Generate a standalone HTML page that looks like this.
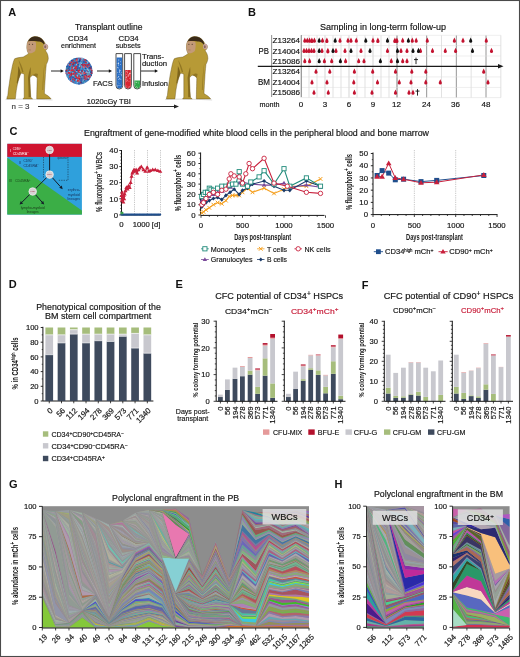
<!DOCTYPE html>
<html><head><meta charset="utf-8"><title>Figure</title>
<style>html,body{margin:0;padding:0;background:#fff;} body{width:520px;height:657px;overflow:hidden;font-family:"Liberation Sans", sans-serif;} svg{display:block;filter:blur(0.3px);}</style>
</head><body>
<svg width="520" height="657" viewBox="0 0 520 657" font-family='"Liberation Sans", sans-serif'><text x="8.3" y="15.61" font-size="11" fill="#111" font-weight="bold" >A</text>
<text x="248" y="16.31" font-size="11" fill="#111" font-weight="bold" >B</text>
<text x="9.5" y="134.81" font-size="11" fill="#111" font-weight="bold" >C</text>
<text x="8.7" y="288.31" font-size="11" fill="#111" font-weight="bold" >D</text>
<text x="175.6" y="287.51" font-size="11" fill="#111" font-weight="bold" >E</text>
<text x="361.8" y="288.81" font-size="11" fill="#111" font-weight="bold" >F</text>
<text x="8.9" y="487.51" font-size="11" fill="#111" font-weight="bold" >G</text>
<text x="334.6" y="487.61" font-size="11" fill="#111" font-weight="bold" >H</text>
<text x="108.7" y="29.72" font-size="9" text-anchor="middle" fill="#161616" stroke="#161616" stroke-width="0.18" textLength="67.5" lengthAdjust="spacingAndGlyphs" >Transplant outline</text>
<text x="78" y="40.77" font-size="8" text-anchor="middle" fill="#161616" stroke="#161616" stroke-width="0.18" textLength="20" lengthAdjust="spacingAndGlyphs" >CD34</text>
<text x="78.5" y="48.27" font-size="8" text-anchor="middle" fill="#161616" stroke="#161616" stroke-width="0.18" textLength="35" lengthAdjust="spacingAndGlyphs" >enrichment</text>
<text x="128.6" y="40.77" font-size="8" text-anchor="middle" fill="#161616" stroke="#161616" stroke-width="0.18" textLength="20" lengthAdjust="spacingAndGlyphs" >CD34</text>
<text x="128.2" y="48.27" font-size="8" text-anchor="middle" fill="#161616" stroke="#161616" stroke-width="0.18" textLength="25" lengthAdjust="spacingAndGlyphs" >subsets</text>
<text x="142" y="58.77" font-size="8" fill="#161616" stroke="#161616" stroke-width="0.18" textLength="22" lengthAdjust="spacingAndGlyphs" >Trans-</text>
<text x="142" y="66.27" font-size="8" fill="#161616" stroke="#161616" stroke-width="0.18" textLength="25" lengthAdjust="spacingAndGlyphs" >duction</text>
<text x="142" y="86.27" font-size="8" fill="#161616" stroke="#161616" stroke-width="0.18" textLength="26" lengthAdjust="spacingAndGlyphs" >Infusion</text>
<text x="93" y="86.13" font-size="7.6" fill="#161616" stroke="#161616" stroke-width="0.18" >FACS</text>
<text x="108.8" y="104.27" font-size="8" text-anchor="middle" fill="#161616" stroke="#161616" stroke-width="0.18" textLength="44" lengthAdjust="spacingAndGlyphs" >1020cGy TBI</text>
<text x="20.5" y="109.10" font-size="7.5" text-anchor="middle" fill="#444" stroke="#444" stroke-width="0.18" textLength="18" lengthAdjust="spacingAndGlyphs" >n = 3</text>
<line x1="38" y1="106.5" x2="175" y2="106.5" stroke="#161616" stroke-width="0.9" />
<path d="M179,106.5 L174,104.4 L174,108.6 Z" fill="#222"/>
<line x1="51" y1="71" x2="61.099999999999994" y2="71" stroke="#111" stroke-width="0.9" />
<path d="M63.8,71 L60.599999999999994,69.24 L60.599999999999994,72.76 Z" fill="#111"/>
<line x1="97" y1="71" x2="109.3" y2="71" stroke="#111" stroke-width="0.9" />
<path d="M112,71 L108.8,69.24 L108.8,72.76 Z" fill="#111"/>
<line x1="141" y1="71" x2="155.3" y2="71" stroke="#111" stroke-width="0.9" />
<path d="M158,71 L154.8,69.24 L154.8,72.76 Z" fill="#111"/>
<circle cx="79" cy="71" r="13.5" fill="#4a78b8"/>
<circle cx="79.7" cy="80.5" r="0.85" fill="#e05060"/>
<circle cx="86.7" cy="66.5" r="0.85" fill="#d8283a"/>
<circle cx="80.4" cy="71.6" r="0.85" fill="#7cc0e8"/>
<circle cx="78.6" cy="77.2" r="0.85" fill="#7cc0e8"/>
<circle cx="69.8" cy="68.6" r="0.85" fill="#1e4a9a"/>
<circle cx="75.8" cy="67.2" r="0.85" fill="#3a86c8"/>
<circle cx="85.3" cy="64.1" r="0.85" fill="#d8283a"/>
<circle cx="77.5" cy="68.1" r="0.85" fill="#d8283a"/>
<circle cx="90.0" cy="74.0" r="0.85" fill="#5aa0d8"/>
<circle cx="68.2" cy="72.9" r="0.85" fill="#1e4a9a"/>
<circle cx="76.2" cy="58.9" r="0.85" fill="#1e4a9a"/>
<circle cx="77.7" cy="61.3" r="0.85" fill="#3a86c8"/>
<circle cx="81.9" cy="68.2" r="0.85" fill="#3a86c8"/>
<circle cx="72.5" cy="71.2" r="0.85" fill="#1e4a9a"/>
<circle cx="81.2" cy="59.3" r="0.85" fill="#1e4a9a"/>
<circle cx="71.0" cy="70.6" r="0.85" fill="#e05060"/>
<circle cx="71.0" cy="69.2" r="0.85" fill="#c02030"/>
<circle cx="87.8" cy="65.0" r="0.85" fill="#d8283a"/>
<circle cx="87.0" cy="60.9" r="0.85" fill="#3a86c8"/>
<circle cx="76.7" cy="64.0" r="0.85" fill="#3a9ab0"/>
<circle cx="87.0" cy="65.5" r="0.85" fill="#c02030"/>
<circle cx="70.4" cy="61.5" r="0.85" fill="#5aa0d8"/>
<circle cx="78.3" cy="74.2" r="0.85" fill="#7cc0e8"/>
<circle cx="88.8" cy="77.1" r="0.85" fill="#1e4a9a"/>
<circle cx="80.5" cy="69.9" r="0.85" fill="#1e4a9a"/>
<circle cx="80.4" cy="59.0" r="0.85" fill="#d8283a"/>
<circle cx="70.1" cy="64.1" r="0.85" fill="#1e4a9a"/>
<circle cx="77.5" cy="63.7" r="0.85" fill="#5aa0d8"/>
<circle cx="66.1" cy="70.6" r="0.85" fill="#5aa0d8"/>
<circle cx="83.2" cy="71.2" r="0.85" fill="#3a9ab0"/>
<circle cx="84.6" cy="72.1" r="0.85" fill="#1e4a9a"/>
<circle cx="77.3" cy="77.4" r="0.85" fill="#d8283a"/>
<circle cx="86.5" cy="70.1" r="0.85" fill="#e05060"/>
<circle cx="90.8" cy="67.9" r="0.85" fill="#1e4a9a"/>
<circle cx="70.4" cy="79.4" r="0.85" fill="#1e4a9a"/>
<circle cx="72.8" cy="63.2" r="0.85" fill="#3a9ab0"/>
<circle cx="89.2" cy="78.6" r="0.85" fill="#3a9ab0"/>
<circle cx="77.6" cy="81.2" r="0.85" fill="#c02030"/>
<circle cx="86.9" cy="67.7" r="0.85" fill="#5aa0d8"/>
<circle cx="69.5" cy="69.7" r="0.85" fill="#d8283a"/>
<circle cx="82.1" cy="58.6" r="0.85" fill="#e05060"/>
<circle cx="89.0" cy="72.3" r="0.85" fill="#3a86c8"/>
<circle cx="88.5" cy="74.8" r="0.85" fill="#7cc0e8"/>
<circle cx="71.6" cy="80.9" r="0.85" fill="#d8283a"/>
<circle cx="76.0" cy="60.3" r="0.85" fill="#d8283a"/>
<circle cx="68.3" cy="64.3" r="0.85" fill="#d8283a"/>
<circle cx="85.3" cy="69.5" r="0.85" fill="#7cc0e8"/>
<circle cx="76.0" cy="80.5" r="0.85" fill="#3a86c8"/>
<circle cx="74.3" cy="76.4" r="0.85" fill="#e05060"/>
<circle cx="82.7" cy="65.5" r="0.85" fill="#1e4a9a"/>
<circle cx="88.2" cy="78.1" r="0.85" fill="#d8283a"/>
<circle cx="77.1" cy="66.7" r="0.85" fill="#3a9ab0"/>
<circle cx="81.0" cy="82.4" r="0.85" fill="#c02030"/>
<circle cx="74.0" cy="80.4" r="0.85" fill="#2a5cb0"/>
<circle cx="84.9" cy="75.4" r="0.85" fill="#e05060"/>
<circle cx="76.2" cy="65.6" r="0.85" fill="#3a86c8"/>
<circle cx="88.7" cy="76.4" r="0.85" fill="#c02030"/>
<circle cx="85.5" cy="65.3" r="0.85" fill="#c02030"/>
<circle cx="79.5" cy="68.7" r="0.85" fill="#c02030"/>
<circle cx="74.3" cy="81.8" r="0.85" fill="#d8283a"/>
<circle cx="81.8" cy="77.2" r="0.85" fill="#2a5cb0"/>
<circle cx="81.6" cy="63.9" r="0.85" fill="#3a86c8"/>
<circle cx="70.8" cy="75.4" r="0.85" fill="#5aa0d8"/>
<circle cx="69.0" cy="73.3" r="0.85" fill="#5aa0d8"/>
<circle cx="71.8" cy="75.0" r="0.85" fill="#1e4a9a"/>
<circle cx="79.5" cy="71.7" r="0.85" fill="#d8283a"/>
<circle cx="87.5" cy="70.3" r="0.85" fill="#c02030"/>
<circle cx="87.5" cy="72.8" r="0.85" fill="#3a9ab0"/>
<circle cx="88.3" cy="68.8" r="0.85" fill="#c02030"/>
<circle cx="86.7" cy="61.9" r="0.85" fill="#5aa0d8"/>
<circle cx="83.7" cy="75.4" r="0.85" fill="#d8283a"/>
<circle cx="87.8" cy="64.9" r="0.85" fill="#c02030"/>
<circle cx="88.7" cy="63.6" r="0.85" fill="#d8283a"/>
<circle cx="87.5" cy="73.7" r="0.85" fill="#2a5cb0"/>
<circle cx="82.3" cy="77.2" r="0.85" fill="#d8283a"/>
<circle cx="70.8" cy="69.7" r="0.85" fill="#d8283a"/>
<circle cx="82.5" cy="74.0" r="0.85" fill="#3a9ab0"/>
<circle cx="67.7" cy="72.6" r="0.85" fill="#e05060"/>
<circle cx="79.8" cy="75.4" r="0.85" fill="#2a5cb0"/>
<circle cx="84.4" cy="81.1" r="0.85" fill="#3a86c8"/>
<circle cx="79.5" cy="70.0" r="0.85" fill="#d8283a"/>
<circle cx="80.9" cy="68.8" r="0.85" fill="#5aa0d8"/>
<circle cx="79.1" cy="81.1" r="0.85" fill="#3a9ab0"/>
<circle cx="71.1" cy="75.1" r="0.85" fill="#d8283a"/>
<circle cx="86.1" cy="62.1" r="0.85" fill="#d8283a"/>
<circle cx="81.4" cy="73.4" r="0.85" fill="#d8283a"/>
<circle cx="81.3" cy="68.0" r="0.85" fill="#3a9ab0"/>
<circle cx="73.9" cy="71.3" r="0.85" fill="#2a5cb0"/>
<circle cx="72.8" cy="79.3" r="0.85" fill="#d8283a"/>
<circle cx="76.8" cy="77.3" r="0.85" fill="#e05060"/>
<circle cx="74.8" cy="73.0" r="0.85" fill="#d8283a"/>
<circle cx="77.3" cy="63.2" r="0.85" fill="#2a5cb0"/>
<circle cx="76.6" cy="69.9" r="0.85" fill="#7cc0e8"/>
<circle cx="70.0" cy="64.0" r="0.85" fill="#1e4a9a"/>
<circle cx="77.2" cy="69.0" r="0.85" fill="#1e4a9a"/>
<circle cx="88.7" cy="74.3" r="0.85" fill="#e05060"/>
<circle cx="69.6" cy="76.1" r="0.85" fill="#7cc0e8"/>
<circle cx="85.0" cy="71.7" r="0.85" fill="#5aa0d8"/>
<circle cx="77.8" cy="67.8" r="0.85" fill="#1e4a9a"/>
<circle cx="79.7" cy="75.6" r="0.85" fill="#d8283a"/>
<circle cx="86.3" cy="67.9" r="0.85" fill="#3a9ab0"/>
<circle cx="80.7" cy="64.6" r="0.85" fill="#7cc0e8"/>
<circle cx="74.4" cy="59.4" r="0.85" fill="#3a9ab0"/>
<circle cx="81.8" cy="60.8" r="0.85" fill="#e05060"/>
<circle cx="75.2" cy="69.4" r="0.85" fill="#d8283a"/>
<circle cx="77.1" cy="62.3" r="0.85" fill="#c02030"/>
<circle cx="79.4" cy="68.3" r="0.85" fill="#2a5cb0"/>
<circle cx="69.4" cy="66.9" r="0.85" fill="#1e4a9a"/>
<circle cx="79.9" cy="72.8" r="0.85" fill="#2a5cb0"/>
<circle cx="83.3" cy="71.7" r="0.85" fill="#7cc0e8"/>
<circle cx="85.5" cy="60.2" r="0.85" fill="#d8283a"/>
<circle cx="77.8" cy="74.7" r="0.85" fill="#d8283a"/>
<circle cx="68.1" cy="70.2" r="0.85" fill="#2a5cb0"/>
<circle cx="75.2" cy="69.6" r="0.85" fill="#3a9ab0"/>
<circle cx="85.8" cy="73.8" r="0.85" fill="#d8283a"/>
<circle cx="80.5" cy="74.3" r="0.85" fill="#3a86c8"/>
<circle cx="73.7" cy="64.1" r="0.85" fill="#1e4a9a"/>
<circle cx="78.8" cy="81.0" r="0.85" fill="#e05060"/>
<circle cx="67.1" cy="66.6" r="0.85" fill="#1e4a9a"/>
<circle cx="66.3" cy="71.0" r="0.85" fill="#1e4a9a"/>
<circle cx="86.0" cy="60.4" r="0.85" fill="#1e4a9a"/>
<circle cx="74.9" cy="60.5" r="0.85" fill="#3a9ab0"/>
<circle cx="77.0" cy="66.3" r="0.85" fill="#1e4a9a"/>
<circle cx="83.0" cy="68.0" r="0.85" fill="#2a5cb0"/>
<circle cx="70.0" cy="71.1" r="0.85" fill="#3a9ab0"/>
<circle cx="88.4" cy="68.0" r="0.85" fill="#3a86c8"/>
<circle cx="86.3" cy="79.5" r="0.85" fill="#3a86c8"/>
<circle cx="72.8" cy="67.3" r="0.85" fill="#c02030"/>
<circle cx="84.6" cy="63.4" r="0.85" fill="#5aa0d8"/>
<circle cx="73.3" cy="60.5" r="0.85" fill="#d8283a"/>
<circle cx="85.0" cy="63.2" r="0.85" fill="#5aa0d8"/>
<circle cx="84.5" cy="66.4" r="0.85" fill="#5aa0d8"/>
<circle cx="71.1" cy="72.0" r="0.85" fill="#3a86c8"/>
<circle cx="73.3" cy="68.3" r="0.85" fill="#7cc0e8"/>
<circle cx="79.7" cy="66.2" r="0.85" fill="#7cc0e8"/>
<circle cx="77.2" cy="65.4" r="0.85" fill="#d8283a"/>
<circle cx="84.9" cy="60.9" r="0.85" fill="#3a9ab0"/>
<circle cx="91.7" cy="73.2" r="0.85" fill="#2a5cb0"/>
<circle cx="84.1" cy="64.6" r="0.85" fill="#d8283a"/>
<circle cx="72.9" cy="72.3" r="0.85" fill="#c02030"/>
<circle cx="72.2" cy="61.9" r="0.85" fill="#2a5cb0"/>
<circle cx="90.5" cy="67.9" r="0.85" fill="#c02030"/>
<circle cx="87.8" cy="63.8" r="0.85" fill="#3a86c8"/>
<circle cx="83.2" cy="81.0" r="0.85" fill="#d8283a"/>
<circle cx="84.3" cy="67.2" r="0.85" fill="#d8283a"/>
<circle cx="75.7" cy="78.7" r="0.85" fill="#2a5cb0"/>
<circle cx="83.9" cy="75.5" r="0.85" fill="#5aa0d8"/>
<circle cx="87.5" cy="73.0" r="0.85" fill="#e05060"/>
<circle cx="86.5" cy="71.3" r="0.85" fill="#1e4a9a"/>
<circle cx="76.4" cy="73.5" r="0.85" fill="#d8283a"/>
<circle cx="78.6" cy="62.0" r="0.85" fill="#3a86c8"/>
<circle cx="74.7" cy="69.8" r="0.85" fill="#5aa0d8"/>
<circle cx="86.5" cy="74.9" r="0.85" fill="#7cc0e8"/>
<circle cx="88.3" cy="63.0" r="0.85" fill="#2a5cb0"/>
<circle cx="68.4" cy="69.1" r="0.85" fill="#e05060"/>
<circle cx="79.3" cy="64.0" r="0.85" fill="#5aa0d8"/>
<circle cx="88.8" cy="78.8" r="0.85" fill="#e05060"/>
<circle cx="74.6" cy="62.6" r="0.85" fill="#2a5cb0"/>
<circle cx="74.4" cy="63.0" r="0.85" fill="#d8283a"/>
<circle cx="76.9" cy="60.6" r="0.85" fill="#d8283a"/>
<circle cx="78.5" cy="60.6" r="0.85" fill="#3a86c8"/>
<circle cx="84.2" cy="82.0" r="0.85" fill="#7cc0e8"/>
<circle cx="87.9" cy="79.7" r="0.85" fill="#3a86c8"/>
<circle cx="88.1" cy="66.1" r="0.85" fill="#d8283a"/>
<circle cx="72.8" cy="74.4" r="0.85" fill="#3a86c8"/>
<circle cx="72.0" cy="72.9" r="0.85" fill="#3a86c8"/>
<circle cx="77.8" cy="66.9" r="0.85" fill="#3a86c8"/>
<circle cx="79.3" cy="61.5" r="0.85" fill="#1e4a9a"/>
<circle cx="74.8" cy="76.1" r="0.85" fill="#1e4a9a"/>
<circle cx="83.5" cy="72.6" r="0.85" fill="#7cc0e8"/>
<circle cx="72.6" cy="70.8" r="0.85" fill="#3a9ab0"/>
<circle cx="74.5" cy="76.9" r="0.85" fill="#1e4a9a"/>
<circle cx="68.0" cy="74.7" r="0.85" fill="#2a5cb0"/>
<circle cx="71.8" cy="80.5" r="0.85" fill="#2a5cb0"/>
<circle cx="84.7" cy="79.1" r="0.85" fill="#2a5cb0"/>
<circle cx="67.7" cy="66.2" r="0.85" fill="#2a5cb0"/>
<circle cx="81.2" cy="76.1" r="0.85" fill="#1e4a9a"/>
<circle cx="75.1" cy="63.9" r="0.85" fill="#3a86c8"/>
<circle cx="74.9" cy="68.3" r="0.85" fill="#1e4a9a"/>
<circle cx="81.8" cy="61.9" r="0.85" fill="#3a86c8"/>
<circle cx="73.7" cy="68.6" r="0.85" fill="#5aa0d8"/>
<circle cx="74.2" cy="76.1" r="0.85" fill="#7cc0e8"/>
<circle cx="88.7" cy="63.1" r="0.85" fill="#1e4a9a"/>
<circle cx="74.1" cy="82.2" r="0.85" fill="#5aa0d8"/>
<circle cx="70.5" cy="61.5" r="0.85" fill="#5aa0d8"/>
<circle cx="87.4" cy="64.6" r="0.85" fill="#d8283a"/>
<circle cx="70.2" cy="64.5" r="0.85" fill="#d8283a"/>
<circle cx="87.8" cy="78.0" r="0.85" fill="#c02030"/>
<circle cx="69.7" cy="71.5" r="0.85" fill="#7cc0e8"/>
<circle cx="82.6" cy="81.8" r="0.85" fill="#c02030"/>
<circle cx="87.9" cy="73.1" r="0.85" fill="#7cc0e8"/>
<circle cx="84.2" cy="75.4" r="0.85" fill="#3a86c8"/>
<circle cx="86.6" cy="79.6" r="0.85" fill="#d8283a"/>
<circle cx="80.8" cy="70.0" r="0.85" fill="#d8283a"/>
<circle cx="79.4" cy="74.6" r="0.85" fill="#3a9ab0"/>
<circle cx="86.5" cy="71.9" r="0.85" fill="#e05060"/>
<circle cx="86.4" cy="63.2" r="0.85" fill="#3a86c8"/>
<circle cx="89.3" cy="76.7" r="0.85" fill="#d8283a"/>
<circle cx="76.6" cy="60.2" r="0.85" fill="#e05060"/>
<circle cx="84.8" cy="70.9" r="0.85" fill="#2a5cb0"/>
<circle cx="84.5" cy="64.5" r="0.85" fill="#c02030"/>
<circle cx="74.8" cy="71.4" r="0.85" fill="#d8283a"/>
<circle cx="69.0" cy="77.5" r="0.85" fill="#3a86c8"/>
<circle cx="72.1" cy="76.6" r="0.85" fill="#2a5cb0"/>
<circle cx="70.8" cy="69.0" r="0.85" fill="#7cc0e8"/>
<circle cx="76.0" cy="79.3" r="0.85" fill="#1e4a9a"/>
<circle cx="70.9" cy="74.3" r="0.85" fill="#d8283a"/>
<circle cx="77.5" cy="63.3" r="0.85" fill="#e05060"/>
<circle cx="71.7" cy="73.5" r="0.85" fill="#1e4a9a"/>
<circle cx="79.1" cy="71.7" r="0.85" fill="#c02030"/>
<circle cx="78.6" cy="78.8" r="0.85" fill="#7cc0e8"/>
<circle cx="74.0" cy="69.9" r="0.85" fill="#d8283a"/>
<circle cx="82.9" cy="78.2" r="0.85" fill="#3a86c8"/>
<circle cx="75.9" cy="67.4" r="0.85" fill="#d8283a"/>
<circle cx="83.4" cy="78.9" r="0.85" fill="#d8283a"/>
<circle cx="83.5" cy="64.1" r="0.85" fill="#e05060"/>
<circle cx="69.9" cy="76.9" r="0.85" fill="#d8283a"/>
<circle cx="79.2" cy="73.5" r="0.85" fill="#7cc0e8"/>
<circle cx="91.5" cy="73.1" r="0.85" fill="#c02030"/>
<circle cx="79.4" cy="79.0" r="0.85" fill="#c02030"/>
<circle cx="84.2" cy="79.8" r="0.85" fill="#e05060"/>
<circle cx="87.5" cy="65.8" r="0.85" fill="#5aa0d8"/>
<circle cx="77.2" cy="82.3" r="0.85" fill="#7cc0e8"/>
<circle cx="82.1" cy="58.7" r="0.85" fill="#7cc0e8"/>
<circle cx="79.0" cy="77.7" r="0.85" fill="#e05060"/>
<circle cx="73.8" cy="65.5" r="0.85" fill="#2a5cb0"/>
<circle cx="87.0" cy="74.0" r="0.85" fill="#2a5cb0"/>
<circle cx="78.3" cy="70.6" r="0.85" fill="#d8283a"/>
<circle cx="78.2" cy="69.4" r="0.85" fill="#3a9ab0"/>
<circle cx="81.9" cy="71.7" r="0.85" fill="#3a9ab0"/>
<circle cx="83.7" cy="67.6" r="0.85" fill="#7cc0e8"/>
<circle cx="74.2" cy="78.5" r="0.85" fill="#e05060"/>
<circle cx="81.2" cy="70.1" r="0.85" fill="#5aa0d8"/>
<circle cx="79.1" cy="60.7" r="0.85" fill="#1e4a9a"/>
<circle cx="85.0" cy="74.7" r="0.85" fill="#1e4a9a"/>
<circle cx="85.1" cy="76.3" r="0.85" fill="#e05060"/>
<circle cx="67.9" cy="68.4" r="0.85" fill="#1e4a9a"/>
<circle cx="84.1" cy="80.9" r="0.85" fill="#1e4a9a"/>
<circle cx="83.9" cy="62.8" r="0.85" fill="#3a86c8"/>
<circle cx="73.6" cy="77.3" r="0.85" fill="#c02030"/>
<circle cx="68.8" cy="74.7" r="0.85" fill="#e05060"/>
<circle cx="78.4" cy="76.3" r="0.85" fill="#d8283a"/>
<circle cx="88.3" cy="65.5" r="0.85" fill="#7cc0e8"/>
<circle cx="84.2" cy="72.4" r="0.85" fill="#d8283a"/>
<circle cx="80.7" cy="67.5" r="0.85" fill="#2a5cb0"/>
<circle cx="74.7" cy="80.0" r="0.85" fill="#d8283a"/>
<circle cx="87.7" cy="62.7" r="0.85" fill="#7cc0e8"/>
<circle cx="67.2" cy="73.5" r="0.85" fill="#e05060"/>
<circle cx="79.5" cy="71.0" r="0.85" fill="#c02030"/>
<circle cx="68.8" cy="78.5" r="0.85" fill="#2a5cb0"/>
<circle cx="75.2" cy="77.1" r="0.85" fill="#7cc0e8"/>
<circle cx="88.1" cy="76.1" r="0.85" fill="#c02030"/>
<circle cx="74.2" cy="59.2" r="0.85" fill="#3a86c8"/>
<circle cx="77.8" cy="70.3" r="0.85" fill="#c02030"/>
<circle cx="77.6" cy="76.7" r="0.85" fill="#3a9ab0"/>
<circle cx="69.9" cy="70.1" r="0.85" fill="#d8283a"/>
<circle cx="73.9" cy="82.0" r="0.85" fill="#c02030"/>
<circle cx="69.0" cy="73.1" r="0.85" fill="#d8283a"/>
<circle cx="81.0" cy="67.2" r="0.85" fill="#d8283a"/>
<circle cx="81.6" cy="67.8" r="0.85" fill="#5aa0d8"/>
<circle cx="86.6" cy="75.5" r="0.85" fill="#c02030"/>
<circle cx="83.9" cy="61.5" r="0.85" fill="#2a5cb0"/>
<circle cx="71.9" cy="62.2" r="0.85" fill="#e05060"/>
<circle cx="70.4" cy="77.0" r="0.85" fill="#2a5cb0"/>
<circle cx="75.7" cy="83.1" r="0.85" fill="#7cc0e8"/>
<circle cx="81.3" cy="65.6" r="0.85" fill="#3a9ab0"/>
<circle cx="86.0" cy="71.3" r="0.85" fill="#2a5cb0"/>
<circle cx="75.9" cy="75.7" r="0.85" fill="#2a5cb0"/>
<circle cx="88.5" cy="66.1" r="0.85" fill="#e05060"/>
<circle cx="69.8" cy="75.8" r="0.85" fill="#d8283a"/>
<circle cx="72.6" cy="70.2" r="0.85" fill="#d8283a"/>
<circle cx="74.7" cy="78.3" r="0.85" fill="#2a5cb0"/>
<circle cx="79.0" cy="78.3" r="0.85" fill="#c02030"/>
<circle cx="77.2" cy="59.1" r="0.85" fill="#d8283a"/>
<circle cx="68.4" cy="73.5" r="0.85" fill="#1e4a9a"/>
<circle cx="75.2" cy="75.2" r="0.85" fill="#d8283a"/>
<circle cx="87.5" cy="68.2" r="0.85" fill="#1e4a9a"/>
<circle cx="69.3" cy="72.9" r="0.85" fill="#d8283a"/>
<circle cx="75.7" cy="83.0" r="0.85" fill="#3a86c8"/>
<circle cx="80.7" cy="69.6" r="0.85" fill="#3a86c8"/>
<circle cx="76.4" cy="79.9" r="0.85" fill="#7cc0e8"/>
<circle cx="89.8" cy="73.8" r="0.85" fill="#5aa0d8"/>
<circle cx="76.5" cy="71.1" r="0.85" fill="#7cc0e8"/>
<circle cx="78.4" cy="59.9" r="0.85" fill="#5aa0d8"/>
<circle cx="84.4" cy="77.7" r="0.85" fill="#1e4a9a"/>
<circle cx="73.5" cy="73.0" r="0.85" fill="#7cc0e8"/>
<circle cx="79.9" cy="60.2" r="0.85" fill="#1e4a9a"/>
<circle cx="91.0" cy="69.5" r="0.85" fill="#e05060"/>
<circle cx="86.9" cy="68.0" r="0.85" fill="#7cc0e8"/>
<circle cx="66.3" cy="73.1" r="0.85" fill="#c02030"/>
<circle cx="71.4" cy="80.2" r="0.85" fill="#5aa0d8"/>
<circle cx="86.7" cy="72.4" r="0.85" fill="#e05060"/>
<circle cx="81.5" cy="64.4" r="0.85" fill="#c02030"/>
<circle cx="87.4" cy="67.0" r="0.85" fill="#d8283a"/>
<circle cx="85.4" cy="77.9" r="0.85" fill="#3a9ab0"/>
<circle cx="91.5" cy="72.6" r="0.85" fill="#d8283a"/>
<circle cx="82.2" cy="81.8" r="0.85" fill="#7cc0e8"/>
<circle cx="71.2" cy="81.0" r="0.85" fill="#e05060"/>
<circle cx="81.4" cy="70.7" r="0.85" fill="#3a86c8"/>
<circle cx="79.5" cy="77.8" r="0.85" fill="#e05060"/>
<circle cx="84.1" cy="62.4" r="0.85" fill="#2a5cb0"/>
<circle cx="72.7" cy="73.0" r="0.85" fill="#7cc0e8"/>
<circle cx="73.3" cy="74.2" r="0.85" fill="#d8283a"/>
<circle cx="81.4" cy="71.5" r="0.85" fill="#3a86c8"/>
<circle cx="88.9" cy="64.9" r="0.85" fill="#c02030"/>
<circle cx="89.7" cy="67.8" r="0.85" fill="#1e4a9a"/>
<circle cx="67.3" cy="70.3" r="0.85" fill="#3a9ab0"/>
<circle cx="80.1" cy="72.2" r="0.85" fill="#d8283a"/>
<circle cx="89.3" cy="72.1" r="0.85" fill="#7cc0e8"/>
<circle cx="68.7" cy="73.1" r="0.85" fill="#d8283a"/>
<circle cx="71.2" cy="70.2" r="0.85" fill="#3a86c8"/>
<circle cx="78.0" cy="74.4" r="0.85" fill="#3a86c8"/>
<circle cx="88.5" cy="70.5" r="0.85" fill="#1e4a9a"/>
<circle cx="80.3" cy="62.5" r="0.85" fill="#5aa0d8"/>
<circle cx="81.8" cy="62.8" r="0.85" fill="#3a9ab0"/>
<circle cx="83.1" cy="77.0" r="0.85" fill="#3a9ab0"/>
<circle cx="87.7" cy="73.1" r="0.85" fill="#c02030"/>
<circle cx="84.8" cy="60.0" r="0.85" fill="#d8283a"/>
<circle cx="77.9" cy="78.2" r="0.85" fill="#d8283a"/>
<circle cx="70.4" cy="68.2" r="0.85" fill="#5aa0d8"/>
<circle cx="81.5" cy="60.1" r="0.85" fill="#5aa0d8"/>
<circle cx="87.4" cy="77.3" r="0.85" fill="#e05060"/>
<circle cx="87.8" cy="72.9" r="0.85" fill="#7cc0e8"/>
<circle cx="83.2" cy="82.6" r="0.85" fill="#3a86c8"/>
<circle cx="71.9" cy="60.7" r="0.85" fill="#1e4a9a"/>
<circle cx="76.3" cy="77.1" r="0.85" fill="#d8283a"/>
<circle cx="85.8" cy="68.5" r="0.85" fill="#1e4a9a"/>
<circle cx="76.7" cy="70.2" r="0.85" fill="#1e4a9a"/>
<circle cx="79.0" cy="83.8" r="0.85" fill="#2a5cb0"/>
<circle cx="66.4" cy="71.4" r="0.85" fill="#2a5cb0"/>
<circle cx="77.6" cy="66.9" r="0.85" fill="#2a5cb0"/>
<circle cx="71.1" cy="62.4" r="0.85" fill="#d8283a"/>
<circle cx="90.9" cy="66.5" r="0.85" fill="#2a5cb0"/>
<circle cx="67.4" cy="76.4" r="0.85" fill="#7cc0e8"/>
<circle cx="77.9" cy="80.5" r="0.85" fill="#d8283a"/>
<circle cx="83.1" cy="79.0" r="0.85" fill="#3a86c8"/>
<circle cx="86.6" cy="80.7" r="0.85" fill="#3a86c8"/>
<circle cx="75.8" cy="62.8" r="0.85" fill="#1e4a9a"/>
<circle cx="76.1" cy="67.1" r="0.85" fill="#d8283a"/>
<circle cx="83.3" cy="80.2" r="0.85" fill="#5aa0d8"/>
<circle cx="83.3" cy="81.9" r="0.85" fill="#3a86c8"/>
<circle cx="91.1" cy="74.8" r="0.85" fill="#3a9ab0"/>
<circle cx="81.5" cy="82.1" r="0.85" fill="#1e4a9a"/>
<circle cx="69.1" cy="79.2" r="0.85" fill="#5aa0d8"/>
<circle cx="82.5" cy="73.7" r="0.85" fill="#5aa0d8"/>
<circle cx="84.3" cy="76.5" r="0.85" fill="#d8283a"/>
<circle cx="84.0" cy="73.6" r="0.85" fill="#e05060"/>
<circle cx="91.8" cy="70.8" r="0.85" fill="#c02030"/>
<circle cx="87.8" cy="74.7" r="0.85" fill="#7cc0e8"/>
<circle cx="88.4" cy="78.2" r="0.85" fill="#7cc0e8"/>
<circle cx="86.5" cy="72.0" r="0.85" fill="#7cc0e8"/>
<circle cx="71.0" cy="67.3" r="0.85" fill="#3a9ab0"/>
<circle cx="77.3" cy="75.7" r="0.85" fill="#7cc0e8"/>
<circle cx="81.9" cy="66.0" r="0.85" fill="#d8283a"/>
<circle cx="75.8" cy="81.7" r="0.85" fill="#3a86c8"/>
<circle cx="75.3" cy="82.4" r="0.85" fill="#3a86c8"/>
<circle cx="74.2" cy="81.8" r="0.85" fill="#3a86c8"/>
<circle cx="91.1" cy="75.2" r="0.85" fill="#1e4a9a"/>
<circle cx="74.9" cy="67.4" r="0.85" fill="#d8283a"/>
<circle cx="91.0" cy="72.1" r="0.85" fill="#1e4a9a"/>
<circle cx="89.7" cy="70.4" r="0.85" fill="#3a9ab0"/>
<circle cx="76.8" cy="64.6" r="0.85" fill="#7cc0e8"/>
<circle cx="70.7" cy="68.8" r="0.85" fill="#3a86c8"/>
<circle cx="73.9" cy="67.8" r="0.85" fill="#7cc0e8"/>
<circle cx="71.1" cy="70.7" r="0.85" fill="#e05060"/>
<circle cx="69.9" cy="65.1" r="0.85" fill="#e05060"/>
<circle cx="86.6" cy="62.0" r="0.85" fill="#5aa0d8"/>
<circle cx="86.0" cy="69.9" r="0.85" fill="#3a86c8"/>
<circle cx="85.5" cy="77.4" r="0.85" fill="#e05060"/>
<circle cx="78.1" cy="64.6" r="0.85" fill="#1e4a9a"/>
<circle cx="87.5" cy="69.2" r="0.85" fill="#7cc0e8"/>
<circle cx="73.2" cy="80.9" r="0.85" fill="#3a86c8"/>
<circle cx="88.3" cy="70.2" r="0.85" fill="#7cc0e8"/>
<circle cx="81.9" cy="70.9" r="0.85" fill="#1e4a9a"/>
<circle cx="68.4" cy="76.4" r="0.85" fill="#5aa0d8"/>
<circle cx="90.1" cy="75.3" r="0.85" fill="#1e4a9a"/>
<circle cx="79.9" cy="74.4" r="0.85" fill="#3a9ab0"/>
<circle cx="81.1" cy="80.3" r="0.85" fill="#2a5cb0"/>
<circle cx="68.1" cy="76.0" r="0.85" fill="#3a9ab0"/>
<circle cx="74.4" cy="76.4" r="0.85" fill="#3a9ab0"/>
<circle cx="73.1" cy="77.2" r="0.85" fill="#2a5cb0"/>
<circle cx="74.7" cy="68.5" r="0.85" fill="#c02030"/>
<circle cx="82.3" cy="71.0" r="0.85" fill="#d8283a"/>
<circle cx="81.4" cy="73.8" r="0.85" fill="#e05060"/>
<circle cx="73.7" cy="73.3" r="0.85" fill="#d8283a"/>
<circle cx="67.0" cy="68.0" r="0.85" fill="#3a9ab0"/>
<circle cx="71.7" cy="73.7" r="0.85" fill="#c02030"/>
<circle cx="69.1" cy="74.8" r="0.85" fill="#2a5cb0"/>
<circle cx="66.6" cy="70.3" r="0.85" fill="#c02030"/>
<circle cx="67.0" cy="72.9" r="0.85" fill="#5aa0d8"/>
<circle cx="74.8" cy="69.6" r="0.85" fill="#3a86c8"/>
<circle cx="75.9" cy="68.8" r="0.85" fill="#d8283a"/>
<circle cx="81.3" cy="63.3" r="0.85" fill="#7cc0e8"/>
<circle cx="81.7" cy="66.2" r="0.85" fill="#5aa0d8"/>
<circle cx="82.7" cy="75.5" r="0.85" fill="#1e4a9a"/>
<circle cx="68.2" cy="64.5" r="0.85" fill="#5aa0d8"/>
<circle cx="75.3" cy="72.6" r="0.85" fill="#2a5cb0"/>
<circle cx="90.1" cy="75.8" r="0.85" fill="#e05060"/>
<circle cx="80.2" cy="71.5" r="0.85" fill="#7cc0e8"/>
<circle cx="87.7" cy="65.7" r="0.85" fill="#2a5cb0"/>
<circle cx="82.4" cy="64.4" r="0.85" fill="#1e4a9a"/>
<circle cx="83.5" cy="66.8" r="0.85" fill="#e05060"/>
<circle cx="81.4" cy="78.7" r="0.85" fill="#2a5cb0"/>
<circle cx="87.8" cy="74.0" r="0.85" fill="#3a9ab0"/>
<circle cx="69.3" cy="69.5" r="0.85" fill="#2a5cb0"/>
<circle cx="84.0" cy="81.6" r="0.85" fill="#3a9ab0"/>
<circle cx="73.0" cy="75.6" r="0.85" fill="#7cc0e8"/>
<circle cx="74.0" cy="63.0" r="0.85" fill="#c02030"/>
<circle cx="72.2" cy="67.7" r="0.85" fill="#d8283a"/>
<circle cx="85.3" cy="78.0" r="0.85" fill="#d8283a"/>
<circle cx="71.8" cy="70.2" r="0.85" fill="#d8283a"/>
<circle cx="85.9" cy="62.4" r="0.85" fill="#c02030"/>
<circle cx="68.6" cy="74.6" r="0.85" fill="#5aa0d8"/>
<circle cx="72.8" cy="64.4" r="0.85" fill="#c02030"/>
<circle cx="80.7" cy="74.8" r="0.85" fill="#7cc0e8"/>
<circle cx="88.0" cy="79.4" r="0.85" fill="#1e4a9a"/>
<circle cx="83.0" cy="64.9" r="0.85" fill="#d8283a"/>
<circle cx="76.0" cy="76.7" r="0.85" fill="#d8283a"/>
<circle cx="79.6" cy="78.8" r="0.85" fill="#c02030"/>
<circle cx="81.8" cy="76.8" r="0.85" fill="#5aa0d8"/>
<path d="M116,53.6 L116,85.65 A3.3500000000000014,3.3500000000000014 0 0 0 122.7,85.65 L122.7,53.6 Z" fill="#fff" stroke="#3a3a3a" stroke-width="0.9"/>
<path d="M116.6,57.5 L116.6,85.65 A2.7500000000000013,2.7500000000000013 0 0 0 122.10000000000001,85.65 L122.10000000000001,57.5 Z" fill="#2b6fc4"/>
<circle cx="117.2" cy="86.5" r="0.45" fill="#fff" opacity="0.75"/>
<circle cx="120.4" cy="64.5" r="0.45" fill="#fff" opacity="0.75"/>
<circle cx="118.4" cy="63.5" r="0.45" fill="#fff" opacity="0.75"/>
<circle cx="117.8" cy="72.5" r="0.45" fill="#fff" opacity="0.75"/>
<circle cx="118.0" cy="82.0" r="0.45" fill="#fff" opacity="0.75"/>
<circle cx="118.7" cy="65.2" r="0.45" fill="#fff" opacity="0.75"/>
<circle cx="120.2" cy="73.9" r="0.45" fill="#fff" opacity="0.75"/>
<circle cx="119.8" cy="70.8" r="0.45" fill="#fff" opacity="0.75"/>
<circle cx="117.8" cy="67.3" r="0.45" fill="#fff" opacity="0.75"/>
<circle cx="118.8" cy="60.8" r="0.45" fill="#fff" opacity="0.75"/>
<circle cx="119.5" cy="71.8" r="0.45" fill="#fff" opacity="0.75"/>
<circle cx="117.1" cy="63.6" r="0.45" fill="#fff" opacity="0.75"/>
<circle cx="119.4" cy="70.7" r="0.45" fill="#fff" opacity="0.75"/>
<circle cx="119.3" cy="69.8" r="0.45" fill="#fff" opacity="0.75"/>
<circle cx="119.4" cy="72.6" r="0.45" fill="#fff" opacity="0.75"/>
<circle cx="118.9" cy="76.5" r="0.45" fill="#fff" opacity="0.75"/>
<circle cx="120.6" cy="61.8" r="0.45" fill="#fff" opacity="0.75"/>
<circle cx="119.0" cy="83.6" r="0.45" fill="#fff" opacity="0.75"/>
<circle cx="117.7" cy="67.8" r="0.45" fill="#fff" opacity="0.75"/>
<circle cx="118.6" cy="62.8" r="0.45" fill="#fff" opacity="0.75"/>
<circle cx="118.4" cy="76.7" r="0.45" fill="#fff" opacity="0.75"/>
<circle cx="117.7" cy="85.2" r="0.45" fill="#fff" opacity="0.75"/>
<circle cx="118.8" cy="59.7" r="0.45" fill="#fff" opacity="0.75"/>
<circle cx="118.6" cy="76.9" r="0.45" fill="#fff" opacity="0.75"/>
<circle cx="119.9" cy="78.9" r="0.45" fill="#fff" opacity="0.75"/>
<circle cx="121.6" cy="75.7" r="0.45" fill="#fff" opacity="0.75"/>
<circle cx="119.7" cy="78.2" r="0.45" fill="#fff" opacity="0.75"/>
<circle cx="118.4" cy="67.9" r="0.45" fill="#fff" opacity="0.75"/>
<circle cx="118.9" cy="85.3" r="0.45" fill="#fff" opacity="0.75"/>
<circle cx="120.1" cy="85.3" r="0.45" fill="#fff" opacity="0.75"/>
<circle cx="119.0" cy="74.7" r="0.45" fill="#fff" opacity="0.75"/>
<circle cx="120.6" cy="70.8" r="0.45" fill="#fff" opacity="0.75"/>
<circle cx="118.7" cy="63.8" r="0.45" fill="#fff" opacity="0.75"/>
<circle cx="118.4" cy="64.0" r="0.45" fill="#fff" opacity="0.75"/>
<circle cx="120.9" cy="79.2" r="0.45" fill="#fff" opacity="0.75"/>
<circle cx="118.5" cy="63.2" r="0.45" fill="#fff" opacity="0.75"/>
<circle cx="121.3" cy="72.6" r="0.45" fill="#fff" opacity="0.75"/>
<circle cx="119.5" cy="72.0" r="0.45" fill="#fff" opacity="0.75"/>
<circle cx="121.3" cy="74.5" r="0.45" fill="#fff" opacity="0.75"/>
<circle cx="118.7" cy="79.5" r="0.45" fill="#fff" opacity="0.75"/>
<circle cx="119.9" cy="78.9" r="0.45" fill="#fff" opacity="0.75"/>
<circle cx="117.8" cy="77.8" r="0.45" fill="#fff" opacity="0.75"/>
<path d="M124.6,53.6 L124.6,85.6 A3.4000000000000057,3.4000000000000057 0 0 0 131.4,85.6 L131.4,53.6 Z" fill="#fff" stroke="#3a3a3a" stroke-width="0.9"/>
<path d="M125.19999999999999,70 L125.19999999999999,85.6 A2.8000000000000056,2.8000000000000056 0 0 0 130.8,85.6 L130.8,70 Z" fill="#d8252f"/>
<circle cx="126.2" cy="80.1" r="0.45" fill="#fff" opacity="0.75"/>
<circle cx="126.2" cy="77.4" r="0.45" fill="#fff" opacity="0.75"/>
<circle cx="128.3" cy="76.2" r="0.45" fill="#fff" opacity="0.75"/>
<circle cx="126.9" cy="78.9" r="0.45" fill="#fff" opacity="0.75"/>
<circle cx="128.9" cy="74.8" r="0.45" fill="#fff" opacity="0.75"/>
<circle cx="126.9" cy="74.5" r="0.45" fill="#fff" opacity="0.75"/>
<circle cx="126.1" cy="77.1" r="0.45" fill="#fff" opacity="0.75"/>
<circle cx="126.3" cy="77.1" r="0.45" fill="#fff" opacity="0.75"/>
<circle cx="128.9" cy="75.4" r="0.45" fill="#fff" opacity="0.75"/>
<circle cx="129.3" cy="86.6" r="0.45" fill="#fff" opacity="0.75"/>
<circle cx="128.8" cy="75.1" r="0.45" fill="#fff" opacity="0.75"/>
<circle cx="126.8" cy="76.7" r="0.45" fill="#fff" opacity="0.75"/>
<circle cx="127.2" cy="72.8" r="0.45" fill="#fff" opacity="0.75"/>
<circle cx="129.8" cy="73.2" r="0.45" fill="#fff" opacity="0.75"/>
<circle cx="126.0" cy="87.2" r="0.45" fill="#fff" opacity="0.75"/>
<circle cx="127.2" cy="72.9" r="0.45" fill="#fff" opacity="0.75"/>
<circle cx="129.6" cy="73.3" r="0.45" fill="#fff" opacity="0.75"/>
<circle cx="125.8" cy="79.1" r="0.45" fill="#fff" opacity="0.75"/>
<circle cx="130.4" cy="73.2" r="0.45" fill="#fff" opacity="0.75"/>
<circle cx="129.9" cy="78.3" r="0.45" fill="#fff" opacity="0.75"/>
<circle cx="127.7" cy="80.3" r="0.45" fill="#fff" opacity="0.75"/>
<circle cx="128.4" cy="87.1" r="0.45" fill="#fff" opacity="0.75"/>
<circle cx="127.7" cy="75.9" r="0.45" fill="#fff" opacity="0.75"/>
<circle cx="126.9" cy="85.9" r="0.45" fill="#fff" opacity="0.75"/>
<circle cx="126.3" cy="71.5" r="0.45" fill="#fff" opacity="0.75"/>
<circle cx="127.7" cy="71.0" r="0.45" fill="#fff" opacity="0.75"/>
<circle cx="129.4" cy="73.2" r="0.45" fill="#fff" opacity="0.75"/>
<circle cx="129.1" cy="74.4" r="0.45" fill="#fff" opacity="0.75"/>
<circle cx="129.0" cy="81.6" r="0.45" fill="#fff" opacity="0.75"/>
<circle cx="126.8" cy="81.4" r="0.45" fill="#fff" opacity="0.75"/>
<path d="M133.8,53.6 L133.8,85.60000000000001 A3.3999999999999915,3.3999999999999915 0 0 0 140.6,85.60000000000001 L140.6,53.6 Z" fill="#fff" stroke="#3a3a3a" stroke-width="0.9"/>
<path d="M134.4,80.5 L134.4,85.60000000000001 A2.7999999999999914,2.7999999999999914 0 0 0 140.0,85.60000000000001 L140.0,80.5 Z" fill="#2fa84a"/>
<circle cx="137.5" cy="87.3" r="0.45" fill="#fff" opacity="0.75"/>
<circle cx="136.5" cy="82.2" r="0.45" fill="#fff" opacity="0.75"/>
<circle cx="135.8" cy="87.2" r="0.45" fill="#fff" opacity="0.75"/>
<circle cx="135.2" cy="84.1" r="0.45" fill="#fff" opacity="0.75"/>
<circle cx="136.2" cy="82.2" r="0.45" fill="#fff" opacity="0.75"/>
<circle cx="136.4" cy="86.4" r="0.45" fill="#fff" opacity="0.75"/>
<circle cx="138.3" cy="83.1" r="0.45" fill="#fff" opacity="0.75"/>
<circle cx="135.2" cy="82.0" r="0.45" fill="#fff" opacity="0.75"/>
<circle cx="138.1" cy="82.1" r="0.45" fill="#fff" opacity="0.75"/>

<g transform="translate(0,0)">
<path d="M5.5,99.6 C15,98.9 35,99 52.5,100" stroke="#c8c8c8" stroke-width="0.9" fill="none" opacity="0.7"/>
<path d="M34.5,36.6 C38,36.4 41.5,37.8 43.2,40.5 C44.5,42 45.3,43.5 45.6,44.5 C47.5,44.2 48.3,46.5 47.5,48.3 C47,49.3 46.2,50 45.5,50.8 C47,52.5 48.2,55 48.3,58.5 C48,61.5 46.8,63.2 46.3,64.6 C45.8,70 45.4,74 45.3,77.1 C44.9,83 44.5,89 44.4,93.5 C46.5,95 49.5,96.5 51.1,98.9 L36.7,98.9 C36.8,94 37,85 37.2,78 C36,76.2 34.2,75.2 32.8,75.2 C31.4,75.8 30.3,76.8 29.9,78 C30.1,85 30.4,92 30.8,97.3 L32.6,98.9 L23,98.9 L24.2,97.3 C24.2,90 24.2,82 24.2,74.2 C23,73.5 21.8,73.1 20.8,73.3 C19.5,77 18.3,80 17.5,83.8 C16.6,88 15.8,93 15.5,97.5 L15.3,98.9 L6.8,98.9 C7,97 7.4,96 7.8,95.4 C8.2,91 8.7,87 9.3,83.8 C10,78 10.8,73 11.7,69.4 C12.5,65 13.3,61.5 14.6,58.8 C17,57.6 20.5,57.4 23.2,57 C24.5,56.2 25.5,55.7 26.2,55.3 C27,54.6 27.8,54 28.5,53.4 C27.2,51.5 26.6,48.5 26.9,46 C27,44 27.3,42.8 27.8,41.8 C29.3,38.5 31.5,36.8 34.5,36.6 Z" fill="#b79a36" stroke="#5e4a14" stroke-width="0.4"/>
<path d="M29.9,78 C30.1,85 30.4,92 30.8,97.3 L28.6,97.3 C28.6,90 28.4,84 28,78 C28.5,74 29.5,70 30.5,67 C31,71 30.8,75 29.9,78 Z" fill="#7a6018" opacity="0.8"/>
<path d="M20.8,73.3 C19.5,77 18.3,80 17.5,83.8 L16.7,83 C17.5,78 18.2,72 18.3,66 C19.5,68 20.3,71 20.8,73.3 Z" fill="#6e5616" opacity="0.8"/>
<path d="M18.5,60 C20.5,63 22.5,67 23.5,72 L22.3,72.5 C21,68 19.5,64 18.5,60 Z" fill="#7a6018" opacity="0.6"/>
<path d="M37.2,78 C36,76.2 34.2,75.2 32.8,75.2 C34.5,73.5 36.5,73 38,74 Z" fill="#7a6018" opacity="0.6"/>
<path d="M44.8,62 C44,70 43.5,80 43.2,90 L42.3,90 C42.6,80 43.4,70 44.8,62 Z" fill="#7a6018" opacity="0.45"/>
<path d="M27.6,42.2 C29.3,38.5 31.5,36.8 34.5,36.6 C38,36.4 41.5,37.8 43.2,40.5 C44.2,41.8 44.8,43.5 44.6,45.5 C43.5,43.5 41.5,42 39.5,41.6 C37,41 33,40.6 29.5,41.2 C28.6,41.5 28,41.8 27.6,42.2 Z" fill="#3a2a18"/>
<path d="M27.8,41.6 C30,40.8 33.5,40.9 35.8,41.9 C36.4,45 36,49 35,51.3 C33.5,52.9 30.5,53.6 28.6,53.2 C27.2,51.5 26.6,48.5 26.9,46 C27,44 27.3,42.5 27.8,41.6 Z" fill="#c39a78"/>
<circle cx="29.3" cy="44.3" r="0.55" fill="#3a2a1a"/><circle cx="32.6" cy="44.2" r="0.55" fill="#3a2a1a"/><path d="M28.5,49.8 L31,50" stroke="#8a5a4a" stroke-width="0.4"/>
<ellipse cx="45.6" cy="46.5" rx="2.2" ry="2.8" fill="#c8a4a0"/><ellipse cx="45.2" cy="46.8" rx="1" ry="1.5" fill="#8a6a58"/>
</g>

<g transform="translate(159.6,0)">
<path d="M5.5,99.6 C15,98.9 35,99 52.5,100" stroke="#c8c8c8" stroke-width="0.9" fill="none" opacity="0.7"/>
<path d="M34.5,36.6 C38,36.4 41.5,37.8 43.2,40.5 C44.5,42 45.3,43.5 45.6,44.5 C47.5,44.2 48.3,46.5 47.5,48.3 C47,49.3 46.2,50 45.5,50.8 C47,52.5 48.2,55 48.3,58.5 C48,61.5 46.8,63.2 46.3,64.6 C45.8,70 45.4,74 45.3,77.1 C44.9,83 44.5,89 44.4,93.5 C46.5,95 49.5,96.5 51.1,98.9 L36.7,98.9 C36.8,94 37,85 37.2,78 C36,76.2 34.2,75.2 32.8,75.2 C31.4,75.8 30.3,76.8 29.9,78 C30.1,85 30.4,92 30.8,97.3 L32.6,98.9 L23,98.9 L24.2,97.3 C24.2,90 24.2,82 24.2,74.2 C23,73.5 21.8,73.1 20.8,73.3 C19.5,77 18.3,80 17.5,83.8 C16.6,88 15.8,93 15.5,97.5 L15.3,98.9 L6.8,98.9 C7,97 7.4,96 7.8,95.4 C8.2,91 8.7,87 9.3,83.8 C10,78 10.8,73 11.7,69.4 C12.5,65 13.3,61.5 14.6,58.8 C17,57.6 20.5,57.4 23.2,57 C24.5,56.2 25.5,55.7 26.2,55.3 C27,54.6 27.8,54 28.5,53.4 C27.2,51.5 26.6,48.5 26.9,46 C27,44 27.3,42.8 27.8,41.8 C29.3,38.5 31.5,36.8 34.5,36.6 Z" fill="#b79a36" stroke="#5e4a14" stroke-width="0.4"/>
<path d="M29.9,78 C30.1,85 30.4,92 30.8,97.3 L28.6,97.3 C28.6,90 28.4,84 28,78 C28.5,74 29.5,70 30.5,67 C31,71 30.8,75 29.9,78 Z" fill="#7a6018" opacity="0.8"/>
<path d="M20.8,73.3 C19.5,77 18.3,80 17.5,83.8 L16.7,83 C17.5,78 18.2,72 18.3,66 C19.5,68 20.3,71 20.8,73.3 Z" fill="#6e5616" opacity="0.8"/>
<path d="M18.5,60 C20.5,63 22.5,67 23.5,72 L22.3,72.5 C21,68 19.5,64 18.5,60 Z" fill="#7a6018" opacity="0.6"/>
<path d="M37.2,78 C36,76.2 34.2,75.2 32.8,75.2 C34.5,73.5 36.5,73 38,74 Z" fill="#7a6018" opacity="0.6"/>
<path d="M44.8,62 C44,70 43.5,80 43.2,90 L42.3,90 C42.6,80 43.4,70 44.8,62 Z" fill="#7a6018" opacity="0.45"/>
<path d="M27.6,42.2 C29.3,38.5 31.5,36.8 34.5,36.6 C38,36.4 41.5,37.8 43.2,40.5 C44.2,41.8 44.8,43.5 44.6,45.5 C43.5,43.5 41.5,42 39.5,41.6 C37,41 33,40.6 29.5,41.2 C28.6,41.5 28,41.8 27.6,42.2 Z" fill="#3a2a18"/>
<path d="M27.8,41.6 C30,40.8 33.5,40.9 35.8,41.9 C36.4,45 36,49 35,51.3 C33.5,52.9 30.5,53.6 28.6,53.2 C27.2,51.5 26.6,48.5 26.9,46 C27,44 27.3,42.5 27.8,41.6 Z" fill="#c39a78"/>
<circle cx="29.3" cy="44.3" r="0.55" fill="#3a2a1a"/><circle cx="32.6" cy="44.2" r="0.55" fill="#3a2a1a"/><path d="M28.5,49.8 L31,50" stroke="#8a5a4a" stroke-width="0.4"/>
<ellipse cx="45.6" cy="46.5" rx="2.2" ry="2.8" fill="#c8a4a0"/><ellipse cx="45.2" cy="46.8" rx="1" ry="1.5" fill="#8a6a58"/>
</g>
<text x="383" y="30.12" font-size="9" text-anchor="middle" fill="#161616" stroke="#161616" stroke-width="0.18" textLength="126" lengthAdjust="spacingAndGlyphs" >Sampling in long-term follow-up</text>
<line x1="301" y1="35.3" x2="301" y2="97.6" stroke="#b8b8b8" stroke-width="0.6" />
<line x1="309" y1="35.3" x2="309" y2="97.6" stroke="#cfcfcf" stroke-width="0.6" />
<line x1="317" y1="35.3" x2="317" y2="97.6" stroke="#cfcfcf" stroke-width="0.6" />
<line x1="325" y1="35.3" x2="325" y2="97.6" stroke="#b8b8b8" stroke-width="0.6" />
<line x1="333" y1="35.3" x2="333" y2="97.6" stroke="#cfcfcf" stroke-width="0.6" />
<line x1="341" y1="35.3" x2="341" y2="97.6" stroke="#cfcfcf" stroke-width="0.6" />
<line x1="349" y1="35.3" x2="349" y2="97.6" stroke="#b8b8b8" stroke-width="0.6" />
<line x1="357" y1="35.3" x2="357" y2="97.6" stroke="#cfcfcf" stroke-width="0.6" />
<line x1="365" y1="35.3" x2="365" y2="97.6" stroke="#cfcfcf" stroke-width="0.6" />
<line x1="373" y1="35.3" x2="373" y2="97.6" stroke="#b8b8b8" stroke-width="0.6" />
<line x1="381" y1="35.3" x2="381" y2="97.6" stroke="#cfcfcf" stroke-width="0.6" />
<line x1="389" y1="35.3" x2="389" y2="97.6" stroke="#cfcfcf" stroke-width="0.6" />
<line x1="397" y1="35.3" x2="397" y2="97.6" stroke="#b8b8b8" stroke-width="0.6" />
<line x1="411.8333333333333" y1="35.3" x2="411.8333333333333" y2="97.6" stroke="#cfcfcf" stroke-width="0.6" />
<line x1="441.5" y1="35.3" x2="441.5" y2="97.6" stroke="#cfcfcf" stroke-width="0.6" />
<line x1="471.1666666666667" y1="35.3" x2="471.1666666666667" y2="97.6" stroke="#cfcfcf" stroke-width="0.6" />
<line x1="500.83333333333337" y1="35.3" x2="500.83333333333337" y2="97.6" stroke="#cfcfcf" stroke-width="0.6" />
<line x1="397" y1="35.3" x2="397" y2="97.6" stroke="#8a8a8a" stroke-width="0.9" />
<line x1="426.6666666666667" y1="35.3" x2="426.6666666666667" y2="97.6" stroke="#8a8a8a" stroke-width="0.9" />
<line x1="456.3333333333333" y1="35.3" x2="456.3333333333333" y2="97.6" stroke="#8a8a8a" stroke-width="0.9" />
<line x1="486.0" y1="35.3" x2="486.0" y2="97.6" stroke="#8a8a8a" stroke-width="0.9" />
<line x1="301" y1="35.3" x2="501" y2="35.3" stroke="#dcdcdc" stroke-width="0.5" />
<line x1="301" y1="45.6" x2="501" y2="45.6" stroke="#dcdcdc" stroke-width="0.5" />
<line x1="301" y1="56" x2="501" y2="56" stroke="#dcdcdc" stroke-width="0.5" />
<line x1="301" y1="76.9" x2="501" y2="76.9" stroke="#dcdcdc" stroke-width="0.5" />
<line x1="301" y1="87.4" x2="501" y2="87.4" stroke="#dcdcdc" stroke-width="0.5" />
<line x1="301" y1="97.6" x2="501" y2="97.6" stroke="#dcdcdc" stroke-width="0.5" />
<line x1="271.6" y1="35" x2="271.6" y2="97" stroke="#999" stroke-width="1.1" />
<line x1="301.4" y1="35" x2="301.4" y2="97" stroke="#999" stroke-width="1.1" />
<text x="286.2" y="43.17" font-size="8" text-anchor="middle" fill="#161616" stroke="#161616" stroke-width="0.18" textLength="27.5" lengthAdjust="spacingAndGlyphs" >Z13264</text>
<text x="286.2" y="53.57" font-size="8" text-anchor="middle" fill="#161616" stroke="#161616" stroke-width="0.18" textLength="27.5" lengthAdjust="spacingAndGlyphs" >Z14004</text>
<text x="286.2" y="63.87" font-size="8" text-anchor="middle" fill="#161616" stroke="#161616" stroke-width="0.18" textLength="27.5" lengthAdjust="spacingAndGlyphs" >Z15086</text>
<text x="286.2" y="74.27" font-size="8" text-anchor="middle" fill="#161616" stroke="#161616" stroke-width="0.18" textLength="27.5" lengthAdjust="spacingAndGlyphs" >Z13264</text>
<text x="286.2" y="84.97" font-size="8" text-anchor="middle" fill="#161616" stroke="#161616" stroke-width="0.18" textLength="27.5" lengthAdjust="spacingAndGlyphs" >Z14004</text>
<text x="286.2" y="95.37" font-size="8" text-anchor="middle" fill="#161616" stroke="#161616" stroke-width="0.18" textLength="27.5" lengthAdjust="spacingAndGlyphs" >Z15086</text>
<text x="263.8" y="53.75" font-size="8.5" text-anchor="middle" fill="#161616" stroke="#161616" stroke-width="0.18" textLength="10.4" lengthAdjust="spacingAndGlyphs" >PB</text>
<text x="264" y="85.15" font-size="8.5" text-anchor="middle" fill="#161616" stroke="#161616" stroke-width="0.18" textLength="12" lengthAdjust="spacingAndGlyphs" >BM</text>
<text x="269.5" y="107.17" font-size="8" text-anchor="middle" fill="#161616" stroke="#161616" stroke-width="0.18" textLength="20" lengthAdjust="spacingAndGlyphs" >month</text>
<text x="301" y="107.17" font-size="8" text-anchor="middle" fill="#161616" stroke="#161616" stroke-width="0.18" >0</text>
<text x="325" y="107.17" font-size="8" text-anchor="middle" fill="#161616" stroke="#161616" stroke-width="0.18" >3</text>
<text x="349" y="107.17" font-size="8" text-anchor="middle" fill="#161616" stroke="#161616" stroke-width="0.18" >6</text>
<text x="373" y="107.17" font-size="8" text-anchor="middle" fill="#161616" stroke="#161616" stroke-width="0.18" >9</text>
<text x="396.5" y="107.17" font-size="8" text-anchor="middle" fill="#161616" stroke="#161616" stroke-width="0.18" >12</text>
<text x="426.5" y="107.17" font-size="8" text-anchor="middle" fill="#161616" stroke="#161616" stroke-width="0.18" >24</text>
<text x="455.5" y="107.17" font-size="8" text-anchor="middle" fill="#161616" stroke="#161616" stroke-width="0.18" >36</text>
<text x="486" y="107.17" font-size="8" text-anchor="middle" fill="#161616" stroke="#161616" stroke-width="0.18" >48</text>
<line x1="257.8" y1="66.3" x2="499" y2="66.3" stroke="#1a1a1a" stroke-width="1.3" />
<path d="M503.5,66.3 L498,64.1 L498,68.5 Z" fill="#1a1a1a"/>
<path d="M304.8,37.4 C305.3,38.9 306.4,40.2 306.4,41.4 A1.65,1.65 0 0 1 303.2,41.4 C303.2,40.2 304.3,38.9 304.8,37.4 Z" fill="#c3122f"/>
<path d="M307.3,37.4 C307.8,38.9 308.9,40.2 308.9,41.4 A1.65,1.65 0 0 1 305.7,41.4 C305.7,40.2 306.8,38.9 307.3,37.4 Z" fill="#c3122f"/>
<path d="M309.6,37.4 C310.1,38.9 311.2,40.2 311.2,41.4 A1.65,1.65 0 0 1 308.0,41.4 C308.0,40.2 309.1,38.9 309.6,37.4 Z" fill="#c3122f"/>
<path d="M311.9,37.4 C312.4,38.9 313.5,40.2 313.5,41.4 A1.65,1.65 0 0 1 310.2,41.4 C310.2,40.2 311.4,38.9 311.9,37.4 Z" fill="#c3122f"/>
<path d="M314.4,37.4 C314.9,38.9 316.0,40.2 316.0,41.4 A1.65,1.65 0 0 1 312.8,41.4 C312.8,40.2 313.9,38.9 314.4,37.4 Z" fill="#c3122f"/>
<path d="M322.5,37.4 C323.0,38.9 324.1,40.2 324.1,41.4 A1.65,1.65 0 0 1 320.9,41.4 C320.9,40.2 322.0,38.9 322.5,37.4 Z" fill="#c3122f"/>
<path d="M326.9,37.4 C327.4,38.9 328.5,40.2 328.5,41.4 A1.65,1.65 0 0 1 325.2,41.4 C325.2,40.2 326.4,38.9 326.9,37.4 Z" fill="#c3122f"/>
<path d="M340.0,37.4 C340.5,38.9 341.6,40.2 341.6,41.4 A1.65,1.65 0 0 1 338.4,41.4 C338.4,40.2 339.5,38.9 340.0,37.4 Z" fill="#c3122f"/>
<path d="M348.0,37.4 C348.5,38.9 349.6,40.2 349.6,41.4 A1.65,1.65 0 0 1 346.4,41.4 C346.4,40.2 347.5,38.9 348.0,37.4 Z" fill="#c3122f"/>
<path d="M351.0,37.4 C351.5,38.9 352.6,40.2 352.6,41.4 A1.65,1.65 0 0 1 349.4,41.4 C349.4,40.2 350.5,38.9 351.0,37.4 Z" fill="#c3122f"/>
<path d="M356.3,37.4 C356.8,38.9 357.9,40.2 357.9,41.4 A1.65,1.65 0 0 1 354.7,41.4 C354.7,40.2 355.8,38.9 356.3,37.4 Z" fill="#c3122f"/>
<path d="M373.0,37.4 C373.5,38.9 374.6,40.2 374.6,41.4 A1.65,1.65 0 0 1 371.4,41.4 C371.4,40.2 372.5,38.9 373.0,37.4 Z" fill="#c3122f"/>
<path d="M377.9,37.4 C378.4,38.9 379.5,40.2 379.5,41.4 A1.65,1.65 0 0 1 376.2,41.4 C376.2,40.2 377.4,38.9 377.9,37.4 Z" fill="#c3122f"/>
<path d="M394.9,37.4 C395.4,38.9 396.5,40.2 396.5,41.4 A1.65,1.65 0 0 1 393.2,41.4 C393.2,40.2 394.4,38.9 394.9,37.4 Z" fill="#c3122f"/>
<path d="M396.9,37.4 C397.4,38.9 398.5,40.2 398.5,41.4 A1.65,1.65 0 0 1 395.2,41.4 C395.2,40.2 396.4,38.9 396.9,37.4 Z" fill="#c3122f"/>
<path d="M402.7,37.4 C403.2,38.9 404.3,40.2 404.3,41.4 A1.65,1.65 0 0 1 401.1,41.4 C401.1,40.2 402.2,38.9 402.7,37.4 Z" fill="#c3122f"/>
<path d="M412.3,37.4 C412.8,38.9 413.9,40.2 413.9,41.4 A1.65,1.65 0 0 1 410.7,41.4 C410.7,40.2 411.8,38.9 412.3,37.4 Z" fill="#c3122f"/>
<path d="M416.2,37.4 C416.7,38.9 417.8,40.2 417.8,41.4 A1.65,1.65 0 0 1 414.6,41.4 C414.6,40.2 415.7,38.9 416.2,37.4 Z" fill="#c3122f"/>
<path d="M427.3,37.4 C427.8,38.9 428.9,40.2 428.9,41.4 A1.65,1.65 0 0 1 425.7,41.4 C425.7,40.2 426.8,38.9 427.3,37.4 Z" fill="#c3122f"/>
<path d="M454.4,37.4 C454.9,38.9 456.0,40.2 456.0,41.4 A1.65,1.65 0 0 1 452.8,41.4 C452.8,40.2 453.9,38.9 454.4,37.4 Z" fill="#c3122f"/>
<path d="M463.0,37.4 C463.5,38.9 464.6,40.2 464.6,41.4 A1.65,1.65 0 0 1 461.4,41.4 C461.4,40.2 462.5,38.9 463.0,37.4 Z" fill="#c3122f"/>
<path d="M486.3,37.4 C486.8,38.9 487.9,40.2 487.9,41.4 A1.65,1.65 0 0 1 484.7,41.4 C484.7,40.2 485.8,38.9 486.3,37.4 Z" fill="#c3122f"/>
<path d="M319.2,37.4 C319.7,38.9 320.8,40.2 320.8,41.4 A1.65,1.65 0 0 1 317.6,41.4 C317.6,40.2 318.7,38.9 319.2,37.4 Z" fill="#111111"/>
<path d="M335.2,37.4 C335.7,38.9 336.8,40.2 336.8,41.4 A1.65,1.65 0 0 1 333.6,41.4 C333.6,40.2 334.7,38.9 335.2,37.4 Z" fill="#111111"/>
<path d="M365.8,37.4 C366.3,38.9 367.4,40.2 367.4,41.4 A1.65,1.65 0 0 1 364.2,41.4 C364.2,40.2 365.3,38.9 365.8,37.4 Z" fill="#111111"/>
<path d="M387.5,37.4 C388.0,38.9 389.1,40.2 389.1,41.4 A1.65,1.65 0 0 1 385.9,41.4 C385.9,40.2 387.0,38.9 387.5,37.4 Z" fill="#111111"/>
<path d="M408.4,37.4 C408.9,38.9 410.0,40.2 410.0,41.4 A1.65,1.65 0 0 1 406.8,41.4 C406.8,40.2 407.9,38.9 408.4,37.4 Z" fill="#111111"/>
<path d="M470.7,37.4 C471.2,38.9 472.3,40.2 472.3,41.4 A1.65,1.65 0 0 1 469.1,41.4 C469.1,40.2 470.2,38.9 470.7,37.4 Z" fill="#111111"/>
<path d="M304.0,47.8 C304.5,49.3 305.6,50.6 305.6,51.8 A1.65,1.65 0 0 1 302.4,51.8 C302.4,50.6 303.5,49.3 304.0,47.8 Z" fill="#c3122f"/>
<path d="M306.5,47.8 C307.0,49.3 308.1,50.6 308.1,51.8 A1.65,1.65 0 0 1 304.9,51.8 C304.9,50.6 306.0,49.3 306.5,47.8 Z" fill="#c3122f"/>
<path d="M309.0,47.8 C309.5,49.3 310.6,50.6 310.6,51.8 A1.65,1.65 0 0 1 307.4,51.8 C307.4,50.6 308.5,49.3 309.0,47.8 Z" fill="#c3122f"/>
<path d="M311.5,47.8 C312.0,49.3 313.1,50.6 313.1,51.8 A1.65,1.65 0 0 1 309.9,51.8 C309.9,50.6 311.0,49.3 311.5,47.8 Z" fill="#c3122f"/>
<path d="M314.0,47.8 C314.5,49.3 315.6,50.6 315.6,51.8 A1.65,1.65 0 0 1 312.4,51.8 C312.4,50.6 313.5,49.3 314.0,47.8 Z" fill="#c3122f"/>
<path d="M322.0,47.8 C322.5,49.3 323.6,50.6 323.6,51.8 A1.65,1.65 0 0 1 320.4,51.8 C320.4,50.6 321.5,49.3 322.0,47.8 Z" fill="#c3122f"/>
<path d="M327.9,47.8 C328.4,49.3 329.5,50.6 329.5,51.8 A1.65,1.65 0 0 1 326.2,51.8 C326.2,50.6 327.4,49.3 327.9,47.8 Z" fill="#c3122f"/>
<path d="M336.0,47.8 C336.5,49.3 337.6,50.6 337.6,51.8 A1.65,1.65 0 0 1 334.4,51.8 C334.4,50.6 335.5,49.3 336.0,47.8 Z" fill="#c3122f"/>
<path d="M345.0,47.8 C345.5,49.3 346.6,50.6 346.6,51.8 A1.65,1.65 0 0 1 343.4,51.8 C343.4,50.6 344.5,49.3 345.0,47.8 Z" fill="#c3122f"/>
<path d="M361.0,47.8 C361.5,49.3 362.6,50.6 362.6,51.8 A1.65,1.65 0 0 1 359.4,51.8 C359.4,50.6 360.5,49.3 361.0,47.8 Z" fill="#c3122f"/>
<path d="M387.5,47.8 C388.0,49.3 389.1,50.6 389.1,51.8 A1.65,1.65 0 0 1 385.9,51.8 C385.9,50.6 387.0,49.3 387.5,47.8 Z" fill="#c3122f"/>
<path d="M401.0,47.8 C401.5,49.3 402.6,50.6 402.6,51.8 A1.65,1.65 0 0 1 399.4,51.8 C399.4,50.6 400.5,49.3 401.0,47.8 Z" fill="#c3122f"/>
<path d="M407.0,47.8 C407.5,49.3 408.6,50.6 408.6,51.8 A1.65,1.65 0 0 1 405.4,51.8 C405.4,50.6 406.5,49.3 407.0,47.8 Z" fill="#c3122f"/>
<path d="M420.5,47.8 C421.0,49.3 422.1,50.6 422.1,51.8 A1.65,1.65 0 0 1 418.9,51.8 C418.9,50.6 420.0,49.3 420.5,47.8 Z" fill="#c3122f"/>
<path d="M432.5,47.8 C433.0,49.3 434.1,50.6 434.1,51.8 A1.65,1.65 0 0 1 430.9,51.8 C430.9,50.6 432.0,49.3 432.5,47.8 Z" fill="#c3122f"/>
<path d="M445.3,47.8 C445.8,49.3 446.9,50.6 446.9,51.8 A1.65,1.65 0 0 1 443.7,51.8 C443.7,50.6 444.8,49.3 445.3,47.8 Z" fill="#c3122f"/>
<path d="M455.6,47.8 C456.1,49.3 457.2,50.6 457.2,51.8 A1.65,1.65 0 0 1 454.0,51.8 C454.0,50.6 455.1,49.3 455.6,47.8 Z" fill="#c3122f"/>
<path d="M491.5,47.8 C492.0,49.3 493.1,50.6 493.1,51.8 A1.65,1.65 0 0 1 489.9,51.8 C489.9,50.6 491.0,49.3 491.5,47.8 Z" fill="#c3122f"/>
<path d="M319.2,47.8 C319.7,49.3 320.8,50.6 320.8,51.8 A1.65,1.65 0 0 1 317.6,51.8 C317.6,50.6 318.7,49.3 319.2,47.8 Z" fill="#111111"/>
<path d="M333.0,47.8 C333.5,49.3 334.6,50.6 334.6,51.8 A1.65,1.65 0 0 1 331.4,51.8 C331.4,50.6 332.5,49.3 333.0,47.8 Z" fill="#111111"/>
<path d="M351.0,47.8 C351.5,49.3 352.6,50.6 352.6,51.8 A1.65,1.65 0 0 1 349.4,51.8 C349.4,50.6 350.5,49.3 351.0,47.8 Z" fill="#111111"/>
<path d="M370.0,47.8 C370.5,49.3 371.6,50.6 371.6,51.8 A1.65,1.65 0 0 1 368.4,51.8 C368.4,50.6 369.5,49.3 370.0,47.8 Z" fill="#111111"/>
<path d="M397.5,47.8 C398.0,49.3 399.1,50.6 399.1,51.8 A1.65,1.65 0 0 1 395.9,51.8 C395.9,50.6 397.0,49.3 397.5,47.8 Z" fill="#111111"/>
<path d="M413.0,47.8 C413.5,49.3 414.6,50.6 414.6,51.8 A1.65,1.65 0 0 1 411.4,51.8 C411.4,50.6 412.5,49.3 413.0,47.8 Z" fill="#111111"/>
<path d="M418.5,47.8 C419.0,49.3 420.1,50.6 420.1,51.8 A1.65,1.65 0 0 1 416.9,51.8 C416.9,50.6 418.0,49.3 418.5,47.8 Z" fill="#111111"/>
<path d="M472.5,47.8 C473.0,49.3 474.1,50.6 474.1,51.8 A1.65,1.65 0 0 1 470.9,51.8 C470.9,50.6 472.0,49.3 472.5,47.8 Z" fill="#111111"/>
<path d="M304.8,58.1 C305.3,59.6 306.4,60.9 306.4,62.1 A1.65,1.65 0 0 1 303.2,62.1 C303.2,60.9 304.3,59.6 304.8,58.1 Z" fill="#c3122f"/>
<path d="M309.6,58.1 C310.1,59.6 311.2,60.9 311.2,62.1 A1.65,1.65 0 0 1 308.0,62.1 C308.0,60.9 309.1,59.6 309.6,58.1 Z" fill="#c3122f"/>
<path d="M324.4,58.1 C324.9,59.6 326.0,60.9 326.0,62.1 A1.65,1.65 0 0 1 322.8,62.1 C322.8,60.9 323.9,59.6 324.4,58.1 Z" fill="#c3122f"/>
<path d="M331.7,58.1 C332.2,59.6 333.3,60.9 333.3,62.1 A1.65,1.65 0 0 1 330.1,62.1 C330.1,60.9 331.2,59.6 331.7,58.1 Z" fill="#c3122f"/>
<path d="M345.6,58.1 C346.1,59.6 347.2,60.9 347.2,62.1 A1.65,1.65 0 0 1 344.0,62.1 C344.0,60.9 345.1,59.6 345.6,58.1 Z" fill="#c3122f"/>
<path d="M358.7,58.1 C359.2,59.6 360.3,60.9 360.3,62.1 A1.65,1.65 0 0 1 357.1,62.1 C357.1,60.9 358.2,59.6 358.7,58.1 Z" fill="#c3122f"/>
<path d="M364.0,58.1 C364.5,59.6 365.6,60.9 365.6,62.1 A1.65,1.65 0 0 1 362.4,62.1 C362.4,60.9 363.5,59.6 364.0,58.1 Z" fill="#c3122f"/>
<path d="M391.3,58.1 C391.8,59.6 392.9,60.9 392.9,62.1 A1.65,1.65 0 0 1 389.7,62.1 C389.7,60.9 390.8,59.6 391.3,58.1 Z" fill="#c3122f"/>
<path d="M402.7,58.1 C403.2,59.6 404.3,60.9 404.3,62.1 A1.65,1.65 0 0 1 401.1,62.1 C401.1,60.9 402.2,59.6 402.7,58.1 Z" fill="#c3122f"/>
<path d="M407.0,58.1 C407.5,59.6 408.6,60.9 408.6,62.1 A1.65,1.65 0 0 1 405.4,62.1 C405.4,60.9 406.5,59.6 407.0,58.1 Z" fill="#c3122f"/>
<path d="M319.2,58.1 C319.7,59.6 320.8,60.9 320.8,62.1 A1.65,1.65 0 0 1 317.6,62.1 C317.6,60.9 318.7,59.6 319.2,58.1 Z" fill="#111111"/>
<path d="M340.4,58.1 C340.9,59.6 342.0,60.9 342.0,62.1 A1.65,1.65 0 0 1 338.8,62.1 C338.8,60.9 339.9,59.6 340.4,58.1 Z" fill="#111111"/>
<path d="M380.4,58.1 C380.9,59.6 382.0,60.9 382.0,62.1 A1.65,1.65 0 0 1 378.8,62.1 C378.8,60.9 379.9,59.6 380.4,58.1 Z" fill="#111111"/>
<path d="M397.5,58.1 C398.0,59.6 399.1,60.9 399.1,62.1 A1.65,1.65 0 0 1 395.9,62.1 C395.9,60.9 397.0,59.6 397.5,58.1 Z" fill="#111111"/>
<path d="M316.0,68.5 C316.5,70.0 317.6,71.3 317.6,72.5 A1.65,1.65 0 0 1 314.4,72.5 C314.4,71.3 315.5,70.0 316.0,68.5 Z" fill="#c3122f"/>
<path d="M329.8,68.5 C330.3,70.0 331.4,71.3 331.4,72.5 A1.65,1.65 0 0 1 328.2,72.5 C328.2,71.3 329.3,70.0 329.8,68.5 Z" fill="#c3122f"/>
<path d="M354.4,68.5 C354.9,70.0 356.0,71.3 356.0,72.5 A1.65,1.65 0 0 1 352.8,72.5 C352.8,71.3 353.9,70.0 354.4,68.5 Z" fill="#c3122f"/>
<path d="M372.7,68.5 C373.2,70.0 374.3,71.3 374.3,72.5 A1.65,1.65 0 0 1 371.1,72.5 C371.1,71.3 372.2,70.0 372.7,68.5 Z" fill="#c3122f"/>
<path d="M395.5,68.5 C396.0,70.0 397.1,71.3 397.1,72.5 A1.65,1.65 0 0 1 393.9,72.5 C393.9,71.3 395.0,70.0 395.5,68.5 Z" fill="#c3122f"/>
<path d="M411.8,68.5 C412.3,70.0 413.4,71.3 413.4,72.5 A1.65,1.65 0 0 1 410.2,72.5 C410.2,71.3 411.3,70.0 411.8,68.5 Z" fill="#c3122f"/>
<path d="M425.8,68.5 C426.3,70.0 427.4,71.3 427.4,72.5 A1.65,1.65 0 0 1 424.2,72.5 C424.2,71.3 425.3,70.0 425.8,68.5 Z" fill="#c3122f"/>
<path d="M483.7,68.5 C484.2,70.0 485.3,71.3 485.3,72.5 A1.65,1.65 0 0 1 482.1,72.5 C482.1,71.3 483.2,70.0 483.7,68.5 Z" fill="#c3122f"/>
<path d="M312.0,79.2 C312.5,80.7 313.6,82.0 313.6,83.2 A1.65,1.65 0 0 1 310.4,83.2 C310.4,82.0 311.5,80.7 312.0,79.2 Z" fill="#c3122f"/>
<path d="M327.0,79.2 C327.5,80.7 328.6,82.0 328.6,83.2 A1.65,1.65 0 0 1 325.4,83.2 C325.4,82.0 326.5,80.7 327.0,79.2 Z" fill="#c3122f"/>
<path d="M353.8,79.2 C354.3,80.7 355.4,82.0 355.4,83.2 A1.65,1.65 0 0 1 352.2,83.2 C352.2,82.0 353.3,80.7 353.8,79.2 Z" fill="#c3122f"/>
<path d="M377.5,79.2 C378.0,80.7 379.1,82.0 379.1,83.2 A1.65,1.65 0 0 1 375.9,83.2 C375.9,82.0 377.0,80.7 377.5,79.2 Z" fill="#c3122f"/>
<path d="M399.3,79.2 C399.8,80.7 400.9,82.0 400.9,83.2 A1.65,1.65 0 0 1 397.7,83.2 C397.7,82.0 398.8,80.7 399.3,79.2 Z" fill="#c3122f"/>
<path d="M411.0,79.2 C411.5,80.7 412.6,82.0 412.6,83.2 A1.65,1.65 0 0 1 409.4,83.2 C409.4,82.0 410.5,80.7 411.0,79.2 Z" fill="#c3122f"/>
<path d="M425.8,79.2 C426.3,80.7 427.4,82.0 427.4,83.2 A1.65,1.65 0 0 1 424.2,83.2 C424.2,82.0 425.3,80.7 425.8,79.2 Z" fill="#c3122f"/>
<path d="M440.3,79.2 C440.8,80.7 441.9,82.0 441.9,83.2 A1.65,1.65 0 0 1 438.7,83.2 C438.7,82.0 439.8,80.7 440.3,79.2 Z" fill="#c3122f"/>
<path d="M488.0,79.2 C488.5,80.7 489.6,82.0 489.6,83.2 A1.65,1.65 0 0 1 486.4,83.2 C486.4,82.0 487.5,80.7 488.0,79.2 Z" fill="#c3122f"/>
<path d="M314.0,89.6 C314.5,91.1 315.6,92.4 315.6,93.6 A1.65,1.65 0 0 1 312.4,93.6 C312.4,92.4 313.5,91.1 314.0,89.6 Z" fill="#c3122f"/>
<path d="M328.3,89.6 C328.8,91.1 329.9,92.4 329.9,93.6 A1.65,1.65 0 0 1 326.7,93.6 C326.7,92.4 327.8,91.1 328.3,89.6 Z" fill="#c3122f"/>
<path d="M354.4,89.6 C354.9,91.1 356.0,92.4 356.0,93.6 A1.65,1.65 0 0 1 352.8,93.6 C352.8,92.4 353.9,91.1 354.4,89.6 Z" fill="#c3122f"/>
<path d="M372.0,89.6 C372.5,91.1 373.6,92.4 373.6,93.6 A1.65,1.65 0 0 1 370.4,93.6 C370.4,92.4 371.5,91.1 372.0,89.6 Z" fill="#c3122f"/>
<path d="M395.5,89.6 C396.0,91.1 397.1,92.4 397.1,93.6 A1.65,1.65 0 0 1 393.9,93.6 C393.9,92.4 395.0,91.1 395.5,89.6 Z" fill="#c3122f"/>
<path d="M409.0,89.6 C409.5,91.1 410.6,92.4 410.6,93.6 A1.65,1.65 0 0 1 407.4,93.6 C407.4,92.4 408.5,91.1 409.0,89.6 Z" fill="#c3122f"/>
<path d="M413.0,89.6 C413.5,91.1 414.6,92.4 414.6,93.6 A1.65,1.65 0 0 1 411.4,93.6 C411.4,92.4 412.5,91.1 413.0,89.6 Z" fill="#c3122f"/>
<line x1="416" y1="57.6" x2="416" y2="64.1" stroke="#111" stroke-width="0.9" />
<line x1="414" y1="59.6" x2="418" y2="59.6" stroke="#111" stroke-width="0.9" />
<line x1="417.5" y1="89.1" x2="417.5" y2="95.6" stroke="#111" stroke-width="0.9" />
<line x1="415.5" y1="91.1" x2="419.5" y2="91.1" stroke="#111" stroke-width="0.9" />
<text x="84" y="135.55" font-size="8.8" fill="#161616" stroke="#161616" stroke-width="0.18" textLength="345" lengthAdjust="spacingAndGlyphs" >Engraftment of gene-modified white blood cells in the peripheral blood and bone marrow</text>
<rect x="7.3" y="143.8" width="74.6" height="70.8" fill="#2fa0dc"/>
<path d="M7.3,157.7 L81.9,210.5 L81.9,214.6 L7.3,214.6 Z" fill="#3bae46"/>
<rect x="7.3" y="143.8" width="74.6" height="13.1" fill="#d01430"/>
<path d="M43.5,157 L43.5,177.5 M68,157 L68,180.3 L58.8,180.3" fill="none" stroke="#1a2a40" stroke-width="0.6" stroke-dasharray="1.3,1.1"/>
<text x="62.5" y="159.40" font-size="2.6" text-anchor="middle" fill="#1a2a40" textLength="10" lengthAdjust="spacingAndGlyphs" >quiescence</text>
<line x1="49.6" y1="152" x2="49.6" y2="172" stroke="#141c28" stroke-width="1.0" />
<line x1="49.6" y1="174.6" x2="60.429353062821164" y2="186.6693553219228" stroke="#141c28" stroke-width="1.0" />
<path d="M62.7,189.2 L59.2,187.8 L61.7,185.5 Z" fill="#141c28"/>
<line x1="49.6" y1="174.6" x2="32.7" y2="191.5" stroke="#141c28" stroke-width="1.0" />
<line x1="32.7" y1="191.5" x2="22.004163056034265" y2="202.19583694396573" stroke="#141c28" stroke-width="1.0" />
<path d="M19.6,204.6 L20.8,201.0 L23.2,203.4 Z" fill="#141c28"/>
<line x1="32.7" y1="191.5" x2="41.95694464892844" y2="202.0448673826924" stroke="#141c28" stroke-width="1.0" />
<path d="M44.2,204.6 L40.7,203.2 L43.2,200.9 Z" fill="#141c28"/>
<circle cx="49.6" cy="150" r="3.8" fill="#d8d2d4" stroke="#f4f4f4" stroke-width="0.7"/>
<text x="49.6" y="150.76" font-size="2.2" text-anchor="middle" fill="#a03040" textLength="4.5" lengthAdjust="spacingAndGlyphs" >HSC</text>
<circle cx="49.6" cy="174.6" r="3.8" fill="#d8d2d4" stroke="#f4f4f4" stroke-width="0.7"/>
<text x="49.6" y="175.36" font-size="2.2" text-anchor="middle" fill="#a03040" textLength="4.5" lengthAdjust="spacingAndGlyphs" >MPP</text>
<circle cx="32.7" cy="191.5" r="3.8" fill="#d8d2d4" stroke="#f4f4f4" stroke-width="0.7"/>
<text x="32.7" y="192.26" font-size="2.2" text-anchor="middle" fill="#a03040" textLength="4.5" lengthAdjust="spacingAndGlyphs" >LMP</text>
<text x="12.7" y="149.96" font-size="4.2" fill="#fff" textLength="8.2" lengthAdjust="spacingAndGlyphs" >CD90<tspan baseline-shift="1.38" font-size="3.00">+</tspan></text>
<text x="12.7" y="155.06" font-size="4.2" fill="#fff" textLength="16" lengthAdjust="spacingAndGlyphs" >CD45RA<tspan baseline-shift="1.38" font-size="3.00">−</tspan></text>
<text x="23.5" y="161.76" font-size="4.2" fill="#18305a" textLength="9.5" lengthAdjust="spacingAndGlyphs" >CD90<tspan baseline-shift="1.38" font-size="3.00">−</tspan></text>
<text x="23.5" y="166.86" font-size="4.2" fill="#18305a" textLength="15.3" lengthAdjust="spacingAndGlyphs" >CD45RA<tspan baseline-shift="1.38" font-size="3.00">−</tspan></text>
<text x="15" y="181.76" font-size="4.2" fill="#1c4a1c" textLength="15.4" lengthAdjust="spacingAndGlyphs" >CD45RA<tspan baseline-shift="1.38" font-size="3.00">+</tspan></text>
<text x="73.8" y="191.45" font-size="3.6" text-anchor="middle" fill="#18305a" textLength="12" lengthAdjust="spacingAndGlyphs" >erythro-</text>
<text x="73.8" y="195.55" font-size="3.6" text-anchor="middle" fill="#18305a" textLength="12" lengthAdjust="spacingAndGlyphs" >myeloid</text>
<text x="73.8" y="199.65" font-size="3.6" text-anchor="middle" fill="#18305a" textLength="12.5" lengthAdjust="spacingAndGlyphs" >lineages</text>
<text x="32.7" y="209.05" font-size="3.6" text-anchor="middle" fill="#1c3a1c" textLength="24" lengthAdjust="spacingAndGlyphs" >lympho-myeloid</text>
<text x="32.7" y="213.05" font-size="3.6" text-anchor="middle" fill="#1c3a1c" textLength="12" lengthAdjust="spacingAndGlyphs" >lineages</text>
<text x="10.3" y="152.05" font-size="3.6" text-anchor="middle" fill="#fff" >I</text>
<text x="20.3" y="163.85" font-size="3.6" text-anchor="middle" fill="#18305a" >II</text>
<text x="10.5" y="181.55" font-size="3.6" text-anchor="middle" fill="#1c4a1c" >III</text>
<line x1="134.5" y1="150" x2="134.5" y2="215" stroke="#777" stroke-width="0.5" stroke-dasharray="0.8,1"/>
<line x1="147.5" y1="150" x2="147.5" y2="215" stroke="#777" stroke-width="0.5" stroke-dasharray="0.8,1"/>
<line x1="160.5" y1="150" x2="160.5" y2="215" stroke="#777" stroke-width="0.5" stroke-dasharray="0.8,1"/>
<line x1="121.5" y1="150" x2="121.5" y2="215" stroke="#161616" stroke-width="1" />
<line x1="119.3" y1="214.9" x2="121.5" y2="214.9" stroke="#161616" stroke-width="0.9" />
<text x="118" y="217.60" font-size="7.8" text-anchor="end" fill="#161616" stroke="#161616" stroke-width="0.18" >0</text>
<line x1="119.3" y1="198.8" x2="121.5" y2="198.8" stroke="#161616" stroke-width="0.9" />
<text x="118" y="201.50" font-size="7.8" text-anchor="end" fill="#161616" stroke="#161616" stroke-width="0.18" >10</text>
<line x1="119.3" y1="182.7" x2="121.5" y2="182.7" stroke="#161616" stroke-width="0.9" />
<text x="118" y="185.40" font-size="7.8" text-anchor="end" fill="#161616" stroke="#161616" stroke-width="0.18" >20</text>
<line x1="119.3" y1="166.6" x2="121.5" y2="166.6" stroke="#161616" stroke-width="0.9" />
<text x="118" y="169.30" font-size="7.8" text-anchor="end" fill="#161616" stroke="#161616" stroke-width="0.18" >30</text>
<line x1="119.3" y1="150.5" x2="121.5" y2="150.5" stroke="#161616" stroke-width="0.9" />
<text x="118" y="153.20" font-size="7.8" text-anchor="end" fill="#161616" stroke="#161616" stroke-width="0.18" >40</text>
<line x1="120.3" y1="211.68" x2="121.5" y2="211.68" stroke="#161616" stroke-width="0.7" />
<line x1="120.3" y1="208.46" x2="121.5" y2="208.46" stroke="#161616" stroke-width="0.7" />
<line x1="120.3" y1="205.24" x2="121.5" y2="205.24" stroke="#161616" stroke-width="0.7" />
<line x1="120.3" y1="202.02" x2="121.5" y2="202.02" stroke="#161616" stroke-width="0.7" />
<line x1="120.3" y1="195.58" x2="121.5" y2="195.58" stroke="#161616" stroke-width="0.7" />
<line x1="120.3" y1="192.36" x2="121.5" y2="192.36" stroke="#161616" stroke-width="0.7" />
<line x1="120.3" y1="189.14" x2="121.5" y2="189.14" stroke="#161616" stroke-width="0.7" />
<line x1="120.3" y1="185.92" x2="121.5" y2="185.92" stroke="#161616" stroke-width="0.7" />
<line x1="120.3" y1="179.48" x2="121.5" y2="179.48" stroke="#161616" stroke-width="0.7" />
<line x1="120.3" y1="176.26" x2="121.5" y2="176.26" stroke="#161616" stroke-width="0.7" />
<line x1="120.3" y1="173.04" x2="121.5" y2="173.04" stroke="#161616" stroke-width="0.7" />
<line x1="120.3" y1="169.82" x2="121.5" y2="169.82" stroke="#161616" stroke-width="0.7" />
<line x1="120.3" y1="163.38" x2="121.5" y2="163.38" stroke="#161616" stroke-width="0.7" />
<line x1="120.3" y1="160.16" x2="121.5" y2="160.16" stroke="#161616" stroke-width="0.7" />
<line x1="120.3" y1="156.94" x2="121.5" y2="156.94" stroke="#161616" stroke-width="0.7" />
<line x1="120.3" y1="153.72" x2="121.5" y2="153.72" stroke="#161616" stroke-width="0.7" />
<line x1="121.5" y1="215" x2="160.5" y2="215" stroke="#161616" stroke-width="0.9" />
<path d="M121.5,195.6 L121.9,200.4 L122.2,192.4 L122.5,198.8 L122.9,197.2 L123.3,202.0 L123.7,195.6 L124.1,198.8 L124.6,194.0 L125.4,190.8 L126.4,187.5 L127.5,189.1 L128.5,185.9 L129.6,187.5 L130.6,182.7 L131.6,176.3 L132.4,173.0 L133.2,171.4 L134.0,169.8 L135.0,171.4 L136.1,169.8 L137.1,173.0 L138.4,169.8 L139.7,168.2 L141.3,166.6 L143.6,169.8 L145.4,171.4 L147.2,167.4 L148.8,171.4 L150.1,170.6 L152.7,169.8 L155.3,169.8 L157.9,170.6 L160.2,171.4" fill="none" stroke="#c8203c" stroke-width="1.1"/>
<path d="M121.5,193.4 L123.6,197.0 L119.4,197.0 Z" fill="#c8203c"/>
<path d="M121.9,198.2 L124.0,201.8 L119.8,201.8 Z" fill="#c8203c"/>
<path d="M122.2,190.2 L124.2,193.8 L120.1,193.8 Z" fill="#c8203c"/>
<path d="M122.5,196.6 L124.6,200.2 L120.4,200.2 Z" fill="#c8203c"/>
<path d="M122.9,195.0 L125.0,198.6 L120.8,198.6 Z" fill="#c8203c"/>
<path d="M123.3,199.8 L125.4,203.4 L121.2,203.4 Z" fill="#c8203c"/>
<path d="M123.7,193.4 L125.8,197.0 L121.6,197.0 Z" fill="#c8203c"/>
<path d="M124.1,196.6 L126.2,200.2 L122.0,200.2 Z" fill="#c8203c"/>
<path d="M124.6,191.8 L126.7,195.4 L122.5,195.4 Z" fill="#c8203c"/>
<path d="M125.4,188.6 L127.5,192.2 L123.3,192.2 Z" fill="#c8203c"/>
<path d="M126.4,185.3 L128.5,188.9 L124.3,188.9 Z" fill="#c8203c"/>
<path d="M127.5,186.9 L129.6,190.5 L125.4,190.5 Z" fill="#c8203c"/>
<path d="M128.5,183.7 L130.6,187.3 L126.4,187.3 Z" fill="#c8203c"/>
<path d="M129.6,185.3 L131.7,188.9 L127.5,188.9 Z" fill="#c8203c"/>
<path d="M130.6,180.5 L132.7,184.1 L128.5,184.1 Z" fill="#c8203c"/>
<path d="M131.6,174.1 L133.7,177.7 L129.5,177.7 Z" fill="#c8203c"/>
<path d="M132.4,170.8 L134.5,174.4 L130.3,174.4 Z" fill="#c8203c"/>
<path d="M133.2,169.2 L135.3,172.8 L131.1,172.8 Z" fill="#c8203c"/>
<path d="M134.0,167.6 L136.1,171.2 L131.9,171.2 Z" fill="#c8203c"/>
<path d="M135.0,169.2 L137.1,172.8 L132.9,172.8 Z" fill="#c8203c"/>
<path d="M136.1,167.6 L138.2,171.2 L134.0,171.2 Z" fill="#c8203c"/>
<path d="M137.1,170.8 L139.2,174.4 L135.0,174.4 Z" fill="#c8203c"/>
<path d="M138.4,167.6 L140.5,171.2 L136.3,171.2 Z" fill="#c8203c"/>
<path d="M139.7,166.0 L141.8,169.6 L137.6,169.6 Z" fill="#c8203c"/>
<path d="M141.3,164.4 L143.4,168.0 L139.2,168.0 Z" fill="#c8203c"/>
<path d="M143.6,167.6 L145.7,171.2 L141.5,171.2 Z" fill="#c8203c"/>
<path d="M145.4,169.2 L147.5,172.8 L143.3,172.8 Z" fill="#c8203c"/>
<path d="M147.2,165.2 L149.3,168.8 L145.1,168.8 Z" fill="#c8203c"/>
<path d="M148.8,169.2 L150.9,172.8 L146.7,172.8 Z" fill="#c8203c"/>
<path d="M150.1,168.4 L152.2,172.0 L148.0,172.0 Z" fill="#c8203c"/>
<path d="M152.7,167.6 L154.8,171.2 L150.6,171.2 Z" fill="#c8203c"/>
<path d="M155.3,167.6 L157.4,171.2 L153.2,171.2 Z" fill="#c8203c"/>
<path d="M157.9,168.4 L160.0,172.0 L155.8,172.0 Z" fill="#c8203c"/>
<path d="M160.2,169.2 L162.3,172.8 L158.1,172.8 Z" fill="#c8203c"/>
<path d="M121.5,214.6 L122.7,214.6 L123.8,214.6 L125.0,214.6 L126.2,214.6 L127.3,214.6 L128.5,214.6 L129.7,214.6 L130.9,214.6 L132.0,214.6 L133.2,214.6 L134.4,214.6 L135.5,214.6 L136.7,214.6 L137.9,214.6 L139.1,214.6 L140.2,214.6 L141.4,214.6 L142.6,214.6 L143.7,214.6 L144.9,214.6 L146.1,214.6 L147.2,214.6 L148.4,214.6 L149.6,214.6 L150.8,214.6 L151.9,214.6 L153.1,214.6 L154.3,214.6 L155.4,214.6 L156.6,214.6 L157.8,214.6 L158.9,214.6 L160.1,214.6" fill="none" stroke="#1f4e8c" stroke-width="0.8"/>
<circle cx="121.5" cy="214.6" r="1.15" fill="#1f4e8c"/>
<circle cx="122.7" cy="214.6" r="1.15" fill="#1f4e8c"/>
<circle cx="123.8" cy="214.6" r="1.15" fill="#1f4e8c"/>
<circle cx="125.0" cy="214.6" r="1.15" fill="#1f4e8c"/>
<circle cx="126.2" cy="214.6" r="1.15" fill="#1f4e8c"/>
<circle cx="127.3" cy="214.6" r="1.15" fill="#1f4e8c"/>
<circle cx="128.5" cy="214.6" r="1.15" fill="#1f4e8c"/>
<circle cx="129.7" cy="214.6" r="1.15" fill="#1f4e8c"/>
<circle cx="130.9" cy="214.6" r="1.15" fill="#1f4e8c"/>
<circle cx="132.0" cy="214.6" r="1.15" fill="#1f4e8c"/>
<circle cx="133.2" cy="214.6" r="1.15" fill="#1f4e8c"/>
<circle cx="134.4" cy="214.6" r="1.15" fill="#1f4e8c"/>
<circle cx="135.5" cy="214.6" r="1.15" fill="#1f4e8c"/>
<circle cx="136.7" cy="214.6" r="1.15" fill="#1f4e8c"/>
<circle cx="137.9" cy="214.6" r="1.15" fill="#1f4e8c"/>
<circle cx="139.1" cy="214.6" r="1.15" fill="#1f4e8c"/>
<circle cx="140.2" cy="214.6" r="1.15" fill="#1f4e8c"/>
<circle cx="141.4" cy="214.6" r="1.15" fill="#1f4e8c"/>
<circle cx="142.6" cy="214.6" r="1.15" fill="#1f4e8c"/>
<circle cx="143.7" cy="214.6" r="1.15" fill="#1f4e8c"/>
<circle cx="144.9" cy="214.6" r="1.15" fill="#1f4e8c"/>
<circle cx="146.1" cy="214.6" r="1.15" fill="#1f4e8c"/>
<circle cx="147.2" cy="214.6" r="1.15" fill="#1f4e8c"/>
<circle cx="148.4" cy="214.6" r="1.15" fill="#1f4e8c"/>
<circle cx="149.6" cy="214.6" r="1.15" fill="#1f4e8c"/>
<circle cx="150.8" cy="214.6" r="1.15" fill="#1f4e8c"/>
<circle cx="151.9" cy="214.6" r="1.15" fill="#1f4e8c"/>
<circle cx="153.1" cy="214.6" r="1.15" fill="#1f4e8c"/>
<circle cx="154.3" cy="214.6" r="1.15" fill="#1f4e8c"/>
<circle cx="155.4" cy="214.6" r="1.15" fill="#1f4e8c"/>
<circle cx="156.6" cy="214.6" r="1.15" fill="#1f4e8c"/>
<circle cx="157.8" cy="214.6" r="1.15" fill="#1f4e8c"/>
<circle cx="158.9" cy="214.6" r="1.15" fill="#1f4e8c"/>
<circle cx="160.1" cy="214.6" r="1.15" fill="#1f4e8c"/>
<circle cx="121.5" cy="213" r="1.2" fill="#3a9a4a"/>
<circle cx="121.9" cy="213" r="1.2" fill="#3a9a4a"/>
<circle cx="122.3" cy="213" r="1.2" fill="#3a9a4a"/>
<text x="121.5" y="227.00" font-size="7.8" text-anchor="middle" fill="#161616" stroke="#161616" stroke-width="0.18" >0</text>
<text x="146.5" y="227.00" font-size="7.8" text-anchor="middle" fill="#161616" stroke="#161616" stroke-width="0.18" textLength="27.7" lengthAdjust="spacingAndGlyphs" >1000 [d]</text>
<text x="98.8" y="185.05" font-size="8.8" text-anchor="middle" fill="#161616" stroke="#161616" stroke-width="0.18" textLength="60" lengthAdjust="spacingAndGlyphs" transform="rotate(-90 98.8 182)">% fluorophore<tspan baseline-shift="3.03" font-size="6.60">+</tspan> WBCs</text>
<line x1="200.6" y1="152.5" x2="200.6" y2="215" stroke="#161616" stroke-width="1" />
<line x1="198.4" y1="215.0" x2="200.6" y2="215.0" stroke="#161616" stroke-width="0.9" />
<text x="195.5" y="217.70" font-size="7.8" text-anchor="end" fill="#161616" stroke="#161616" stroke-width="0.18" >0</text>
<line x1="198.4" y1="204.7" x2="200.6" y2="204.7" stroke="#161616" stroke-width="0.9" />
<text x="195.5" y="207.40" font-size="7.8" text-anchor="end" fill="#161616" stroke="#161616" stroke-width="0.18" >10</text>
<line x1="198.4" y1="194.4" x2="200.6" y2="194.4" stroke="#161616" stroke-width="0.9" />
<text x="195.5" y="197.10" font-size="7.8" text-anchor="end" fill="#161616" stroke="#161616" stroke-width="0.18" >20</text>
<line x1="198.4" y1="184.1" x2="200.6" y2="184.1" stroke="#161616" stroke-width="0.9" />
<text x="195.5" y="186.80" font-size="7.8" text-anchor="end" fill="#161616" stroke="#161616" stroke-width="0.18" >30</text>
<line x1="198.4" y1="173.8" x2="200.6" y2="173.8" stroke="#161616" stroke-width="0.9" />
<text x="195.5" y="176.50" font-size="7.8" text-anchor="end" fill="#161616" stroke="#161616" stroke-width="0.18" >40</text>
<line x1="198.4" y1="163.5" x2="200.6" y2="163.5" stroke="#161616" stroke-width="0.9" />
<text x="195.5" y="166.20" font-size="7.8" text-anchor="end" fill="#161616" stroke="#161616" stroke-width="0.18" >50</text>
<line x1="198.4" y1="153.2" x2="200.6" y2="153.2" stroke="#161616" stroke-width="0.9" />
<text x="195.5" y="155.90" font-size="7.8" text-anchor="end" fill="#161616" stroke="#161616" stroke-width="0.18" >60</text>
<line x1="199.4" y1="209.85" x2="200.6" y2="209.85" stroke="#161616" stroke-width="0.7" />
<line x1="199.4" y1="199.55" x2="200.6" y2="199.55" stroke="#161616" stroke-width="0.7" />
<line x1="199.4" y1="189.25" x2="200.6" y2="189.25" stroke="#161616" stroke-width="0.7" />
<line x1="199.4" y1="178.95" x2="200.6" y2="178.95" stroke="#161616" stroke-width="0.7" />
<line x1="199.4" y1="168.65" x2="200.6" y2="168.65" stroke="#161616" stroke-width="0.7" />
<line x1="199.4" y1="158.35" x2="200.6" y2="158.35" stroke="#161616" stroke-width="0.7" />
<line x1="200.6" y1="215.4" x2="324.5" y2="215.4" stroke="#161616" stroke-width="1" />
<line x1="201.0" y1="215.4" x2="201.0" y2="217.8" stroke="#161616" stroke-width="0.8" />
<line x1="209.3" y1="215.4" x2="209.3" y2="216.8" stroke="#161616" stroke-width="0.8" />
<line x1="217.6" y1="215.4" x2="217.6" y2="216.8" stroke="#161616" stroke-width="0.8" />
<line x1="225.9" y1="215.4" x2="225.9" y2="216.8" stroke="#161616" stroke-width="0.8" />
<line x1="234.2" y1="215.4" x2="234.2" y2="216.8" stroke="#161616" stroke-width="0.8" />
<line x1="242.5" y1="215.4" x2="242.5" y2="217.8" stroke="#161616" stroke-width="0.8" />
<line x1="250.8" y1="215.4" x2="250.8" y2="216.8" stroke="#161616" stroke-width="0.8" />
<line x1="259.1" y1="215.4" x2="259.1" y2="216.8" stroke="#161616" stroke-width="0.8" />
<line x1="267.4" y1="215.4" x2="267.4" y2="216.8" stroke="#161616" stroke-width="0.8" />
<line x1="275.7" y1="215.4" x2="275.7" y2="216.8" stroke="#161616" stroke-width="0.8" />
<line x1="284.0" y1="215.4" x2="284.0" y2="217.8" stroke="#161616" stroke-width="0.8" />
<line x1="292.3" y1="215.4" x2="292.3" y2="216.8" stroke="#161616" stroke-width="0.8" />
<line x1="300.6" y1="215.4" x2="300.6" y2="216.8" stroke="#161616" stroke-width="0.8" />
<line x1="308.9" y1="215.4" x2="308.9" y2="216.8" stroke="#161616" stroke-width="0.8" />
<line x1="317.2" y1="215.4" x2="317.2" y2="216.8" stroke="#161616" stroke-width="0.8" />
<line x1="325.5" y1="215.4" x2="325.5" y2="217.8" stroke="#161616" stroke-width="0.8" />
<text x="201.0" y="227.70" font-size="7.8" text-anchor="middle" fill="#161616" stroke="#161616" stroke-width="0.18" >0</text>
<text x="242.5" y="227.70" font-size="7.8" text-anchor="middle" fill="#161616" stroke="#161616" stroke-width="0.18" >500</text>
<text x="284.0" y="227.70" font-size="7.8" text-anchor="middle" fill="#161616" stroke="#161616" stroke-width="0.18" >1000</text>
<text x="325.5" y="227.70" font-size="7.8" text-anchor="middle" fill="#161616" stroke="#161616" stroke-width="0.18" >1500</text>
<text x="262.7" y="240.42" font-size="9" text-anchor="middle" fill="#1a1a1a" font-weight="bold" textLength="57" lengthAdjust="spacingAndGlyphs" >Days post-transplant</text>
<text x="177.8" y="185.98" font-size="8.6" text-anchor="middle" fill="#161616" font-weight="bold" textLength="56.5" lengthAdjust="spacingAndGlyphs" transform="rotate(-90 177.8 183)">% fluorophore<tspan baseline-shift="3.03" font-size="6.60">+</tspan> cells</text>
<path d="M201.8,212.9 L203.5,211.9 L206.0,209.8 L209.3,207.8 L213.4,204.7 L217.6,202.6 L221.8,203.7 L225.9,200.6 L229.2,196.5 L232.5,195.4 L235.9,195.4 L239.2,195.4 L242.5,192.3 L247.5,188.2 L252.5,192.3 L264.1,188.2 L274.0,193.4 L284.0,189.2 L289.8,186.2 L306.4,186.2 L320.5,178.9" fill="none" stroke="#f5a020" stroke-width="1.1"/>
<path d="M199.9,211.0 L203.7,214.8 M203.7,211.0 L199.9,214.8" stroke="#f5a020" stroke-width="1"/>
<path d="M201.6,210.0 L205.4,213.8 M205.4,210.0 L201.6,213.8" stroke="#f5a020" stroke-width="1"/>
<path d="M204.1,207.9 L207.9,211.8 M207.9,207.9 L204.1,211.8" stroke="#f5a020" stroke-width="1"/>
<path d="M207.4,205.9 L211.2,209.7 M211.2,205.9 L207.4,209.7" stroke="#f5a020" stroke-width="1"/>
<path d="M211.5,202.8 L215.3,206.6 M215.3,202.8 L211.5,206.6" stroke="#f5a020" stroke-width="1"/>
<path d="M215.7,200.7 L219.5,204.5 M219.5,200.7 L215.7,204.5" stroke="#f5a020" stroke-width="1"/>
<path d="M219.8,201.8 L223.7,205.6 M223.7,201.8 L219.8,205.6" stroke="#f5a020" stroke-width="1"/>
<path d="M224.0,198.7 L227.8,202.5 M227.8,198.7 L224.0,202.5" stroke="#f5a020" stroke-width="1"/>
<path d="M227.3,194.6 L231.1,198.4 M231.1,194.6 L227.3,198.4" stroke="#f5a020" stroke-width="1"/>
<path d="M230.6,193.5 L234.4,197.3 M234.4,193.5 L230.6,197.3" stroke="#f5a020" stroke-width="1"/>
<path d="M234.0,193.5 L237.8,197.3 M237.8,193.5 L234.0,197.3" stroke="#f5a020" stroke-width="1"/>
<path d="M237.3,193.5 L241.1,197.3 M241.1,193.5 L237.3,197.3" stroke="#f5a020" stroke-width="1"/>
<path d="M240.6,190.4 L244.4,194.2 M244.4,190.4 L240.6,194.2" stroke="#f5a020" stroke-width="1"/>
<path d="M245.6,186.3 L249.4,190.1 M249.4,186.3 L245.6,190.1" stroke="#f5a020" stroke-width="1"/>
<path d="M250.6,190.4 L254.4,194.2 M254.4,190.4 L250.6,194.2" stroke="#f5a020" stroke-width="1"/>
<path d="M262.2,186.3 L266.0,190.1 M266.0,186.3 L262.2,190.1" stroke="#f5a020" stroke-width="1"/>
<path d="M272.1,191.5 L275.9,195.3 M275.9,191.5 L272.1,195.3" stroke="#f5a020" stroke-width="1"/>
<path d="M282.1,187.3 L285.9,191.2 M285.9,187.3 L282.1,191.2" stroke="#f5a020" stroke-width="1"/>
<path d="M287.9,184.3 L291.7,188.1 M291.7,184.3 L287.9,188.1" stroke="#f5a020" stroke-width="1"/>
<path d="M304.5,184.3 L308.3,188.1 M308.3,184.3 L304.5,188.1" stroke="#f5a020" stroke-width="1"/>
<path d="M318.6,177.0 L322.4,180.8 M322.4,177.0 L318.6,180.8" stroke="#f5a020" stroke-width="1"/>
<path d="M201.8,200.6 L205.2,198.5 L209.3,196.5 L213.4,194.4 L217.6,192.3 L222.6,191.3 L225.9,189.2 L230.9,187.2 L234.2,184.1 L239.2,183.1 L242.5,182.0 L250.8,184.1 L264.1,185.1 L274.0,185.1 L284.0,183.1 L289.8,187.2 L306.4,185.1 L320.5,187.2" fill="none" stroke="#7a4a9a" stroke-width="1.1"/>
<path d="M201.8,198.3 L204.0,202.1 L199.6,202.1 Z" fill="#7a4a9a"/>
<path d="M205.2,196.2 L207.3,200.0 L203.0,200.0 Z" fill="#7a4a9a"/>
<path d="M209.3,194.2 L211.5,198.0 L207.1,198.0 Z" fill="#7a4a9a"/>
<path d="M213.4,192.1 L215.6,195.9 L211.2,195.9 Z" fill="#7a4a9a"/>
<path d="M217.6,190.0 L219.8,193.8 L215.4,193.8 Z" fill="#7a4a9a"/>
<path d="M222.6,189.0 L224.8,192.8 L220.4,192.8 Z" fill="#7a4a9a"/>
<path d="M225.9,186.9 L228.1,190.8 L223.7,190.8 Z" fill="#7a4a9a"/>
<path d="M230.9,184.9 L233.1,188.7 L228.7,188.7 Z" fill="#7a4a9a"/>
<path d="M234.2,181.8 L236.4,185.6 L232.0,185.6 Z" fill="#7a4a9a"/>
<path d="M239.2,180.8 L241.4,184.6 L237.0,184.6 Z" fill="#7a4a9a"/>
<path d="M242.5,179.7 L244.7,183.5 L240.3,183.5 Z" fill="#7a4a9a"/>
<path d="M250.8,181.8 L253.0,185.6 L248.6,185.6 Z" fill="#7a4a9a"/>
<path d="M264.1,182.8 L266.3,186.6 L261.9,186.6 Z" fill="#7a4a9a"/>
<path d="M274.0,182.8 L276.2,186.6 L271.8,186.6 Z" fill="#7a4a9a"/>
<path d="M284.0,180.8 L286.2,184.6 L281.8,184.6 Z" fill="#7a4a9a"/>
<path d="M289.8,184.9 L292.0,188.7 L287.6,188.7 Z" fill="#7a4a9a"/>
<path d="M306.4,182.8 L308.6,186.6 L304.2,186.6 Z" fill="#7a4a9a"/>
<path d="M320.5,184.9 L322.7,188.7 L318.3,188.7 Z" fill="#7a4a9a"/>
<path d="M201.8,206.8 L203.5,204.7 L206.0,202.6 L209.3,200.6 L213.4,198.5 L217.6,197.5 L221.8,199.6 L225.9,195.4 L230.1,192.3 L234.2,189.2 L239.2,194.4 L242.5,190.3 L247.5,188.2 L252.5,184.1 L264.1,181.0 L274.0,186.2 L284.0,190.3 L289.8,190.3 L306.4,181.0 L320.5,186.2" fill="none" stroke="#1a3a6a" stroke-width="1.1"/>
<path d="M201.8,204.7 L203.7,206.8 L201.8,208.9 L199.9,206.8 Z" fill="#1a3a6a"/>
<path d="M203.5,202.6 L205.4,204.7 L203.5,206.8 L201.6,204.7 Z" fill="#1a3a6a"/>
<path d="M206.0,200.5 L207.9,202.6 L206.0,204.7 L204.1,202.6 Z" fill="#1a3a6a"/>
<path d="M209.3,198.5 L211.2,200.6 L209.3,202.7 L207.4,200.6 Z" fill="#1a3a6a"/>
<path d="M213.4,196.4 L215.3,198.5 L213.4,200.6 L211.5,198.5 Z" fill="#1a3a6a"/>
<path d="M217.6,195.4 L219.5,197.5 L217.6,199.6 L215.7,197.5 Z" fill="#1a3a6a"/>
<path d="M221.8,197.5 L223.7,199.6 L221.8,201.7 L219.8,199.6 Z" fill="#1a3a6a"/>
<path d="M225.9,193.3 L227.8,195.4 L225.9,197.5 L224.0,195.4 Z" fill="#1a3a6a"/>
<path d="M230.1,190.2 L232.0,192.3 L230.1,194.4 L228.2,192.3 Z" fill="#1a3a6a"/>
<path d="M234.2,187.2 L236.1,189.2 L234.2,191.3 L232.3,189.2 Z" fill="#1a3a6a"/>
<path d="M239.2,192.3 L241.1,194.4 L239.2,196.5 L237.3,194.4 Z" fill="#1a3a6a"/>
<path d="M242.5,188.2 L244.4,190.3 L242.5,192.4 L240.6,190.3 Z" fill="#1a3a6a"/>
<path d="M247.5,186.1 L249.4,188.2 L247.5,190.3 L245.6,188.2 Z" fill="#1a3a6a"/>
<path d="M252.5,182.0 L254.4,184.1 L252.5,186.2 L250.6,184.1 Z" fill="#1a3a6a"/>
<path d="M264.1,178.9 L266.0,181.0 L264.1,183.1 L262.2,181.0 Z" fill="#1a3a6a"/>
<path d="M274.0,184.1 L275.9,186.2 L274.0,188.3 L272.1,186.2 Z" fill="#1a3a6a"/>
<path d="M284.0,188.2 L285.9,190.3 L284.0,192.4 L282.1,190.3 Z" fill="#1a3a6a"/>
<path d="M289.8,188.2 L291.7,190.3 L289.8,192.4 L287.9,190.3 Z" fill="#1a3a6a"/>
<path d="M306.4,178.9 L308.3,181.0 L306.4,183.1 L304.5,181.0 Z" fill="#1a3a6a"/>
<path d="M320.5,184.1 L322.4,186.2 L320.5,188.3 L318.6,186.2 Z" fill="#1a3a6a"/>
<path d="M201.8,196.5 L203.5,194.4 L205.2,192.3 L207.6,192.3 L209.3,188.2 L211.0,189.2 L213.4,190.3 L217.6,188.2 L221.8,186.2 L225.9,186.2 L229.2,185.1 L232.5,184.1 L235.9,184.1 L239.2,171.7 L242.5,184.1 L247.5,186.2 L250.8,182.0 L259.1,176.9 L264.1,170.7 L274.0,184.1 L284.0,168.7 L289.8,186.2 L306.4,177.9 L320.5,186.2" fill="none" stroke="#1f8a7a" stroke-width="1.1"/>
<rect x="199.7" y="194.4" width="4.2" height="4.2" fill="#fff" stroke="#1f8a7a" stroke-width="0.9"/>
<rect x="201.4" y="192.3" width="4.2" height="4.2" fill="#fff" stroke="#1f8a7a" stroke-width="0.9"/>
<rect x="203.1" y="190.2" width="4.2" height="4.2" fill="#fff" stroke="#1f8a7a" stroke-width="0.9"/>
<rect x="205.5" y="190.2" width="4.2" height="4.2" fill="#fff" stroke="#1f8a7a" stroke-width="0.9"/>
<rect x="207.2" y="186.1" width="4.2" height="4.2" fill="#fff" stroke="#1f8a7a" stroke-width="0.9"/>
<rect x="208.9" y="187.2" width="4.2" height="4.2" fill="#fff" stroke="#1f8a7a" stroke-width="0.9"/>
<rect x="211.3" y="188.2" width="4.2" height="4.2" fill="#fff" stroke="#1f8a7a" stroke-width="0.9"/>
<rect x="215.5" y="186.1" width="4.2" height="4.2" fill="#fff" stroke="#1f8a7a" stroke-width="0.9"/>
<rect x="219.7" y="184.1" width="4.2" height="4.2" fill="#fff" stroke="#1f8a7a" stroke-width="0.9"/>
<rect x="223.8" y="184.1" width="4.2" height="4.2" fill="#fff" stroke="#1f8a7a" stroke-width="0.9"/>
<rect x="227.1" y="183.0" width="4.2" height="4.2" fill="#fff" stroke="#1f8a7a" stroke-width="0.9"/>
<rect x="230.4" y="182.0" width="4.2" height="4.2" fill="#fff" stroke="#1f8a7a" stroke-width="0.9"/>
<rect x="233.8" y="182.0" width="4.2" height="4.2" fill="#fff" stroke="#1f8a7a" stroke-width="0.9"/>
<rect x="237.1" y="169.6" width="4.2" height="4.2" fill="#fff" stroke="#1f8a7a" stroke-width="0.9"/>
<rect x="240.4" y="182.0" width="4.2" height="4.2" fill="#fff" stroke="#1f8a7a" stroke-width="0.9"/>
<rect x="245.4" y="184.1" width="4.2" height="4.2" fill="#fff" stroke="#1f8a7a" stroke-width="0.9"/>
<rect x="248.7" y="179.9" width="4.2" height="4.2" fill="#fff" stroke="#1f8a7a" stroke-width="0.9"/>
<rect x="257.0" y="174.8" width="4.2" height="4.2" fill="#fff" stroke="#1f8a7a" stroke-width="0.9"/>
<rect x="262.0" y="168.6" width="4.2" height="4.2" fill="#fff" stroke="#1f8a7a" stroke-width="0.9"/>
<rect x="271.9" y="182.0" width="4.2" height="4.2" fill="#fff" stroke="#1f8a7a" stroke-width="0.9"/>
<rect x="281.9" y="166.6" width="4.2" height="4.2" fill="#fff" stroke="#1f8a7a" stroke-width="0.9"/>
<rect x="287.7" y="184.1" width="4.2" height="4.2" fill="#fff" stroke="#1f8a7a" stroke-width="0.9"/>
<rect x="304.3" y="175.8" width="4.2" height="4.2" fill="#fff" stroke="#1f8a7a" stroke-width="0.9"/>
<rect x="318.4" y="184.1" width="4.2" height="4.2" fill="#fff" stroke="#1f8a7a" stroke-width="0.9"/>
<path d="M201.8,204.7 L203.5,202.6 L206.0,198.5 L209.3,194.4 L213.4,192.3 L217.6,194.4 L221.8,190.3 L225.9,189.2 L229.2,178.9 L230.9,173.8 L234.2,175.9 L239.2,176.9 L242.5,183.1 L245.8,173.8 L249.1,163.5 L252.5,168.7 L264.1,158.3 L274.0,183.1 L287.3,186.2 L306.4,192.3 L320.5,193.4" fill="none" stroke="#c8203c" stroke-width="1.1"/>
<circle cx="201.8" cy="204.7" r="2.2" fill="#fff" stroke="#c8203c" stroke-width="0.9"/>
<circle cx="203.5" cy="202.6" r="2.2" fill="#fff" stroke="#c8203c" stroke-width="0.9"/>
<circle cx="206.0" cy="198.5" r="2.2" fill="#fff" stroke="#c8203c" stroke-width="0.9"/>
<circle cx="209.3" cy="194.4" r="2.2" fill="#fff" stroke="#c8203c" stroke-width="0.9"/>
<circle cx="213.4" cy="192.3" r="2.2" fill="#fff" stroke="#c8203c" stroke-width="0.9"/>
<circle cx="217.6" cy="194.4" r="2.2" fill="#fff" stroke="#c8203c" stroke-width="0.9"/>
<circle cx="221.8" cy="190.3" r="2.2" fill="#fff" stroke="#c8203c" stroke-width="0.9"/>
<circle cx="225.9" cy="189.2" r="2.2" fill="#fff" stroke="#c8203c" stroke-width="0.9"/>
<circle cx="229.2" cy="178.9" r="2.2" fill="#fff" stroke="#c8203c" stroke-width="0.9"/>
<circle cx="230.9" cy="173.8" r="2.2" fill="#fff" stroke="#c8203c" stroke-width="0.9"/>
<circle cx="234.2" cy="175.9" r="2.2" fill="#fff" stroke="#c8203c" stroke-width="0.9"/>
<circle cx="239.2" cy="176.9" r="2.2" fill="#fff" stroke="#c8203c" stroke-width="0.9"/>
<circle cx="242.5" cy="183.1" r="2.2" fill="#fff" stroke="#c8203c" stroke-width="0.9"/>
<circle cx="245.8" cy="173.8" r="2.2" fill="#fff" stroke="#c8203c" stroke-width="0.9"/>
<circle cx="249.1" cy="163.5" r="2.2" fill="#fff" stroke="#c8203c" stroke-width="0.9"/>
<circle cx="252.5" cy="168.7" r="2.2" fill="#fff" stroke="#c8203c" stroke-width="0.9"/>
<circle cx="264.1" cy="158.3" r="2.2" fill="#fff" stroke="#c8203c" stroke-width="0.9"/>
<circle cx="274.0" cy="183.1" r="2.2" fill="#fff" stroke="#c8203c" stroke-width="0.9"/>
<circle cx="287.3" cy="186.2" r="2.2" fill="#fff" stroke="#c8203c" stroke-width="0.9"/>
<circle cx="306.4" cy="192.3" r="2.2" fill="#fff" stroke="#c8203c" stroke-width="0.9"/>
<circle cx="320.5" cy="193.4" r="2.2" fill="#fff" stroke="#c8203c" stroke-width="0.9"/>
<line x1="201" y1="248.8" x2="208.8" y2="248.8" stroke="#1f8a7a" stroke-width="0.8" />
<rect x="202.8" y="246.7" width="4.2" height="4.2" fill="#fff" stroke="#1f8a7a" stroke-width="0.9"/>
<text x="210.8" y="251.57" font-size="8" fill="#161616" stroke="#161616" stroke-width="0.18" textLength="34.6" lengthAdjust="spacingAndGlyphs" >Monocytes</text>
<line x1="257" y1="248.8" x2="264.5" y2="248.8" stroke="#f5a020" stroke-width="0.8" />
<path d="M258.9,246.9 L262.6,250.7 M262.6,246.9 L258.9,250.7" stroke="#f5a020" stroke-width="1"/>
<text x="267" y="251.57" font-size="8" fill="#161616" stroke="#161616" stroke-width="0.18" textLength="20" lengthAdjust="spacingAndGlyphs" >T cells</text>
<line x1="294.4" y1="248.8" x2="302" y2="248.8" stroke="#c8203c" stroke-width="0.8" />
<circle cx="298.2" cy="248.8" r="2.2" fill="#fff" stroke="#c8203c" stroke-width="0.9"/>
<text x="304.5" y="251.57" font-size="8" fill="#161616" stroke="#161616" stroke-width="0.18" textLength="26" lengthAdjust="spacingAndGlyphs" >NK cells</text>
<line x1="201" y1="259.5" x2="208.8" y2="259.5" stroke="#7a4a9a" stroke-width="0.8" />
<path d="M204.9,257.2 L207.1,261.0 L202.7,261.0 Z" fill="#7a4a9a"/>
<text x="210.8" y="262.27" font-size="8" fill="#161616" stroke="#161616" stroke-width="0.18" textLength="41.8" lengthAdjust="spacingAndGlyphs" >Granulocytes</text>
<line x1="257" y1="259.5" x2="264.5" y2="259.5" stroke="#1a3a6a" stroke-width="0.8" />
<path d="M260.8,257.4 L262.6,259.5 L260.8,261.6 L258.9,259.5 Z" fill="#1a3a6a"/>
<text x="267" y="262.27" font-size="8" fill="#161616" stroke="#161616" stroke-width="0.18" textLength="20" lengthAdjust="spacingAndGlyphs" >B cells</text>
<line x1="414.35" y1="150" x2="414.35" y2="214.6" stroke="#777" stroke-width="0.5" stroke-dasharray="0.8,1"/>
<line x1="455.7" y1="150" x2="455.7" y2="214.6" stroke="#777" stroke-width="0.5" stroke-dasharray="0.8,1"/>
<line x1="373" y1="152.5" x2="373" y2="214.6" stroke="#161616" stroke-width="1" />
<line x1="370.8" y1="214.6" x2="373" y2="214.6" stroke="#161616" stroke-width="0.9" />
<text x="368" y="217.30" font-size="7.8" text-anchor="end" fill="#161616" stroke="#161616" stroke-width="0.18" >0</text>
<line x1="370.8" y1="202.38" x2="373" y2="202.38" stroke="#161616" stroke-width="0.9" />
<text x="368" y="205.08" font-size="7.8" text-anchor="end" fill="#161616" stroke="#161616" stroke-width="0.18" >10</text>
<line x1="370.8" y1="190.16" x2="373" y2="190.16" stroke="#161616" stroke-width="0.9" />
<text x="368" y="192.86" font-size="7.8" text-anchor="end" fill="#161616" stroke="#161616" stroke-width="0.18" >20</text>
<line x1="370.8" y1="177.94" x2="373" y2="177.94" stroke="#161616" stroke-width="0.9" />
<text x="368" y="180.64" font-size="7.8" text-anchor="end" fill="#161616" stroke="#161616" stroke-width="0.18" >30</text>
<line x1="370.8" y1="165.72" x2="373" y2="165.72" stroke="#161616" stroke-width="0.9" />
<text x="368" y="168.42" font-size="7.8" text-anchor="end" fill="#161616" stroke="#161616" stroke-width="0.18" >40</text>
<line x1="370.8" y1="153.5" x2="373" y2="153.5" stroke="#161616" stroke-width="0.9" />
<text x="368" y="156.20" font-size="7.8" text-anchor="end" fill="#161616" stroke="#161616" stroke-width="0.18" >50</text>
<line x1="371.8" y1="208.49" x2="373" y2="208.49" stroke="#161616" stroke-width="0.7" />
<line x1="371.8" y1="196.26999999999998" x2="373" y2="196.26999999999998" stroke="#161616" stroke-width="0.7" />
<line x1="371.8" y1="184.05" x2="373" y2="184.05" stroke="#161616" stroke-width="0.7" />
<line x1="371.8" y1="171.82999999999998" x2="373" y2="171.82999999999998" stroke="#161616" stroke-width="0.7" />
<line x1="371.8" y1="159.61" x2="373" y2="159.61" stroke="#161616" stroke-width="0.7" />
<line x1="373" y1="214.6" x2="497.5" y2="214.6" stroke="#161616" stroke-width="1" />
<line x1="373.0" y1="214.6" x2="373.0" y2="217" stroke="#161616" stroke-width="0.8" />
<line x1="381.27" y1="214.6" x2="381.27" y2="216" stroke="#161616" stroke-width="0.8" />
<line x1="389.54" y1="214.6" x2="389.54" y2="216" stroke="#161616" stroke-width="0.8" />
<line x1="397.81" y1="214.6" x2="397.81" y2="216" stroke="#161616" stroke-width="0.8" />
<line x1="406.08" y1="214.6" x2="406.08" y2="216" stroke="#161616" stroke-width="0.8" />
<line x1="414.35" y1="214.6" x2="414.35" y2="217" stroke="#161616" stroke-width="0.8" />
<line x1="422.62" y1="214.6" x2="422.62" y2="216" stroke="#161616" stroke-width="0.8" />
<line x1="430.89" y1="214.6" x2="430.89" y2="216" stroke="#161616" stroke-width="0.8" />
<line x1="439.15999999999997" y1="214.6" x2="439.15999999999997" y2="216" stroke="#161616" stroke-width="0.8" />
<line x1="447.43" y1="214.6" x2="447.43" y2="216" stroke="#161616" stroke-width="0.8" />
<line x1="455.7" y1="214.6" x2="455.7" y2="217" stroke="#161616" stroke-width="0.8" />
<line x1="463.97" y1="214.6" x2="463.97" y2="216" stroke="#161616" stroke-width="0.8" />
<line x1="472.24" y1="214.6" x2="472.24" y2="216" stroke="#161616" stroke-width="0.8" />
<line x1="480.51" y1="214.6" x2="480.51" y2="216" stroke="#161616" stroke-width="0.8" />
<line x1="488.78" y1="214.6" x2="488.78" y2="216" stroke="#161616" stroke-width="0.8" />
<line x1="497.05" y1="214.6" x2="497.05" y2="217" stroke="#161616" stroke-width="0.8" />
<text x="373.0" y="227.70" font-size="7.8" text-anchor="middle" fill="#161616" stroke="#161616" stroke-width="0.18" >0</text>
<text x="414.35" y="227.70" font-size="7.8" text-anchor="middle" fill="#161616" stroke="#161616" stroke-width="0.18" >500</text>
<text x="455.7" y="227.70" font-size="7.8" text-anchor="middle" fill="#161616" stroke="#161616" stroke-width="0.18" >1000</text>
<text x="497.05" y="227.70" font-size="7.8" text-anchor="middle" fill="#161616" stroke="#161616" stroke-width="0.18" >1500</text>
<text x="434.5" y="240.12" font-size="9" text-anchor="middle" fill="#1a1a1a" font-weight="bold" textLength="57" lengthAdjust="spacingAndGlyphs" >Days post-transplant</text>
<text x="348.7" y="184.98" font-size="8.6" text-anchor="middle" fill="#161616" font-weight="bold" textLength="56" lengthAdjust="spacingAndGlyphs" transform="rotate(-90 348.7 182)">% fluorophore<tspan baseline-shift="3.03" font-size="6.60">+</tspan> cells</text>
<path d="M377.1,175.5 L382.1,170.6 L388.7,173.1 L395.3,179.8 L403.6,179.2 L421.0,181.6 L436.7,180.4 L483.8,175.5" fill="none" stroke="#1f4e8c" stroke-width="1"/>
<path d="M377.1,176.7 L382.1,176.7 L388.7,163.3 L395.3,177.9 L403.6,179.2 L421.0,182.8 L436.7,182.2 L483.8,174.9" fill="none" stroke="#c8203c" stroke-width="1"/>
<rect x="374.6" y="173.0" width="5" height="5" fill="#1f4e8c"/>
<rect x="379.6" y="168.1" width="5" height="5" fill="#1f4e8c"/>
<rect x="386.2" y="170.6" width="5" height="5" fill="#1f4e8c"/>
<rect x="392.8" y="177.3" width="5" height="5" fill="#1f4e8c"/>
<rect x="401.1" y="176.7" width="5" height="5" fill="#1f4e8c"/>
<rect x="418.5" y="179.1" width="5" height="5" fill="#1f4e8c"/>
<rect x="434.2" y="177.9" width="5" height="5" fill="#1f4e8c"/>
<rect x="481.3" y="173.0" width="5" height="5" fill="#1f4e8c"/>
<path d="M377.1,173.8 L379.9,178.7 L374.3,178.7 Z" fill="#c8203c"/>
<path d="M382.1,173.8 L384.9,178.7 L379.3,178.7 Z" fill="#c8203c"/>
<path d="M388.7,160.4 L391.5,165.3 L385.9,165.3 Z" fill="#c8203c"/>
<path d="M395.3,175.0 L398.1,179.9 L392.5,179.9 Z" fill="#c8203c"/>
<path d="M403.6,176.3 L406.4,181.2 L400.8,181.2 Z" fill="#c8203c"/>
<path d="M421.0,179.9 L423.8,184.8 L418.2,184.8 Z" fill="#c8203c"/>
<path d="M436.7,179.3 L439.5,184.2 L433.9,184.2 Z" fill="#c8203c"/>
<path d="M483.8,172.0 L486.6,176.9 L481.0,176.9 Z" fill="#c8203c"/>
<line x1="373.8" y1="251.7" x2="383" y2="251.7" stroke="#1f4e8c" stroke-width="0.9" />
<rect x="376" y="249.3" width="4.8" height="4.8" fill="#1f4e8c"/>
<text x="385" y="254.47" font-size="8" fill="#161616" stroke="#161616" stroke-width="0.18" textLength="48.5" lengthAdjust="spacingAndGlyphs" >CD34<tspan baseline-shift="2.48" font-size="4.5">high</tspan> mCh<tspan baseline-shift="2.48" font-size="5.40">+</tspan></text>
<line x1="438.5" y1="251.7" x2="447.7" y2="251.7" stroke="#c8203c" stroke-width="0.9" />
<path d="M443,248.9 L445.7,253.6 L440.3,253.6 Z" fill="#c8203c"/>
<text x="449.3" y="254.47" font-size="8" fill="#161616" stroke="#161616" stroke-width="0.18" textLength="43.5" lengthAdjust="spacingAndGlyphs" >CD90<tspan baseline-shift="2.48" font-size="5.40">+</tspan> mCh<tspan baseline-shift="2.48" font-size="5.40">+</tspan></text>
<text x="98.5" y="309.98" font-size="8.6" text-anchor="middle" fill="#161616" stroke="#161616" stroke-width="0.18" textLength="124.6" lengthAdjust="spacingAndGlyphs" >Phenotypical composition of the</text>
<text x="98.2" y="318.98" font-size="8.6" text-anchor="middle" fill="#161616" stroke="#161616" stroke-width="0.18" textLength="106.2" lengthAdjust="spacingAndGlyphs" >BM stem cell compartment</text>
<line x1="42.9" y1="326.8" x2="42.9" y2="401" stroke="#161616" stroke-width="1" />
<line x1="40.699999999999996" y1="401.0" x2="42.9" y2="401.0" stroke="#161616" stroke-width="0.9" />
<text x="38.6" y="403.63" font-size="7.6" text-anchor="end" fill="#161616" stroke="#161616" stroke-width="0.18" >0</text>
<line x1="40.699999999999996" y1="386.3" x2="42.9" y2="386.3" stroke="#161616" stroke-width="0.9" />
<text x="38.6" y="388.93" font-size="7.6" text-anchor="end" fill="#161616" stroke="#161616" stroke-width="0.18" >20</text>
<line x1="40.699999999999996" y1="371.6" x2="42.9" y2="371.6" stroke="#161616" stroke-width="0.9" />
<text x="38.6" y="374.23" font-size="7.6" text-anchor="end" fill="#161616" stroke="#161616" stroke-width="0.18" >40</text>
<line x1="40.699999999999996" y1="356.9" x2="42.9" y2="356.9" stroke="#161616" stroke-width="0.9" />
<text x="38.6" y="359.53" font-size="7.6" text-anchor="end" fill="#161616" stroke="#161616" stroke-width="0.18" >60</text>
<line x1="40.699999999999996" y1="342.2" x2="42.9" y2="342.2" stroke="#161616" stroke-width="0.9" />
<text x="38.6" y="344.83" font-size="7.6" text-anchor="end" fill="#161616" stroke="#161616" stroke-width="0.18" >80</text>
<line x1="40.699999999999996" y1="327.5" x2="42.9" y2="327.5" stroke="#161616" stroke-width="0.9" />
<text x="38.6" y="330.13" font-size="7.6" text-anchor="end" fill="#161616" stroke="#161616" stroke-width="0.18" >100</text>
<line x1="41.699999999999996" y1="393.65" x2="42.9" y2="393.65" stroke="#161616" stroke-width="0.7" />
<line x1="41.699999999999996" y1="378.95000000000005" x2="42.9" y2="378.95000000000005" stroke="#161616" stroke-width="0.7" />
<line x1="41.699999999999996" y1="364.25" x2="42.9" y2="364.25" stroke="#161616" stroke-width="0.7" />
<line x1="41.699999999999996" y1="349.54999999999995" x2="42.9" y2="349.54999999999995" stroke="#161616" stroke-width="0.7" />
<line x1="41.699999999999996" y1="334.85" x2="42.9" y2="334.85" stroke="#161616" stroke-width="0.7" />
<line x1="42.9" y1="401" x2="153.4" y2="401" stroke="#161616" stroke-width="1" />
<rect x="45.4" y="327.5" width="7.7" height="7.350000000000023" fill="#a6bd7c" />
<rect x="45.4" y="334.85" width="7.7" height="19.84499999999997" fill="#c8c8ce" />
<rect x="45.4" y="354.695" width="7.7" height="46.30500000000001" fill="#3e4a5d" />
<line x1="45.4" y1="334.85" x2="53.1" y2="334.85" stroke="#fff" stroke-width="0.6" />
<line x1="45.4" y1="354.695" x2="53.1" y2="354.695" stroke="#fff" stroke-width="0.6" />
<line x1="49.25" y1="401" x2="49.25" y2="403.3" stroke="#161616" stroke-width="0.8" />
<text x="51.45" y="412.00" font-size="7.8" text-anchor="end" fill="#161616" stroke="#161616" stroke-width="0.18" transform="rotate(-45 51.5 409.3)">0</text>
<rect x="57.66" y="327.5" width="7.7" height="7.350000000000023" fill="#a6bd7c" />
<rect x="57.66" y="334.85" width="7.7" height="8.08499999999998" fill="#c8c8ce" />
<rect x="57.66" y="342.935" width="7.7" height="58.065" fill="#3e4a5d" />
<line x1="57.66" y1="334.85" x2="65.36" y2="334.85" stroke="#fff" stroke-width="0.6" />
<line x1="57.66" y1="342.935" x2="65.36" y2="342.935" stroke="#fff" stroke-width="0.6" />
<line x1="61.51" y1="401" x2="61.51" y2="403.3" stroke="#161616" stroke-width="0.8" />
<text x="63.71" y="412.00" font-size="7.8" text-anchor="end" fill="#161616" stroke="#161616" stroke-width="0.18" transform="rotate(-45 63.7 409.3)">56</text>
<rect x="69.92" y="327.5" width="7.7" height="2.204999999999984" fill="#a6bd7c" />
<rect x="69.92" y="329.705" width="7.7" height="4.410000000000025" fill="#c8c8ce" />
<rect x="69.92" y="334.115" width="7.7" height="66.88499999999999" fill="#3e4a5d" />
<line x1="69.92" y1="329.705" x2="77.62" y2="329.705" stroke="#fff" stroke-width="0.6" />
<line x1="69.92" y1="334.115" x2="77.62" y2="334.115" stroke="#fff" stroke-width="0.6" />
<line x1="73.77" y1="401" x2="73.77" y2="403.3" stroke="#161616" stroke-width="0.8" />
<text x="75.97" y="412.00" font-size="7.8" text-anchor="end" fill="#161616" stroke="#161616" stroke-width="0.18" transform="rotate(-45 76.0 409.3)">112</text>
<rect x="82.18" y="327.5" width="7.7" height="6.615000000000009" fill="#a6bd7c" />
<rect x="82.18" y="334.115" width="7.7" height="8.819999999999993" fill="#c8c8ce" />
<rect x="82.18" y="342.935" width="7.7" height="58.065" fill="#3e4a5d" />
<line x1="82.18" y1="334.115" x2="89.88000000000001" y2="334.115" stroke="#fff" stroke-width="0.6" />
<line x1="82.18" y1="342.935" x2="89.88000000000001" y2="342.935" stroke="#fff" stroke-width="0.6" />
<line x1="86.03" y1="401" x2="86.03" y2="403.3" stroke="#161616" stroke-width="0.8" />
<text x="88.23" y="412.00" font-size="7.8" text-anchor="end" fill="#161616" stroke="#161616" stroke-width="0.18" transform="rotate(-45 88.2 409.3)">194</text>
<rect x="94.44" y="327.5" width="7.7" height="6.615000000000009" fill="#a6bd7c" />
<rect x="94.44" y="334.115" width="7.7" height="6.615000000000009" fill="#c8c8ce" />
<rect x="94.44" y="340.73" width="7.7" height="60.26999999999998" fill="#3e4a5d" />
<line x1="94.44" y1="334.115" x2="102.14" y2="334.115" stroke="#fff" stroke-width="0.6" />
<line x1="94.44" y1="340.73" x2="102.14" y2="340.73" stroke="#fff" stroke-width="0.6" />
<line x1="98.28999999999999" y1="401" x2="98.28999999999999" y2="403.3" stroke="#161616" stroke-width="0.8" />
<text x="100.49" y="412.00" font-size="7.8" text-anchor="end" fill="#161616" stroke="#161616" stroke-width="0.18" transform="rotate(-45 100.5 409.3)">278</text>
<rect x="106.7" y="327.5" width="7.7" height="6.615000000000009" fill="#a6bd7c" />
<rect x="106.7" y="334.115" width="7.7" height="7.350000000000023" fill="#c8c8ce" />
<rect x="106.7" y="341.46500000000003" width="7.7" height="59.53499999999997" fill="#3e4a5d" />
<line x1="106.7" y1="334.115" x2="114.4" y2="334.115" stroke="#fff" stroke-width="0.6" />
<line x1="106.7" y1="341.46500000000003" x2="114.4" y2="341.46500000000003" stroke="#fff" stroke-width="0.6" />
<line x1="110.55" y1="401" x2="110.55" y2="403.3" stroke="#161616" stroke-width="0.8" />
<text x="112.75" y="412.00" font-size="7.8" text-anchor="end" fill="#161616" stroke="#161616" stroke-width="0.18" transform="rotate(-45 112.8 409.3)">369</text>
<rect x="118.96000000000001" y="327.5" width="7.7" height="6.615000000000009" fill="#a6bd7c" />
<rect x="118.96000000000001" y="334.115" width="7.7" height="2.204999999999984" fill="#c8c8ce" />
<rect x="118.96000000000001" y="336.32" width="7.7" height="64.68" fill="#3e4a5d" />
<line x1="118.96000000000001" y1="334.115" x2="126.66000000000001" y2="334.115" stroke="#fff" stroke-width="0.6" />
<line x1="118.96000000000001" y1="336.32" x2="126.66000000000001" y2="336.32" stroke="#fff" stroke-width="0.6" />
<line x1="122.81" y1="401" x2="122.81" y2="403.3" stroke="#161616" stroke-width="0.8" />
<text x="125.01" y="412.00" font-size="7.8" text-anchor="end" fill="#161616" stroke="#161616" stroke-width="0.18" transform="rotate(-45 125.0 409.3)">573</text>
<rect x="131.22" y="327.5" width="7.7" height="5.8799999999999955" fill="#a6bd7c" />
<rect x="131.22" y="333.38" width="7.7" height="14.699999999999989" fill="#c8c8ce" />
<rect x="131.22" y="348.08" width="7.7" height="52.920000000000016" fill="#3e4a5d" />
<line x1="131.22" y1="333.38" x2="138.92" y2="333.38" stroke="#fff" stroke-width="0.6" />
<line x1="131.22" y1="348.08" x2="138.92" y2="348.08" stroke="#fff" stroke-width="0.6" />
<line x1="135.07" y1="401" x2="135.07" y2="403.3" stroke="#161616" stroke-width="0.8" />
<text x="137.26999999999998" y="412.00" font-size="7.8" text-anchor="end" fill="#161616" stroke="#161616" stroke-width="0.18" transform="rotate(-45 137.3 409.3)">771</text>
<rect x="143.48" y="327.5" width="7.7" height="7.350000000000023" fill="#a6bd7c" />
<rect x="143.48" y="334.85" width="7.7" height="18.375" fill="#c8c8ce" />
<rect x="143.48" y="353.225" width="7.7" height="47.77499999999998" fill="#3e4a5d" />
<line x1="143.48" y1="334.85" x2="151.17999999999998" y2="334.85" stroke="#fff" stroke-width="0.6" />
<line x1="143.48" y1="353.225" x2="151.17999999999998" y2="353.225" stroke="#fff" stroke-width="0.6" />
<line x1="147.32999999999998" y1="401" x2="147.32999999999998" y2="403.3" stroke="#161616" stroke-width="0.8" />
<text x="149.52999999999997" y="412.00" font-size="7.8" text-anchor="end" fill="#161616" stroke="#161616" stroke-width="0.18" transform="rotate(-45 149.5 409.3)">1340</text>
<text x="15.6" y="366.34" font-size="8.2" text-anchor="middle" fill="#161616" font-weight="bold" textLength="52" lengthAdjust="spacingAndGlyphs" transform="rotate(-90 15.6 363.5)">% in CD34<tspan baseline-shift="2.75" font-size="5.0">high</tspan> cells</text>
<rect x="42.9" y="431.3" width="5.4" height="5.4" fill="#a6bd7c" />
<text x="51.4" y="436.77" font-size="8" fill="#161616" stroke="#161616" stroke-width="0.18" textLength="72.4" lengthAdjust="spacingAndGlyphs" >CD34<tspan baseline-shift="2.48" font-size="5.40">+</tspan>CD90<tspan baseline-shift="2.48" font-size="5.40">+</tspan>CD45RA<tspan baseline-shift="2.48" font-size="5.40">−</tspan></text>
<rect x="42.9" y="443.1" width="5.4" height="5.4" fill="#c8c8ce" />
<text x="51.4" y="448.57" font-size="8" fill="#161616" stroke="#161616" stroke-width="0.18" textLength="76.2" lengthAdjust="spacingAndGlyphs" >CD34<tspan baseline-shift="2.48" font-size="5.40">+</tspan>CD90<tspan baseline-shift="2.48" font-size="5.40">−</tspan>CD45RA<tspan baseline-shift="2.48" font-size="5.40">−</tspan></text>
<rect x="42.9" y="455.8" width="5.4" height="5.4" fill="#3e4a5d" />
<text x="51.4" y="461.27" font-size="8" fill="#161616" stroke="#161616" stroke-width="0.18" textLength="53.4" lengthAdjust="spacingAndGlyphs" >CD34<tspan baseline-shift="2.48" font-size="5.40">+</tspan>CD45RA<tspan baseline-shift="2.48" font-size="5.40">+</tspan></text>
<text x="279.2" y="299.33" font-size="9.6" text-anchor="middle" fill="#161616" stroke="#161616" stroke-width="0.18" textLength="128" lengthAdjust="spacingAndGlyphs" >CFC potential of CD34<tspan baseline-shift="3.2" font-size="7">+</tspan> HSPCs</text>
<text x="248.7" y="314.17" font-size="8" text-anchor="middle" fill="#161616" stroke="#161616" stroke-width="0.18" textLength="47.5" lengthAdjust="spacingAndGlyphs" >CD34<tspan baseline-shift="2.75" font-size="6.00">+</tspan>mCh<tspan baseline-shift="2.75" font-size="6.00">−</tspan></text>
<text x="314.7" y="314.17" font-size="8" text-anchor="middle" fill="#c8203c" stroke="#c8203c" stroke-width="0.18" textLength="47.5" lengthAdjust="spacingAndGlyphs" >CD34<tspan baseline-shift="2.75" font-size="6.00">+</tspan>mCh<tspan baseline-shift="2.75" font-size="6.00">+</tspan></text>
<line x1="216.2" y1="320.70000000000005" x2="216.2" y2="401.3" stroke="#161616" stroke-width="1" />
<line x1="213.6" y1="401.3" x2="216.2" y2="401.3" stroke="#161616" stroke-width="0.8" />
<line x1="214.79999999999998" y1="395.96000000000004" x2="216.2" y2="395.96000000000004" stroke="#161616" stroke-width="0.8" />
<line x1="214.79999999999998" y1="390.62" x2="216.2" y2="390.62" stroke="#161616" stroke-width="0.8" />
<line x1="214.79999999999998" y1="385.28000000000003" x2="216.2" y2="385.28000000000003" stroke="#161616" stroke-width="0.8" />
<line x1="214.79999999999998" y1="379.94" x2="216.2" y2="379.94" stroke="#161616" stroke-width="0.8" />
<line x1="213.6" y1="374.6" x2="216.2" y2="374.6" stroke="#161616" stroke-width="0.8" />
<line x1="214.79999999999998" y1="369.26" x2="216.2" y2="369.26" stroke="#161616" stroke-width="0.8" />
<line x1="214.79999999999998" y1="363.92" x2="216.2" y2="363.92" stroke="#161616" stroke-width="0.8" />
<line x1="214.79999999999998" y1="358.58000000000004" x2="216.2" y2="358.58000000000004" stroke="#161616" stroke-width="0.8" />
<line x1="214.79999999999998" y1="353.24" x2="216.2" y2="353.24" stroke="#161616" stroke-width="0.8" />
<line x1="213.6" y1="347.90000000000003" x2="216.2" y2="347.90000000000003" stroke="#161616" stroke-width="0.8" />
<line x1="214.79999999999998" y1="342.56" x2="216.2" y2="342.56" stroke="#161616" stroke-width="0.8" />
<line x1="214.79999999999998" y1="337.22" x2="216.2" y2="337.22" stroke="#161616" stroke-width="0.8" />
<line x1="214.79999999999998" y1="331.88" x2="216.2" y2="331.88" stroke="#161616" stroke-width="0.8" />
<line x1="214.79999999999998" y1="326.54" x2="216.2" y2="326.54" stroke="#161616" stroke-width="0.8" />
<line x1="213.6" y1="321.20000000000005" x2="216.2" y2="321.20000000000005" stroke="#161616" stroke-width="0.8" />
<text x="209.7" y="403.93" font-size="7.6" text-anchor="end" fill="#161616" stroke="#161616" stroke-width="0.18" >0</text>
<text x="209.7" y="377.23" font-size="7.6" text-anchor="end" fill="#161616" stroke="#161616" stroke-width="0.18" >10</text>
<text x="209.7" y="350.53" font-size="7.6" text-anchor="end" fill="#161616" stroke="#161616" stroke-width="0.18" >20</text>
<text x="209.7" y="323.83" font-size="7.6" text-anchor="end" fill="#161616" stroke="#161616" stroke-width="0.18" >30</text>
<rect x="218" y="397.028" width="4.8" height="4.271999999999991" fill="#3e4a5d" />
<rect x="218" y="394.625" width="4.8" height="2.40300000000002" fill="#c8c8ce" />
<line x1="220.4" y1="401.3" x2="220.4" y2="403.5" stroke="#161616" stroke-width="0.8" />
<rect x="225" y="389.819" width="4.8" height="11.480999999999995" fill="#3e4a5d" />
<rect x="225" y="379.406" width="4.8" height="10.413000000000011" fill="#c8c8ce" />
<line x1="227.4" y1="401.3" x2="227.4" y2="403.5" stroke="#161616" stroke-width="0.8" />
<rect x="232.6" y="378.872" width="4.8" height="22.427999999999997" fill="#3e4a5d" />
<rect x="232.6" y="367.658" width="4.8" height="11.213999999999999" fill="#c8c8ce" />
<line x1="235.0" y1="401.3" x2="235.0" y2="403.5" stroke="#161616" stroke-width="0.8" />
<rect x="240" y="376.202" width="4.8" height="25.098000000000013" fill="#3e4a5d" />
<rect x="240" y="366.857" width="4.8" height="9.34499999999997" fill="#c8c8ce" />
<rect x="240" y="366.05600000000004" width="4.8" height="0.8009999999999877" fill="#e59a9a" />
<line x1="242.4" y1="401.3" x2="242.4" y2="403.5" stroke="#161616" stroke-width="0.8" />
<rect x="247.7" y="374.6" width="4.8" height="26.69999999999999" fill="#3e4a5d" />
<rect x="247.7" y="370.595" width="4.8" height="4.0049999999999955" fill="#a6bd7c" />
<rect x="247.7" y="358.046" width="4.8" height="12.549000000000035" fill="#c8c8ce" />
<rect x="247.7" y="356.978" width="4.8" height="1.0679999999999836" fill="#e59a9a" />
<line x1="250.1" y1="401.3" x2="250.1" y2="403.5" stroke="#161616" stroke-width="0.8" />
<rect x="255.2" y="393.824" width="4.8" height="7.475999999999999" fill="#3e4a5d" />
<rect x="255.2" y="386.882" width="4.8" height="6.942000000000007" fill="#a6bd7c" />
<rect x="255.2" y="370.32800000000003" width="4.8" height="16.553999999999974" fill="#c8c8ce" />
<rect x="255.2" y="369.527" width="4.8" height="0.8010000000000446" fill="#e59a9a" />
<rect x="255.2" y="368.459" width="4.8" height="1.0679999999999836" fill="#b3102c" />
<line x1="257.59999999999997" y1="401.3" x2="257.59999999999997" y2="403.5" stroke="#161616" stroke-width="0.8" />
<rect x="262.7" y="375.668" width="4.8" height="25.632000000000005" fill="#3e4a5d" />
<rect x="262.7" y="358.313" width="4.8" height="17.355000000000018" fill="#a6bd7c" />
<rect x="262.7" y="345.764" width="4.8" height="12.548999999999978" fill="#c8c8ce" />
<rect x="262.7" y="344.696" width="4.8" height="1.0679999999999836" fill="#e59a9a" />
<rect x="262.7" y="343.094" width="4.8" height="1.6020000000000323" fill="#b3102c" />
<line x1="265.09999999999997" y1="401.3" x2="265.09999999999997" y2="403.5" stroke="#161616" stroke-width="0.8" />
<rect x="270.2" y="397.829" width="4.8" height="3.4710000000000036" fill="#3e4a5d" />
<rect x="270.2" y="383.411" width="4.8" height="14.418000000000006" fill="#a6bd7c" />
<rect x="270.2" y="338.822" width="4.8" height="44.589" fill="#c8c8ce" />
<rect x="270.2" y="337.754" width="4.8" height="1.0679999999999836" fill="#e59a9a" />
<rect x="270.2" y="334.016" width="4.8" height="3.7379999999999995" fill="#b3102c" />
<line x1="272.59999999999997" y1="401.3" x2="272.59999999999997" y2="403.5" stroke="#161616" stroke-width="0.8" />
<line x1="216.2" y1="401.3" x2="277.5" y2="401.3" stroke="#161616" stroke-width="1" />
<line x1="284.3" y1="320.70000000000005" x2="284.3" y2="401.3" stroke="#161616" stroke-width="1" />
<line x1="281.7" y1="401.3" x2="284.3" y2="401.3" stroke="#161616" stroke-width="0.8" />
<line x1="282.90000000000003" y1="395.96000000000004" x2="284.3" y2="395.96000000000004" stroke="#161616" stroke-width="0.8" />
<line x1="282.90000000000003" y1="390.62" x2="284.3" y2="390.62" stroke="#161616" stroke-width="0.8" />
<line x1="282.90000000000003" y1="385.28000000000003" x2="284.3" y2="385.28000000000003" stroke="#161616" stroke-width="0.8" />
<line x1="282.90000000000003" y1="379.94" x2="284.3" y2="379.94" stroke="#161616" stroke-width="0.8" />
<line x1="281.7" y1="374.6" x2="284.3" y2="374.6" stroke="#161616" stroke-width="0.8" />
<line x1="282.90000000000003" y1="369.26" x2="284.3" y2="369.26" stroke="#161616" stroke-width="0.8" />
<line x1="282.90000000000003" y1="363.92" x2="284.3" y2="363.92" stroke="#161616" stroke-width="0.8" />
<line x1="282.90000000000003" y1="358.58000000000004" x2="284.3" y2="358.58000000000004" stroke="#161616" stroke-width="0.8" />
<line x1="282.90000000000003" y1="353.24" x2="284.3" y2="353.24" stroke="#161616" stroke-width="0.8" />
<line x1="281.7" y1="347.90000000000003" x2="284.3" y2="347.90000000000003" stroke="#161616" stroke-width="0.8" />
<line x1="282.90000000000003" y1="342.56" x2="284.3" y2="342.56" stroke="#161616" stroke-width="0.8" />
<line x1="282.90000000000003" y1="337.22" x2="284.3" y2="337.22" stroke="#161616" stroke-width="0.8" />
<line x1="282.90000000000003" y1="331.88" x2="284.3" y2="331.88" stroke="#161616" stroke-width="0.8" />
<line x1="282.90000000000003" y1="326.54" x2="284.3" y2="326.54" stroke="#161616" stroke-width="0.8" />
<line x1="281.7" y1="321.20000000000005" x2="284.3" y2="321.20000000000005" stroke="#161616" stroke-width="0.8" />
<rect x="286" y="397.028" width="4.8" height="4.271999999999991" fill="#3e4a5d" />
<rect x="286" y="393.824" width="4.8" height="3.2040000000000077" fill="#c8c8ce" />
<line x1="288.4" y1="401.3" x2="288.4" y2="403.5" stroke="#161616" stroke-width="0.8" />
<rect x="293.2" y="389.01800000000003" width="4.8" height="12.281999999999982" fill="#3e4a5d" />
<rect x="293.2" y="371.663" width="4.8" height="17.355000000000018" fill="#c8c8ce" />
<line x1="295.59999999999997" y1="401.3" x2="295.59999999999997" y2="403.5" stroke="#161616" stroke-width="0.8" />
<rect x="300.8" y="380.741" width="4.8" height="20.559000000000026" fill="#3e4a5d" />
<rect x="300.8" y="379.139" width="4.8" height="1.6019999999999754" fill="#a6bd7c" />
<rect x="300.8" y="366.32300000000004" width="4.8" height="12.815999999999974" fill="#c8c8ce" />
<rect x="300.8" y="365.522" width="4.8" height="0.8010000000000446" fill="#e59a9a" />
<rect x="300.8" y="364.454" width="4.8" height="1.0679999999999836" fill="#b3102c" />
<line x1="303.2" y1="401.3" x2="303.2" y2="403.5" stroke="#161616" stroke-width="0.8" />
<rect x="308.3" y="369.794" width="4.8" height="31.50600000000003" fill="#3e4a5d" />
<rect x="308.3" y="368.192" width="4.8" height="1.6019999999999754" fill="#a6bd7c" />
<rect x="308.3" y="355.37600000000003" width="4.8" height="12.815999999999974" fill="#c8c8ce" />
<rect x="308.3" y="354.842" width="4.8" height="0.5340000000000487" fill="#e59a9a" />
<line x1="310.7" y1="401.3" x2="310.7" y2="403.5" stroke="#161616" stroke-width="0.8" />
<rect x="315.8" y="374.867" width="4.8" height="26.432999999999993" fill="#3e4a5d" />
<rect x="315.8" y="370.32800000000003" width="4.8" height="4.538999999999987" fill="#a6bd7c" />
<rect x="315.8" y="355.64300000000003" width="4.8" height="14.685000000000002" fill="#c8c8ce" />
<rect x="315.8" y="355.10900000000004" width="4.8" height="0.5339999999999918" fill="#e59a9a" />
<rect x="315.8" y="354.575" width="4.8" height="0.5340000000000487" fill="#b3102c" />
<line x1="318.2" y1="401.3" x2="318.2" y2="403.5" stroke="#161616" stroke-width="0.8" />
<rect x="323.2" y="393.29" width="4.8" height="8.009999999999991" fill="#3e4a5d" />
<rect x="323.2" y="386.882" width="4.8" height="6.4080000000000155" fill="#a6bd7c" />
<rect x="323.2" y="375.401" width="4.8" height="11.480999999999995" fill="#c8c8ce" />
<rect x="323.2" y="374.867" width="4.8" height="0.5339999999999918" fill="#e59a9a" />
<line x1="325.59999999999997" y1="401.3" x2="325.59999999999997" y2="403.5" stroke="#161616" stroke-width="0.8" />
<rect x="330.9" y="373.79900000000004" width="4.8" height="27.500999999999976" fill="#3e4a5d" />
<rect x="330.9" y="361.25" width="4.8" height="12.549000000000035" fill="#a6bd7c" />
<rect x="330.9" y="347.366" width="4.8" height="13.884000000000015" fill="#c8c8ce" />
<rect x="330.9" y="346.565" width="4.8" height="0.8009999999999877" fill="#e59a9a" />
<rect x="330.9" y="345.23" width="4.8" height="1.3349999999999795" fill="#b3102c" />
<line x1="333.29999999999995" y1="401.3" x2="333.29999999999995" y2="403.5" stroke="#161616" stroke-width="0.8" />
<rect x="338.3" y="399.164" width="4.8" height="2.136000000000024" fill="#3e4a5d" />
<rect x="338.3" y="395.693" width="4.8" height="3.4710000000000036" fill="#a6bd7c" />
<rect x="338.3" y="339.089" width="4.8" height="56.603999999999985" fill="#c8c8ce" />
<rect x="338.3" y="338.288" width="4.8" height="0.8009999999999877" fill="#e59a9a" />
<rect x="338.3" y="334.55" width="4.8" height="3.7379999999999995" fill="#b3102c" />
<line x1="340.7" y1="401.3" x2="340.7" y2="403.5" stroke="#161616" stroke-width="0.8" />
<line x1="284.3" y1="401.3" x2="345.5" y2="401.3" stroke="#161616" stroke-width="1" />
<text x="194.8" y="362.77" font-size="8" text-anchor="middle" fill="#161616" font-weight="bold" textLength="75" lengthAdjust="spacingAndGlyphs" transform="rotate(-90 194.8 360)">% colony forming potential</text>
<text x="209.6" y="414.13" font-size="7.6" text-anchor="end" fill="#161616" stroke="#161616" stroke-width="0.18" textLength="33.8" lengthAdjust="spacingAndGlyphs" >Days post-</text>
<text x="208.2" y="421.33" font-size="7.6" text-anchor="end" fill="#161616" stroke="#161616" stroke-width="0.18" textLength="30.9" lengthAdjust="spacingAndGlyphs" >transplant</text>
<text x="220.4" y="409.00" font-size="7.8" text-anchor="end" fill="#161616" stroke="#161616" stroke-width="0.18" transform="rotate(-90 220.4 406.3)">0</text>
<text x="227.4" y="409.00" font-size="7.8" text-anchor="end" fill="#161616" stroke="#161616" stroke-width="0.18" transform="rotate(-90 227.4 406.3)">56</text>
<text x="235.0" y="409.00" font-size="7.8" text-anchor="end" fill="#161616" stroke="#161616" stroke-width="0.18" transform="rotate(-90 235.0 406.3)">194</text>
<text x="242.4" y="409.00" font-size="7.8" text-anchor="end" fill="#161616" stroke="#161616" stroke-width="0.18" transform="rotate(-90 242.4 406.3)">278</text>
<text x="250.1" y="409.00" font-size="7.8" text-anchor="end" fill="#161616" stroke="#161616" stroke-width="0.18" transform="rotate(-90 250.1 406.3)">369</text>
<text x="257.59999999999997" y="409.00" font-size="7.8" text-anchor="end" fill="#161616" stroke="#161616" stroke-width="0.18" transform="rotate(-90 257.6 406.3)">573</text>
<text x="265.09999999999997" y="409.00" font-size="7.8" text-anchor="end" fill="#161616" stroke="#161616" stroke-width="0.18" transform="rotate(-90 265.1 406.3)">771</text>
<text x="272.59999999999997" y="409.00" font-size="7.8" text-anchor="end" fill="#161616" stroke="#161616" stroke-width="0.18" transform="rotate(-90 272.6 406.3)">1340</text>
<text x="288.4" y="409.00" font-size="7.8" text-anchor="end" fill="#161616" stroke="#161616" stroke-width="0.18" transform="rotate(-90 288.4 406.3)">0</text>
<text x="295.59999999999997" y="409.00" font-size="7.8" text-anchor="end" fill="#161616" stroke="#161616" stroke-width="0.18" transform="rotate(-90 295.6 406.3)">56</text>
<text x="303.2" y="409.00" font-size="7.8" text-anchor="end" fill="#161616" stroke="#161616" stroke-width="0.18" transform="rotate(-90 303.2 406.3)">194</text>
<text x="310.7" y="409.00" font-size="7.8" text-anchor="end" fill="#161616" stroke="#161616" stroke-width="0.18" transform="rotate(-90 310.7 406.3)">278</text>
<text x="318.2" y="409.00" font-size="7.8" text-anchor="end" fill="#161616" stroke="#161616" stroke-width="0.18" transform="rotate(-90 318.2 406.3)">369</text>
<text x="325.59999999999997" y="409.00" font-size="7.8" text-anchor="end" fill="#161616" stroke="#161616" stroke-width="0.18" transform="rotate(-90 325.6 406.3)">573</text>
<text x="333.29999999999995" y="409.00" font-size="7.8" text-anchor="end" fill="#161616" stroke="#161616" stroke-width="0.18" transform="rotate(-90 333.3 406.3)">771</text>
<text x="340.7" y="409.00" font-size="7.8" text-anchor="end" fill="#161616" stroke="#161616" stroke-width="0.18" transform="rotate(-90 340.7 406.3)">1340</text>
<text x="448.5" y="299.33" font-size="9.6" text-anchor="middle" fill="#161616" stroke="#161616" stroke-width="0.18" textLength="129.7" lengthAdjust="spacingAndGlyphs" >CFC potential of CD90<tspan baseline-shift="3.2" font-size="7">+</tspan> HSPCs</text>
<text x="414.5" y="313.37" font-size="8" text-anchor="middle" fill="#161616" stroke="#161616" stroke-width="0.18" textLength="43" lengthAdjust="spacingAndGlyphs" >CD90<tspan baseline-shift="2.75" font-size="6.00">+</tspan>mCh<tspan baseline-shift="2.75" font-size="6.00">−</tspan></text>
<text x="482.5" y="313.37" font-size="8" text-anchor="middle" fill="#c8203c" stroke="#c8203c" stroke-width="0.18" textLength="43" lengthAdjust="spacingAndGlyphs" >CD90<tspan baseline-shift="2.75" font-size="6.00">+</tspan>mCh<tspan baseline-shift="2.75" font-size="6.00">+</tspan></text>
<line x1="384.3" y1="320.8" x2="384.3" y2="401.3" stroke="#161616" stroke-width="1" />
<line x1="381.7" y1="401.3" x2="384.3" y2="401.3" stroke="#161616" stroke-width="0.8" />
<line x1="382.90000000000003" y1="397.3" x2="384.3" y2="397.3" stroke="#161616" stroke-width="0.8" />
<line x1="382.90000000000003" y1="393.3" x2="384.3" y2="393.3" stroke="#161616" stroke-width="0.8" />
<line x1="382.90000000000003" y1="389.3" x2="384.3" y2="389.3" stroke="#161616" stroke-width="0.8" />
<line x1="382.90000000000003" y1="385.3" x2="384.3" y2="385.3" stroke="#161616" stroke-width="0.8" />
<line x1="381.7" y1="381.3" x2="384.3" y2="381.3" stroke="#161616" stroke-width="0.8" />
<line x1="382.90000000000003" y1="377.3" x2="384.3" y2="377.3" stroke="#161616" stroke-width="0.8" />
<line x1="382.90000000000003" y1="373.3" x2="384.3" y2="373.3" stroke="#161616" stroke-width="0.8" />
<line x1="382.90000000000003" y1="369.3" x2="384.3" y2="369.3" stroke="#161616" stroke-width="0.8" />
<line x1="382.90000000000003" y1="365.3" x2="384.3" y2="365.3" stroke="#161616" stroke-width="0.8" />
<line x1="381.7" y1="361.3" x2="384.3" y2="361.3" stroke="#161616" stroke-width="0.8" />
<line x1="382.90000000000003" y1="357.3" x2="384.3" y2="357.3" stroke="#161616" stroke-width="0.8" />
<line x1="382.90000000000003" y1="353.3" x2="384.3" y2="353.3" stroke="#161616" stroke-width="0.8" />
<line x1="382.90000000000003" y1="349.3" x2="384.3" y2="349.3" stroke="#161616" stroke-width="0.8" />
<line x1="382.90000000000003" y1="345.3" x2="384.3" y2="345.3" stroke="#161616" stroke-width="0.8" />
<line x1="381.7" y1="341.3" x2="384.3" y2="341.3" stroke="#161616" stroke-width="0.8" />
<line x1="382.90000000000003" y1="337.3" x2="384.3" y2="337.3" stroke="#161616" stroke-width="0.8" />
<line x1="382.90000000000003" y1="333.3" x2="384.3" y2="333.3" stroke="#161616" stroke-width="0.8" />
<line x1="382.90000000000003" y1="329.3" x2="384.3" y2="329.3" stroke="#161616" stroke-width="0.8" />
<line x1="382.90000000000003" y1="325.3" x2="384.3" y2="325.3" stroke="#161616" stroke-width="0.8" />
<line x1="381.7" y1="321.3" x2="384.3" y2="321.3" stroke="#161616" stroke-width="0.8" />
<text x="378" y="403.93" font-size="7.6" text-anchor="end" fill="#161616" stroke="#161616" stroke-width="0.18" >0</text>
<text x="378" y="383.93" font-size="7.6" text-anchor="end" fill="#161616" stroke="#161616" stroke-width="0.18" >10</text>
<text x="378" y="363.93" font-size="7.6" text-anchor="end" fill="#161616" stroke="#161616" stroke-width="0.18" >20</text>
<text x="378" y="343.93" font-size="7.6" text-anchor="end" fill="#161616" stroke="#161616" stroke-width="0.18" >30</text>
<text x="378" y="323.93" font-size="7.6" text-anchor="end" fill="#161616" stroke="#161616" stroke-width="0.18" >40</text>
<rect x="385.8" y="393.5" width="4.8" height="7.800000000000011" fill="#3e4a5d" />
<rect x="385.8" y="387.7" width="4.8" height="5.800000000000011" fill="#a6bd7c" />
<rect x="385.8" y="354.7" width="4.8" height="33.0" fill="#c8c8ce" />
<line x1="388.2" y1="401.3" x2="388.2" y2="403.5" stroke="#161616" stroke-width="0.8" />
<rect x="393.3" y="397.90000000000003" width="4.8" height="3.3999999999999773" fill="#3e4a5d" />
<rect x="393.3" y="395.90000000000003" width="4.8" height="2.0" fill="#a6bd7c" />
<rect x="393.3" y="372.90000000000003" width="4.8" height="23.0" fill="#c8c8ce" />
<line x1="395.7" y1="401.3" x2="395.7" y2="403.5" stroke="#161616" stroke-width="0.8" />
<rect x="401" y="397.7" width="4.8" height="3.6000000000000227" fill="#3e4a5d" />
<rect x="401" y="396.3" width="4.8" height="1.3999999999999773" fill="#a6bd7c" />
<rect x="401" y="367.7" width="4.8" height="28.600000000000023" fill="#c8c8ce" />
<line x1="403.4" y1="401.3" x2="403.4" y2="403.5" stroke="#161616" stroke-width="0.8" />
<rect x="408.5" y="394.7" width="4.8" height="6.600000000000023" fill="#3e4a5d" />
<rect x="408.5" y="394.1" width="4.8" height="0.5999999999999659" fill="#a6bd7c" />
<rect x="408.5" y="362.5" width="4.8" height="31.600000000000023" fill="#c8c8ce" />
<rect x="408.5" y="362.1" width="4.8" height="0.39999999999997726" fill="#e59a9a" />
<line x1="410.9" y1="401.3" x2="410.9" y2="403.5" stroke="#161616" stroke-width="0.8" />
<rect x="416" y="395.5" width="4.8" height="5.800000000000011" fill="#3e4a5d" />
<rect x="416" y="391.7" width="4.8" height="3.8000000000000114" fill="#a6bd7c" />
<rect x="416" y="362.5" width="4.8" height="29.19999999999999" fill="#c8c8ce" />
<rect x="416" y="362.1" width="4.8" height="0.39999999999997726" fill="#e59a9a" />
<line x1="418.4" y1="401.3" x2="418.4" y2="403.5" stroke="#161616" stroke-width="0.8" />
<rect x="423.3" y="396.90000000000003" width="4.8" height="4.399999999999977" fill="#a6bd7c" />
<rect x="423.3" y="367.7" width="4.8" height="29.200000000000045" fill="#c8c8ce" />
<line x1="425.7" y1="401.3" x2="425.7" y2="403.5" stroke="#161616" stroke-width="0.8" />
<rect x="430.9" y="371.3" width="4.8" height="30.0" fill="#c8c8ce" />
<line x1="433.29999999999995" y1="401.3" x2="433.29999999999995" y2="403.5" stroke="#161616" stroke-width="0.8" />
<rect x="438.3" y="394.90000000000003" width="4.8" height="6.399999999999977" fill="#a6bd7c" />
<rect x="438.3" y="360.5" width="4.8" height="34.400000000000034" fill="#c8c8ce" />
<line x1="440.7" y1="401.3" x2="440.7" y2="403.5" stroke="#161616" stroke-width="0.8" />
<line x1="384.3" y1="401.3" x2="445.5" y2="401.3" stroke="#161616" stroke-width="1" />
<line x1="452.3" y1="320.8" x2="452.3" y2="401.3" stroke="#161616" stroke-width="1" />
<line x1="449.7" y1="401.3" x2="452.3" y2="401.3" stroke="#161616" stroke-width="0.8" />
<line x1="450.90000000000003" y1="397.3" x2="452.3" y2="397.3" stroke="#161616" stroke-width="0.8" />
<line x1="450.90000000000003" y1="393.3" x2="452.3" y2="393.3" stroke="#161616" stroke-width="0.8" />
<line x1="450.90000000000003" y1="389.3" x2="452.3" y2="389.3" stroke="#161616" stroke-width="0.8" />
<line x1="450.90000000000003" y1="385.3" x2="452.3" y2="385.3" stroke="#161616" stroke-width="0.8" />
<line x1="449.7" y1="381.3" x2="452.3" y2="381.3" stroke="#161616" stroke-width="0.8" />
<line x1="450.90000000000003" y1="377.3" x2="452.3" y2="377.3" stroke="#161616" stroke-width="0.8" />
<line x1="450.90000000000003" y1="373.3" x2="452.3" y2="373.3" stroke="#161616" stroke-width="0.8" />
<line x1="450.90000000000003" y1="369.3" x2="452.3" y2="369.3" stroke="#161616" stroke-width="0.8" />
<line x1="450.90000000000003" y1="365.3" x2="452.3" y2="365.3" stroke="#161616" stroke-width="0.8" />
<line x1="449.7" y1="361.3" x2="452.3" y2="361.3" stroke="#161616" stroke-width="0.8" />
<line x1="450.90000000000003" y1="357.3" x2="452.3" y2="357.3" stroke="#161616" stroke-width="0.8" />
<line x1="450.90000000000003" y1="353.3" x2="452.3" y2="353.3" stroke="#161616" stroke-width="0.8" />
<line x1="450.90000000000003" y1="349.3" x2="452.3" y2="349.3" stroke="#161616" stroke-width="0.8" />
<line x1="450.90000000000003" y1="345.3" x2="452.3" y2="345.3" stroke="#161616" stroke-width="0.8" />
<line x1="449.7" y1="341.3" x2="452.3" y2="341.3" stroke="#161616" stroke-width="0.8" />
<line x1="450.90000000000003" y1="337.3" x2="452.3" y2="337.3" stroke="#161616" stroke-width="0.8" />
<line x1="450.90000000000003" y1="333.3" x2="452.3" y2="333.3" stroke="#161616" stroke-width="0.8" />
<line x1="450.90000000000003" y1="329.3" x2="452.3" y2="329.3" stroke="#161616" stroke-width="0.8" />
<line x1="450.90000000000003" y1="325.3" x2="452.3" y2="325.3" stroke="#161616" stroke-width="0.8" />
<line x1="449.7" y1="321.3" x2="452.3" y2="321.3" stroke="#161616" stroke-width="0.8" />
<rect x="453.9" y="393.5" width="4.8" height="7.800000000000011" fill="#3e4a5d" />
<rect x="453.9" y="386.90000000000003" width="4.8" height="6.599999999999966" fill="#a6bd7c" />
<rect x="453.9" y="354.7" width="4.8" height="32.200000000000045" fill="#c8c8ce" />
<line x1="456.29999999999995" y1="401.3" x2="456.29999999999995" y2="403.5" stroke="#161616" stroke-width="0.8" />
<rect x="461.3" y="398.90000000000003" width="4.8" height="2.3999999999999773" fill="#3e4a5d" />
<rect x="461.3" y="392.90000000000003" width="4.8" height="6.0" fill="#a6bd7c" />
<rect x="461.3" y="372.7" width="4.8" height="20.200000000000045" fill="#c8c8ce" />
<rect x="461.3" y="372.1" width="4.8" height="0.5999999999999659" fill="#e59a9a" />
<line x1="463.7" y1="401.3" x2="463.7" y2="403.5" stroke="#161616" stroke-width="0.8" />
<rect x="468.8" y="396.1" width="4.8" height="5.199999999999989" fill="#3e4a5d" />
<rect x="468.8" y="395.3" width="4.8" height="0.8000000000000114" fill="#a6bd7c" />
<rect x="468.8" y="370.7" width="4.8" height="24.600000000000023" fill="#c8c8ce" />
<rect x="468.8" y="370.5" width="4.8" height="0.19999999999998863" fill="#e59a9a" />
<line x1="471.2" y1="401.3" x2="471.2" y2="403.5" stroke="#161616" stroke-width="0.8" />
<rect x="476" y="397.90000000000003" width="4.8" height="3.3999999999999773" fill="#3e4a5d" />
<rect x="476" y="396.3" width="4.8" height="1.6000000000000227" fill="#a6bd7c" />
<rect x="476" y="368.1" width="4.8" height="28.19999999999999" fill="#c8c8ce" />
<rect x="476" y="367.7" width="4.8" height="0.4000000000000341" fill="#e59a9a" />
<line x1="478.4" y1="401.3" x2="478.4" y2="403.5" stroke="#161616" stroke-width="0.8" />
<rect x="483.5" y="389.7" width="4.8" height="11.600000000000023" fill="#3e4a5d" />
<rect x="483.5" y="384.3" width="4.8" height="5.399999999999977" fill="#a6bd7c" />
<rect x="483.5" y="343.7" width="4.8" height="40.60000000000002" fill="#c8c8ce" />
<rect x="483.5" y="343.1" width="4.8" height="0.5999999999999659" fill="#e59a9a" />
<line x1="485.9" y1="401.3" x2="485.9" y2="403.5" stroke="#161616" stroke-width="0.8" />
<rect x="491" y="393.90000000000003" width="4.8" height="7.399999999999977" fill="#a6bd7c" />
<rect x="491" y="355.5" width="4.8" height="38.400000000000034" fill="#c8c8ce" />
<rect x="491" y="355.3" width="4.8" height="0.19999999999998863" fill="#e59a9a" />
<rect x="491" y="354.5" width="4.8" height="0.8000000000000114" fill="#b3102c" />
<line x1="493.4" y1="401.3" x2="493.4" y2="403.5" stroke="#161616" stroke-width="0.8" />
<rect x="498.6" y="367.1" width="4.8" height="34.19999999999999" fill="#c8c8ce" />
<rect x="498.6" y="366.90000000000003" width="4.8" height="0.19999999999998863" fill="#e59a9a" />
<line x1="501.0" y1="401.3" x2="501.0" y2="403.5" stroke="#161616" stroke-width="0.8" />
<rect x="506" y="336.9" width="4.8" height="64.40000000000003" fill="#c8c8ce" />
<rect x="506" y="336.5" width="4.8" height="0.39999999999997726" fill="#e59a9a" />
<rect x="506" y="335.1" width="4.8" height="1.3999999999999773" fill="#b3102c" />
<line x1="508.4" y1="401.3" x2="508.4" y2="403.5" stroke="#161616" stroke-width="0.8" />
<line x1="452.3" y1="401.3" x2="513" y2="401.3" stroke="#161616" stroke-width="1" />
<text x="361.5" y="362.77" font-size="8" text-anchor="middle" fill="#161616" font-weight="bold" textLength="75" lengthAdjust="spacingAndGlyphs" transform="rotate(-90 361.5 360)">% colony forming potential</text>
<text x="388.2" y="409.00" font-size="7.8" text-anchor="end" fill="#161616" stroke="#161616" stroke-width="0.18" transform="rotate(-90 388.2 406.3)">0</text>
<text x="395.7" y="409.00" font-size="7.8" text-anchor="end" fill="#161616" stroke="#161616" stroke-width="0.18" transform="rotate(-90 395.7 406.3)">56</text>
<text x="403.4" y="409.00" font-size="7.8" text-anchor="end" fill="#161616" stroke="#161616" stroke-width="0.18" transform="rotate(-90 403.4 406.3)">194</text>
<text x="410.9" y="409.00" font-size="7.8" text-anchor="end" fill="#161616" stroke="#161616" stroke-width="0.18" transform="rotate(-90 410.9 406.3)">278</text>
<text x="418.4" y="409.00" font-size="7.8" text-anchor="end" fill="#161616" stroke="#161616" stroke-width="0.18" transform="rotate(-90 418.4 406.3)">369</text>
<text x="425.7" y="409.00" font-size="7.8" text-anchor="end" fill="#161616" stroke="#161616" stroke-width="0.18" transform="rotate(-90 425.7 406.3)">573</text>
<text x="433.29999999999995" y="409.00" font-size="7.8" text-anchor="end" fill="#161616" stroke="#161616" stroke-width="0.18" transform="rotate(-90 433.3 406.3)">771</text>
<text x="440.7" y="409.00" font-size="7.8" text-anchor="end" fill="#161616" stroke="#161616" stroke-width="0.18" transform="rotate(-90 440.7 406.3)">1340</text>
<text x="456.29999999999995" y="409.00" font-size="7.8" text-anchor="end" fill="#161616" stroke="#161616" stroke-width="0.18" transform="rotate(-90 456.3 406.3)">0</text>
<text x="463.7" y="409.00" font-size="7.8" text-anchor="end" fill="#161616" stroke="#161616" stroke-width="0.18" transform="rotate(-90 463.7 406.3)">56</text>
<text x="471.2" y="409.00" font-size="7.8" text-anchor="end" fill="#161616" stroke="#161616" stroke-width="0.18" transform="rotate(-90 471.2 406.3)">194</text>
<text x="478.4" y="409.00" font-size="7.8" text-anchor="end" fill="#161616" stroke="#161616" stroke-width="0.18" transform="rotate(-90 478.4 406.3)">278</text>
<text x="485.9" y="409.00" font-size="7.8" text-anchor="end" fill="#161616" stroke="#161616" stroke-width="0.18" transform="rotate(-90 485.9 406.3)">369</text>
<text x="493.4" y="409.00" font-size="7.8" text-anchor="end" fill="#161616" stroke="#161616" stroke-width="0.18" transform="rotate(-90 493.4 406.3)">573</text>
<text x="501.0" y="409.00" font-size="7.8" text-anchor="end" fill="#161616" stroke="#161616" stroke-width="0.18" transform="rotate(-90 501.0 406.3)">771</text>
<text x="508.4" y="409.00" font-size="7.8" text-anchor="end" fill="#161616" stroke="#161616" stroke-width="0.18" transform="rotate(-90 508.4 406.3)">1340</text>
<rect x="263" y="429.4" width="6.4" height="5.4" fill="#e59a9a" />
<text x="273" y="434.97" font-size="8" fill="#161616" stroke="#161616" stroke-width="0.18" textLength="29.3" lengthAdjust="spacingAndGlyphs" >CFU-MIX</text>
<rect x="308.3" y="429.4" width="6.4" height="5.4" fill="#b3102c" />
<text x="317.8" y="434.97" font-size="8" fill="#161616" stroke="#161616" stroke-width="0.18" textLength="21.5" lengthAdjust="spacingAndGlyphs" >BFU-E</text>
<rect x="345.5" y="429.4" width="6.4" height="5.4" fill="#c8c8ce" />
<text x="353.8" y="434.97" font-size="8" fill="#161616" stroke="#161616" stroke-width="0.18" textLength="23.4" lengthAdjust="spacingAndGlyphs" >CFU-G</text>
<rect x="384" y="429.4" width="6.4" height="5.4" fill="#a6bd7c" />
<text x="392.8" y="434.97" font-size="8" fill="#161616" stroke="#161616" stroke-width="0.18" textLength="28.5" lengthAdjust="spacingAndGlyphs" >CFU-GM</text>
<rect x="428" y="429.4" width="6.4" height="5.4" fill="#3e4a5d" />
<text x="437" y="434.97" font-size="8" fill="#161616" stroke="#161616" stroke-width="0.18" textLength="28.5" lengthAdjust="spacingAndGlyphs" >CFU-GM</text>
<rect x="42.3" y="506.2" width="266.70000000000005" height="121.30000000000001" fill="#8d8d8d" />
<path fill="#d0702a" d="M215.7 627.5 229.0 626.0 242.3 626.0 255.7 626.3 269.0 626.3 282.3 626.0 295.7 626.3 309.0 626.3 309.0 627.5 295.7 627.5 282.3 627.5 269.0 627.5 255.7 627.5 242.3 627.5 229.0 627.5 215.7 627.5z"/>
<path fill="#84c83a" d="M42.3 597.2 55.6 626.5 69.0 627.5 82.3 617.8 95.6 627.5 109.0 627.1 122.3 627.1 135.6 627.1 149.0 621.4 162.3 625.7 175.7 627.1 189.0 627.5 189.0 627.5 175.7 627.5 162.3 627.5 149.0 627.5 135.6 627.5 122.3 627.5 109.0 627.5 95.6 627.5 82.3 627.5 69.0 627.5 55.6 627.5 42.3 627.5z"/>
<path fill="#a57199" d="M255.7 626.3 269.0 624.8 282.3 624.6 295.7 624.8 309.0 624.3 309.0 626.3 295.7 626.3 282.3 626.0 269.0 626.3 255.7 626.3z"/>
<path fill="#938f59" d="M255.7 626.3 269.0 621.7 282.3 623.5 295.7 622.9 309.0 623.0 309.0 624.3 295.7 624.8 282.3 624.6 269.0 624.8 255.7 626.3z"/>
<path fill="#7d86b3" d="M255.7 626.3 269.0 620.8 282.3 622.3 295.7 621.0 309.0 622.4 309.0 623.0 295.7 622.9 282.3 623.5 269.0 621.7 255.7 626.3z"/>
<path fill="#9a8b9b" d="M255.7 626.3 269.0 619.0 282.3 620.3 295.7 619.9 309.0 621.7 309.0 622.4 295.7 621.0 282.3 622.3 269.0 620.8 255.7 626.3z"/>
<path fill="#65a6b1" d="M255.7 626.3 269.0 616.6 282.3 618.9 295.7 618.4 309.0 620.4 309.0 621.7 295.7 619.9 282.3 620.3 269.0 619.0 255.7 626.3z"/>
<path fill="#af99ad" d="M255.7 626.3 269.0 613.2 282.3 617.2 295.7 616.0 309.0 618.0 309.0 620.4 295.7 618.4 282.3 618.9 269.0 616.6 255.7 626.3z"/>
<path fill="#8c76ab" d="M255.7 626.3 269.0 611.6 282.3 615.9 295.7 614.9 309.0 615.8 309.0 618.0 295.7 616.0 282.3 617.2 269.0 613.2 255.7 626.3z"/>
<path fill="#af656b" d="M255.7 626.3 269.0 610.5 282.3 613.4 295.7 612.4 309.0 614.1 309.0 615.8 295.7 614.9 282.3 615.9 269.0 611.6 255.7 626.3z"/>
<path fill="#78af4e" d="M255.7 626.3 269.0 609.2 282.3 611.4 295.7 610.0 309.0 612.9 309.0 614.1 295.7 612.4 282.3 613.4 269.0 610.5 255.7 626.3z"/>
<path fill="#8c9f53" d="M255.7 626.3 269.0 605.9 282.3 609.9 295.7 608.6 309.0 610.7 309.0 612.9 295.7 610.0 282.3 611.4 269.0 609.2 255.7 626.3z"/>
<path fill="#9397a0" d="M255.7 626.3 269.0 603.3 282.3 607.4 295.7 606.4 309.0 609.1 309.0 610.7 295.7 608.6 282.3 609.9 269.0 605.9 255.7 626.3z"/>
<path fill="#9b619a" d="M255.7 626.3 269.0 602.8 282.3 606.5 295.7 605.6 309.0 608.7 309.0 609.1 295.7 606.4 282.3 607.4 269.0 603.3 255.7 626.3z"/>
<path fill="#a349a8" d="M255.7 626.3 269.0 601.1 282.3 605.8 295.7 604.3 309.0 607.8 309.0 608.7 295.7 605.6 282.3 606.5 269.0 602.8 255.7 626.3z"/>
<path fill="#7a9fbf" d="M255.7 626.3 269.0 600.5 282.3 605.0 295.7 603.7 309.0 606.6 309.0 607.8 295.7 604.3 282.3 605.8 269.0 601.1 255.7 626.3z"/>
<path fill="#3dbc24" d="M255.7 626.3 269.0 598.8 282.3 602.8 295.7 602.1 309.0 604.9 309.0 606.6 295.7 603.7 282.3 605.0 269.0 600.5 255.7 626.3z"/>
<path fill="#9a5591" d="M255.7 626.3 269.0 597.6 282.3 599.8 295.7 600.1 309.0 603.7 309.0 604.9 295.7 602.1 282.3 602.8 269.0 598.8 255.7 626.3z"/>
<path fill="#70a27c" d="M255.7 626.3 269.0 595.9 282.3 597.3 295.7 598.8 309.0 602.2 309.0 603.7 295.7 600.1 282.3 599.8 269.0 597.6 255.7 626.3z"/>
<path fill="#ddc51f" d="M255.7 626.3 269.0 594.2 282.3 596.1 295.7 596.5 309.0 597.6 309.0 602.2 295.7 598.8 282.3 597.3 269.0 595.9 255.7 626.3z"/>
<path fill="#b075a8" d="M255.7 626.3 269.0 592.5 282.3 594.8 295.7 594.5 309.0 596.1 309.0 597.6 295.7 596.5 282.3 596.1 269.0 594.2 255.7 626.3z"/>
<path fill="#a75460" d="M255.7 626.3 269.0 589.7 282.3 592.2 295.7 589.4 309.0 593.2 309.0 596.1 295.7 594.5 282.3 594.8 269.0 592.5 255.7 626.3z"/>
<path fill="#797bb7" d="M255.7 626.3 269.0 588.9 282.3 591.4 295.7 588.3 309.0 591.2 309.0 593.2 295.7 589.4 282.3 592.2 269.0 589.7 255.7 626.3z"/>
<path fill="#b19aa1" d="M255.7 626.3 269.0 587.5 282.3 589.7 295.7 587.5 309.0 590.0 309.0 591.2 295.7 588.3 282.3 591.4 269.0 588.9 255.7 626.3z"/>
<path fill="#a03829" d="M42.3 597.2 55.6 626.5 69.0 627.4 82.3 617.8 82.3 617.8 69.0 627.5 55.6 626.5 42.3 597.2z"/>
<path fill="#bb5f77" d="M42.3 597.0 55.6 626.4 69.0 627.4 82.3 617.8 82.3 617.8 69.0 627.4 55.6 626.5 42.3 597.2z"/>
<path fill="#c99468" d="M42.3 596.9 55.6 626.4 69.0 627.3 82.3 617.7 95.6 627.5 95.6 627.5 82.3 617.8 69.0 627.4 55.6 626.4 42.3 597.0z"/>
<path fill="#75d534" d="M42.3 596.8 55.6 626.4 69.0 627.3 82.3 617.7 82.3 617.7 69.0 627.3 55.6 626.4 42.3 596.9z"/>
<path fill="#9b94a9" d="M42.3 596.7 55.6 626.3 69.0 627.2 82.3 617.7 82.3 617.7 69.0 627.3 55.6 626.4 42.3 596.8z"/>
<path fill="#a2a9a8" d="M42.3 596.7 55.6 626.3 69.0 627.2 82.3 617.7 82.3 617.7 69.0 627.2 55.6 626.3 42.3 596.7z"/>
<path fill="#ac9c2e" d="M42.3 596.6 55.6 626.2 69.0 627.2 82.3 617.6 95.6 627.5 95.6 627.5 82.3 617.7 69.0 627.2 55.6 626.3 42.3 596.7z"/>
<path fill="#90a49f" d="M42.3 596.5 55.6 626.1 69.0 627.2 69.0 627.2 55.6 626.2 42.3 596.6z"/>
<path fill="#3fdd30" d="M42.3 596.4 55.6 626.0 69.0 627.1 82.3 617.2 95.6 627.5 95.6 627.5 82.3 617.6 69.0 627.2 55.6 626.1 42.3 596.5z"/>
<path fill="#63849c" d="M42.3 596.3 55.6 626.0 69.0 627.0 82.3 617.2 82.3 617.2 69.0 627.1 55.6 626.0 42.3 596.4z"/>
<path fill="#9188b1" d="M42.3 596.2 55.6 625.9 69.0 627.0 82.3 617.0 95.6 627.5 95.6 627.5 82.3 617.2 69.0 627.0 55.6 626.0 42.3 596.3z"/>
<path fill="#839f27" d="M42.3 596.1 55.6 625.9 69.0 627.0 69.0 627.0 55.6 625.9 42.3 596.2z"/>
<path fill="#99a59d" d="M42.3 595.9 55.6 625.7 69.0 626.8 82.3 616.4 95.6 627.5 95.6 627.5 82.3 617.0 69.0 627.0 55.6 625.9 42.3 596.1z"/>
<path fill="#97a1a7" d="M42.3 595.8 55.6 625.7 69.0 626.7 82.3 616.2 95.6 627.5 95.6 627.5 82.3 616.4 69.0 626.8 55.6 625.7 42.3 595.9z"/>
<path fill="#b8a32e" d="M42.3 595.7 55.6 625.7 69.0 626.6 82.3 616.2 82.3 616.2 69.0 626.7 55.6 625.7 42.3 595.8z"/>
<path fill="#9da798" d="M42.3 595.6 55.6 625.7 69.0 626.6 82.3 616.0 95.6 627.5 95.6 627.5 82.3 616.2 69.0 626.6 55.6 625.7 42.3 595.7z"/>
<path fill="#9eb0af" d="M42.3 595.5 55.6 625.6 69.0 626.5 82.3 616.0 82.3 616.0 69.0 626.6 55.6 625.7 42.3 595.6z"/>
<path fill="#888e9b" d="M42.3 595.5 55.6 625.6 69.0 626.5 82.3 615.6 95.6 627.5 95.6 627.5 82.3 616.0 69.0 626.5 55.6 625.6 42.3 595.5z"/>
<path fill="#a091a0" d="M42.3 595.4 55.6 625.5 69.0 626.3 82.3 615.2 95.6 627.5 95.6 627.5 82.3 615.6 69.0 626.5 55.6 625.6 42.3 595.5z"/>
<path fill="#a59da8" d="M42.3 595.4 55.6 625.5 69.0 626.3 69.0 626.3 55.6 625.5 42.3 595.4z"/>
<path fill="#9f8c9c" d="M42.3 595.0 55.6 625.4 69.0 626.1 82.3 615.2 82.3 615.2 69.0 626.3 55.6 625.5 42.3 595.4z"/>
<path fill="#a34c92" d="M42.3 594.9 55.6 625.4 69.0 626.0 82.3 615.2 82.3 615.2 69.0 626.1 55.6 625.4 42.3 595.0z"/>
<path fill="#62918f" d="M42.3 594.9 55.6 625.4 69.0 626.0 69.0 626.0 55.6 625.4 42.3 594.9z"/>
<path fill="#9ea0ab" d="M42.3 594.9 55.6 625.3 69.0 626.0 82.3 615.1 95.6 627.5 95.6 627.5 82.3 615.2 69.0 626.0 55.6 625.4 42.3 594.9z"/>
<path fill="#b29e55" d="M42.3 594.7 55.6 625.3 69.0 625.9 82.3 615.1 82.3 615.1 69.0 626.0 55.6 625.3 42.3 594.9z"/>
<path fill="#76bfad" d="M42.3 594.5 55.6 625.2 69.0 625.8 82.3 615.1 82.3 615.1 69.0 625.9 55.6 625.3 42.3 594.7z"/>
<path fill="#3b3bcf" d="M42.3 594.4 55.6 625.2 69.0 625.7 82.3 615.1 82.3 615.1 69.0 625.8 55.6 625.2 42.3 594.5z"/>
<path fill="#a8ae97" d="M42.3 594.3 55.6 625.2 69.0 625.7 69.0 625.7 55.6 625.2 42.3 594.4z"/>
<path fill="#b09da5" d="M42.3 594.3 55.6 625.1 69.0 625.6 82.3 615.0 95.6 627.5 95.6 627.5 82.3 615.1 69.0 625.7 55.6 625.2 42.3 594.3z"/>
<path fill="#9b98af" d="M42.3 594.2 55.6 625.1 69.0 625.5 82.3 614.6 95.6 627.5 95.6 627.5 82.3 615.0 69.0 625.6 55.6 625.1 42.3 594.3z"/>
<path fill="#92a0a1" d="M42.3 594.1 55.6 625.1 69.0 625.4 82.3 614.6 95.6 627.5 95.6 627.5 82.3 614.6 69.0 625.5 55.6 625.1 42.3 594.2z"/>
<path fill="#8698a0" d="M42.3 594.0 55.6 625.0 69.0 625.4 82.3 614.4 95.6 627.5 95.6 627.5 82.3 614.6 69.0 625.4 55.6 625.1 42.3 594.1z"/>
<path fill="#9c9bad" d="M42.3 593.8 55.6 625.0 69.0 625.2 82.3 614.4 82.3 614.4 69.0 625.4 55.6 625.0 42.3 594.0z"/>
<path fill="#7266be" d="M42.3 593.7 55.6 625.0 69.0 625.2 82.3 614.4 95.6 627.5 95.6 627.5 82.3 614.4 69.0 625.2 55.6 625.0 42.3 593.8z"/>
<path fill="#8ea194" d="M42.3 593.6 55.6 624.9 69.0 625.0 82.3 614.4 82.3 614.4 69.0 625.2 55.6 625.0 42.3 593.7z"/>
<path fill="#8ca267" d="M42.3 593.6 55.6 624.8 69.0 624.9 82.3 614.4 82.3 614.4 69.0 625.0 55.6 624.9 42.3 593.6z"/>
<path fill="#9282a9" d="M42.3 593.6 55.6 624.8 69.0 624.8 82.3 614.2 95.6 627.5 95.6 627.5 82.3 614.4 69.0 624.9 55.6 624.8 42.3 593.6z"/>
<path fill="#a877c1" d="M42.3 593.6 55.6 624.7 69.0 624.8 82.3 614.2 82.3 614.2 69.0 624.8 55.6 624.8 42.3 593.6z"/>
<path fill="#8bb37d" d="M42.3 593.6 55.6 624.7 69.0 624.7 82.3 614.1 95.6 627.5 95.6 627.5 82.3 614.2 69.0 624.8 55.6 624.7 42.3 593.6z"/>
<path fill="#bbbe4e" d="M42.3 593.6 55.6 624.7 69.0 624.7 82.3 613.9 95.6 627.5 95.6 627.5 82.3 614.1 69.0 624.7 55.6 624.7 42.3 593.6z"/>
<path fill="#ae727e" d="M42.3 593.6 55.6 624.7 69.0 624.6 82.3 613.9 82.3 613.9 69.0 624.7 55.6 624.7 42.3 593.6z"/>
<path fill="#b77c92" d="M42.3 593.6 55.6 624.6 69.0 624.5 82.3 613.8 95.6 627.5 95.6 627.5 82.3 613.9 69.0 624.6 55.6 624.7 42.3 593.6z"/>
<path fill="#9ea2a5" d="M42.3 593.6 55.6 624.6 69.0 624.5 82.3 613.6 95.6 627.5 95.6 627.5 82.3 613.8 69.0 624.5 55.6 624.6 42.3 593.6z"/>
<path fill="#1d6ca1" d="M42.3 593.6 55.6 624.6 69.0 624.4 82.3 613.6 82.3 613.6 69.0 624.5 55.6 624.6 42.3 593.6z"/>
<path fill="#9ba5a6" d="M42.3 593.6 55.6 624.5 69.0 624.3 82.3 613.6 82.3 613.6 69.0 624.4 55.6 624.6 42.3 593.6z"/>
<path fill="#be947c" d="M42.3 593.6 55.6 624.5 69.0 624.3 82.3 613.6 82.3 613.6 69.0 624.3 55.6 624.5 42.3 593.6z"/>
<path fill="#9da3a4" d="M42.3 593.6 55.6 624.5 69.0 624.2 82.3 613.5 95.6 627.5 95.6 627.5 82.3 613.6 69.0 624.3 55.6 624.5 42.3 593.6z"/>
<path fill="#d8753f" d="M42.3 593.6 55.6 624.4 69.0 624.2 82.3 613.5 82.3 613.5 69.0 624.2 55.6 624.5 42.3 593.6z"/>
<path fill="#66afbf" d="M42.3 593.6 55.6 624.4 69.0 624.1 82.3 613.5 82.3 613.5 69.0 624.2 55.6 624.4 42.3 593.6z"/>
<path fill="#20a790" d="M42.3 593.6 55.6 624.3 69.0 623.9 82.3 613.5 82.3 613.5 69.0 624.1 55.6 624.4 42.3 593.6z"/>
<path fill="#b16867" d="M42.3 593.6 55.6 624.3 69.0 623.9 82.3 613.4 95.6 627.5 95.6 627.5 82.3 613.5 69.0 623.9 55.6 624.3 42.3 593.6z"/>
<path fill="#7ab058" d="M42.3 593.6 55.6 624.2 69.0 623.6 82.3 613.4 82.3 613.4 69.0 623.9 55.6 624.3 42.3 593.6z"/>
<path fill="#aaa6ac" d="M42.3 593.6 55.6 624.2 69.0 623.6 82.3 613.2 95.6 627.5 95.6 627.5 82.3 613.4 69.0 623.6 55.6 624.2 42.3 593.6z"/>
<path fill="#63b67a" d="M42.3 593.6 55.6 624.1 69.0 623.4 82.3 612.4 95.6 627.5 95.6 627.5 82.3 613.2 69.0 623.6 55.6 624.2 42.3 593.6z"/>
<path fill="#a0b3b4" d="M42.3 593.6 55.6 624.1 69.0 623.3 82.3 612.4 82.3 612.4 69.0 623.4 55.6 624.1 42.3 593.6z"/>
<path fill="#5b8b83" d="M55.6 624.1 69.0 623.2 82.3 612.3 95.6 627.5 95.6 627.5 82.3 612.4 69.0 623.3 55.6 624.1z"/>
<path fill="#21a69b" d="M55.6 624.1 69.0 623.1 82.3 612.0 95.6 627.5 95.6 627.5 82.3 612.3 69.0 623.2 55.6 624.1z"/>
<path fill="#b7b460" d="M55.6 624.1 69.0 623.0 82.3 611.6 95.6 627.5 95.6 627.5 82.3 612.0 69.0 623.1 55.6 624.1z"/>
<path fill="#a22426" d="M55.6 624.1 69.0 623.0 82.3 611.3 95.6 627.5 95.6 627.5 82.3 611.6 69.0 623.0 55.6 624.1z"/>
<path fill="#4dd3d8" d="M55.6 624.1 69.0 622.9 82.3 611.0 95.6 627.5 95.6 627.5 82.3 611.3 69.0 623.0 55.6 624.1z"/>
<path fill="#c2385d" d="M55.6 624.1 69.0 622.7 82.3 610.8 95.6 627.5 95.6 627.5 82.3 611.0 69.0 622.9 55.6 624.1z"/>
<path fill="#ab6db4" d="M55.6 624.1 69.0 622.7 82.3 610.5 95.6 627.5 95.6 627.5 82.3 610.8 69.0 622.7 55.6 624.1z"/>
<path fill="#9a99a5" d="M82.3 610.5 95.6 626.9 109.0 627.1 122.3 626.8 135.6 626.2 149.0 621.0 162.3 625.7 162.3 625.7 149.0 621.4 135.6 627.1 122.3 627.1 109.0 627.1 95.6 627.5 82.3 610.5z"/>
<path fill="#788faa" d="M82.3 610.5 95.6 626.5 109.0 627.0 122.3 626.6 135.6 625.6 149.0 620.3 162.3 625.7 162.3 625.7 149.0 621.0 135.6 626.2 122.3 626.8 109.0 627.1 95.6 626.9 82.3 610.5z"/>
<path fill="#8d9ca7" d="M82.3 610.5 95.6 626.2 109.0 626.9 122.3 626.5 135.6 625.6 135.6 625.6 122.3 626.6 109.0 627.0 95.6 626.5 82.3 610.5z"/>
<path fill="#a1a090" d="M82.3 610.5 95.6 625.7 109.0 626.9 122.3 626.0 135.6 625.2 149.0 619.4 162.3 625.0 175.7 627.1 175.7 627.1 162.3 625.7 149.0 620.3 135.6 625.6 122.3 626.5 109.0 626.9 95.6 626.2 82.3 610.5z"/>
<path fill="#45c2bf" d="M82.3 610.5 95.6 625.1 109.0 626.8 122.3 625.4 135.6 624.8 149.0 619.4 149.0 619.4 135.6 625.2 122.3 626.0 109.0 626.9 95.6 625.7 82.3 610.5z"/>
<path fill="#c7b036" d="M82.3 610.5 95.6 623.8 109.0 626.6 122.3 624.9 135.6 624.2 149.0 618.6 162.3 623.7 175.7 627.1 175.7 627.1 162.3 625.0 149.0 619.4 135.6 624.8 122.3 625.4 109.0 626.8 95.6 625.1 82.3 610.5z"/>
<path fill="#a8b54d" d="M82.3 610.5 95.6 623.0 109.0 626.5 122.3 624.5 135.6 622.7 149.0 617.4 162.3 622.5 175.7 627.1 175.7 627.1 162.3 623.7 149.0 618.6 135.6 624.2 122.3 624.9 109.0 626.6 95.6 623.8 82.3 610.5z"/>
<path fill="#9073b0" d="M82.3 610.5 95.6 622.1 109.0 626.3 122.3 624.3 135.6 622.7 135.6 622.7 122.3 624.5 109.0 626.5 95.6 623.0 82.3 610.5z"/>
<path fill="#65b352" d="M82.3 610.5 95.6 621.8 109.0 626.2 122.3 623.8 135.6 622.5 149.0 617.0 162.3 622.5 162.3 622.5 149.0 617.4 135.6 622.7 122.3 624.3 109.0 626.3 95.6 622.1 82.3 610.5z"/>
<path fill="#99a5a8" d="M82.3 610.5 95.6 621.1 109.0 626.2 122.3 623.4 135.6 621.9 149.0 617.0 149.0 617.0 135.6 622.5 122.3 623.8 109.0 626.2 95.6 621.8 82.3 610.5z"/>
<path fill="#9b9ca1" d="M82.3 610.5 95.6 620.9 109.0 626.1 122.3 623.2 135.6 620.6 149.0 617.0 149.0 617.0 135.6 621.9 122.3 623.4 109.0 626.2 95.6 621.1 82.3 610.5z"/>
<path fill="#918f97" d="M82.3 610.5 95.6 620.4 109.0 626.0 122.3 622.9 135.6 620.4 149.0 616.5 162.3 622.1 175.7 627.1 175.7 627.1 162.3 622.5 149.0 617.0 135.6 620.6 122.3 623.2 109.0 626.1 95.6 620.9 82.3 610.5z"/>
<path fill="#9eaf9e" d="M82.3 610.5 95.6 620.3 109.0 626.0 122.3 622.7 135.6 620.2 149.0 615.8 162.3 621.1 175.7 627.1 175.7 627.1 162.3 622.1 149.0 616.5 135.6 620.4 122.3 622.9 109.0 626.0 95.6 620.4 82.3 610.5z"/>
<path fill="#b5a485" d="M82.3 610.5 95.6 620.1 109.0 626.0 122.3 622.6 135.6 619.9 149.0 615.8 149.0 615.8 135.6 620.2 122.3 622.7 109.0 626.0 95.6 620.3 82.3 610.5z"/>
<path fill="#83aa7c" d="M82.3 610.5 95.6 619.9 109.0 625.9 122.3 622.2 135.6 619.5 149.0 615.8 149.0 615.8 135.6 619.9 122.3 622.6 109.0 626.0 95.6 620.1 82.3 610.5z"/>
<path fill="#9c8b87" d="M82.3 610.5 95.6 619.7 109.0 625.9 122.3 622.1 135.6 619.4 149.0 615.8 149.0 615.8 135.6 619.5 122.3 622.2 109.0 625.9 95.6 619.9 82.3 610.5z"/>
<path fill="#9f9e8d" d="M82.3 610.5 95.6 619.0 109.0 625.7 122.3 620.9 135.6 618.4 149.0 615.5 162.3 619.9 175.7 627.1 175.7 627.1 162.3 621.1 149.0 615.8 135.6 619.4 122.3 622.1 109.0 625.9 95.6 619.7 82.3 610.5z"/>
<path fill="#847bac" d="M82.3 610.5 95.6 618.3 109.0 625.5 122.3 620.4 135.6 617.5 149.0 614.5 162.3 619.0 175.7 627.1 175.7 627.1 162.3 619.9 149.0 615.5 135.6 618.4 122.3 620.9 109.0 625.7 95.6 619.0 82.3 610.5z"/>
<path fill="#b7b571" d="M82.3 610.5 95.6 617.8 109.0 625.4 122.3 620.3 135.6 617.1 149.0 614.2 162.3 617.8 175.7 627.1 175.7 627.1 162.3 619.0 149.0 614.5 135.6 617.5 122.3 620.4 109.0 625.5 95.6 618.3 82.3 610.5z"/>
<path fill="#aa9f95" d="M82.3 610.5 95.6 617.5 109.0 625.3 122.3 619.9 135.6 617.1 135.6 617.1 122.3 620.3 109.0 625.4 95.6 617.8 82.3 610.5z"/>
<path fill="#9a9bad" d="M82.3 610.5 95.6 616.8 109.0 625.3 122.3 619.7 135.6 616.7 149.0 613.8 162.3 616.4 175.7 627.1 175.7 627.1 162.3 617.8 149.0 614.2 135.6 617.1 122.3 619.9 109.0 625.3 95.6 617.5 82.3 610.5z"/>
<path fill="#4c9753" d="M82.3 610.5 95.6 616.2 109.0 625.2 122.3 619.4 135.6 616.7 135.6 616.7 122.3 619.7 109.0 625.3 95.6 616.8 82.3 610.5z"/>
<path fill="#a17a51" d="M82.3 610.5 95.6 616.1 109.0 625.1 122.3 619.1 135.6 616.3 149.0 613.5 162.3 615.8 175.7 627.1 175.7 627.1 162.3 616.4 149.0 613.8 135.6 616.7 122.3 619.4 109.0 625.2 95.6 616.2 82.3 610.5z"/>
<path fill="#80a752" d="M82.3 610.5 95.6 615.7 109.0 625.0 122.3 619.0 135.6 615.9 149.0 613.3 162.3 615.8 162.3 615.8 149.0 613.5 135.6 616.3 122.3 619.1 109.0 625.1 95.6 616.1 82.3 610.5z"/>
<path fill="#97929e" d="M82.3 610.5 95.6 615.3 109.0 625.0 122.3 618.7 135.6 615.5 149.0 612.9 162.3 615.4 175.7 627.1 175.7 627.1 162.3 615.8 149.0 613.3 135.6 615.9 122.3 619.0 109.0 625.0 95.6 615.7 82.3 610.5z"/>
<path fill="#306cab" d="M82.3 610.5 95.6 614.9 109.0 624.9 122.3 618.6 135.6 615.1 149.0 612.5 162.3 614.9 175.7 627.1 175.7 627.1 162.3 615.4 149.0 612.9 135.6 615.5 122.3 618.7 109.0 625.0 95.6 615.3 82.3 610.5z"/>
<path fill="#74b794" d="M82.3 610.5 95.6 614.6 109.0 624.8 122.3 618.4 135.6 614.3 149.0 611.7 162.3 614.3 175.7 627.1 175.7 627.1 162.3 614.9 149.0 612.5 135.6 615.1 122.3 618.6 109.0 624.9 95.6 614.9 82.3 610.5z"/>
<path fill="#a99394" d="M82.3 610.5 95.6 614.1 109.0 624.8 122.3 618.1 135.6 613.5 149.0 611.2 162.3 613.5 175.7 627.1 175.7 627.1 162.3 614.3 149.0 611.7 135.6 614.3 122.3 618.4 109.0 624.8 95.6 614.6 82.3 610.5z"/>
<path fill="#26c8b6" d="M82.3 610.5 95.6 613.6 109.0 624.7 122.3 617.5 135.6 612.9 149.0 610.8 162.3 613.5 162.3 613.5 149.0 611.2 135.6 613.5 122.3 618.1 109.0 624.8 95.6 614.1 82.3 610.5z"/>
<path fill="#a08694" d="M82.3 610.5 95.6 613.3 109.0 624.5 122.3 617.0 135.6 612.6 149.0 610.4 162.3 613.5 162.3 613.5 149.0 610.8 135.6 612.9 122.3 617.5 109.0 624.7 95.6 613.6 82.3 610.5z"/>
<path fill="#865c75" d="M82.3 610.5 95.6 613.0 109.0 624.5 122.3 616.9 135.6 612.6 135.6 612.6 122.3 617.0 109.0 624.5 95.6 613.3 82.3 610.5z"/>
<path fill="#6a9ba5" d="M82.3 610.5 95.6 612.3 109.0 624.4 122.3 616.8 135.6 612.6 135.6 612.6 122.3 616.9 109.0 624.5 95.6 613.0 82.3 610.5z"/>
<path fill="#9a7bb1" d="M82.3 610.5 95.6 611.9 109.0 624.3 122.3 616.0 135.6 612.3 149.0 609.6 162.3 612.8 175.7 627.1 175.7 627.1 162.3 613.5 149.0 610.4 135.6 612.6 122.3 616.8 109.0 624.4 95.6 612.3 82.3 610.5z"/>
<path fill="#9e8d56" d="M82.3 610.5 95.6 611.6 109.0 624.2 122.3 615.6 135.6 612.0 149.0 609.4 162.3 612.4 175.7 627.1 175.7 627.1 162.3 612.8 149.0 609.6 135.6 612.3 122.3 616.0 109.0 624.3 95.6 611.9 82.3 610.5z"/>
<path fill="#96a893" d="M82.3 610.5 95.6 611.1 109.0 624.1 122.3 615.3 135.6 610.7 149.0 609.4 149.0 609.4 135.6 612.0 122.3 615.6 109.0 624.2 95.6 611.6 82.3 610.5z"/>
<path fill="#5a72b0" d="M82.3 610.5 95.6 610.7 109.0 624.0 122.3 614.8 135.6 610.4 149.0 609.4 149.0 609.4 135.6 610.7 122.3 615.3 109.0 624.1 95.6 611.1 82.3 610.5z"/>
<path fill="#6f6cab" d="M82.3 610.5 95.6 610.5 109.0 623.9 122.3 614.5 135.6 610.2 149.0 609.0 162.3 612.4 162.3 612.4 149.0 609.4 135.6 610.4 122.3 614.8 109.0 624.0 95.6 610.7 82.3 610.5z"/>
<path fill="#b37150" d="M82.3 610.5 95.6 610.1 109.0 623.9 122.3 614.2 135.6 609.7 149.0 608.4 162.3 612.0 175.7 627.1 175.7 627.1 162.3 612.4 149.0 609.0 135.6 610.2 122.3 614.5 109.0 623.9 95.6 610.5 82.3 610.5z"/>
<path fill="#3cce56" d="M82.3 610.5 95.6 609.9 109.0 623.8 122.3 613.9 135.6 609.7 135.6 609.7 122.3 614.2 109.0 623.9 95.6 610.1 82.3 610.5z"/>
<path fill="#98cc5e" d="M82.3 610.5 95.6 609.5 109.0 623.8 122.3 613.7 135.6 609.4 149.0 607.9 162.3 611.7 175.7 627.1 175.7 627.1 162.3 612.0 149.0 608.4 135.6 609.7 122.3 613.9 109.0 623.8 95.6 609.9 82.3 610.5z"/>
<path fill="#71619e" d="M82.3 610.5 95.6 608.5 109.0 623.6 122.3 612.7 135.6 608.9 149.0 606.1 162.3 610.4 175.7 627.1 175.7 627.1 162.3 611.7 149.0 607.9 135.6 609.4 122.3 613.7 109.0 623.8 95.6 609.5 82.3 610.5z"/>
<path fill="#5b63ad" d="M82.3 610.5 95.6 607.5 109.0 623.3 122.3 611.9 135.6 606.9 149.0 605.1 162.3 608.1 175.7 627.1 175.7 627.1 162.3 610.4 149.0 606.1 135.6 608.9 122.3 612.7 109.0 623.6 95.6 608.5 82.3 610.5z"/>
<path fill="#316aad" d="M82.3 610.5 95.6 607.1 109.0 623.2 122.3 611.7 135.6 606.6 149.0 604.6 162.3 608.1 162.3 608.1 149.0 605.1 135.6 606.9 122.3 611.9 109.0 623.3 95.6 607.5 82.3 610.5z"/>
<path fill="#628191" d="M82.3 610.5 95.6 606.7 109.0 623.2 122.3 611.5 135.6 606.1 149.0 604.3 162.3 607.3 175.7 627.1 175.7 627.1 162.3 608.1 149.0 604.6 135.6 606.6 122.3 611.7 109.0 623.2 95.6 607.1 82.3 610.5z"/>
<path fill="#a59d5e" d="M82.3 610.5 95.6 606.2 109.0 623.1 122.3 611.4 135.6 605.7 149.0 604.3 149.0 604.3 135.6 606.1 122.3 611.5 109.0 623.2 95.6 606.7 82.3 610.5z"/>
<path fill="#9c9f8c" d="M82.3 610.5 95.6 605.7 109.0 623.1 122.3 611.2 135.6 605.3 149.0 603.8 162.3 607.3 162.3 607.3 149.0 604.3 135.6 605.7 122.3 611.4 109.0 623.1 95.6 606.2 82.3 610.5z"/>
<path fill="#a49aa7" d="M82.3 610.5 95.6 605.4 109.0 623.1 122.3 611.0 135.6 605.0 149.0 603.3 162.3 606.9 175.7 627.1 175.7 627.1 162.3 607.3 149.0 603.8 135.6 605.3 122.3 611.2 109.0 623.1 95.6 605.7 82.3 610.5z"/>
<path fill="#979f9a" d="M82.3 610.5 95.6 605.0 109.0 623.0 122.3 610.6 135.6 604.4 149.0 602.8 162.3 606.9 162.3 606.9 149.0 603.3 135.6 605.0 122.3 611.0 109.0 623.1 95.6 605.4 82.3 610.5z"/>
<path fill="#9dbc79" d="M82.3 610.5 95.6 604.5 109.0 622.9 122.3 610.4 135.6 603.4 149.0 601.9 162.3 606.4 175.7 627.1 175.7 627.1 162.3 606.9 149.0 602.8 135.6 604.4 122.3 610.6 109.0 623.0 95.6 605.0 82.3 610.5z"/>
<path fill="#3bb8a9" d="M82.3 610.5 95.6 603.8 109.0 622.8 122.3 610.2 135.6 602.9 149.0 601.8 162.3 606.1 175.7 627.1 175.7 627.1 162.3 606.4 149.0 601.9 135.6 603.4 122.3 610.4 109.0 622.9 95.6 604.5 82.3 610.5z"/>
<path fill="#b5a158" d="M82.3 610.5 95.6 603.5 109.0 622.8 122.3 609.9 135.6 602.2 149.0 601.2 162.3 606.1 162.3 606.1 149.0 601.8 135.6 602.9 122.3 610.2 109.0 622.8 95.6 603.8 82.3 610.5z"/>
<path fill="#659f86" d="M82.3 610.5 95.6 603.0 109.0 622.8 122.3 609.6 135.6 601.1 149.0 600.6 162.3 605.6 175.7 627.1 175.7 627.1 162.3 606.1 149.0 601.2 135.6 602.2 122.3 609.9 109.0 622.8 95.6 603.5 82.3 610.5z"/>
<path fill="#4d48d6" d="M82.3 610.5 95.6 601.6 109.0 622.7 122.3 609.1 135.6 599.2 149.0 599.3 162.3 604.7 175.7 627.1 175.7 627.1 162.3 605.6 149.0 600.6 135.6 601.1 122.3 609.6 109.0 622.8 95.6 603.0 82.3 610.5z"/>
<path fill="#278cbc" d="M82.3 610.5 95.6 601.2 109.0 622.6 122.3 608.6 135.6 598.9 149.0 597.9 162.3 604.0 175.7 627.1 175.7 627.1 162.3 604.7 149.0 599.3 135.6 599.2 122.3 609.1 109.0 622.7 95.6 601.6 82.3 610.5z"/>
<path fill="#9ab1ab" d="M82.3 610.5 95.6 599.2 109.0 622.4 122.3 608.0 135.6 597.9 149.0 594.4 162.3 604.0 162.3 604.0 149.0 597.9 135.6 598.9 122.3 608.6 109.0 622.6 95.6 601.2 82.3 610.5z"/>
<path fill="#8da194" d="M82.3 610.5 95.6 598.1 109.0 622.3 122.3 607.8 135.6 597.7 149.0 593.9 162.3 603.6 175.7 627.1 175.7 627.1 162.3 604.0 149.0 594.4 135.6 597.9 122.3 608.0 109.0 622.4 95.6 599.2 82.3 610.5z"/>
<path fill="#6363a9" d="M82.3 610.5 95.6 597.7 109.0 622.2 122.3 607.5 135.6 597.2 149.0 593.9 149.0 593.9 135.6 597.7 122.3 607.8 109.0 622.3 95.6 598.1 82.3 610.5z"/>
<path fill="#b65b50" d="M82.3 610.5 95.6 597.2 109.0 622.1 122.3 607.0 135.6 596.8 149.0 593.6 162.3 603.6 162.3 603.6 149.0 593.9 135.6 597.2 122.3 607.5 109.0 622.2 95.6 597.7 82.3 610.5z"/>
<path fill="#9eaaa1" d="M82.3 610.5 95.6 596.9 109.0 622.1 122.3 606.7 135.6 596.5 149.0 593.3 162.3 603.3 175.7 627.1 175.7 627.1 162.3 603.6 149.0 593.6 135.6 596.8 122.3 607.0 109.0 622.1 95.6 597.2 82.3 610.5z"/>
<path fill="#64ba91" d="M82.3 610.5 95.6 596.6 109.0 621.9 122.3 606.3 135.6 596.0 149.0 593.3 149.0 593.3 135.6 596.5 122.3 606.7 109.0 622.1 95.6 596.9 82.3 610.5z"/>
<path fill="#a9a797" d="M82.3 610.5 95.6 596.2 109.0 621.8 122.3 606.1 135.6 595.6 149.0 592.5 162.3 602.9 175.7 627.1 175.7 627.1 162.3 603.3 149.0 593.3 135.6 596.0 122.3 606.3 109.0 621.9 95.6 596.6 82.3 610.5z"/>
<path fill="#8a67b3" d="M82.3 610.5 95.6 595.9 109.0 621.8 122.3 605.9 135.6 595.6 135.6 595.6 122.3 606.1 109.0 621.8 95.6 596.2 82.3 610.5z"/>
<path fill="#75a4a5" d="M82.3 610.5 95.6 595.1 109.0 621.8 122.3 605.7 135.6 595.1 149.0 591.2 162.3 600.9 175.7 627.1 175.7 627.1 162.3 602.9 149.0 592.5 135.6 595.6 122.3 605.9 109.0 621.8 95.6 595.9 82.3 610.5z"/>
<path fill="#cd2495" d="M82.3 610.5 95.6 594.8 109.0 621.7 122.3 605.4 135.6 594.7 149.0 591.2 149.0 591.2 135.6 595.1 122.3 605.7 109.0 621.8 95.6 595.1 82.3 610.5z"/>
<path fill="#6d8abd" d="M95.6 594.8 109.0 621.6 122.3 604.2 135.6 593.9 149.0 589.4 162.3 598.6 175.7 627.1 175.7 627.1 162.3 600.9 149.0 591.2 135.6 594.7 122.3 605.4 109.0 621.7 95.6 594.8z"/>
<path fill="#7f86ab" d="M95.6 594.8 109.0 621.5 122.3 603.9 135.6 593.6 149.0 588.9 162.3 598.6 162.3 598.6 149.0 589.4 135.6 593.9 122.3 604.2 109.0 621.6 95.6 594.8z"/>
<path fill="#9282ad" d="M95.6 594.8 109.0 621.4 122.3 603.4 135.6 593.1 149.0 588.1 162.3 598.6 162.3 598.6 149.0 588.9 135.6 593.6 122.3 603.9 109.0 621.5 95.6 594.8z"/>
<path fill="#a6896e" d="M95.6 594.8 109.0 621.4 122.3 603.2 135.6 592.7 149.0 587.8 162.3 598.6 162.3 598.6 149.0 588.1 135.6 593.1 122.3 603.4 109.0 621.4 95.6 594.8z"/>
<path fill="#9faaa3" d="M95.6 594.8 109.0 621.3 122.3 602.9 135.6 592.0 149.0 587.0 162.3 597.9 175.7 627.1 175.7 627.1 162.3 598.6 149.0 587.8 135.6 592.7 122.3 603.2 109.0 621.4 95.6 594.8z"/>
<path fill="#a1a578" d="M95.6 594.8 109.0 621.2 122.3 602.6 135.6 591.6 149.0 587.0 149.0 587.0 135.6 592.0 122.3 602.9 109.0 621.3 95.6 594.8z"/>
<path fill="#a7a78f" d="M95.6 594.8 109.0 621.0 122.3 602.4 135.6 591.2 149.0 586.6 162.3 597.5 175.7 627.1 175.7 627.1 162.3 597.9 149.0 587.0 135.6 591.6 122.3 602.6 109.0 621.2 95.6 594.8z"/>
<path fill="#96999e" d="M95.6 594.8 109.0 620.9 122.3 601.8 135.6 590.6 149.0 586.6 149.0 586.6 135.6 591.2 122.3 602.4 109.0 621.0 95.6 594.8z"/>
<path fill="#8cac4a" d="M95.6 594.8 109.0 620.7 122.3 601.1 135.6 589.8 149.0 585.7 162.3 596.5 175.7 627.1 175.7 627.1 162.3 597.5 149.0 586.6 135.6 590.6 122.3 601.8 109.0 620.9 95.6 594.8z"/>
<path fill="#a267bb" d="M95.6 594.8 109.0 620.6 122.3 600.3 135.6 588.9 149.0 584.6 162.3 595.7 175.7 627.1 175.7 627.1 162.3 596.5 149.0 585.7 135.6 589.8 122.3 601.1 109.0 620.7 95.6 594.8z"/>
<path fill="#b3ad81" d="M95.6 594.8 109.0 620.5 122.3 600.0 135.6 588.6 149.0 584.2 162.3 594.9 175.7 627.1 175.7 627.1 162.3 595.7 149.0 584.6 135.6 588.9 122.3 600.3 109.0 620.6 95.6 594.8z"/>
<path fill="#a75355" d="M95.6 594.8 109.0 620.5 122.3 599.8 135.6 588.3 149.0 583.8 162.3 594.1 175.7 627.1 175.7 627.1 162.3 594.9 149.0 584.2 135.6 588.6 122.3 600.0 109.0 620.5 95.6 594.8z"/>
<path fill="#71a3af" d="M95.6 594.8 109.0 620.2 122.3 599.6 135.6 587.7 149.0 582.3 162.3 592.0 175.7 627.1 175.7 627.1 162.3 594.1 149.0 583.8 135.6 588.3 122.3 599.8 109.0 620.5 95.6 594.8z"/>
<path fill="#a99d98" d="M95.6 594.8 109.0 620.0 122.3 598.9 135.6 586.8 149.0 582.3 149.0 582.3 135.6 587.7 122.3 599.6 109.0 620.2 95.6 594.8z"/>
<path fill="#adaaa3" d="M95.6 594.8 109.0 620.0 122.3 598.6 135.6 586.1 149.0 581.4 162.3 592.0 162.3 592.0 149.0 582.3 135.6 586.8 122.3 598.9 109.0 620.0 95.6 594.8z"/>
<path fill="#a9548e" d="M95.6 594.8 109.0 619.9 122.3 598.5 135.6 585.8 149.0 580.5 162.3 590.8 175.7 627.1 175.7 627.1 162.3 592.0 149.0 581.4 135.6 586.1 122.3 598.6 109.0 620.0 95.6 594.8z"/>
<path fill="#9e8b92" d="M95.6 594.8 109.0 619.9 122.3 598.3 135.6 585.2 149.0 580.5 149.0 580.5 135.6 585.8 122.3 598.5 109.0 619.9 95.6 594.8z"/>
<path fill="#8a7d5c" d="M95.6 594.8 109.0 619.7 122.3 597.9 135.6 584.0 149.0 578.7 162.3 588.7 175.7 627.1 175.7 627.1 162.3 590.8 149.0 580.5 135.6 585.2 122.3 598.3 109.0 619.9 95.6 594.8z"/>
<path fill="#96a455" d="M95.6 594.8 109.0 619.6 122.3 596.5 135.6 583.5 149.0 578.3 162.3 588.0 175.7 627.1 175.7 627.1 162.3 588.7 149.0 578.7 135.6 584.0 122.3 597.9 109.0 619.7 95.6 594.8z"/>
<path fill="#a5ad9c" d="M95.6 594.8 109.0 619.5 122.3 596.2 135.6 583.3 149.0 577.8 162.3 588.0 162.3 588.0 149.0 578.3 135.6 583.5 122.3 596.5 109.0 619.6 95.6 594.8z"/>
<path fill="#978d8f" d="M95.6 594.8 109.0 619.4 122.3 596.0 135.6 582.8 149.0 577.4 162.3 587.3 175.7 627.1 175.7 627.1 162.3 588.0 149.0 577.8 135.6 583.3 122.3 596.2 109.0 619.5 95.6 594.8z"/>
<path fill="#988e9b" d="M95.6 594.8 109.0 619.1 122.3 594.8 135.6 581.3 149.0 574.6 162.3 585.4 175.7 627.1 175.7 627.1 162.3 587.3 149.0 577.4 135.6 582.8 122.3 596.0 109.0 619.4 95.6 594.8z"/>
<path fill="#5ba462" d="M95.6 594.8 109.0 619.0 122.3 594.5 135.6 581.0 149.0 574.6 149.0 574.6 135.6 581.3 122.3 594.8 109.0 619.1 95.6 594.8z"/>
<path fill="#5fb58a" d="M95.6 594.8 109.0 619.0 122.3 594.3 135.6 580.7 149.0 574.1 162.3 584.0 175.7 627.1 175.7 627.1 162.3 585.4 149.0 574.6 135.6 581.0 122.3 594.5 109.0 619.0 95.6 594.8z"/>
<path fill="#a1b0b1" d="M95.6 594.8 109.0 618.9 122.3 594.1 135.6 580.4 149.0 573.4 162.3 583.5 175.7 627.1 175.7 627.1 162.3 584.0 149.0 574.1 135.6 580.7 122.3 594.3 109.0 619.0 95.6 594.8z"/>
<path fill="#7bb2b2" d="M95.6 594.8 109.0 618.9 122.3 594.0 135.6 579.9 149.0 572.9 162.3 583.5 162.3 583.5 149.0 573.4 135.6 580.4 122.3 594.1 109.0 618.9 95.6 594.8z"/>
<path fill="#8a52a4" d="M95.6 594.8 109.0 618.8 122.3 593.3 135.6 578.3 149.0 572.2 162.3 582.7 175.7 627.1 175.7 627.1 162.3 583.5 149.0 572.9 135.6 579.9 122.3 594.0 109.0 618.9 95.6 594.8z"/>
<path fill="#b586a6" d="M95.6 594.8 109.0 618.7 122.3 593.0 135.6 577.2 149.0 572.2 149.0 572.2 135.6 578.3 122.3 593.3 109.0 618.8 95.6 594.8z"/>
<path fill="#a2948a" d="M95.6 594.8 109.0 618.6 122.3 592.7 135.6 577.1 149.0 572.2 149.0 572.2 135.6 577.2 122.3 593.0 109.0 618.7 95.6 594.8z"/>
<path fill="#93a2ab" d="M95.6 594.8 109.0 618.5 122.3 592.2 135.6 576.7 149.0 571.0 162.3 582.7 162.3 582.7 149.0 572.2 135.6 577.1 122.3 592.7 109.0 618.6 95.6 594.8z"/>
<path fill="#4f6ed8" d="M95.6 594.8 109.0 618.5 122.3 591.8 135.6 576.3 149.0 570.8 162.3 581.4 175.7 627.1 175.7 627.1 162.3 582.7 149.0 571.0 135.6 576.7 122.3 592.2 109.0 618.5 95.6 594.8z"/>
<path fill="#869e8e" d="M95.6 594.8 109.0 618.4 122.3 591.6 135.6 575.8 149.0 570.8 149.0 570.8 135.6 576.3 122.3 591.8 109.0 618.5 95.6 594.8z"/>
<path fill="#70a184" d="M95.6 594.8 109.0 618.4 122.3 590.8 135.6 575.6 149.0 570.8 149.0 570.8 135.6 575.8 122.3 591.6 109.0 618.4 95.6 594.8z"/>
<path fill="#b65962" d="M95.6 594.8 109.0 618.4 122.3 590.7 135.6 575.4 149.0 570.4 162.3 580.7 175.7 627.1 175.7 627.1 162.3 581.4 149.0 570.8 135.6 575.6 122.3 590.8 109.0 618.4 95.6 594.8z"/>
<path fill="#8f9899" d="M95.6 594.8 109.0 618.3 122.3 590.3 135.6 574.4 149.0 568.6 162.3 579.9 175.7 627.1 175.7 627.1 162.3 580.7 149.0 570.4 135.6 575.4 122.3 590.7 109.0 618.4 95.6 594.8z"/>
<path fill="#578094" d="M95.6 594.8 109.0 618.2 122.3 589.8 135.6 573.3 149.0 568.1 162.3 579.9 162.3 579.9 149.0 568.6 135.6 574.4 122.3 590.3 109.0 618.3 95.6 594.8z"/>
<path fill="#97569f" d="M95.6 594.8 109.0 618.1 122.3 589.4 135.6 573.0 149.0 568.1 149.0 568.1 135.6 573.3 122.3 589.8 109.0 618.2 95.6 594.8z"/>
<path fill="#aea9a6" d="M95.6 594.8 109.0 618.0 122.3 589.1 135.6 572.5 149.0 567.7 162.3 578.7 175.7 627.1 175.7 627.1 162.3 579.9 149.0 568.1 135.6 573.0 122.3 589.4 109.0 618.1 95.6 594.8z"/>
<path fill="#b36954" d="M95.6 594.8 109.0 617.9 122.3 588.8 135.6 571.7 149.0 567.2 162.3 576.8 175.7 627.1 175.7 627.1 162.3 578.7 149.0 567.7 135.6 572.5 122.3 589.1 109.0 618.0 95.6 594.8z"/>
<path fill="#8caf5a" d="M95.6 594.8 109.0 617.8 122.3 588.5 135.6 571.1 149.0 565.7 162.3 576.0 175.7 627.1 175.7 627.1 162.3 576.8 149.0 567.2 135.6 571.7 122.3 588.8 109.0 617.9 95.6 594.8z"/>
<path fill="#5da7c6" d="M95.6 594.8 109.0 617.7 122.3 588.3 135.6 570.8 149.0 564.7 162.3 575.6 175.7 627.1 175.7 627.1 162.3 576.0 149.0 565.7 135.6 571.1 122.3 588.5 109.0 617.8 95.6 594.8z"/>
<path fill="#9eab95" d="M95.6 594.8 109.0 617.7 122.3 588.0 135.6 570.6 149.0 564.3 162.3 574.8 175.7 627.1 175.7 627.1 162.3 575.6 149.0 564.7 135.6 570.8 122.3 588.3 109.0 617.7 95.6 594.8z"/>
<path fill="#b283ac" d="M95.6 594.8 109.0 617.6 122.3 587.9 135.6 570.4 149.0 564.3 149.0 564.3 135.6 570.6 122.3 588.0 109.0 617.7 95.6 594.8z"/>
<path fill="#a4734f" d="M95.6 594.8 109.0 617.5 122.3 587.3 135.6 569.2 149.0 564.3 149.0 564.3 135.6 570.4 122.3 587.9 109.0 617.6 95.6 594.8z"/>
<path fill="#4e9863" d="M95.6 594.8 109.0 617.4 122.3 586.8 135.6 569.0 149.0 564.3 149.0 564.3 135.6 569.2 122.3 587.3 109.0 617.5 95.6 594.8z"/>
<path fill="#9ca999" d="M109.0 617.4 122.3 586.5 135.6 568.6 149.0 563.5 162.3 574.8 162.3 574.8 149.0 564.3 135.6 569.0 122.3 586.8 109.0 617.4z"/>
<path fill="#559f4e" d="M109.0 617.4 122.3 585.6 135.6 567.6 149.0 562.9 162.3 574.8 162.3 574.8 149.0 563.5 135.6 568.6 122.3 586.5 109.0 617.4z"/>
<path fill="#b27091" d="M109.0 617.4 122.3 585.2 135.6 567.2 149.0 562.2 162.3 574.3 175.7 627.1 175.7 627.1 162.3 574.8 149.0 562.9 135.6 567.6 122.3 585.6 109.0 617.4z"/>
<path fill="#69aa66" d="M109.0 617.4 122.3 585.1 135.6 567.0 149.0 562.0 162.3 574.3 162.3 574.3 149.0 562.2 135.6 567.2 122.3 585.2 109.0 617.4z"/>
<path fill="#8aa255" d="M109.0 617.4 122.3 584.3 135.6 566.2 149.0 560.8 162.3 572.9 175.7 627.1 175.7 627.1 162.3 574.3 149.0 562.0 135.6 567.0 122.3 585.1 109.0 617.4z"/>
<path fill="#a18c9f" d="M109.0 617.4 122.3 583.7 135.6 565.3 149.0 560.0 162.3 572.3 175.7 627.1 175.7 627.1 162.3 572.9 149.0 560.8 135.6 566.2 122.3 584.3 109.0 617.4z"/>
<path fill="#7b60af" d="M109.0 617.4 122.3 583.6 135.6 565.0 149.0 559.7 162.3 572.3 162.3 572.3 149.0 560.0 135.6 565.3 122.3 583.7 109.0 617.4z"/>
<path fill="#2f5c90" d="M109.0 617.4 122.3 583.4 135.6 564.8 149.0 559.4 162.3 572.3 162.3 572.3 149.0 559.7 135.6 565.0 122.3 583.6 109.0 617.4z"/>
<path fill="#75c594" d="M109.0 617.4 122.3 582.6 135.6 563.5 149.0 558.3 162.3 572.3 162.3 572.3 149.0 559.4 135.6 564.8 122.3 583.4 109.0 617.4z"/>
<path fill="#be6c7f" d="M109.0 617.4 122.3 582.1 135.6 562.9 149.0 557.7 162.3 571.1 175.7 627.1 175.7 627.1 162.3 572.3 149.0 558.3 135.6 563.5 122.3 582.6 109.0 617.4z"/>
<path fill="#a1b0b2" d="M109.0 617.4 122.3 581.9 135.6 562.6 149.0 556.9 162.3 571.1 162.3 571.1 149.0 557.7 135.6 562.9 122.3 582.1 109.0 617.4z"/>
<path fill="#aaaa60" d="M109.0 617.4 122.3 581.6 135.6 561.8 149.0 555.7 162.3 568.8 175.7 627.1 175.7 627.1 162.3 571.1 149.0 556.9 135.6 562.6 122.3 581.9 109.0 617.4z"/>
<path fill="#994a76" d="M109.0 617.4 122.3 581.5 135.6 561.5 149.0 555.5 162.3 568.8 162.3 568.8 149.0 555.7 135.6 561.8 122.3 581.6 109.0 617.4z"/>
<path fill="#ae442d" d="M109.0 617.4 122.3 581.0 135.6 561.0 149.0 554.6 162.3 568.8 162.3 568.8 149.0 555.5 135.6 561.5 122.3 581.5 109.0 617.4z"/>
<path fill="#6e61a1" d="M109.0 617.4 122.3 580.6 135.6 560.5 149.0 553.5 162.3 568.0 175.7 627.1 175.7 627.1 162.3 568.8 149.0 554.6 135.6 561.0 122.3 581.0 109.0 617.4z"/>
<path fill="#998ba3" d="M109.0 617.4 122.3 580.4 135.6 560.0 149.0 552.9 162.3 567.6 175.7 627.1 175.7 627.1 162.3 568.0 149.0 553.5 135.6 560.5 122.3 580.6 109.0 617.4z"/>
<path fill="#a9b550" d="M109.0 617.4 122.3 579.5 135.6 559.0 149.0 551.9 162.3 567.6 162.3 567.6 149.0 552.9 135.6 560.0 122.3 580.4 109.0 617.4z"/>
<path fill="#b97565" d="M109.0 617.4 122.3 579.3 135.6 558.6 149.0 551.7 162.3 567.6 162.3 567.6 149.0 551.9 135.6 559.0 122.3 579.5 109.0 617.4z"/>
<path fill="#9aa998" d="M109.0 617.4 122.3 579.1 135.6 557.9 149.0 550.9 162.3 566.8 175.7 627.1 175.7 627.1 162.3 567.6 149.0 551.7 135.6 558.6 122.3 579.3 109.0 617.4z"/>
<path fill="#9b80ac" d="M109.0 617.4 122.3 578.8 135.6 557.3 149.0 550.5 162.3 566.4 175.7 627.1 175.7 627.1 162.3 566.8 149.0 550.9 135.6 557.9 122.3 579.1 109.0 617.4z"/>
<path fill="#6fc550" d="M109.0 617.4 122.3 578.6 135.6 557.2 149.0 550.3 162.3 565.8 175.7 627.1 175.7 627.1 162.3 566.4 149.0 550.5 135.6 557.3 122.3 578.8 109.0 617.4z"/>
<path fill="#4aa383" d="M109.0 617.4 122.3 578.3 135.6 556.9 149.0 549.8 162.3 565.5 175.7 627.1 175.7 627.1 162.3 565.8 149.0 550.3 135.6 557.2 122.3 578.6 109.0 617.4z"/>
<path fill="#587bc7" d="M109.0 617.4 122.3 578.1 135.6 556.6 149.0 549.3 162.3 565.0 175.7 627.1 175.7 627.1 162.3 565.5 149.0 549.8 135.6 556.9 122.3 578.3 109.0 617.4z"/>
<path fill="#9a989f" d="M109.0 617.4 122.3 577.9 135.6 556.0 149.0 548.9 162.3 564.0 175.7 627.1 175.7 627.1 162.3 565.0 149.0 549.3 135.6 556.6 122.3 578.1 109.0 617.4z"/>
<path fill="#5c2d97" d="M109.0 617.4 122.3 577.5 135.6 555.5 149.0 548.4 162.3 564.0 162.3 564.0 149.0 548.9 135.6 556.0 122.3 577.9 109.0 617.4z"/>
<path fill="#978c9a" d="M122.3 577.5 135.6 555.2 149.0 548.3 162.3 563.8 175.7 627.1 175.7 627.1 162.3 564.0 149.0 548.4 135.6 555.5 122.3 577.5z"/>
<path fill="#379d3d" d="M122.3 577.5 135.6 554.8 149.0 547.9 162.3 563.0 175.7 627.1 175.7 627.1 162.3 563.8 149.0 548.3 135.6 555.2 122.3 577.5z"/>
<path fill="#7f5b92" d="M122.3 577.5 135.6 554.2 149.0 547.2 162.3 562.8 175.7 627.1 175.7 627.1 162.3 563.0 149.0 547.9 135.6 554.8 122.3 577.5z"/>
<path fill="#8542d3" d="M122.3 577.5 135.6 553.6 149.0 546.3 162.3 562.0 175.7 627.1 175.7 627.1 162.3 562.8 149.0 547.2 135.6 554.2 122.3 577.5z"/>
<path fill="#99a291" d="M122.3 577.5 135.6 553.2 149.0 545.7 162.3 561.5 175.7 627.1 175.7 627.1 162.3 562.0 149.0 546.3 135.6 553.6 122.3 577.5z"/>
<path fill="#bc667c" d="M122.3 577.5 135.6 552.6 149.0 545.4 162.3 561.0 175.7 627.1 175.7 627.1 162.3 561.5 149.0 545.7 135.6 553.2 122.3 577.5z"/>
<path fill="#9d95a4" d="M122.3 577.5 135.6 551.5 149.0 545.0 162.3 560.0 175.7 627.1 175.7 627.1 162.3 561.0 149.0 545.4 135.6 552.6 122.3 577.5z"/>
<path fill="#87b1a5" d="M122.3 577.5 135.6 550.8 149.0 542.7 162.3 559.1 175.7 627.1 175.7 627.1 162.3 560.0 149.0 545.0 135.6 551.5 122.3 577.5z"/>
<path fill="#7448a1" d="M162.3 559.1 175.7 625.8 189.0 627.3 202.3 627.1 215.7 626.9 229.0 625.4 242.3 626.0 242.3 626.0 229.0 626.0 215.7 627.5 202.3 627.5 189.0 627.5 175.7 627.1 162.3 559.1z"/>
<path fill="#8b6081" d="M162.3 559.1 175.7 625.1 189.0 626.9 202.3 626.9 215.7 626.8 229.0 625.4 229.0 625.4 215.7 626.9 202.3 627.1 189.0 627.3 175.7 625.8 162.3 559.1z"/>
<path fill="#a8a193" d="M162.3 559.1 175.7 624.4 189.0 626.5 202.3 626.7 215.7 626.7 229.0 625.4 229.0 625.4 215.7 626.8 202.3 626.9 189.0 626.9 175.7 625.1 162.3 559.1z"/>
<path fill="#a1a0a9" d="M162.3 559.1 175.7 623.7 189.0 625.9 202.3 626.3 215.7 626.7 215.7 626.7 202.3 626.7 189.0 626.5 175.7 624.4 162.3 559.1z"/>
<path fill="#79b69b" d="M162.3 559.1 175.7 622.2 189.0 625.8 202.3 626.1 215.7 626.4 229.0 625.4 229.0 625.4 215.7 626.7 202.3 626.3 189.0 625.9 175.7 623.7 162.3 559.1z"/>
<path fill="#644999" d="M162.3 559.1 175.7 620.2 189.0 625.6 202.3 625.9 215.7 626.4 215.7 626.4 202.3 626.1 189.0 625.8 175.7 622.2 162.3 559.1z"/>
<path fill="#ae6db4" d="M162.3 559.1 175.7 619.4 189.0 625.3 202.3 625.6 215.7 626.2 229.0 625.0 242.3 626.0 242.3 626.0 229.0 625.4 215.7 626.4 202.3 625.9 189.0 625.6 175.7 620.2 162.3 559.1z"/>
<path fill="#949a8f" d="M162.3 559.1 175.7 618.4 189.0 625.1 202.3 625.5 215.7 626.0 229.0 624.6 242.3 626.0 242.3 626.0 229.0 625.0 215.7 626.2 202.3 625.6 189.0 625.3 175.7 619.4 162.3 559.1z"/>
<path fill="#98abad" d="M162.3 559.1 175.7 617.8 189.0 624.8 202.3 625.2 215.7 625.8 229.0 624.2 242.3 626.0 242.3 626.0 229.0 624.6 215.7 626.0 202.3 625.5 189.0 625.1 175.7 618.4 162.3 559.1z"/>
<path fill="#bea079" d="M162.3 559.1 175.7 616.3 189.0 624.1 202.3 624.6 215.7 625.5 229.0 623.4 242.3 626.0 242.3 626.0 229.0 624.2 215.7 625.8 202.3 625.2 189.0 624.8 175.7 617.8 162.3 559.1z"/>
<path fill="#74b65d" d="M162.3 559.1 175.7 615.5 189.0 623.9 202.3 624.1 215.7 625.3 229.0 623.4 229.0 623.4 215.7 625.5 202.3 624.6 189.0 624.1 175.7 616.3 162.3 559.1z"/>
<path fill="#4bae7b" d="M162.3 559.1 175.7 614.8 189.0 623.4 202.3 623.9 215.7 624.5 229.0 623.4 229.0 623.4 215.7 625.3 202.3 624.1 189.0 623.9 175.7 615.5 162.3 559.1z"/>
<path fill="#77a65a" d="M162.3 559.1 175.7 614.3 189.0 623.1 202.3 623.7 215.7 624.0 229.0 623.0 242.3 626.0 242.3 626.0 229.0 623.4 215.7 624.5 202.3 623.9 189.0 623.4 175.7 614.8 162.3 559.1z"/>
<path fill="#988aa2" d="M162.3 559.1 175.7 612.4 189.0 622.7 202.3 623.4 215.7 623.4 229.0 622.6 242.3 626.0 242.3 626.0 229.0 623.0 215.7 624.0 202.3 623.7 189.0 623.1 175.7 614.3 162.3 559.1z"/>
<path fill="#2741dc" d="M162.3 559.1 175.7 610.7 189.0 622.1 202.3 622.8 215.7 623.4 215.7 623.4 202.3 623.4 189.0 622.7 175.7 612.4 162.3 559.1z"/>
<path fill="#a9a298" d="M162.3 559.1 175.7 610.3 189.0 622.0 202.3 622.7 215.7 623.4 215.7 623.4 202.3 622.8 189.0 622.1 175.7 610.7 162.3 559.1z"/>
<path fill="#9b6fba" d="M162.3 559.1 175.7 609.5 189.0 621.8 202.3 622.6 215.7 623.1 229.0 622.3 242.3 626.0 242.3 626.0 229.0 622.6 215.7 623.4 202.3 622.7 189.0 622.0 175.7 610.3 162.3 559.1z"/>
<path fill="#73b44c" d="M162.3 559.1 175.7 608.5 189.0 621.6 202.3 622.4 215.7 623.0 229.0 622.0 242.3 626.0 242.3 626.0 229.0 622.3 215.7 623.1 202.3 622.6 189.0 621.8 175.7 609.5 162.3 559.1z"/>
<path fill="#3c3fb4" d="M162.3 559.1 175.7 607.3 189.0 621.3 202.3 622.3 215.7 622.9 229.0 622.0 229.0 622.0 215.7 623.0 202.3 622.4 189.0 621.6 175.7 608.5 162.3 559.1z"/>
<path fill="#9fad4a" d="M162.3 559.1 175.7 606.1 189.0 621.1 202.3 622.1 215.7 622.9 215.7 622.9 202.3 622.3 189.0 621.3 175.7 607.3 162.3 559.1z"/>
<path fill="#b1914b" d="M162.3 559.1 175.7 605.2 189.0 620.7 202.3 621.9 215.7 622.4 229.0 622.0 229.0 622.0 215.7 622.9 202.3 622.1 189.0 621.1 175.7 606.1 162.3 559.1z"/>
<path fill="#a05867" d="M162.3 559.1 175.7 604.6 189.0 620.5 202.3 621.6 215.7 622.4 215.7 622.4 202.3 621.9 189.0 620.7 175.7 605.2 162.3 559.1z"/>
<path fill="#b35289" d="M162.3 559.1 175.7 603.8 189.0 620.3 202.3 621.5 215.7 622.2 229.0 622.0 229.0 622.0 215.7 622.4 202.3 621.6 189.0 620.5 175.7 604.6 162.3 559.1z"/>
<path fill="#61a47f" d="M162.3 559.1 175.7 602.7 189.0 620.1 202.3 621.4 215.7 622.1 229.0 621.5 242.3 626.0 242.3 626.0 229.0 622.0 215.7 622.2 202.3 621.5 189.0 620.3 175.7 603.8 162.3 559.1z"/>
<path fill="#9c9fa7" d="M162.3 559.1 175.7 601.9 189.0 619.8 202.3 621.1 215.7 621.8 229.0 620.9 242.3 626.0 242.3 626.0 229.0 621.5 215.7 622.1 202.3 621.4 189.0 620.1 175.7 602.7 162.3 559.1z"/>
<path fill="#73bb85" d="M162.3 559.1 175.7 601.5 189.0 619.6 202.3 621.1 215.7 621.7 229.0 620.8 242.3 626.0 242.3 626.0 229.0 620.9 215.7 621.8 202.3 621.1 189.0 619.8 175.7 601.9 162.3 559.1z"/>
<path fill="#af8699" d="M162.3 559.1 175.7 601.2 189.0 619.6 202.3 621.0 215.7 621.5 229.0 620.7 242.3 626.0 242.3 626.0 229.0 620.8 215.7 621.7 202.3 621.1 189.0 619.6 175.7 601.5 162.3 559.1z"/>
<path fill="#ac9995" d="M162.3 559.1 175.7 600.8 189.0 619.5 202.3 620.9 215.7 621.4 229.0 620.5 242.3 626.0 242.3 626.0 229.0 620.7 215.7 621.5 202.3 621.0 189.0 619.6 175.7 601.2 162.3 559.1z"/>
<path fill="#a57468" d="M162.3 559.1 175.7 600.5 189.0 619.3 202.3 620.8 215.7 621.3 229.0 620.0 242.3 626.0 242.3 626.0 229.0 620.5 215.7 621.4 202.3 620.9 189.0 619.5 175.7 600.8 162.3 559.1z"/>
<path fill="#906f9d" d="M162.3 559.1 175.7 599.9 189.0 619.0 202.3 620.6 215.7 621.2 229.0 619.9 242.3 626.0 242.3 626.0 229.0 620.0 215.7 621.3 202.3 620.8 189.0 619.3 175.7 600.5 162.3 559.1z"/>
<path fill="#9f98a0" d="M162.3 559.1 175.7 599.2 189.0 618.8 202.3 620.4 215.7 620.7 229.0 619.7 242.3 626.0 242.3 626.0 229.0 619.9 215.7 621.2 202.3 620.6 189.0 619.0 175.7 599.9 162.3 559.1z"/>
<path fill="#bc7284" d="M162.3 559.1 175.7 598.8 189.0 618.7 202.3 620.1 215.7 620.5 229.0 619.7 229.0 619.7 215.7 620.7 202.3 620.4 189.0 618.8 175.7 599.2 162.3 559.1z"/>
<path fill="#6b66ae" d="M162.3 559.1 175.7 598.3 189.0 618.3 202.3 619.9 215.7 620.2 229.0 619.3 242.3 626.0 242.3 626.0 229.0 619.7 215.7 620.5 202.3 620.1 189.0 618.7 175.7 598.8 162.3 559.1z"/>
<path fill="#78b1a1" d="M162.3 559.1 175.7 597.4 189.0 617.9 202.3 619.7 215.7 619.9 229.0 619.0 242.3 626.0 242.3 626.0 229.0 619.3 215.7 620.2 202.3 619.9 189.0 618.3 175.7 598.3 162.3 559.1z"/>
<path fill="#a07384" d="M162.3 559.1 175.7 597.3 189.0 617.9 202.3 619.6 215.7 619.8 229.0 619.0 242.3 626.0 242.3 626.0 229.0 619.0 215.7 619.9 202.3 619.7 189.0 617.9 175.7 597.4 162.3 559.1z"/>
<path fill="#bfc278" d="M162.3 559.1 175.7 596.1 189.0 617.5 202.3 619.2 215.7 619.8 215.7 619.8 202.3 619.6 189.0 617.9 175.7 597.3 162.3 559.1z"/>
<path fill="#8e5f5b" d="M162.3 559.1 175.7 595.4 189.0 617.4 202.3 619.1 215.7 619.7 229.0 618.8 242.3 626.0 242.3 626.0 229.0 619.0 215.7 619.8 202.3 619.2 189.0 617.5 175.7 596.1 162.3 559.1z"/>
<path fill="#9f78b3" d="M162.3 559.1 175.7 595.1 189.0 617.3 202.3 619.0 215.7 619.7 215.7 619.7 202.3 619.1 189.0 617.4 175.7 595.4 162.3 559.1z"/>
<path fill="#7686bc" d="M162.3 559.1 175.7 594.4 189.0 617.1 202.3 618.9 215.7 619.4 229.0 618.6 242.3 626.0 242.3 626.0 229.0 618.8 215.7 619.7 202.3 619.0 189.0 617.3 175.7 595.1 162.3 559.1z"/>
<path fill="#9db2a2" d="M175.7 594.4 189.0 616.9 202.3 618.5 215.7 619.2 229.0 618.6 229.0 618.6 215.7 619.4 202.3 618.9 189.0 617.1 175.7 594.4z"/>
<path fill="#6a64b0" d="M175.7 594.4 189.0 616.5 202.3 618.3 215.7 618.5 229.0 618.4 242.3 626.0 242.3 626.0 229.0 618.6 215.7 619.2 202.3 618.5 189.0 616.9 175.7 594.4z"/>
<path fill="#8676a5" d="M175.7 594.4 189.0 616.1 202.3 617.7 215.7 618.0 229.0 618.4 229.0 618.4 215.7 618.5 202.3 618.3 189.0 616.5 175.7 594.4z"/>
<path fill="#a68e91" d="M175.7 594.4 189.0 615.3 202.3 617.5 215.7 617.8 229.0 618.4 229.0 618.4 215.7 618.0 202.3 617.7 189.0 616.1 175.7 594.4z"/>
<path fill="#cd3788" d="M175.7 594.4 189.0 614.9 202.3 617.2 215.7 617.4 229.0 617.7 242.3 626.0 242.3 626.0 229.0 618.4 215.7 617.8 202.3 617.5 189.0 615.3 175.7 594.4z"/>
<path fill="#909ca6" d="M175.7 594.4 189.0 614.7 202.3 617.0 215.7 616.9 229.0 617.7 229.0 617.7 215.7 617.4 202.3 617.2 189.0 614.9 175.7 594.4z"/>
<path fill="#74ac85" d="M175.7 594.4 189.0 614.6 202.3 616.9 215.7 616.7 229.0 617.7 229.0 617.7 215.7 616.9 202.3 617.0 189.0 614.7 175.7 594.4z"/>
<path fill="#84af69" d="M175.7 594.4 189.0 614.4 202.3 616.7 215.7 616.6 229.0 617.4 242.3 626.0 242.3 626.0 229.0 617.7 215.7 616.7 202.3 616.9 189.0 614.6 175.7 594.4z"/>
<path fill="#a99a97" d="M175.7 594.4 189.0 614.0 202.3 616.5 215.7 616.4 229.0 617.1 242.3 626.0 242.3 626.0 229.0 617.4 215.7 616.6 202.3 616.7 189.0 614.4 175.7 594.4z"/>
<path fill="#45d46a" d="M175.7 594.4 189.0 613.9 202.3 616.4 215.7 616.2 229.0 617.0 242.3 626.0 242.3 626.0 229.0 617.1 215.7 616.4 202.3 616.5 189.0 614.0 175.7 594.4z"/>
<path fill="#48a27d" d="M175.7 594.4 189.0 613.7 202.3 616.0 215.7 615.9 229.0 616.3 242.3 626.0 242.3 626.0 229.0 617.0 215.7 616.2 202.3 616.4 189.0 613.9 175.7 594.4z"/>
<path fill="#9d9aa1" d="M175.7 594.4 189.0 613.5 202.3 615.8 215.7 615.5 229.0 615.5 242.3 626.0 242.3 626.0 229.0 616.3 215.7 615.9 202.3 616.0 189.0 613.7 175.7 594.4z"/>
<path fill="#9dbf2f" d="M175.7 594.4 189.0 613.2 202.3 615.6 215.7 615.3 229.0 615.5 229.0 615.5 215.7 615.5 202.3 615.8 189.0 613.5 175.7 594.4z"/>
<path fill="#5a8676" d="M175.7 594.4 189.0 612.9 202.3 615.5 215.7 615.1 229.0 615.2 242.3 626.0 242.3 626.0 229.0 615.5 215.7 615.3 202.3 615.6 189.0 613.2 175.7 594.4z"/>
<path fill="#637ca0" d="M175.7 594.4 189.0 612.3 202.3 614.9 215.7 614.8 229.0 614.4 242.3 626.0 242.3 626.0 229.0 615.2 215.7 615.1 202.3 615.5 189.0 612.9 175.7 594.4z"/>
<path fill="#b0a4a2" d="M175.7 594.4 189.0 612.1 202.3 614.7 215.7 614.8 229.0 613.5 242.3 626.0 242.3 626.0 229.0 614.4 215.7 614.8 202.3 614.9 189.0 612.3 175.7 594.4z"/>
<path fill="#9e6b9b" d="M175.7 594.4 189.0 612.0 202.3 614.5 215.7 614.5 229.0 613.1 242.3 626.0 242.3 626.0 229.0 613.5 215.7 614.8 202.3 614.7 189.0 612.1 175.7 594.4z"/>
<path fill="#4eb399" d="M175.7 594.4 189.0 611.7 202.3 614.3 215.7 614.3 229.0 612.4 242.3 626.0 242.3 626.0 229.0 613.1 215.7 614.5 202.3 614.5 189.0 612.0 175.7 594.4z"/>
<path fill="#539d65" d="M175.7 594.4 189.0 611.6 202.3 614.1 215.7 613.7 229.0 612.4 229.0 612.4 215.7 614.3 202.3 614.3 189.0 611.7 175.7 594.4z"/>
<path fill="#97be68" d="M175.7 594.4 189.0 611.2 202.3 613.7 215.7 613.2 229.0 612.4 229.0 612.4 215.7 613.7 202.3 614.1 189.0 611.6 175.7 594.4z"/>
<path fill="#7a5ea7" d="M175.7 594.4 189.0 610.2 202.3 613.4 215.7 612.9 229.0 612.0 242.3 626.0 242.3 626.0 229.0 612.4 215.7 613.2 202.3 613.7 189.0 611.2 175.7 594.4z"/>
<path fill="#9b8c99" d="M175.7 594.4 189.0 609.9 202.3 613.3 215.7 612.5 229.0 612.0 229.0 612.0 215.7 612.9 202.3 613.4 189.0 610.2 175.7 594.4z"/>
<path fill="#a52376" d="M175.7 594.4 189.0 609.4 202.3 613.1 215.7 612.2 229.0 611.7 242.3 626.0 242.3 626.0 229.0 612.0 215.7 612.5 202.3 613.3 189.0 609.9 175.7 594.4z"/>
<path fill="#45a638" d="M175.7 594.4 189.0 608.9 202.3 612.8 215.7 612.0 229.0 611.1 242.3 626.0 242.3 626.0 229.0 611.7 215.7 612.2 202.3 613.1 189.0 609.4 175.7 594.4z"/>
<path fill="#62ca2f" d="M175.7 594.4 189.0 608.7 202.3 612.4 215.7 611.7 229.0 611.1 229.0 611.1 215.7 612.0 202.3 612.8 189.0 608.9 175.7 594.4z"/>
<path fill="#968da6" d="M175.7 594.4 189.0 608.5 202.3 612.3 215.7 611.5 229.0 610.6 242.3 626.0 242.3 626.0 229.0 611.1 215.7 611.7 202.3 612.4 189.0 608.7 175.7 594.4z"/>
<path fill="#8aa38f" d="M175.7 594.4 189.0 607.9 202.3 612.2 215.7 611.3 229.0 610.6 229.0 610.6 215.7 611.5 202.3 612.3 189.0 608.5 175.7 594.4z"/>
<path fill="#ad98ab" d="M175.7 594.4 189.0 607.7 202.3 612.0 215.7 611.2 229.0 610.6 229.0 610.6 215.7 611.3 202.3 612.2 189.0 607.9 175.7 594.4z"/>
<path fill="#8d9e99" d="M175.7 594.4 189.0 607.4 202.3 611.7 215.7 610.8 229.0 610.6 229.0 610.6 215.7 611.2 202.3 612.0 189.0 607.7 175.7 594.4z"/>
<path fill="#3b93a1" d="M175.7 594.4 189.0 606.9 202.3 611.6 215.7 610.2 229.0 610.2 242.3 626.0 242.3 626.0 229.0 610.6 215.7 610.8 202.3 611.7 189.0 607.4 175.7 594.4z"/>
<path fill="#945298" d="M175.7 594.4 189.0 606.7 202.3 611.3 215.7 609.9 229.0 610.2 229.0 610.2 215.7 610.2 202.3 611.6 189.0 606.9 175.7 594.4z"/>
<path fill="#8b90a2" d="M175.7 594.4 189.0 606.5 202.3 611.0 215.7 609.8 229.0 610.1 242.3 626.0 242.3 626.0 229.0 610.2 215.7 609.9 202.3 611.3 189.0 606.7 175.7 594.4z"/>
<path fill="#dda350" d="M175.7 594.4 189.0 606.4 202.3 610.6 215.7 609.4 229.0 610.1 229.0 610.1 215.7 609.8 202.3 611.0 189.0 606.5 175.7 594.4z"/>
<path fill="#994c38" d="M175.7 594.4 189.0 605.9 202.3 610.3 215.7 609.1 229.0 610.1 229.0 610.1 215.7 609.4 202.3 610.6 189.0 606.4 175.7 594.4z"/>
<path fill="#96919a" d="M175.7 594.4 189.0 605.4 202.3 610.0 215.7 608.9 229.0 610.1 229.0 610.1 215.7 609.1 202.3 610.3 189.0 605.9 175.7 594.4z"/>
<path fill="#959d96" d="M175.7 594.4 189.0 605.1 202.3 609.8 215.7 608.7 229.0 610.1 229.0 610.1 215.7 608.9 202.3 610.0 189.0 605.4 175.7 594.4z"/>
<path fill="#9b6599" d="M175.7 594.4 189.0 605.0 202.3 609.8 215.7 608.4 229.0 610.1 229.0 610.1 215.7 608.7 202.3 609.8 189.0 605.1 175.7 594.4z"/>
<path fill="#acaca6" d="M175.7 594.4 189.0 604.9 202.3 609.6 215.7 608.3 229.0 609.9 242.3 626.0 242.3 626.0 229.0 610.1 215.7 608.4 202.3 609.8 189.0 605.0 175.7 594.4z"/>
<path fill="#ac6a54" d="M175.7 594.4 189.0 604.6 202.3 609.4 215.7 608.2 229.0 609.9 229.0 609.9 215.7 608.3 202.3 609.6 189.0 604.9 175.7 594.4z"/>
<path fill="#30d93f" d="M175.7 594.4 189.0 604.4 202.3 609.1 215.7 608.0 229.0 609.9 229.0 609.9 215.7 608.2 202.3 609.4 189.0 604.6 175.7 594.4z"/>
<path fill="#a2984f" d="M175.7 594.4 189.0 604.2 202.3 608.9 215.7 607.8 229.0 609.9 229.0 609.9 215.7 608.0 202.3 609.1 189.0 604.4 175.7 594.4z"/>
<path fill="#a39bab" d="M175.7 594.4 189.0 603.8 202.3 608.8 215.7 607.4 229.0 609.2 242.3 626.0 242.3 626.0 229.0 609.9 215.7 607.8 202.3 608.9 189.0 604.2 175.7 594.4z"/>
<path fill="#66a680" d="M175.7 594.4 189.0 603.3 202.3 608.6 215.7 607.0 229.0 609.2 229.0 609.2 215.7 607.4 202.3 608.8 189.0 603.8 175.7 594.4z"/>
<path fill="#9d9d8d" d="M189.0 603.3 202.3 608.3 215.7 606.8 229.0 608.8 242.3 626.0 242.3 626.0 229.0 609.2 215.7 607.0 202.3 608.6 189.0 603.3z"/>
<path fill="#a3989d" d="M189.0 603.3 202.3 607.9 215.7 606.5 229.0 608.4 242.3 626.0 242.3 626.0 229.0 608.8 215.7 606.8 202.3 608.3 189.0 603.3z"/>
<path fill="#b767a3" d="M189.0 603.3 202.3 607.9 215.7 606.4 229.0 608.1 242.3 626.0 242.3 626.0 229.0 608.4 215.7 606.5 202.3 607.9 189.0 603.3z"/>
<path fill="#875b9e" d="M189.0 603.3 202.3 607.7 215.7 606.2 229.0 607.4 242.3 626.0 242.3 626.0 229.0 608.1 215.7 606.4 202.3 607.9 189.0 603.3z"/>
<path fill="#a448c9" d="M189.0 603.3 202.3 607.6 215.7 606.1 229.0 607.3 242.3 626.0 242.3 626.0 229.0 607.4 215.7 606.2 202.3 607.7 189.0 603.3z"/>
<path fill="#6abfc0" d="M189.0 603.3 202.3 607.4 215.7 605.9 229.0 607.1 242.3 626.0 242.3 626.0 229.0 607.3 215.7 606.1 202.3 607.6 189.0 603.3z"/>
<path fill="#9f889c" d="M189.0 603.3 202.3 607.2 215.7 605.7 229.0 606.9 242.3 626.0 242.3 626.0 229.0 607.1 215.7 605.9 202.3 607.4 189.0 603.3z"/>
<path fill="#b09ca7" d="M189.0 603.3 202.3 607.1 215.7 605.4 229.0 606.7 242.3 626.0 242.3 626.0 229.0 606.9 215.7 605.7 202.3 607.2 189.0 603.3z"/>
<path fill="#9ebb7e" d="M189.0 603.3 202.3 606.8 215.7 604.4 229.0 606.2 242.3 626.0 242.3 626.0 229.0 606.7 215.7 605.4 202.3 607.1 189.0 603.3z"/>
<path fill="#7fba79" d="M189.0 603.3 202.3 606.5 215.7 604.2 229.0 605.6 242.3 626.0 242.3 626.0 229.0 606.2 215.7 604.4 202.3 606.8 189.0 603.3z"/>
<path fill="#9d85ab" d="M189.0 603.3 202.3 606.3 215.7 604.0 229.0 605.0 242.3 626.0 242.3 626.0 229.0 605.6 215.7 604.2 202.3 606.5 189.0 603.3z"/>
<path fill="#976cbb" d="M189.0 603.3 202.3 606.0 215.7 603.8 229.0 604.7 242.3 626.0 242.3 626.0 229.0 605.0 215.7 604.0 202.3 606.3 189.0 603.3z"/>
<path fill="#be5ec2" d="M189.0 603.3 202.3 605.8 215.7 603.6 229.0 604.5 242.3 626.0 242.3 626.0 229.0 604.7 215.7 603.8 202.3 606.0 189.0 603.3z"/>
<path fill="#862b9f" d="M189.0 603.3 202.3 605.7 215.7 603.3 229.0 604.2 242.3 626.0 242.3 626.0 229.0 604.5 215.7 603.6 202.3 605.8 189.0 603.3z"/>
<path fill="#a86789" d="M229.0 604.2 242.3 625.1 255.7 625.8 269.0 587.2 282.3 589.2 295.7 587.2 309.0 589.1 309.0 590.0 295.7 587.5 282.3 589.7 269.0 587.5 255.7 626.3 242.3 626.0 229.0 604.2z"/>
<path fill="#a49596" d="M229.0 604.2 242.3 624.0 255.7 624.6 269.0 586.4 282.3 588.7 295.7 586.6 309.0 588.8 309.0 589.1 295.7 587.2 282.3 589.2 269.0 587.2 255.7 625.8 242.3 625.1 229.0 604.2z"/>
<path fill="#70b08d" d="M229.0 604.2 242.3 622.5 255.7 624.3 269.0 585.7 282.3 587.9 295.7 585.9 309.0 587.9 309.0 588.8 295.7 586.6 282.3 588.7 269.0 586.4 255.7 624.6 242.3 624.0 229.0 604.2z"/>
<path fill="#8fab67" d="M229.0 604.2 242.3 621.4 255.7 622.5 269.0 584.5 282.3 587.2 295.7 584.0 309.0 585.8 309.0 587.9 295.7 585.9 282.3 587.9 269.0 585.7 255.7 624.3 242.3 622.5 229.0 604.2z"/>
<path fill="#3bc7dd" d="M229.0 604.2 242.3 618.6 255.7 619.0 269.0 582.4 282.3 585.9 295.7 583.1 309.0 585.0 309.0 585.8 295.7 584.0 282.3 587.2 269.0 584.5 255.7 622.5 242.3 621.4 229.0 604.2z"/>
<path fill="#83e344" d="M229.0 604.2 242.3 616.8 255.7 617.0 269.0 581.4 282.3 585.1 295.7 581.4 309.0 584.1 309.0 585.0 295.7 583.1 282.3 585.9 269.0 582.4 255.7 619.0 242.3 618.6 229.0 604.2z"/>
<path fill="#53a867" d="M229.0 604.2 242.3 615.7 255.7 615.8 269.0 581.0 282.3 584.3 295.7 580.7 309.0 583.3 309.0 584.1 295.7 581.4 282.3 585.1 269.0 581.4 255.7 617.0 242.3 616.8 229.0 604.2z"/>
<path fill="#9fafab" d="M229.0 604.2 242.3 615.2 255.7 615.1 269.0 580.5 282.3 583.2 295.7 580.0 309.0 582.6 309.0 583.3 295.7 580.7 282.3 584.3 269.0 581.0 255.7 615.8 242.3 615.7 229.0 604.2z"/>
<path fill="#42c4a4" d="M229.0 604.2 242.3 613.2 255.7 613.5 269.0 578.3 282.3 582.5 295.7 579.2 309.0 581.8 309.0 582.6 295.7 580.0 282.3 583.2 269.0 580.5 255.7 615.1 242.3 615.2 229.0 604.2z"/>
<path fill="#667896" d="M229.0 604.2 242.3 609.1 255.7 610.9 269.0 576.3 282.3 579.9 295.7 578.2 309.0 581.0 309.0 581.8 295.7 579.2 282.3 582.5 269.0 578.3 255.7 613.5 242.3 613.2 229.0 604.2z"/>
<path fill="#d44c3c" d="M229.0 604.2 242.3 607.8 255.7 609.8 269.0 576.0 282.3 579.2 295.7 576.7 309.0 579.7 309.0 581.0 295.7 578.2 282.3 579.9 269.0 576.3 255.7 610.9 242.3 609.1 229.0 604.2z"/>
<path fill="#b4b29e" d="M229.0 604.2 242.3 607.2 255.7 608.7 269.0 574.0 282.3 578.3 295.7 575.7 309.0 578.6 309.0 579.7 295.7 576.7 282.3 579.2 269.0 576.0 255.7 609.8 242.3 607.8 229.0 604.2z"/>
<path fill="#ad80b7" d="M229.0 604.2 242.3 603.6 255.7 608.0 269.0 572.8 282.3 577.2 295.7 574.8 309.0 577.4 309.0 578.6 295.7 575.7 282.3 578.3 269.0 574.0 255.7 608.7 242.3 607.2 229.0 604.2z"/>
<path fill="#89aa77" d="M229.0 604.2 242.3 599.6 255.7 604.8 269.0 572.2 282.3 575.3 295.7 572.6 309.0 576.1 309.0 577.4 295.7 574.8 282.3 577.2 269.0 572.8 255.7 608.0 242.3 603.6 229.0 604.2z"/>
<path fill="#9b96a2" d="M229.0 604.2 242.3 597.2 255.7 603.7 269.0 570.4 282.3 574.4 295.7 571.7 309.0 575.2 309.0 576.1 295.7 572.6 282.3 575.3 269.0 572.2 255.7 604.8 242.3 599.6 229.0 604.2z"/>
<path fill="#ae895d" d="M229.0 604.2 242.3 595.6 255.7 603.0 269.0 568.6 282.3 573.6 295.7 569.9 309.0 573.8 309.0 575.2 295.7 571.7 282.3 574.4 269.0 570.4 255.7 603.7 242.3 597.2 229.0 604.2z"/>
<path fill="#b7505b" d="M229.0 604.2 242.3 593.9 255.7 600.0 269.0 566.8 282.3 571.6 295.7 566.3 309.0 573.2 309.0 573.8 295.7 569.9 282.3 573.6 269.0 568.6 255.7 603.0 242.3 595.6 229.0 604.2z"/>
<path fill="#7c9969" d="M229.0 604.2 242.3 592.7 255.7 599.1 269.0 566.4 282.3 570.8 295.7 565.7 309.0 572.8 309.0 573.2 295.7 566.3 282.3 571.6 269.0 566.8 255.7 600.0 242.3 593.9 229.0 604.2z"/>
<path fill="#98afa9" d="M229.0 604.2 242.3 592.4 255.7 598.4 269.0 565.7 282.3 570.1 295.7 565.3 309.0 572.3 309.0 572.8 295.7 565.7 282.3 570.8 269.0 566.4 255.7 599.1 242.3 592.7 229.0 604.2z"/>
<path fill="#63a484" d="M229.0 604.2 242.3 591.4 255.7 597.6 269.0 564.6 282.3 568.7 295.7 564.2 309.0 571.1 309.0 572.3 295.7 565.3 282.3 570.1 269.0 565.7 255.7 598.4 242.3 592.4 229.0 604.2z"/>
<path fill="#71b58f" d="M229.0 604.2 242.3 589.6 255.7 596.6 269.0 564.0 282.3 567.5 295.7 561.7 309.0 570.6 309.0 571.1 295.7 564.2 282.3 568.7 269.0 564.6 255.7 597.6 242.3 591.4 229.0 604.2z"/>
<path fill="#916f56" d="M229.0 604.2 242.3 588.8 255.7 595.5 269.0 563.6 282.3 566.8 295.7 561.1 309.0 569.9 309.0 570.6 295.7 561.7 282.3 567.5 269.0 564.0 255.7 596.6 242.3 589.6 229.0 604.2z"/>
<path fill="#9ba09a" d="M229.0 604.2 242.3 587.0 255.7 594.8 269.0 561.2 282.3 565.6 295.7 560.5 309.0 568.3 309.0 569.9 295.7 561.1 282.3 566.8 269.0 563.6 255.7 595.5 242.3 588.8 229.0 604.2z"/>
<path fill="#908a52" d="M229.0 604.2 242.3 584.9 255.7 593.9 269.0 560.4 282.3 565.2 295.7 559.4 309.0 567.8 309.0 568.3 295.7 560.5 282.3 565.6 269.0 561.2 255.7 594.8 242.3 587.0 229.0 604.2z"/>
<path fill="#619f71" d="M229.0 604.2 242.3 582.6 255.7 593.4 269.0 559.5 282.3 564.1 295.7 557.9 309.0 566.8 309.0 567.8 295.7 559.4 282.3 565.2 269.0 560.4 255.7 593.9 242.3 584.9 229.0 604.2z"/>
<path fill="#a77f9c" d="M229.0 604.2 242.3 581.7 255.7 592.0 269.0 559.0 282.3 563.7 295.7 557.3 309.0 565.5 309.0 566.8 295.7 557.9 282.3 564.1 269.0 559.5 255.7 593.4 242.3 582.6 229.0 604.2z"/>
<path fill="#96b584" d="M229.0 604.2 242.3 579.2 255.7 591.2 269.0 558.0 282.3 563.2 295.7 556.5 309.0 564.1 309.0 565.5 295.7 557.3 282.3 563.7 269.0 559.0 255.7 592.0 242.3 581.7 229.0 604.2z"/>
<path fill="#978d9c" d="M229.0 604.2 242.3 577.9 255.7 589.9 269.0 557.3 282.3 562.7 295.7 555.6 309.0 563.3 309.0 564.1 295.7 556.5 282.3 563.2 269.0 558.0 255.7 591.2 242.3 579.2 229.0 604.2z"/>
<path fill="#a8a7ad" d="M229.0 604.2 242.3 574.9 255.7 586.5 269.0 556.3 282.3 561.6 295.7 553.2 309.0 562.1 309.0 563.3 295.7 555.6 282.3 562.7 269.0 557.3 255.7 589.9 242.3 577.9 229.0 604.2z"/>
<path fill="#8f76a8" d="M229.0 604.2 242.3 573.8 255.7 586.0 269.0 555.7 282.3 560.8 295.7 553.1 309.0 561.9 309.0 562.1 295.7 553.2 282.3 561.6 269.0 556.3 255.7 586.5 242.3 574.9 229.0 604.2z"/>
<path fill="#5c61b6" d="M229.0 604.2 242.3 571.4 255.7 584.4 269.0 553.6 282.3 560.3 295.7 552.3 309.0 559.8 309.0 561.9 295.7 553.1 282.3 560.8 269.0 555.7 255.7 586.0 242.3 573.8 229.0 604.2z"/>
<path fill="#5bb8bb" d="M229.0 604.2 242.3 570.6 255.7 581.8 269.0 552.3 282.3 559.3 295.7 551.0 309.0 558.7 309.0 559.8 295.7 552.3 282.3 560.3 269.0 553.6 255.7 584.4 242.3 571.4 229.0 604.2z"/>
<path fill="#ae5e81" d="M229.0 604.2 242.3 568.7 255.7 579.9 269.0 549.6 282.3 558.2 295.7 549.1 309.0 557.7 309.0 558.7 295.7 551.0 282.3 559.3 269.0 552.3 255.7 581.8 242.3 570.6 229.0 604.2z"/>
<path fill="#9490a6" d="M229.0 604.2 242.3 567.0 255.7 579.3 269.0 549.0 282.3 557.4 295.7 548.7 309.0 557.0 309.0 557.7 295.7 549.1 282.3 558.2 269.0 549.6 255.7 579.9 242.3 568.7 229.0 604.2z"/>
<path fill="#a09fa9" d="M229.0 604.2 242.3 564.6 255.7 578.0 269.0 547.8 282.3 556.1 295.7 547.6 309.0 556.5 309.0 557.0 295.7 548.7 282.3 557.4 269.0 549.0 255.7 579.3 242.3 567.0 229.0 604.2z"/>
<path fill="#8e9892" d="M229.0 604.2 242.3 562.9 255.7 576.7 269.0 546.9 282.3 555.2 295.7 546.4 309.0 555.1 309.0 556.5 295.7 547.6 282.3 556.1 269.0 547.8 255.7 578.0 242.3 564.6 229.0 604.2z"/>
<path fill="#b3b182" d="M229.0 604.2 242.3 561.1 255.7 575.5 269.0 545.1 282.3 554.3 295.7 545.1 309.0 554.5 309.0 555.1 295.7 546.4 282.3 555.2 269.0 546.9 255.7 576.7 242.3 562.9 229.0 604.2z"/>
<path fill="#6ec270" d="M229.0 604.2 242.3 558.2 255.7 574.2 269.0 543.9 282.3 553.4 295.7 543.9 309.0 553.6 309.0 554.5 295.7 545.1 282.3 554.3 269.0 545.1 255.7 575.5 242.3 561.1 229.0 604.2z"/>
<path fill="#a2a3a9" d="M42.3 590.7 55.6 622.0 69.0 622.7 69.0 622.7 55.6 624.1 42.3 593.6z"/>
<path fill="#a2b0a1" d="M42.3 589.4 55.6 619.5 69.0 622.7 69.0 622.7 55.6 622.0 42.3 590.7z"/>
<path fill="#a8919d" d="M42.3 585.3 55.6 619.5 55.6 619.5 42.3 589.4z"/>
<path fill="#a19996" d="M42.3 583.5 55.6 619.5 55.6 619.5 42.3 585.3z"/>
<path fill="#958d96" d="M42.3 578.1 55.6 618.2 69.0 622.7 69.0 622.7 55.6 619.5 42.3 583.5z"/>
<path fill="#939d8b" d="M42.3 575.3 55.6 618.2 55.6 618.2 42.3 578.1z"/>
<path fill="#ac989d" d="M42.3 573.0 55.6 618.2 55.6 618.2 42.3 575.3z"/>
<path fill="#a59cac" d="M42.3 572.2 55.6 618.2 55.6 618.2 42.3 573.0z"/>
<path fill="#9e9c87" d="M42.3 568.5 55.6 616.9 69.0 622.7 69.0 622.7 55.6 618.2 42.3 572.2z"/>
<path fill="#aa9698" d="M42.3 567.0 55.6 616.9 55.6 616.9 42.3 568.5z"/>
<path fill="#9aa59f" d="M42.3 564.1 55.6 616.9 55.6 616.9 42.3 567.0z"/>
<path fill="#9da2a6" d="M42.3 563.1 55.6 616.9 55.6 616.9 42.3 564.1z"/>
<path fill="#afa8a2" d="M42.3 556.6 55.6 615.0 69.0 622.7 69.0 622.7 55.6 616.9 42.3 563.1z"/>
<path fill="#989a8a" d="M42.3 554.8 55.6 615.0 55.6 615.0 42.3 556.6z"/>
<path fill="#9295a8" d="M42.3 549.5 55.6 603.4 69.0 622.7 69.0 622.7 55.6 615.0 42.3 554.8z"/>
<path fill="#9f8794" d="M42.3 548.4 55.6 601.6 69.0 622.7 69.0 622.7 55.6 603.4 42.3 549.5z"/>
<path fill="#8e9e99" d="M42.3 546.1 55.6 601.6 55.6 601.6 42.3 548.4z"/>
<path fill="#b2ada0" d="M42.3 544.4 55.6 601.6 55.6 601.6 42.3 546.1z"/>
<path fill="#8e9b9f" d="M42.3 542.7 55.6 601.6 55.6 601.6 42.3 544.4z"/>
<path fill="#999c91" d="M42.3 541.3 55.6 601.0 69.0 622.7 69.0 622.7 55.6 601.6 42.3 542.7z"/>
<path fill="#9b9993" d="M42.3 539.6 55.6 599.2 69.0 622.7 69.0 622.7 55.6 601.0 42.3 541.3z"/>
<path fill="#898ea4" d="M42.3 536.5 55.6 597.5 69.0 622.7 69.0 622.7 55.6 599.2 42.3 539.6z"/>
<path fill="#8a9f84" d="M42.3 530.8 55.6 597.5 55.6 597.5 42.3 536.5z"/>
<path fill="#999aa8" d="M42.3 529.9 55.6 596.2 69.0 622.7 69.0 622.7 55.6 597.5 42.3 530.8z"/>
<path fill="#a19c8c" d="M42.3 524.3 55.6 591.7 69.0 622.7 69.0 622.7 55.6 596.2 42.3 529.9z"/>
<path fill="#91a29b" d="M42.3 520.2 55.6 590.5 69.0 622.7 69.0 622.7 55.6 591.7 42.3 524.3z"/>
<path fill="#a7969a" d="M42.3 519.0 55.6 588.7 69.0 622.7 69.0 622.7 55.6 590.5 42.3 520.2z"/>
<path fill="#8f9693" d="M42.3 517.3 55.6 588.7 55.6 588.7 42.3 519.0z"/>
<path fill="#a1aba1" d="M42.3 515.5 55.6 587.7 69.0 622.7 69.0 622.7 55.6 588.7 42.3 517.3z"/>
<path fill="#a4af9c" d="M42.3 514.5 55.6 583.2 69.0 622.7 69.0 622.7 55.6 587.7 42.3 515.5z"/>
<path fill="#a1a7aa" d="M42.3 512.4 55.6 583.2 55.6 583.2 42.3 514.5z"/>
<path fill="#8ea793" d="M42.3 510.0 55.6 581.6 69.0 622.7 69.0 622.7 55.6 583.2 42.3 512.4z"/>
<path fill="#959e9d" d="M42.3 510.0 55.6 579.9 69.0 622.7 69.0 622.7 55.6 581.6 42.3 510.0z"/>
<path fill="#95a499" d="M42.3 510.0 55.6 577.2 69.0 622.7 69.0 622.7 55.6 579.9 42.3 510.0z"/>
<path fill="#9fa7a3" d="M42.3 510.0 55.6 576.7 69.0 622.7 69.0 622.7 55.6 577.2 42.3 510.0z"/>
<path fill="#9fa9aa" d="M42.3 510.0 55.6 575.5 69.0 622.7 69.0 622.7 55.6 576.7 42.3 510.0z"/>
<path fill="#8e8d9b" d="M42.3 510.0 55.6 574.5 69.0 622.7 69.0 622.7 55.6 575.5 42.3 510.0z"/>
<path fill="#a29b9c" d="M42.3 510.0 55.6 573.3 69.0 619.1 82.3 610.5 82.3 610.5 69.0 622.7 55.6 574.5 42.3 510.0z"/>
<path fill="#8f9c8a" d="M42.3 510.0 55.6 570.9 69.0 617.9 82.3 610.5 82.3 610.5 69.0 619.1 55.6 573.3 42.3 510.0z"/>
<path fill="#a29f9c" d="M42.3 510.0 55.6 570.2 69.0 617.9 69.0 617.9 55.6 570.9 42.3 510.0z"/>
<path fill="#b1a2a3" d="M42.3 510.0 55.6 565.5 69.0 617.9 69.0 617.9 55.6 570.2 42.3 510.0z"/>
<path fill="#97a19e" d="M42.3 510.0 55.6 562.4 69.0 617.9 69.0 617.9 55.6 565.5 42.3 510.0z"/>
<path fill="#a2a397" d="M42.3 510.0 55.6 560.7 69.0 617.9 69.0 617.9 55.6 562.4 42.3 510.0z"/>
<path fill="#9b92a1" d="M42.3 510.0 55.6 559.7 69.0 615.6 82.3 610.5 82.3 610.5 69.0 617.9 55.6 560.7 42.3 510.0z"/>
<path fill="#95a599" d="M42.3 510.0 55.6 558.0 69.0 613.4 82.3 610.5 82.3 610.5 69.0 615.6 55.6 559.7 42.3 510.0z"/>
<path fill="#95a49a" d="M42.3 510.0 55.6 556.9 69.0 613.4 69.0 613.4 55.6 558.0 42.3 510.0z"/>
<path fill="#9caaad" d="M42.3 510.0 55.6 555.0 69.0 610.7 82.3 610.5 82.3 610.5 69.0 613.4 55.6 556.9 42.3 510.0z"/>
<path fill="#999fab" d="M42.3 510.0 55.6 554.3 69.0 609.6 82.3 610.5 82.3 610.5 69.0 610.7 55.6 555.0 42.3 510.0z"/>
<path fill="#994d86" d="M42.3 510.0 55.6 551.1 69.0 609.6 69.0 609.6 55.6 554.3 42.3 510.0z"/>
<path fill="#9d99a5" d="M42.3 510.0 55.6 550.7 69.0 606.3 82.3 610.5 82.3 610.5 69.0 609.6 55.6 551.1 42.3 510.0z"/>
<path fill="#9f919d" d="M42.3 510.0 55.6 549.5 69.0 604.9 82.3 610.5 82.3 610.5 69.0 606.3 55.6 550.7 42.3 510.0z"/>
<path fill="#919b94" d="M42.3 510.0 55.6 527.7 69.0 597.1 82.3 610.5 82.3 610.5 69.0 604.9 55.6 549.5 42.3 510.0z"/>
<path fill="#9da696" d="M42.3 510.0 55.6 526.0 69.0 595.2 82.3 610.5 82.3 610.5 69.0 597.1 55.6 527.7 42.3 510.0z"/>
<path fill="#aaa3ab" d="M42.3 510.0 55.6 525.1 69.0 594.2 82.3 610.5 82.3 610.5 69.0 595.2 55.6 526.0 42.3 510.0z"/>
<path fill="#9daea6" d="M42.3 510.0 55.6 523.7 69.0 594.2 69.0 594.2 55.6 525.1 42.3 510.0z"/>
<path fill="#8d9497" d="M42.3 510.0 55.6 519.9 69.0 593.1 82.3 610.5 82.3 610.5 69.0 594.2 55.6 523.7 42.3 510.0z"/>
<path fill="#9b9297" d="M42.3 510.0 55.6 519.5 69.0 593.1 69.0 593.1 55.6 519.9 42.3 510.0z"/>
<path fill="#a298a3" d="M42.3 510.0 55.6 518.6 69.0 593.1 69.0 593.1 55.6 519.5 42.3 510.0z"/>
<path fill="#a5aead" d="M42.3 510.0 55.6 517.2 69.0 593.1 69.0 593.1 55.6 518.6 42.3 510.0z"/>
<path fill="#92a48a" d="M42.3 510.0 55.6 515.4 69.0 593.1 69.0 593.1 55.6 517.2 42.3 510.0z"/>
<path fill="#919c9d" d="M42.3 510.0 55.6 513.6 69.0 592.1 82.3 610.5 82.3 610.5 69.0 593.1 55.6 515.4 42.3 510.0z"/>
<path fill="#b2a1a8" d="M42.3 510.0 55.6 513.1 69.0 592.1 69.0 592.1 55.6 513.6 42.3 510.0z"/>
<path fill="#af9daf" d="M42.3 510.0 55.6 512.4 69.0 592.1 69.0 592.1 55.6 513.1 42.3 510.0z"/>
<path fill="#8a9d94" d="M42.3 510.0 55.6 511.2 69.0 589.4 82.3 610.5 82.3 610.5 69.0 592.1 55.6 512.4 42.3 510.0z"/>
<path fill="#979f98" d="M55.6 511.2 69.0 588.1 82.3 610.5 82.3 610.5 69.0 589.4 55.6 511.2z"/>
<path fill="#9ea8ad" d="M55.6 511.2 69.0 586.8 82.3 610.5 82.3 610.5 69.0 588.1 55.6 511.2z"/>
<path fill="#a894ab" d="M55.6 511.2 69.0 582.5 82.3 610.5 82.3 610.5 69.0 586.8 55.6 511.2z"/>
<path fill="#b19d9d" d="M55.6 511.2 69.0 580.6 82.3 610.5 82.3 610.5 69.0 582.5 55.6 511.2z"/>
<path fill="#949c94" d="M55.6 511.2 69.0 579.5 82.3 609.1 95.6 594.8 95.6 594.8 82.3 610.5 69.0 580.6 55.6 511.2z"/>
<path fill="#abaa9c" d="M55.6 511.2 69.0 578.5 82.3 607.9 95.6 594.8 95.6 594.8 82.3 609.1 69.0 579.5 55.6 511.2z"/>
<path fill="#98a0a3" d="M55.6 511.2 69.0 575.9 82.3 607.9 82.3 607.9 69.0 578.5 55.6 511.2z"/>
<path fill="#b19ca6" d="M55.6 511.2 69.0 574.6 82.3 607.0 95.6 594.8 95.6 594.8 82.3 607.9 69.0 575.9 55.6 511.2z"/>
<path fill="#97aa9f" d="M55.6 511.2 69.0 571.7 82.3 605.9 95.6 594.8 95.6 594.8 82.3 607.0 69.0 574.6 55.6 511.2z"/>
<path fill="#8d998b" d="M55.6 511.2 69.0 568.6 82.3 603.6 95.6 594.8 95.6 594.8 82.3 605.9 69.0 571.7 55.6 511.2z"/>
<path fill="#aca5a4" d="M55.6 511.2 69.0 566.0 82.3 602.6 95.6 594.8 95.6 594.8 82.3 603.6 69.0 568.6 55.6 511.2z"/>
<path fill="#ada7a0" d="M55.6 511.2 69.0 564.8 82.3 600.9 95.6 594.8 95.6 594.8 82.3 602.6 69.0 566.0 55.6 511.2z"/>
<path fill="#aa999a" d="M55.6 511.2 69.0 562.4 82.3 600.1 95.6 594.8 95.6 594.8 82.3 600.9 69.0 564.8 55.6 511.2z"/>
<path fill="#ada2ac" d="M55.6 511.2 69.0 560.4 82.3 600.1 82.3 600.1 69.0 562.4 55.6 511.2z"/>
<path fill="#9c929b" d="M55.6 511.2 69.0 556.7 82.3 600.1 82.3 600.1 69.0 560.4 55.6 511.2z"/>
<path fill="#8ca299" d="M55.6 511.2 69.0 554.6 82.3 598.4 95.6 594.8 95.6 594.8 82.3 600.1 69.0 556.7 55.6 511.2z"/>
<path fill="#949d8c" d="M55.6 511.2 69.0 552.1 82.3 598.4 82.3 598.4 69.0 554.6 55.6 511.2z"/>
<path fill="#9bafa1" d="M55.6 511.2 69.0 551.3 82.3 597.9 95.6 594.8 95.6 594.8 82.3 598.4 69.0 552.1 55.6 511.2z"/>
<path fill="#ac6947" d="M55.6 511.2 69.0 548.7 82.3 595.4 95.6 594.8 95.6 594.8 82.3 597.9 69.0 551.3 55.6 511.2z"/>
<path fill="#af9aae" d="M55.6 511.2 69.0 538.4 82.3 590.6 95.6 594.8 95.6 594.8 82.3 595.4 69.0 548.7 55.6 511.2z"/>
<path fill="#b47bb5" d="M55.6 511.2 69.0 536.8 82.3 590.6 82.3 590.6 69.0 538.4 55.6 511.2z"/>
<path fill="#a79f9f" d="M55.6 511.2 69.0 536.3 82.3 589.8 95.6 594.8 95.6 594.8 82.3 590.6 69.0 536.8 55.6 511.2z"/>
<path fill="#9eb1a0" d="M55.6 511.2 69.0 531.1 82.3 589.8 82.3 589.8 69.0 536.3 55.6 511.2z"/>
<path fill="#a1a7a8" d="M55.6 511.2 69.0 528.6 82.3 585.8 95.6 594.8 95.6 594.8 82.3 589.8 69.0 531.1 55.6 511.2z"/>
<path fill="#aaaea2" d="M55.6 511.2 69.0 524.4 82.3 585.8 82.3 585.8 69.0 528.6 55.6 511.2z"/>
<path fill="#939d92" d="M55.6 511.2 69.0 522.7 82.3 585.2 95.6 594.8 95.6 594.8 82.3 585.8 69.0 524.4 55.6 511.2z"/>
<path fill="#919b99" d="M55.6 511.2 69.0 519.2 82.3 583.8 95.6 594.8 95.6 594.8 82.3 585.2 69.0 522.7 55.6 511.2z"/>
<path fill="#9f9c83" d="M55.6 511.2 69.0 515.0 82.3 583.8 82.3 583.8 69.0 519.2 55.6 511.2z"/>
<path fill="#9fab74" d="M55.6 511.2 69.0 513.1 82.3 583.8 82.3 583.8 69.0 515.0 55.6 511.2z"/>
<path fill="#979da2" d="M55.6 511.2 69.0 510.0 82.3 583.8 82.3 583.8 69.0 513.1 55.6 511.2z"/>
<path fill="#9b8d9e" d="M69.0 510.0 82.3 583.1 95.6 594.8 95.6 594.8 82.3 583.8 69.0 510.0z"/>
<path fill="#999e90" d="M69.0 510.0 82.3 582.4 95.6 594.4 109.0 617.4 109.0 617.4 95.6 594.8 82.3 583.1 69.0 510.0z"/>
<path fill="#93a991" d="M69.0 510.0 82.3 581.4 95.6 594.4 95.6 594.4 82.3 582.4 69.0 510.0z"/>
<path fill="#a5949f" d="M69.0 510.0 82.3 572.5 95.6 594.4 95.6 594.4 82.3 581.4 69.0 510.0z"/>
<path fill="#938e96" d="M69.0 510.0 82.3 570.1 95.6 592.1 109.0 617.4 109.0 617.4 95.6 594.4 82.3 572.5 69.0 510.0z"/>
<path fill="#969b9e" d="M69.0 510.0 82.3 569.4 95.6 592.1 95.6 592.1 82.3 570.1 69.0 510.0z"/>
<path fill="#a19b9c" d="M69.0 510.0 82.3 567.9 95.6 591.5 109.0 617.4 109.0 617.4 95.6 592.1 82.3 569.4 69.0 510.0z"/>
<path fill="#95a092" d="M69.0 510.0 82.3 566.4 95.6 591.5 95.6 591.5 82.3 567.9 69.0 510.0z"/>
<path fill="#a49e91" d="M69.0 510.0 82.3 564.8 95.6 590.4 109.0 617.4 109.0 617.4 95.6 591.5 82.3 566.4 69.0 510.0z"/>
<path fill="#9ea0ad" d="M69.0 510.0 82.3 564.1 95.6 590.4 95.6 590.4 82.3 564.8 69.0 510.0z"/>
<path fill="#aaa3ae" d="M69.0 510.0 82.3 562.6 95.6 588.2 109.0 617.4 109.0 617.4 95.6 590.4 82.3 564.1 69.0 510.0z"/>
<path fill="#9d8a91" d="M69.0 510.0 82.3 559.6 95.6 588.2 95.6 588.2 82.3 562.6 69.0 510.0z"/>
<path fill="#949a8e" d="M69.0 510.0 82.3 558.3 95.6 588.2 95.6 588.2 82.3 559.6 69.0 510.0z"/>
<path fill="#939b8e" d="M69.0 510.0 82.3 556.9 95.6 588.2 95.6 588.2 82.3 558.3 69.0 510.0z"/>
<path fill="#94988a" d="M69.0 510.0 82.3 556.1 95.6 588.2 95.6 588.2 82.3 556.9 69.0 510.0z"/>
<path fill="#afafa5" d="M69.0 510.0 82.3 555.1 95.6 587.6 109.0 617.4 109.0 617.4 95.6 588.2 82.3 556.1 69.0 510.0z"/>
<path fill="#989d9f" d="M69.0 510.0 82.3 554.7 95.6 587.6 95.6 587.6 82.3 555.1 69.0 510.0z"/>
<path fill="#99a99a" d="M69.0 510.0 82.3 553.8 95.6 587.3 109.0 617.4 109.0 617.4 95.6 587.6 82.3 554.7 69.0 510.0z"/>
<path fill="#8e949b" d="M69.0 510.0 82.3 551.1 95.6 587.3 95.6 587.3 82.3 553.8 69.0 510.0z"/>
<path fill="#b2b1a2" d="M69.0 510.0 82.3 550.1 95.6 587.3 95.6 587.3 82.3 551.1 69.0 510.0z"/>
<path fill="#929ba3" d="M69.0 510.0 82.3 549.4 95.6 587.3 95.6 587.3 82.3 550.1 69.0 510.0z"/>
<path fill="#9e8f99" d="M69.0 510.0 82.3 548.5 95.6 585.6 109.0 617.4 109.0 617.4 95.6 587.3 82.3 549.4 69.0 510.0z"/>
<path fill="#a69b98" d="M69.0 510.0 82.3 547.9 95.6 581.3 109.0 617.4 109.0 617.4 95.6 585.6 82.3 548.5 69.0 510.0z"/>
<path fill="#a79c93" d="M69.0 510.0 82.3 546.6 95.6 581.3 95.6 581.3 82.3 547.9 69.0 510.0z"/>
<path fill="#97998a" d="M69.0 510.0 82.3 545.6 95.6 581.3 95.6 581.3 82.3 546.6 69.0 510.0z"/>
<path fill="#97a49f" d="M69.0 510.0 82.3 544.1 95.6 580.3 109.0 617.4 109.0 617.4 95.6 581.3 82.3 545.6 69.0 510.0z"/>
<path fill="#a1a398" d="M69.0 510.0 82.3 541.3 95.6 579.3 109.0 617.4 109.0 617.4 95.6 580.3 82.3 544.1 69.0 510.0z"/>
<path fill="#a9aaa3" d="M69.0 510.0 82.3 539.4 95.6 578.3 109.0 617.4 109.0 617.4 95.6 579.3 82.3 541.3 69.0 510.0z"/>
<path fill="#9d9b8c" d="M69.0 510.0 82.3 538.1 95.6 577.4 109.0 617.4 109.0 617.4 95.6 578.3 82.3 539.4 69.0 510.0z"/>
<path fill="#9e8895" d="M69.0 510.0 82.3 537.3 95.6 576.6 109.0 617.4 109.0 617.4 95.6 577.4 82.3 538.1 69.0 510.0z"/>
<path fill="#8ca096" d="M69.0 510.0 82.3 536.7 95.6 576.2 109.0 617.4 109.0 617.4 95.6 576.6 82.3 537.3 69.0 510.0z"/>
<path fill="#a3969a" d="M69.0 510.0 82.3 536.3 95.6 576.2 95.6 576.2 82.3 536.7 69.0 510.0z"/>
<path fill="#b3b39f" d="M69.0 510.0 82.3 535.5 95.6 576.2 95.6 576.2 82.3 536.3 69.0 510.0z"/>
<path fill="#a5aeae" d="M69.0 510.0 82.3 532.7 95.6 574.9 109.0 617.4 109.0 617.4 95.6 576.2 82.3 535.5 69.0 510.0z"/>
<path fill="#95a6a3" d="M69.0 510.0 82.3 531.0 95.6 573.4 109.0 617.4 109.0 617.4 95.6 574.9 82.3 532.7 69.0 510.0z"/>
<path fill="#a4a6ab" d="M69.0 510.0 82.3 527.4 95.6 571.7 109.0 617.4 109.0 617.4 95.6 573.4 82.3 531.0 69.0 510.0z"/>
<path fill="#998e8b" d="M69.0 510.0 82.3 525.6 95.6 571.7 95.6 571.7 82.3 527.4 69.0 510.0z"/>
<path fill="#8a9b9c" d="M69.0 510.0 82.3 524.8 95.6 571.7 95.6 571.7 82.3 525.6 69.0 510.0z"/>
<path fill="#839f84" d="M69.0 510.0 82.3 521.1 95.6 571.1 109.0 617.4 109.0 617.4 95.6 571.7 82.3 524.8 69.0 510.0z"/>
<path fill="#b0a2ac" d="M69.0 510.0 82.3 518.6 95.6 569.3 109.0 617.4 109.0 617.4 95.6 571.1 82.3 521.1 69.0 510.0z"/>
<path fill="#a4a09b" d="M69.0 510.0 82.3 517.4 95.6 567.9 109.0 617.4 109.0 617.4 95.6 569.3 82.3 518.6 69.0 510.0z"/>
<path fill="#8e98a4" d="M69.0 510.0 82.3 516.1 95.6 567.9 95.6 567.9 82.3 517.4 69.0 510.0z"/>
<path fill="#a28a93" d="M69.0 510.0 82.3 514.9 95.6 567.1 109.0 617.4 109.0 617.4 95.6 567.9 82.3 516.1 69.0 510.0z"/>
<path fill="#9cafa1" d="M69.0 510.0 82.3 513.1 95.6 567.1 95.6 567.1 82.3 514.9 69.0 510.0z"/>
<path fill="#939c92" d="M69.0 510.0 82.3 512.5 95.6 567.1 95.6 567.1 82.3 513.1 69.0 510.0z"/>
<path fill="#938e9e" d="M82.3 512.5 95.6 566.5 109.0 617.4 109.0 617.4 95.6 567.1 82.3 512.5z"/>
<path fill="#aca5a9" d="M82.3 512.5 95.6 565.4 109.0 616.3 122.3 577.5 122.3 577.5 109.0 617.4 95.6 566.5 82.3 512.5z"/>
<path fill="#9ea9ab" d="M82.3 512.5 95.6 564.0 109.0 615.2 122.3 577.5 122.3 577.5 109.0 616.3 95.6 565.4 82.3 512.5z"/>
<path fill="#9ea797" d="M82.3 512.5 95.6 563.3 109.0 614.8 122.3 577.5 122.3 577.5 109.0 615.2 95.6 564.0 82.3 512.5z"/>
<path fill="#949d92" d="M82.3 512.5 95.6 562.6 109.0 614.2 122.3 577.5 122.3 577.5 109.0 614.8 95.6 563.3 82.3 512.5z"/>
<path fill="#a1969f" d="M82.3 512.5 95.6 561.6 109.0 611.3 122.3 577.5 122.3 577.5 109.0 614.2 95.6 562.6 82.3 512.5z"/>
<path fill="#9e9c96" d="M82.3 512.5 95.6 560.5 109.0 611.3 109.0 611.3 95.6 561.6 82.3 512.5z"/>
<path fill="#85939e" d="M82.3 512.5 95.6 559.7 109.0 611.3 109.0 611.3 95.6 560.5 82.3 512.5z"/>
<path fill="#899a9d" d="M82.3 512.5 95.6 558.8 109.0 611.3 109.0 611.3 95.6 559.7 82.3 512.5z"/>
<path fill="#a48fa1" d="M82.3 512.5 95.6 558.0 109.0 610.5 122.3 577.5 122.3 577.5 109.0 611.3 95.6 558.8 82.3 512.5z"/>
<path fill="#93a2a3" d="M82.3 512.5 95.6 556.3 109.0 610.5 109.0 610.5 95.6 558.0 82.3 512.5z"/>
<path fill="#969da6" d="M82.3 512.5 95.6 555.6 109.0 610.5 109.0 610.5 95.6 556.3 82.3 512.5z"/>
<path fill="#a6a0af" d="M82.3 512.5 95.6 554.0 109.0 609.1 122.3 577.5 122.3 577.5 109.0 610.5 95.6 555.6 82.3 512.5z"/>
<path fill="#8a9f8b" d="M82.3 512.5 95.6 553.6 109.0 609.1 109.0 609.1 95.6 554.0 82.3 512.5z"/>
<path fill="#aca7a5" d="M82.3 512.5 95.6 553.0 109.0 608.9 122.3 577.5 122.3 577.5 109.0 609.1 95.6 553.6 82.3 512.5z"/>
<path fill="#96908e" d="M82.3 512.5 95.6 552.3 109.0 607.9 122.3 577.5 122.3 577.5 109.0 608.9 95.6 553.0 82.3 512.5z"/>
<path fill="#978d99" d="M82.3 512.5 95.6 551.4 109.0 607.9 109.0 607.9 95.6 552.3 82.3 512.5z"/>
<path fill="#a69faf" d="M82.3 512.5 95.6 551.0 109.0 607.4 122.3 577.5 122.3 577.5 109.0 607.9 95.6 551.4 82.3 512.5z"/>
<path fill="#96a999" d="M82.3 512.5 95.6 550.0 109.0 604.5 122.3 577.5 122.3 577.5 109.0 607.4 95.6 551.0 82.3 512.5z"/>
<path fill="#9c8e94" d="M82.3 512.5 95.6 549.0 109.0 603.7 122.3 577.5 122.3 577.5 109.0 604.5 95.6 550.0 82.3 512.5z"/>
<path fill="#90a3a0" d="M82.3 512.5 95.6 547.4 109.0 603.7 109.0 603.7 95.6 549.0 82.3 512.5z"/>
<path fill="#ac9bae" d="M82.3 512.5 95.6 546.6 109.0 603.7 109.0 603.7 95.6 547.4 82.3 512.5z"/>
<path fill="#9f8ba2" d="M82.3 512.5 95.6 545.3 109.0 602.3 122.3 577.5 122.3 577.5 109.0 603.7 95.6 546.6 82.3 512.5z"/>
<path fill="#a3a49e" d="M82.3 512.5 95.6 542.9 109.0 602.3 109.0 602.3 95.6 545.3 82.3 512.5z"/>
<path fill="#aa9992" d="M82.3 512.5 95.6 542.2 109.0 601.3 122.3 577.5 122.3 577.5 109.0 602.3 95.6 542.9 82.3 512.5z"/>
<path fill="#969198" d="M82.3 512.5 95.6 541.6 109.0 601.3 109.0 601.3 95.6 542.2 82.3 512.5z"/>
<path fill="#a28b95" d="M82.3 512.5 95.6 534.2 109.0 601.3 109.0 601.3 95.6 541.6 82.3 512.5z"/>
<path fill="#8a9a96" d="M82.3 512.5 95.6 532.5 109.0 600.3 122.3 577.5 122.3 577.5 109.0 601.3 95.6 534.2 82.3 512.5z"/>
<path fill="#a39795" d="M82.3 512.5 95.6 531.4 109.0 598.5 122.3 577.5 122.3 577.5 109.0 600.3 95.6 532.5 82.3 512.5z"/>
<path fill="#9da9aa" d="M82.3 512.5 95.6 530.1 109.0 598.5 109.0 598.5 95.6 531.4 82.3 512.5z"/>
<path fill="#acada0" d="M82.3 512.5 95.6 528.1 109.0 597.5 122.3 577.5 122.3 577.5 109.0 598.5 95.6 530.1 82.3 512.5z"/>
<path fill="#8e9e95" d="M82.3 512.5 95.6 526.8 109.0 596.8 122.3 577.5 122.3 577.5 109.0 597.5 95.6 528.1 82.3 512.5z"/>
<path fill="#8e958d" d="M82.3 512.5 95.6 526.5 109.0 595.8 122.3 577.5 122.3 577.5 109.0 596.8 95.6 526.8 82.3 512.5z"/>
<path fill="#9ba1b1" d="M82.3 512.5 95.6 525.1 109.0 593.9 122.3 577.5 122.3 577.5 109.0 595.8 95.6 526.5 82.3 512.5z"/>
<path fill="#9b9e89" d="M82.3 512.5 95.6 521.4 109.0 591.4 122.3 577.5 122.3 577.5 109.0 593.9 95.6 525.1 82.3 512.5z"/>
<path fill="#afb0a3" d="M82.3 512.5 95.6 520.7 109.0 591.1 122.3 577.5 122.3 577.5 109.0 591.4 95.6 521.4 82.3 512.5z"/>
<path fill="#9fa4a9" d="M82.3 512.5 95.6 519.3 109.0 591.1 109.0 591.1 95.6 520.7 82.3 512.5z"/>
<path fill="#a38994" d="M82.3 512.5 95.6 519.1 109.0 591.1 109.0 591.1 95.6 519.3 82.3 512.5z"/>
<path fill="#a49b9c" d="M82.3 512.5 95.6 518.5 109.0 591.1 109.0 591.1 95.6 519.1 82.3 512.5z"/>
<path fill="#9d92a2" d="M95.6 518.5 109.0 589.6 122.3 576.1 135.6 550.8 135.6 550.8 122.3 577.5 109.0 591.1 95.6 518.5z"/>
<path fill="#9aa49f" d="M95.6 518.5 109.0 588.8 122.3 575.0 135.6 550.8 135.6 550.8 122.3 576.1 109.0 589.6 95.6 518.5z"/>
<path fill="#a1a692" d="M95.6 518.5 109.0 587.9 122.3 574.4 135.6 550.8 135.6 550.8 122.3 575.0 109.0 588.8 95.6 518.5z"/>
<path fill="#a3ae9f" d="M95.6 518.5 109.0 587.5 122.3 574.4 122.3 574.4 109.0 587.9 95.6 518.5z"/>
<path fill="#a89e90" d="M95.6 518.5 109.0 583.5 122.3 574.4 122.3 574.4 109.0 587.5 95.6 518.5z"/>
<path fill="#a7a59f" d="M95.6 518.5 109.0 581.7 122.3 573.6 135.6 550.8 135.6 550.8 122.3 574.4 109.0 583.5 95.6 518.5z"/>
<path fill="#aaa2aa" d="M95.6 518.5 109.0 581.0 122.3 573.0 135.6 550.8 135.6 550.8 122.3 573.6 109.0 581.7 95.6 518.5z"/>
<path fill="#a4959b" d="M95.6 518.5 109.0 579.7 122.3 573.0 122.3 573.0 109.0 581.0 95.6 518.5z"/>
<path fill="#9da59a" d="M95.6 518.5 109.0 578.6 122.3 572.7 135.6 550.8 135.6 550.8 122.3 573.0 109.0 579.7 95.6 518.5z"/>
<path fill="#aeb09d" d="M95.6 518.5 109.0 577.5 122.3 570.0 135.6 550.8 135.6 550.8 122.3 572.7 109.0 578.6 95.6 518.5z"/>
<path fill="#b3b39d" d="M95.6 518.5 109.0 574.9 122.3 570.0 122.3 570.0 109.0 577.5 95.6 518.5z"/>
<path fill="#8d9b8b" d="M95.6 518.5 109.0 574.5 122.3 570.0 122.3 570.0 109.0 574.9 95.6 518.5z"/>
<path fill="#a1aeb0" d="M95.6 518.5 109.0 573.5 122.3 570.0 122.3 570.0 109.0 574.5 95.6 518.5z"/>
<path fill="#a4aaa1" d="M95.6 518.5 109.0 572.3 122.3 570.0 122.3 570.0 109.0 573.5 95.6 518.5z"/>
<path fill="#ab95ad" d="M95.6 518.5 109.0 570.0 122.3 568.7 135.6 550.8 135.6 550.8 122.3 570.0 109.0 572.3 95.6 518.5z"/>
<path fill="#a49792" d="M95.6 518.5 109.0 568.9 122.3 568.7 122.3 568.7 109.0 570.0 95.6 518.5z"/>
<path fill="#9cada2" d="M95.6 518.5 109.0 567.0 122.3 568.1 135.6 550.8 135.6 550.8 122.3 568.7 109.0 568.9 95.6 518.5z"/>
<path fill="#ae9b9a" d="M95.6 518.5 109.0 564.6 122.3 568.1 122.3 568.1 109.0 567.0 95.6 518.5z"/>
<path fill="#a19393" d="M95.6 518.5 109.0 562.7 122.3 568.1 122.3 568.1 109.0 564.6 95.6 518.5z"/>
<path fill="#4fa2aa" d="M95.6 518.5 109.0 561.5 122.3 567.2 135.6 550.8 135.6 550.8 122.3 568.1 109.0 562.7 95.6 518.5z"/>
<path fill="#b0999e" d="M95.6 518.5 109.0 560.8 122.3 567.2 122.3 567.2 109.0 561.5 95.6 518.5z"/>
<path fill="#8c9b9e" d="M95.6 518.5 109.0 560.0 122.3 566.6 135.6 550.8 135.6 550.8 122.3 567.2 109.0 560.8 95.6 518.5z"/>
<path fill="#a4aaa0" d="M95.6 518.5 109.0 559.3 122.3 566.6 122.3 566.6 109.0 560.0 95.6 518.5z"/>
<path fill="#b2af9c" d="M95.6 518.5 109.0 553.6 122.3 566.6 122.3 566.6 109.0 559.3 95.6 518.5z"/>
<path fill="#adaba6" d="M95.6 518.5 109.0 550.9 122.3 566.6 122.3 566.6 109.0 553.6 95.6 518.5z"/>
<path fill="#a5a8a3" d="M95.6 518.5 109.0 550.3 122.3 566.6 122.3 566.6 109.0 550.9 95.6 518.5z"/>
<path fill="#988a92" d="M95.6 518.5 109.0 549.4 122.3 565.3 135.6 550.8 135.6 550.8 122.3 566.6 109.0 550.3 95.6 518.5z"/>
<path fill="#9a8d8b" d="M95.6 518.5 109.0 548.9 122.3 565.3 122.3 565.3 109.0 549.4 95.6 518.5z"/>
<path fill="#a19ea9" d="M95.6 518.5 109.0 548.2 122.3 563.9 135.6 550.8 135.6 550.8 122.3 565.3 109.0 548.9 95.6 518.5z"/>
<path fill="#6ec2b0" d="M95.6 518.5 109.0 545.3 122.3 562.1 135.6 550.8 135.6 550.8 122.3 563.9 109.0 548.2 95.6 518.5z"/>
<path fill="#8ba39b" d="M95.6 518.5 109.0 544.7 122.3 561.2 135.6 550.8 135.6 550.8 122.3 562.1 109.0 545.3 95.6 518.5z"/>
<path fill="#9195aa" d="M95.6 518.5 109.0 543.8 122.3 560.6 135.6 550.8 135.6 550.8 122.3 561.2 109.0 544.7 95.6 518.5z"/>
<path fill="#a68ca0" d="M95.6 518.5 109.0 543.0 122.3 560.6 122.3 560.6 109.0 543.8 95.6 518.5z"/>
<path fill="#97a39e" d="M95.6 518.5 109.0 541.6 122.3 557.9 135.6 550.8 135.6 550.8 122.3 560.6 109.0 543.0 95.6 518.5z"/>
<path fill="#9e9b92" d="M95.6 518.5 109.0 541.2 122.3 557.9 122.3 557.9 109.0 541.6 95.6 518.5z"/>
<path fill="#9daba7" d="M95.6 518.5 109.0 540.2 122.3 557.9 122.3 557.9 109.0 541.2 95.6 518.5z"/>
<path fill="#a0868c" d="M95.6 518.5 109.0 539.6 122.3 557.9 122.3 557.9 109.0 540.2 95.6 518.5z"/>
<path fill="#9ba8b1" d="M95.6 518.5 109.0 538.8 122.3 556.5 135.6 550.8 135.6 550.8 122.3 557.9 109.0 539.6 95.6 518.5z"/>
<path fill="#8e9f94" d="M95.6 518.5 109.0 536.7 122.3 556.5 122.3 556.5 109.0 538.8 95.6 518.5z"/>
<path fill="#9e929d" d="M95.6 518.5 109.0 533.5 122.3 555.5 135.6 550.8 135.6 550.8 122.3 556.5 109.0 536.7 95.6 518.5z"/>
<path fill="#9da29b" d="M95.6 518.5 109.0 531.4 122.3 555.0 135.6 550.8 135.6 550.8 122.3 555.5 109.0 533.5 95.6 518.5z"/>
<path fill="#a2a6ae" d="M95.6 518.5 109.0 530.9 122.3 555.0 122.3 555.0 109.0 531.4 95.6 518.5z"/>
<path fill="#a1918e" d="M95.6 518.5 109.0 527.0 122.3 555.0 122.3 555.0 109.0 530.9 95.6 518.5z"/>
<path fill="#9db1ab" d="M95.6 518.5 109.0 525.1 122.3 553.9 135.6 550.8 135.6 550.8 122.3 555.0 109.0 527.0 95.6 518.5z"/>
<path fill="#a8a6ae" d="M95.6 518.5 109.0 524.6 122.3 553.9 122.3 553.9 109.0 525.1 95.6 518.5z"/>
<path fill="#9eaca5" d="M109.0 524.6 122.3 553.1 135.6 550.2 149.0 542.7 149.0 542.7 135.6 550.8 122.3 553.9 109.0 524.6z"/>
<path fill="#989c95" d="M109.0 524.6 122.3 552.2 135.6 550.2 135.6 550.2 122.3 553.1 109.0 524.6z"/>
<path fill="#9e8e88" d="M109.0 524.6 122.3 549.1 135.6 550.2 135.6 550.2 122.3 552.2 109.0 524.6z"/>
<path fill="#8f8f9e" d="M109.0 524.6 122.3 547.4 135.6 548.4 149.0 542.7 149.0 542.7 135.6 550.2 122.3 549.1 109.0 524.6z"/>
<path fill="#96a0ac" d="M109.0 524.6 122.3 545.3 135.6 548.4 135.6 548.4 122.3 547.4 109.0 524.6z"/>
<path fill="#97918d" d="M109.0 524.6 122.3 544.2 135.6 548.4 135.6 548.4 122.3 545.3 109.0 524.6z"/>
<path fill="#90988b" d="M109.0 524.6 122.3 543.8 135.6 548.2 149.0 542.7 149.0 542.7 135.6 548.4 122.3 544.2 109.0 524.6z"/>
<path fill="#8f8e97" d="M109.0 524.6 122.3 543.5 135.6 548.2 135.6 548.2 122.3 543.8 109.0 524.6z"/>
<path fill="#8c8e9f" d="M109.0 524.6 122.3 543.3 135.6 547.7 149.0 542.7 149.0 542.7 135.6 548.2 122.3 543.5 109.0 524.6z"/>
<path fill="#b1b19d" d="M109.0 524.6 122.3 542.6 135.6 547.7 135.6 547.7 122.3 543.3 109.0 524.6z"/>
<path fill="#a69ca2" d="M109.0 524.6 122.3 542.3 135.6 547.7 135.6 547.7 122.3 542.6 109.0 524.6z"/>
<path fill="#a99db2" d="M109.0 524.6 122.3 541.2 135.6 547.7 135.6 547.7 122.3 542.3 109.0 524.6z"/>
<path fill="#a29ea9" d="M109.0 524.6 122.3 539.9 135.6 546.3 149.0 542.7 149.0 542.7 135.6 547.7 122.3 541.2 109.0 524.6z"/>
<path fill="#a8a0a3" d="M109.0 524.6 122.3 539.2 135.6 546.3 135.6 546.3 122.3 539.9 109.0 524.6z"/>
<path fill="#adb3a1" d="M109.0 524.6 122.3 538.4 135.6 546.3 135.6 546.3 122.3 539.2 109.0 524.6z"/>
<path fill="#a7aaad" d="M109.0 524.6 122.3 537.1 135.6 546.0 149.0 542.7 149.0 542.7 135.6 546.3 122.3 538.4 109.0 524.6z"/>
<path fill="#a6a99d" d="M109.0 524.6 122.3 536.3 135.6 543.6 149.0 542.7 149.0 542.7 135.6 546.0 122.3 537.1 109.0 524.6z"/>
<path fill="#8a705c" d="M109.0 524.6 122.3 535.7 135.6 543.1 149.0 542.7 149.0 542.7 135.6 543.6 122.3 536.3 109.0 524.6z"/>
<path fill="#a69d8c" d="M109.0 524.6 122.3 535.0 135.6 542.4 149.0 542.7 149.0 542.7 135.6 543.1 122.3 535.7 109.0 524.6z"/>
<path fill="#929f90" d="M109.0 524.6 122.3 534.9 135.6 542.0 149.0 542.7 149.0 542.7 135.6 542.4 122.3 535.0 109.0 524.6z"/>
<path fill="#9b938b" d="M109.0 524.6 122.3 533.7 135.6 542.0 135.6 542.0 122.3 534.9 109.0 524.6z"/>
<path fill="#9e9ca6" d="M109.0 524.6 122.3 533.2 135.6 541.7 149.0 542.7 149.0 542.7 135.6 542.0 122.3 533.7 109.0 524.6z"/>
<path fill="#a7a0ad" d="M109.0 524.6 122.3 531.9 135.6 541.7 135.6 541.7 122.3 533.2 109.0 524.6z"/>
<path fill="#9b99ae" d="M109.0 524.6 122.3 531.0 135.6 541.7 135.6 541.7 122.3 531.9 109.0 524.6z"/>
<path fill="#9a8d8e" d="M109.0 524.6 122.3 528.7 135.6 540.9 149.0 542.7 149.0 542.7 135.6 541.7 122.3 531.0 109.0 524.6z"/>
<path fill="#9c8e9c" d="M109.0 524.6 122.3 527.5 135.6 540.3 149.0 542.7 149.0 542.7 135.6 540.9 122.3 528.7 109.0 524.6z"/>
<path fill="#a9a4a1" d="M109.0 524.6 122.3 527.1 135.6 539.9 149.0 542.7 149.0 542.7 135.6 540.3 122.3 527.5 109.0 524.6z"/>
<path fill="#a2b3b1" d="M109.0 524.6 122.3 525.5 135.6 539.3 149.0 542.7 149.0 542.7 135.6 539.9 122.3 527.1 109.0 524.6z"/>
<path fill="#a99696" d="M109.0 524.6 122.3 525.0 135.6 539.3 135.6 539.3 122.3 525.5 109.0 524.6z"/>
<path fill="#9da194" d="M109.0 524.6 122.3 524.6 135.6 539.3 135.6 539.3 122.3 525.0 109.0 524.6z"/>
<path fill="#b3749d" d="M109.0 524.6 122.3 522.3 135.6 539.3 135.6 539.3 122.3 524.6 109.0 524.6z"/>
<path fill="#9dacaa" d="M109.0 524.6 122.3 521.7 135.6 539.3 135.6 539.3 122.3 522.3 109.0 524.6z"/>
<path fill="#a59e78" d="M109.0 524.6 122.3 520.9 135.6 538.9 149.0 542.7 149.0 542.7 135.6 539.3 122.3 521.7 109.0 524.6z"/>
<path fill="#909397" d="M122.3 520.9 135.6 538.4 149.0 542.4 162.3 559.1 162.3 559.1 149.0 542.7 135.6 538.9 122.3 520.9z"/>
<path fill="#97a18a" d="M122.3 520.9 135.6 537.5 149.0 541.6 162.3 559.1 162.3 559.1 149.0 542.4 135.6 538.4 122.3 520.9z"/>
<path fill="#9f95a6" d="M122.3 520.9 135.6 536.2 149.0 541.3 162.3 559.1 162.3 559.1 149.0 541.6 135.6 537.5 122.3 520.9z"/>
<path fill="#9098a1" d="M122.3 520.9 135.6 533.9 149.0 541.3 149.0 541.3 135.6 536.2 122.3 520.9z"/>
<path fill="#8ba599" d="M122.3 520.9 135.6 533.5 149.0 540.7 162.3 559.1 162.3 559.1 149.0 541.3 135.6 533.9 122.3 520.9z"/>
<path fill="#9f8c91" d="M122.3 520.9 135.6 533.2 149.0 540.4 162.3 559.1 162.3 559.1 149.0 540.7 135.6 533.5 122.3 520.9z"/>
<path fill="#a7a2a2" d="M122.3 520.9 135.6 532.4 149.0 540.1 162.3 559.1 162.3 559.1 149.0 540.4 135.6 533.2 122.3 520.9z"/>
<path fill="#69bcb8" d="M122.3 520.9 135.6 531.3 149.0 540.1 149.0 540.1 135.6 532.4 122.3 520.9z"/>
<path fill="#90a690" d="M122.3 520.9 135.6 531.1 149.0 540.1 149.0 540.1 135.6 531.3 122.3 520.9z"/>
<path fill="#949791" d="M122.3 520.9 135.6 529.6 149.0 539.3 162.3 559.1 162.3 559.1 149.0 540.1 135.6 531.1 122.3 520.9z"/>
<path fill="#8a8f9c" d="M122.3 520.9 135.6 529.0 149.0 539.3 149.0 539.3 135.6 529.6 122.3 520.9z"/>
<path fill="#ada69f" d="M122.3 520.9 135.6 528.6 149.0 539.0 162.3 559.1 162.3 559.1 149.0 539.3 135.6 529.0 122.3 520.9z"/>
<path fill="#a6a59d" d="M122.3 520.9 135.6 527.7 149.0 539.0 149.0 539.0 135.6 528.6 122.3 520.9z"/>
<path fill="#a796ac" d="M122.3 520.9 135.6 527.2 149.0 539.0 149.0 539.0 135.6 527.7 122.3 520.9z"/>
<path fill="#9a948e" d="M122.3 520.9 135.6 526.5 149.0 539.0 149.0 539.0 135.6 527.2 122.3 520.9z"/>
<path fill="#8c9e94" d="M122.3 520.9 135.6 526.0 149.0 538.5 162.3 559.1 162.3 559.1 149.0 539.0 135.6 526.5 122.3 520.9z"/>
<path fill="#b0a1aa" d="M122.3 520.9 135.6 524.9 149.0 538.0 162.3 559.1 162.3 559.1 149.0 538.5 135.6 526.0 122.3 520.9z"/>
<path fill="#abaea3" d="M122.3 520.9 135.6 524.6 149.0 538.0 149.0 538.0 135.6 524.9 122.3 520.9z"/>
<path fill="#9c958d" d="M122.3 520.9 135.6 523.9 149.0 537.8 162.3 559.1 162.3 559.1 149.0 538.0 135.6 524.6 122.3 520.9z"/>
<path fill="#a8a5ad" d="M122.3 520.9 135.6 523.7 149.0 537.6 162.3 559.1 162.3 559.1 149.0 537.8 135.6 523.9 122.3 520.9z"/>
<path fill="#a6a391" d="M122.3 520.9 135.6 523.4 149.0 537.4 162.3 559.1 162.3 559.1 149.0 537.6 135.6 523.7 122.3 520.9z"/>
<path fill="#98a48a" d="M122.3 520.9 135.6 522.7 149.0 537.4 149.0 537.4 135.6 523.4 122.3 520.9z"/>
<path fill="#9ea291" d="M122.3 520.9 135.6 521.7 149.0 537.4 149.0 537.4 135.6 522.7 122.3 520.9z"/>
<path fill="#9d9e94" d="M122.3 520.9 135.6 521.3 149.0 537.2 162.3 559.1 162.3 559.1 149.0 537.4 135.6 521.7 122.3 520.9z"/>
<path fill="#8e969c" d="M122.3 520.9 135.6 520.7 149.0 537.1 162.3 559.1 162.3 559.1 149.0 537.2 135.6 521.3 122.3 520.9z"/>
<path fill="#a1ad9a" d="M122.3 520.9 135.6 520.4 149.0 536.6 162.3 559.1 162.3 559.1 149.0 537.1 135.6 520.7 122.3 520.9z"/>
<path fill="#a5b2a1" d="M122.3 520.9 135.6 519.8 149.0 536.6 149.0 536.6 135.6 520.4 122.3 520.9z"/>
<path fill="#aba4a7" d="M122.3 520.9 135.6 518.8 149.0 536.2 162.3 559.1 162.3 559.1 149.0 536.6 135.6 519.8 122.3 520.9z"/>
<path fill="#8a9ca4" d="M122.3 520.9 135.6 518.5 149.0 536.2 149.0 536.2 135.6 518.8 122.3 520.9z"/>
<path fill="#a7a6ab" d="M122.3 520.9 135.6 518.4 149.0 536.1 162.3 559.1 162.3 559.1 149.0 536.2 135.6 518.5 122.3 520.9z"/>
<path fill="#b2b0a1" d="M122.3 520.9 135.6 517.6 149.0 535.0 162.3 559.1 162.3 559.1 149.0 536.1 135.6 518.4 122.3 520.9z"/>
<path fill="#9c8b98" d="M122.3 520.9 135.6 516.7 149.0 535.0 149.0 535.0 135.6 517.6 122.3 520.9z"/>
<path fill="#a7a599" d="M122.3 520.9 135.6 516.4 149.0 534.8 162.3 559.1 162.3 559.1 149.0 535.0 135.6 516.7 122.3 520.9z"/>
<path fill="#9c9092" d="M122.3 520.9 135.6 515.6 149.0 534.0 162.3 559.1 162.3 559.1 149.0 534.8 135.6 516.4 122.3 520.9z"/>
<path fill="#adaca6" d="M122.3 520.9 135.6 514.3 149.0 533.4 162.3 559.1 162.3 559.1 149.0 534.0 135.6 515.6 122.3 520.9z"/>
<path fill="#9aa8a5" d="M122.3 520.9 135.6 512.7 149.0 533.4 149.0 533.4 135.6 514.3 122.3 520.9z"/>
<path fill="#a48b8b" d="M122.3 520.9 135.6 512.5 149.0 533.4 149.0 533.4 135.6 512.7 122.3 520.9z"/>
<path fill="#999da3" d="M135.6 512.5 149.0 529.9 162.3 559.0 175.7 594.4 175.7 594.4 162.3 559.1 149.0 533.4 135.6 512.5z"/>
<path fill="#8b89a4" d="M135.6 512.5 149.0 528.3 162.3 559.0 162.3 559.0 149.0 529.9 135.6 512.5z"/>
<path fill="#9da793" d="M135.6 512.5 149.0 527.9 162.3 558.9 175.7 594.4 175.7 594.4 162.3 559.0 149.0 528.3 135.6 512.5z"/>
<path fill="#aaa7ad" d="M135.6 512.5 149.0 527.1 162.3 558.8 175.7 594.4 175.7 594.4 162.3 558.9 149.0 527.9 135.6 512.5z"/>
<path fill="#a2b1a3" d="M135.6 512.5 149.0 526.7 162.3 558.8 175.7 594.4 175.7 594.4 162.3 558.8 149.0 527.1 135.6 512.5z"/>
<path fill="#8e9696" d="M135.6 512.5 149.0 526.6 162.3 558.8 162.3 558.8 149.0 526.7 135.6 512.5z"/>
<path fill="#a9909a" d="M135.6 512.5 149.0 526.5 162.3 558.7 175.7 594.4 175.7 594.4 162.3 558.8 149.0 526.6 135.6 512.5z"/>
<path fill="#9b96a3" d="M135.6 512.5 149.0 526.0 162.3 558.7 175.7 594.4 175.7 594.4 162.3 558.7 149.0 526.5 135.6 512.5z"/>
<path fill="#aea99d" d="M135.6 512.5 149.0 525.2 162.3 558.7 162.3 558.7 149.0 526.0 135.6 512.5z"/>
<path fill="#a28689" d="M135.6 512.5 149.0 524.9 162.3 558.7 162.3 558.7 149.0 525.2 135.6 512.5z"/>
<path fill="#9ba18b" d="M135.6 512.5 149.0 524.9 162.3 558.7 162.3 558.7 149.0 524.9 135.6 512.5z"/>
<path fill="#a4abaa" d="M135.6 512.5 149.0 524.5 162.3 558.6 175.7 594.4 175.7 594.4 162.3 558.7 149.0 524.9 135.6 512.5z"/>
<path fill="#8f949a" d="M135.6 512.5 149.0 524.4 162.3 558.6 175.7 594.4 175.7 594.4 162.3 558.6 149.0 524.5 135.6 512.5z"/>
<path fill="#a7a091" d="M135.6 512.5 149.0 523.9 162.3 558.6 175.7 594.4 175.7 594.4 162.3 558.6 149.0 524.4 135.6 512.5z"/>
<path fill="#a5b09a" d="M135.6 512.5 149.0 523.7 162.3 558.6 162.3 558.6 149.0 523.9 135.6 512.5z"/>
<path fill="#978ca6" d="M135.6 512.5 149.0 523.3 162.3 558.5 175.7 594.4 175.7 594.4 162.3 558.6 149.0 523.7 135.6 512.5z"/>
<path fill="#a3a8a9" d="M135.6 512.5 149.0 523.2 162.3 558.5 175.7 594.4 175.7 594.4 162.3 558.5 149.0 523.3 135.6 512.5z"/>
<path fill="#b49380" d="M135.6 512.5 149.0 522.7 162.3 558.5 175.7 594.4 175.7 594.4 162.3 558.5 149.0 523.2 135.6 512.5z"/>
<path fill="#a6919e" d="M135.6 512.5 149.0 522.3 162.3 558.5 162.3 558.5 149.0 522.7 135.6 512.5z"/>
<path fill="#aba5aa" d="M135.6 512.5 149.0 522.1 162.3 558.5 175.7 594.4 175.7 594.4 162.3 558.5 149.0 522.3 135.6 512.5z"/>
<path fill="#9d9c8b" d="M135.6 512.5 149.0 521.7 162.3 558.4 175.7 594.4 175.7 594.4 162.3 558.5 149.0 522.1 135.6 512.5z"/>
<path fill="#9da7af" d="M135.6 512.5 149.0 521.2 162.3 558.4 175.7 594.4 175.7 594.4 162.3 558.4 149.0 521.7 135.6 512.5z"/>
<path fill="#95a099" d="M135.6 512.5 149.0 520.7 162.3 558.4 175.7 594.4 175.7 594.4 162.3 558.4 149.0 521.2 135.6 512.5z"/>
<path fill="#9da0a4" d="M135.6 512.5 149.0 520.6 162.3 558.4 175.7 594.4 175.7 594.4 162.3 558.4 149.0 520.7 135.6 512.5z"/>
<path fill="#919a96" d="M135.6 512.5 149.0 519.9 162.3 558.3 175.7 594.4 175.7 594.4 162.3 558.4 149.0 520.6 135.6 512.5z"/>
<path fill="#9ea79d" d="M135.6 512.5 149.0 519.8 162.3 558.3 162.3 558.3 149.0 519.9 135.6 512.5z"/>
<path fill="#a6aa99" d="M135.6 512.5 149.0 519.3 162.3 558.3 175.7 594.4 175.7 594.4 162.3 558.3 149.0 519.8 135.6 512.5z"/>
<path fill="#989e8e" d="M135.6 512.5 149.0 518.7 162.3 558.3 162.3 558.3 149.0 519.3 135.6 512.5z"/>
<path fill="#939b98" d="M135.6 512.5 149.0 518.2 162.3 558.3 162.3 558.3 149.0 518.7 135.6 512.5z"/>
<path fill="#8da79c" d="M135.6 512.5 149.0 518.0 162.3 558.3 162.3 558.3 149.0 518.2 135.6 512.5z"/>
<path fill="#a2a9a2" d="M135.6 512.5 149.0 517.7 162.3 558.3 162.3 558.3 149.0 518.0 135.6 512.5z"/>
<path fill="#978d96" d="M135.6 512.5 149.0 517.5 162.3 558.3 175.7 594.4 175.7 594.4 162.3 558.3 149.0 517.7 135.6 512.5z"/>
<path fill="#ac9aa3" d="M135.6 512.5 149.0 517.3 162.3 558.3 162.3 558.3 149.0 517.5 135.6 512.5z"/>
<path fill="#88879e" d="M135.6 512.5 149.0 517.2 162.3 558.3 162.3 558.3 149.0 517.3 135.6 512.5z"/>
<path fill="#a7a393" d="M135.6 512.5 149.0 517.0 162.3 558.3 162.3 558.3 149.0 517.2 135.6 512.5z"/>
<path fill="#98ab9c" d="M135.6 512.5 149.0 516.9 162.3 558.3 175.7 594.4 175.7 594.4 162.3 558.3 149.0 517.0 135.6 512.5z"/>
<path fill="#a597aa" d="M135.6 512.5 149.0 516.4 162.3 558.3 162.3 558.3 149.0 516.9 135.6 512.5z"/>
<path fill="#ada8a4" d="M135.6 512.5 149.0 515.6 162.3 558.2 175.7 594.4 175.7 594.4 162.3 558.3 149.0 516.4 135.6 512.5z"/>
<path fill="#95929e" d="M135.6 512.5 149.0 514.0 162.3 558.2 162.3 558.2 149.0 515.6 135.6 512.5z"/>
<path fill="#9796a5" d="M135.6 512.5 149.0 513.3 162.3 558.1 175.7 594.4 175.7 594.4 162.3 558.2 149.0 514.0 135.6 512.5z"/>
<path fill="#989e97" d="M135.6 512.5 149.0 512.9 162.3 558.0 175.7 594.4 175.7 594.4 162.3 558.1 149.0 513.3 135.6 512.5z"/>
<path fill="#90979a" d="M135.6 512.5 149.0 512.7 162.3 558.0 175.7 594.4 175.7 594.4 162.3 558.0 149.0 512.9 135.6 512.5z"/>
<path fill="#a9a399" d="M135.6 512.5 149.0 512.5 162.3 558.0 162.3 558.0 149.0 512.7 135.6 512.5z"/>
<path fill="#9da9a7" d="M135.6 512.5 149.0 511.8 162.3 558.0 162.3 558.0 149.0 512.5 135.6 512.5z"/>
<path fill="#98a8a8" d="M135.6 512.5 149.0 511.1 162.3 558.0 162.3 558.0 149.0 511.8 135.6 512.5z"/>
<path fill="#a6aea4" d="M135.6 512.5 149.0 510.5 162.3 557.9 175.7 594.4 175.7 594.4 162.3 558.0 149.0 511.1 135.6 512.5z"/>
<path fill="#998c9b" d="M135.6 512.5 149.0 510.4 162.3 557.9 175.7 594.4 175.7 594.4 162.3 557.9 149.0 510.5 135.6 512.5z"/>
<path fill="#acad96" d="M135.6 512.5 149.0 510.0 162.3 557.9 175.7 594.4 175.7 594.4 162.3 557.9 149.0 510.4 135.6 512.5z"/>
<path fill="#90a7a2" d="M149.0 510.0 162.3 557.8 175.7 594.4 175.7 594.4 162.3 557.9 149.0 510.0z"/>
<path fill="#92889d" d="M149.0 510.0 162.3 557.8 175.7 594.4 175.7 594.4 162.3 557.8 149.0 510.0z"/>
<path fill="#99a19f" d="M149.0 510.0 162.3 557.7 175.7 594.4 175.7 594.4 162.3 557.8 149.0 510.0z"/>
<path fill="#949990" d="M149.0 510.0 162.3 557.7 175.7 594.4 175.7 594.4 162.3 557.7 149.0 510.0z"/>
<path fill="#a59399" d="M149.0 510.0 162.3 557.7 175.7 594.4 175.7 594.4 162.3 557.7 149.0 510.0z"/>
<path fill="#8c9f97" d="M149.0 510.0 162.3 557.7 175.7 594.4 175.7 594.4 162.3 557.7 149.0 510.0z"/>
<path fill="#a3a59d" d="M149.0 510.0 162.3 557.6 175.7 594.4 175.7 594.4 162.3 557.7 149.0 510.0z"/>
<path fill="#98a999" d="M149.0 510.0 162.3 557.6 175.7 594.4 175.7 594.4 162.3 557.6 149.0 510.0z"/>
<path fill="#8d9496" d="M149.0 510.0 162.3 557.6 175.7 594.4 175.7 594.4 162.3 557.6 149.0 510.0z"/>
<path fill="#989f88" d="M149.0 510.0 162.3 557.5 175.7 594.4 175.7 594.4 162.3 557.6 149.0 510.0z"/>
<path fill="#aaae9a" d="M149.0 510.0 162.3 557.5 175.7 594.4 175.7 594.4 162.3 557.5 149.0 510.0z"/>
<path fill="#9fadb5" d="M149.0 510.0 162.3 557.5 175.7 594.4 175.7 594.4 162.3 557.5 149.0 510.0z"/>
<path fill="#9fa295" d="M149.0 510.0 162.3 557.4 175.7 594.4 175.7 594.4 162.3 557.5 149.0 510.0z"/>
<path fill="#ae83ac" d="M149.0 510.0 162.3 557.4 175.7 594.4 175.7 594.4 162.3 557.4 149.0 510.0z"/>
<path fill="#ae9fa3" d="M149.0 510.0 162.3 557.4 175.7 594.4 175.7 594.4 162.3 557.4 149.0 510.0z"/>
<path fill="#97a9a1" d="M162.3 557.4 175.7 594.4 189.0 602.8 202.3 605.3 215.7 602.4 229.0 604.2 229.0 604.2 215.7 603.3 202.3 605.7 189.0 603.3 175.7 594.4 162.3 557.4z"/>
<path fill="#6395a0" d="M162.3 557.4 175.7 594.4 189.0 602.3 202.3 605.2 215.7 602.1 229.0 603.9 242.3 558.2 242.3 558.2 229.0 604.2 215.7 602.4 202.3 605.3 189.0 602.8 175.7 594.4 162.3 557.4z"/>
<path fill="#a5a19e" d="M162.3 557.4 175.7 594.3 189.0 602.0 202.3 604.8 215.7 601.9 229.0 603.6 242.3 558.2 242.3 558.2 229.0 603.9 215.7 602.1 202.3 605.2 189.0 602.3 175.7 594.4 162.3 557.4z"/>
<path fill="#7892ae" d="M162.3 557.4 175.7 594.3 189.0 601.7 202.3 604.6 215.7 601.4 229.0 603.1 242.3 558.2 242.3 558.2 229.0 603.6 215.7 601.9 202.3 604.8 189.0 602.0 175.7 594.3 162.3 557.4z"/>
<path fill="#73ada5" d="M162.3 557.4 175.7 594.2 189.0 601.0 202.3 604.4 215.7 600.5 229.0 603.1 229.0 603.1 215.7 601.4 202.3 604.6 189.0 601.7 175.7 594.3 162.3 557.4z"/>
<path fill="#68bfad" d="M162.3 557.4 175.7 594.2 189.0 600.8 202.3 604.2 215.7 600.1 229.0 602.7 242.3 558.2 242.3 558.2 229.0 603.1 215.7 600.5 202.3 604.4 189.0 601.0 175.7 594.2 162.3 557.4z"/>
<path fill="#1f69b0" d="M162.3 557.4 175.7 594.2 189.0 600.5 202.3 604.1 215.7 599.3 229.0 602.5 242.3 558.2 242.3 558.2 229.0 602.7 215.7 600.1 202.3 604.2 189.0 600.8 175.7 594.2 162.3 557.4z"/>
<path fill="#84a463" d="M162.3 557.4 175.7 594.1 189.0 599.4 202.3 604.0 215.7 598.6 229.0 602.5 229.0 602.5 215.7 599.3 202.3 604.1 189.0 600.5 175.7 594.2 162.3 557.4z"/>
<path fill="#ce354e" d="M162.3 557.4 175.7 594.1 189.0 598.9 202.3 603.6 215.7 598.3 229.0 602.5 229.0 602.5 215.7 598.6 202.3 604.0 189.0 599.4 175.7 594.1 162.3 557.4z"/>
<path fill="#8d95a1" d="M162.3 557.4 175.7 594.1 189.0 598.0 202.3 602.8 215.7 598.3 215.7 598.3 202.3 603.6 189.0 598.9 175.7 594.1 162.3 557.4z"/>
<path fill="#698da4" d="M162.3 557.4 175.7 594.0 189.0 597.5 202.3 602.4 215.7 597.4 229.0 602.2 242.3 558.2 242.3 558.2 229.0 602.5 215.7 598.3 202.3 602.8 189.0 598.0 175.7 594.1 162.3 557.4z"/>
<path fill="#a18f93" d="M162.3 557.4 175.7 594.0 189.0 597.0 202.3 602.3 215.7 597.0 229.0 602.1 242.3 558.2 242.3 558.2 229.0 602.2 215.7 597.4 202.3 602.4 189.0 597.5 175.7 594.0 162.3 557.4z"/>
<path fill="#8979a5" d="M162.3 557.4 175.7 594.0 189.0 597.0 202.3 602.2 215.7 596.9 229.0 602.0 242.3 558.2 242.3 558.2 229.0 602.1 215.7 597.0 202.3 602.3 189.0 597.0 175.7 594.0 162.3 557.4z"/>
<path fill="#3eb241" d="M162.3 557.4 175.7 593.9 189.0 596.8 202.3 602.1 215.7 596.9 215.7 596.9 202.3 602.2 189.0 597.0 175.7 594.0 162.3 557.4z"/>
<path fill="#82b653" d="M162.3 557.4 175.7 593.9 189.0 596.2 202.3 601.8 215.7 596.5 229.0 601.7 242.3 558.2 242.3 558.2 229.0 602.0 215.7 596.9 202.3 602.1 189.0 596.8 175.7 593.9 162.3 557.4z"/>
<path fill="#8ea697" d="M162.3 557.4 175.7 593.9 189.0 595.8 202.3 601.5 215.7 596.0 229.0 601.5 242.3 558.2 242.3 558.2 229.0 601.7 215.7 596.5 202.3 601.8 189.0 596.2 175.7 593.9 162.3 557.4z"/>
<path fill="#646bb4" d="M162.3 557.4 175.7 593.8 189.0 595.1 202.3 601.4 215.7 595.6 229.0 601.3 242.3 558.2 242.3 558.2 229.0 601.5 215.7 596.0 202.3 601.5 189.0 595.8 175.7 593.9 162.3 557.4z"/>
<path fill="#849f9f" d="M162.3 557.4 175.7 593.8 189.0 594.7 202.3 600.7 215.7 595.4 229.0 601.1 242.3 558.2 242.3 558.2 229.0 601.3 215.7 595.6 202.3 601.4 189.0 595.1 175.7 593.8 162.3 557.4z"/>
<path fill="#b65c69" d="M162.3 557.4 175.7 593.8 189.0 594.5 202.3 600.6 215.7 595.0 229.0 600.9 242.3 558.2 242.3 558.2 229.0 601.1 215.7 595.4 202.3 600.7 189.0 594.7 175.7 593.8 162.3 557.4z"/>
<path fill="#53c426" d="M162.3 557.4 175.7 593.7 189.0 594.2 202.3 600.4 215.7 594.7 229.0 600.7 242.3 558.2 242.3 558.2 229.0 600.9 215.7 595.0 202.3 600.6 189.0 594.5 175.7 593.8 162.3 557.4z"/>
<path fill="#6da07c" d="M162.3 557.4 175.7 593.7 189.0 593.9 202.3 600.2 215.7 594.7 215.7 594.7 202.3 600.4 189.0 594.2 175.7 593.7 162.3 557.4z"/>
<path fill="#6385b3" d="M162.3 557.4 175.7 593.6 189.0 593.1 202.3 599.9 215.7 594.5 229.0 600.5 242.3 558.2 242.3 558.2 229.0 600.7 215.7 594.7 202.3 600.2 189.0 593.9 175.7 593.7 162.3 557.4z"/>
<path fill="#a0a865" d="M175.7 593.6 189.0 593.0 202.3 599.8 215.7 594.3 229.0 600.5 229.0 600.5 215.7 594.5 202.3 599.9 189.0 593.1 175.7 593.6z"/>
<path fill="#a99a7a" d="M162.3 557.4 175.7 593.6 189.0 592.6 202.3 599.6 215.7 594.3 215.7 594.3 202.3 599.8 189.0 593.0 175.7 593.6 162.3 557.4z"/>
<path fill="#af9427" d="M162.3 557.4 175.7 593.5 189.0 592.5 202.3 599.5 215.7 594.1 229.0 600.5 229.0 600.5 215.7 594.3 202.3 599.6 189.0 592.6 175.7 593.6 162.3 557.4z"/>
<path fill="#9ca1a5" d="M162.3 557.4 175.7 593.5 189.0 592.0 202.3 599.3 215.7 592.8 229.0 600.0 242.3 558.2 242.3 558.2 229.0 600.5 215.7 594.1 202.3 599.5 189.0 592.5 175.7 593.5 162.3 557.4z"/>
<path fill="#9d9fa2" d="M162.3 557.4 175.7 593.4 189.0 591.4 202.3 599.1 215.7 591.9 229.0 600.0 229.0 600.0 215.7 592.8 202.3 599.3 189.0 592.0 175.7 593.5 162.3 557.4z"/>
<path fill="#8ca5a1" d="M162.3 557.4 175.7 593.4 189.0 591.0 202.3 598.9 215.7 591.5 229.0 600.0 229.0 600.0 215.7 591.9 202.3 599.1 189.0 591.4 175.7 593.4 162.3 557.4z"/>
<path fill="#b55256" d="M162.3 557.4 175.7 593.4 189.0 589.6 202.3 598.7 215.7 591.5 215.7 591.5 202.3 598.9 189.0 591.0 175.7 593.4 162.3 557.4z"/>
<path fill="#9d331c" d="M162.3 557.4 175.7 593.3 189.0 589.1 202.3 598.4 215.7 591.1 229.0 599.5 242.3 558.2 242.3 558.2 229.0 600.0 215.7 591.5 202.3 598.7 189.0 589.6 175.7 593.4 162.3 557.4z"/>
<path fill="#a27386" d="M162.3 557.4 175.7 593.2 189.0 588.6 202.3 598.1 215.7 590.3 229.0 599.1 242.3 558.2 242.3 558.2 229.0 599.5 215.7 591.1 202.3 598.4 189.0 589.1 175.7 593.3 162.3 557.4z"/>
<path fill="#68a3a7" d="M162.3 557.4 175.7 593.2 189.0 588.2 202.3 598.1 215.7 589.7 229.0 599.1 242.3 558.2 242.3 558.2 229.0 599.1 215.7 590.3 202.3 598.1 189.0 588.6 175.7 593.2 162.3 557.4z"/>
<path fill="#85919d" d="M162.3 557.4 175.7 593.1 189.0 587.9 202.3 598.0 215.7 588.5 229.0 599.1 229.0 599.1 215.7 589.7 202.3 598.1 189.0 588.2 175.7 593.2 162.3 557.4z"/>
<path fill="#7aac7d" d="M162.3 557.4 175.7 593.1 189.0 587.6 202.3 597.8 215.7 588.2 229.0 598.9 242.3 558.2 242.3 558.2 229.0 599.1 215.7 588.5 202.3 598.0 189.0 587.9 175.7 593.1 162.3 557.4z"/>
<path fill="#5c9d37" d="M162.3 557.4 175.7 593.1 189.0 586.9 202.3 597.7 215.7 587.4 229.0 598.6 242.3 558.2 242.3 558.2 229.0 598.9 215.7 588.2 202.3 597.8 189.0 587.6 175.7 593.1 162.3 557.4z"/>
<path fill="#9e9aa9" d="M162.3 557.4 175.7 593.0 189.0 586.6 202.3 597.5 215.7 587.4 215.7 587.4 202.3 597.7 189.0 586.9 175.7 593.1 162.3 557.4z"/>
<path fill="#779da3" d="M162.3 557.4 175.7 593.0 189.0 586.3 202.3 597.5 215.7 587.1 229.0 598.4 242.3 558.2 242.3 558.2 229.0 598.6 215.7 587.4 202.3 597.5 189.0 586.6 175.7 593.0 162.3 557.4z"/>
<path fill="#7096b4" d="M162.3 557.4 175.7 592.9 189.0 585.4 202.3 596.9 215.7 586.7 229.0 598.0 242.3 558.2 242.3 558.2 229.0 598.4 215.7 587.1 202.3 597.5 189.0 586.3 175.7 593.0 162.3 557.4z"/>
<path fill="#854fa6" d="M162.3 557.4 175.7 592.9 189.0 585.3 202.3 596.8 215.7 586.6 229.0 597.9 242.3 558.2 242.3 558.2 229.0 598.0 215.7 586.7 202.3 596.9 189.0 585.4 175.7 592.9 162.3 557.4z"/>
<path fill="#9d9599" d="M162.3 557.4 175.7 592.9 189.0 585.0 202.3 596.5 215.7 586.2 229.0 597.6 242.3 558.2 242.3 558.2 229.0 597.9 215.7 586.6 202.3 596.8 189.0 585.3 175.7 592.9 162.3 557.4z"/>
<path fill="#9e4f8b" d="M162.3 557.4 175.7 592.9 189.0 584.2 202.3 596.3 215.7 585.8 229.0 597.2 242.3 558.2 242.3 558.2 229.0 597.6 215.7 586.2 202.3 596.5 189.0 585.0 175.7 592.9 162.3 557.4z"/>
<path fill="#a7a59a" d="M162.3 557.4 175.7 592.8 189.0 583.9 202.3 596.0 215.7 585.8 215.7 585.8 202.3 596.3 189.0 584.2 175.7 592.9 162.3 557.4z"/>
<path fill="#83a273" d="M162.3 557.4 175.7 592.7 189.0 583.1 202.3 595.5 215.7 584.6 229.0 595.3 242.3 558.2 242.3 558.2 229.0 597.2 215.7 585.8 202.3 596.0 189.0 583.9 175.7 592.8 162.3 557.4z"/>
<path fill="#a3aba4" d="M162.3 557.4 175.7 592.6 189.0 582.3 202.3 594.7 215.7 583.2 229.0 595.0 242.3 558.2 242.3 558.2 229.0 595.3 215.7 584.6 202.3 595.5 189.0 583.1 175.7 592.7 162.3 557.4z"/>
<path fill="#2bb6b3" d="M162.3 557.4 175.7 592.6 189.0 582.2 202.3 594.6 215.7 582.7 229.0 594.8 242.3 558.2 242.3 558.2 229.0 595.0 215.7 583.2 202.3 594.7 189.0 582.3 175.7 592.6 162.3 557.4z"/>
<path fill="#94a098" d="M162.3 557.4 175.7 592.6 189.0 581.9 202.3 594.5 215.7 582.4 229.0 594.7 242.3 558.2 242.3 558.2 229.0 594.8 215.7 582.7 202.3 594.6 189.0 582.2 175.7 592.6 162.3 557.4z"/>
<path fill="#61b86c" d="M162.3 557.4 175.7 592.5 189.0 581.7 202.3 594.3 215.7 582.4 215.7 582.4 202.3 594.5 189.0 581.9 175.7 592.6 162.3 557.4z"/>
<path fill="#9f9bae" d="M162.3 557.4 175.7 592.5 189.0 581.3 202.3 594.2 215.7 582.0 229.0 594.6 242.3 558.2 242.3 558.2 229.0 594.7 215.7 582.4 202.3 594.3 189.0 581.7 175.7 592.5 162.3 557.4z"/>
<path fill="#697c9c" d="M162.3 557.4 175.7 592.4 189.0 580.5 202.3 593.8 215.7 581.8 229.0 594.5 242.3 558.2 242.3 558.2 229.0 594.6 215.7 582.0 202.3 594.2 189.0 581.3 175.7 592.5 162.3 557.4z"/>
<path fill="#606fab" d="M162.3 557.4 175.7 592.4 189.0 580.4 202.3 593.6 215.7 581.7 229.0 594.4 242.3 558.2 242.3 558.2 229.0 594.5 215.7 581.8 202.3 593.8 189.0 580.5 175.7 592.4 162.3 557.4z"/>
<path fill="#877c5b" d="M162.3 557.4 175.7 592.4 189.0 580.2 202.3 593.5 215.7 581.4 229.0 594.2 242.3 558.2 242.3 558.2 229.0 594.4 215.7 581.7 202.3 593.6 189.0 580.4 175.7 592.4 162.3 557.4z"/>
<path fill="#9faeaf" d="M162.3 557.4 175.7 592.3 189.0 579.7 202.3 593.2 215.7 580.8 229.0 594.2 229.0 594.2 215.7 581.4 202.3 593.5 189.0 580.2 175.7 592.4 162.3 557.4z"/>
<path fill="#b45e8b" d="M162.3 557.4 175.7 592.3 189.0 579.6 202.3 593.1 215.7 580.7 229.0 594.1 242.3 558.2 242.3 558.2 229.0 594.2 215.7 580.8 202.3 593.2 189.0 579.7 175.7 592.3 162.3 557.4z"/>
<path fill="#8b69b8" d="M162.3 557.4 175.7 592.3 189.0 579.3 202.3 592.9 215.7 580.3 229.0 594.0 242.3 558.2 242.3 558.2 229.0 594.1 215.7 580.7 202.3 593.1 189.0 579.6 175.7 592.3 162.3 557.4z"/>
<path fill="#a898af" d="M162.3 557.4 175.7 592.3 189.0 579.2 202.3 592.8 215.7 580.1 229.0 593.9 242.3 558.2 242.3 558.2 229.0 594.0 215.7 580.3 202.3 592.9 189.0 579.3 175.7 592.3 162.3 557.4z"/>
<path fill="#98af6b" d="M162.3 557.4 175.7 592.0 189.0 577.6 202.3 592.6 215.7 578.0 229.0 592.6 242.3 558.2 242.3 558.2 229.0 593.9 215.7 580.1 202.3 592.8 189.0 579.2 175.7 592.3 162.3 557.4z"/>
<path fill="#45d674" d="M162.3 557.4 175.7 592.0 189.0 577.4 202.3 592.4 215.7 577.9 229.0 592.4 242.3 558.2 242.3 558.2 229.0 592.6 215.7 578.0 202.3 592.6 189.0 577.6 175.7 592.0 162.3 557.4z"/>
<path fill="#369679" d="M162.3 557.4 175.7 592.0 189.0 577.1 202.3 592.3 215.7 577.2 229.0 592.2 242.3 558.2 242.3 558.2 229.0 592.4 215.7 577.9 202.3 592.4 189.0 577.4 175.7 592.0 162.3 557.4z"/>
<path fill="#4ab08a" d="M162.3 557.4 175.7 592.0 189.0 576.9 202.3 592.1 215.7 576.7 229.0 592.0 242.3 558.2 242.3 558.2 229.0 592.2 215.7 577.2 202.3 592.3 189.0 577.1 175.7 592.0 162.3 557.4z"/>
<path fill="#a2a69f" d="M162.3 557.4 175.7 592.0 189.0 576.2 202.3 591.8 215.7 576.2 229.0 591.6 242.3 558.2 242.3 558.2 229.0 592.0 215.7 576.7 202.3 592.1 189.0 576.9 175.7 592.0 162.3 557.4z"/>
<path fill="#a0558d" d="M162.3 557.4 175.7 591.9 189.0 575.7 202.3 591.7 215.7 576.0 229.0 591.6 229.0 591.6 215.7 576.2 202.3 591.8 189.0 576.2 175.7 592.0 162.3 557.4z"/>
<path fill="#a69da8" d="M162.3 557.4 175.7 591.9 189.0 575.4 202.3 591.5 215.7 575.5 229.0 591.3 242.3 558.2 242.3 558.2 229.0 591.6 215.7 576.0 202.3 591.7 189.0 575.7 175.7 591.9 162.3 557.4z"/>
<path fill="#587ab4" d="M162.3 557.4 175.7 591.8 189.0 575.0 202.3 591.2 215.7 574.6 229.0 590.3 242.3 558.2 242.3 558.2 229.0 591.3 215.7 575.5 202.3 591.5 189.0 575.4 175.7 591.9 162.3 557.4z"/>
<path fill="#b37872" d="M162.3 557.4 175.7 591.8 189.0 574.2 202.3 591.0 215.7 573.7 229.0 590.3 229.0 590.3 215.7 574.6 202.3 591.2 189.0 575.0 175.7 591.8 162.3 557.4z"/>
<path fill="#c07174" d="M162.3 557.4 175.7 591.8 189.0 573.8 202.3 590.6 215.7 573.5 229.0 590.3 229.0 590.3 215.7 573.7 202.3 591.0 189.0 574.2 175.7 591.8 162.3 557.4z"/>
<path fill="#d19a3b" d="M162.3 557.4 175.7 591.7 189.0 573.0 202.3 590.3 215.7 573.1 229.0 589.9 242.3 558.2 242.3 558.2 229.0 590.3 215.7 573.5 202.3 590.6 189.0 573.8 175.7 591.8 162.3 557.4z"/>
<path fill="#94a188" d="M162.3 557.4 175.7 591.7 189.0 572.7 202.3 590.1 215.7 572.9 229.0 589.9 229.0 589.9 215.7 573.1 202.3 590.3 189.0 573.0 175.7 591.7 162.3 557.4z"/>
<path fill="#639d6c" d="M162.3 557.4 175.7 591.7 189.0 571.9 202.3 589.7 215.7 572.2 229.0 589.8 242.3 558.2 242.3 558.2 229.0 589.9 215.7 572.9 202.3 590.1 189.0 572.7 175.7 591.7 162.3 557.4z"/>
<path fill="#a992aa" d="M175.7 591.7 189.0 571.6 202.3 589.6 215.7 571.8 229.0 589.6 242.3 558.2 242.3 558.2 229.0 589.8 215.7 572.2 202.3 589.7 189.0 571.9 175.7 591.7z"/>
<path fill="#9aa8a8" d="M175.7 591.7 189.0 571.1 202.3 589.1 215.7 571.2 229.0 589.6 229.0 589.6 215.7 571.8 202.3 589.6 189.0 571.6 175.7 591.7z"/>
<path fill="#4dbacb" d="M175.7 591.7 189.0 570.8 202.3 588.9 215.7 570.7 229.0 589.6 229.0 589.6 215.7 571.2 202.3 589.1 189.0 571.1 175.7 591.7z"/>
<path fill="#71be74" d="M175.7 591.7 189.0 570.4 202.3 588.2 215.7 569.8 229.0 589.5 242.3 558.2 242.3 558.2 229.0 589.6 215.7 570.7 202.3 588.9 189.0 570.8 175.7 591.7z"/>
<path fill="#33af4a" d="M175.7 591.7 189.0 570.3 202.3 588.1 215.7 569.5 229.0 589.5 229.0 589.5 215.7 569.8 202.3 588.2 189.0 570.4 175.7 591.7z"/>
<path fill="#79aca2" d="M175.7 591.7 189.0 569.7 202.3 587.2 215.7 568.8 229.0 589.0 242.3 558.2 242.3 558.2 229.0 589.5 215.7 569.5 202.3 588.1 189.0 570.3 175.7 591.7z"/>
<path fill="#8b8d57" d="M175.7 591.7 189.0 569.6 202.3 587.1 215.7 568.7 229.0 588.9 242.3 558.2 242.3 558.2 229.0 589.0 215.7 568.8 202.3 587.2 189.0 569.7 175.7 591.7z"/>
<path fill="#577cac" d="M175.7 591.7 189.0 569.2 202.3 587.0 215.7 568.4 229.0 588.9 229.0 588.9 215.7 568.7 202.3 587.1 189.0 569.6 175.7 591.7z"/>
<path fill="#9f3c29" d="M175.7 591.7 189.0 567.4 202.3 586.5 215.7 567.4 229.0 588.9 229.0 588.9 215.7 568.4 202.3 587.0 189.0 569.2 175.7 591.7z"/>
<path fill="#7e875e" d="M175.7 591.7 189.0 566.9 202.3 586.5 215.7 567.0 229.0 588.7 242.3 558.2 242.3 558.2 229.0 588.9 215.7 567.4 202.3 586.5 189.0 567.4 175.7 591.7z"/>
<path fill="#b13b85" d="M175.7 591.7 189.0 566.5 202.3 586.1 215.7 566.3 229.0 588.7 229.0 588.7 215.7 567.0 202.3 586.5 189.0 566.9 175.7 591.7z"/>
<path fill="#8ea18f" d="M175.7 591.7 189.0 565.9 202.3 585.9 215.7 566.2 229.0 588.5 242.3 558.2 242.3 558.2 229.0 588.7 215.7 566.3 202.3 586.1 189.0 566.5 175.7 591.7z"/>
<path fill="#999ca7" d="M175.7 591.7 189.0 565.5 202.3 585.7 215.7 565.8 229.0 588.2 242.3 558.2 242.3 558.2 229.0 588.5 215.7 566.2 202.3 585.9 189.0 565.9 175.7 591.7z"/>
<path fill="#b571b5" d="M175.7 591.7 189.0 565.3 202.3 585.4 215.7 565.5 229.0 588.2 229.0 588.2 215.7 565.8 202.3 585.7 189.0 565.5 175.7 591.7z"/>
<path fill="#4dae88" d="M175.7 591.7 189.0 565.2 202.3 585.3 215.7 564.9 229.0 588.2 229.0 588.2 215.7 565.5 202.3 585.4 189.0 565.3 175.7 591.7z"/>
<path fill="#a4a9a7" d="M175.7 591.7 189.0 564.8 202.3 585.2 215.7 564.5 229.0 588.2 229.0 588.2 215.7 564.9 202.3 585.3 189.0 565.2 175.7 591.7z"/>
<path fill="#aa86b0" d="M175.7 591.7 189.0 564.6 202.3 585.1 215.7 563.9 229.0 588.2 229.0 588.2 215.7 564.5 202.3 585.2 189.0 564.8 175.7 591.7z"/>
<path fill="#527599" d="M175.7 591.7 189.0 564.4 202.3 585.0 215.7 563.6 229.0 588.0 242.3 558.2 242.3 558.2 229.0 588.2 215.7 563.9 202.3 585.1 189.0 564.6 175.7 591.7z"/>
<path fill="#a7949c" d="M175.7 591.7 189.0 563.8 202.3 584.7 215.7 562.7 229.0 588.0 229.0 588.0 215.7 563.6 202.3 585.0 189.0 564.4 175.7 591.7z"/>
<path fill="#92989f" d="M175.7 591.7 189.0 563.7 202.3 584.3 215.7 562.1 229.0 588.0 229.0 588.0 215.7 562.7 202.3 584.7 189.0 563.8 175.7 591.7z"/>
<path fill="#7fac70" d="M175.7 591.7 189.0 563.3 202.3 584.2 215.7 561.6 229.0 587.7 242.3 558.2 242.3 558.2 229.0 588.0 215.7 562.1 202.3 584.3 189.0 563.7 175.7 591.7z"/>
<path fill="#9fb4ad" d="M175.7 591.7 189.0 562.6 202.3 584.1 215.7 561.5 229.0 587.5 242.3 558.2 242.3 558.2 229.0 587.7 215.7 561.6 202.3 584.2 189.0 563.3 175.7 591.7z"/>
<path fill="#5aa74b" d="M175.7 591.7 189.0 562.3 202.3 583.8 215.7 561.2 229.0 587.3 242.3 558.2 242.3 558.2 229.0 587.5 215.7 561.5 202.3 584.1 189.0 562.6 175.7 591.7z"/>
<path fill="#c0b77a" d="M175.7 591.7 189.0 561.9 202.3 583.7 215.7 561.0 229.0 587.1 242.3 558.2 242.3 558.2 229.0 587.3 215.7 561.2 202.3 583.8 189.0 562.3 175.7 591.7z"/>
<path fill="#a67258" d="M175.7 591.7 189.0 561.6 202.3 583.5 215.7 560.6 229.0 586.9 242.3 558.2 242.3 558.2 229.0 587.1 215.7 561.0 202.3 583.7 189.0 561.9 175.7 591.7z"/>
<path fill="#9595a6" d="M175.7 591.7 189.0 561.2 202.3 583.4 215.7 558.8 229.0 586.6 242.3 558.2 242.3 558.2 229.0 586.9 215.7 560.6 202.3 583.5 189.0 561.6 175.7 591.7z"/>
<path fill="#a0aaa7" d="M175.7 591.7 189.0 560.8 202.3 583.0 215.7 558.1 229.0 586.6 229.0 586.6 215.7 558.8 202.3 583.4 189.0 561.2 175.7 591.7z"/>
<path fill="#749f45" d="M175.7 591.7 189.0 560.6 202.3 582.8 215.7 557.7 229.0 586.4 242.3 558.2 242.3 558.2 229.0 586.6 215.7 558.1 202.3 583.0 189.0 560.8 175.7 591.7z"/>
<path fill="#be53c5" d="M175.7 591.7 189.0 560.1 202.3 582.3 215.7 557.1 229.0 586.1 242.3 558.2 242.3 558.2 229.0 586.4 215.7 557.7 202.3 582.8 189.0 560.6 175.7 591.7z"/>
<path fill="#697ca2" d="M175.7 591.7 189.0 559.1 202.3 581.4 215.7 556.4 229.0 585.5 242.3 558.2 242.3 558.2 229.0 586.1 215.7 557.1 202.3 582.3 189.0 560.1 175.7 591.7z"/>
<path fill="#a6acac" d="M175.7 591.7 189.0 558.7 202.3 581.3 215.7 556.1 229.0 585.3 242.3 558.2 242.3 558.2 229.0 585.5 215.7 556.4 202.3 581.4 189.0 559.1 175.7 591.7z"/>
<path fill="#9ba7a6" d="M175.7 591.7 189.0 558.5 202.3 581.1 215.7 555.3 229.0 585.3 229.0 585.3 215.7 556.1 202.3 581.3 189.0 558.7 175.7 591.7z"/>
<path fill="#93859d" d="M189.0 558.5 202.3 581.0 215.7 554.7 229.0 585.1 242.3 558.2 242.3 558.2 229.0 585.3 215.7 555.3 202.3 581.1 189.0 558.5z"/>
<path fill="#b15999" d="M189.0 558.5 202.3 580.8 215.7 554.3 229.0 584.7 242.3 558.2 242.3 558.2 229.0 585.1 215.7 554.7 202.3 581.0 189.0 558.5z"/>
<path fill="#5c7e86" d="M189.0 558.5 202.3 580.3 215.7 553.8 229.0 584.5 242.3 558.2 242.3 558.2 229.0 584.7 215.7 554.3 202.3 580.8 189.0 558.5z"/>
<path fill="#73a777" d="M189.0 558.5 202.3 580.1 215.7 553.0 229.0 584.1 242.3 558.2 242.3 558.2 229.0 584.5 215.7 553.8 202.3 580.3 189.0 558.5z"/>
<path fill="#618099" d="M189.0 558.5 202.3 579.8 215.7 552.3 229.0 583.7 242.3 558.2 242.3 558.2 229.0 584.1 215.7 553.0 202.3 580.1 189.0 558.5z"/>
<path fill="#a255a8" d="M189.0 558.5 202.3 579.4 215.7 550.9 229.0 583.3 242.3 558.2 242.3 558.2 229.0 583.7 215.7 552.3 202.3 579.8 189.0 558.5z"/>
<path fill="#a7a295" d="M189.0 558.5 202.3 579.0 215.7 550.5 229.0 582.9 242.3 558.2 242.3 558.2 229.0 583.3 215.7 550.9 202.3 579.4 189.0 558.5z"/>
<path fill="#729d9f" d="M189.0 558.5 202.3 578.9 215.7 550.2 229.0 582.6 242.3 558.2 242.3 558.2 229.0 582.9 215.7 550.5 202.3 579.0 189.0 558.5z"/>
<path fill="#a5939d" d="M189.0 558.5 202.3 578.6 215.7 549.8 229.0 581.8 242.3 558.2 242.3 558.2 229.0 582.6 215.7 550.2 202.3 578.9 189.0 558.5z"/>
<path fill="#993932" d="M189.0 558.5 202.3 578.4 215.7 548.8 229.0 581.3 242.3 558.2 242.3 558.2 229.0 581.8 215.7 549.8 202.3 578.6 189.0 558.5z"/>
<path fill="#906857" d="M189.0 558.5 202.3 578.2 215.7 548.3 229.0 581.2 242.3 558.2 242.3 558.2 229.0 581.3 215.7 548.8 202.3 578.4 189.0 558.5z"/>
<path fill="#c2624b" d="M189.0 558.5 202.3 578.1 215.7 547.9 229.0 581.0 242.3 558.2 242.3 558.2 229.0 581.2 215.7 548.3 202.3 578.2 189.0 558.5z"/>
<path fill="#a1bd79" d="M189.0 558.5 202.3 578.1 215.7 547.5 229.0 580.9 242.3 558.2 242.3 558.2 229.0 581.0 215.7 547.9 202.3 578.1 189.0 558.5z"/>
<path fill="#a0a9a1" d="M189.0 558.5 202.3 577.8 215.7 546.9 229.0 580.7 242.3 558.2 242.3 558.2 229.0 580.9 215.7 547.5 202.3 578.1 189.0 558.5z"/>
<path fill="#bea965" d="M189.0 558.5 202.3 577.4 215.7 545.1 229.0 580.3 242.3 558.2 242.3 558.2 229.0 580.7 215.7 546.9 202.3 577.8 189.0 558.5z"/>
<path fill="#9f7363" d="M189.0 558.5 202.3 577.2 215.7 544.4 229.0 580.1 242.3 558.2 242.3 558.2 229.0 580.3 215.7 545.1 202.3 577.4 189.0 558.5z"/>
<path fill="#c03db5" d="M189.0 558.5 202.3 576.8 215.7 544.1 229.0 579.9 242.3 558.2 242.3 558.2 229.0 580.1 215.7 544.4 202.3 577.2 189.0 558.5z"/>
<path fill="#9f9aa2" d="M189.0 558.5 202.3 576.3 215.7 543.5 229.0 579.5 242.3 558.2 242.3 558.2 229.0 579.9 215.7 544.1 202.3 576.8 189.0 558.5z"/>
<path fill="#aa3931" d="M189.0 558.5 202.3 576.1 215.7 542.7 229.0 579.2 242.3 558.2 242.3 558.2 229.0 579.5 215.7 543.5 202.3 576.3 189.0 558.5z"/>
<path fill="#aa92a5" d="M189.0 558.5 202.3 575.9 215.7 541.8 229.0 578.2 242.3 558.2 242.3 558.2 229.0 579.2 215.7 542.7 202.3 576.1 189.0 558.5z"/>
<path fill="#b054af" d="M189.0 558.5 202.3 575.7 215.7 541.2 229.0 578.1 242.3 558.2 242.3 558.2 229.0 578.2 215.7 541.8 202.3 575.9 189.0 558.5z"/>
<path fill="#5aae57" d="M189.0 558.5 202.3 575.6 215.7 541.0 229.0 578.0 242.3 558.2 242.3 558.2 229.0 578.1 215.7 541.2 202.3 575.7 189.0 558.5z"/>
<path fill="#96abac" d="M189.0 558.5 202.3 575.5 215.7 540.5 229.0 577.9 242.3 558.2 242.3 558.2 229.0 578.0 215.7 541.0 202.3 575.6 189.0 558.5z"/>
<path fill="#589693" d="M189.0 558.5 202.3 575.4 215.7 540.3 229.0 577.8 242.3 558.2 242.3 558.2 229.0 577.9 215.7 540.5 202.3 575.5 189.0 558.5z"/>
<path fill="#7ca4a1" d="M229.0 577.8 242.3 557.3 255.7 571.6 269.0 542.7 282.3 551.2 295.7 543.2 309.0 551.5 309.0 553.6 295.7 543.9 282.3 553.4 269.0 543.9 255.7 574.2 242.3 558.2 229.0 577.8z"/>
<path fill="#b672a3" d="M229.0 577.8 242.3 556.0 255.7 570.4 269.0 541.7 282.3 550.4 295.7 542.9 309.0 550.4 309.0 551.5 295.7 543.2 282.3 551.2 269.0 542.7 255.7 571.6 242.3 557.3 229.0 577.8z"/>
<path fill="#ca313e" d="M229.0 577.8 242.3 554.9 255.7 569.3 269.0 540.8 282.3 550.0 295.7 542.1 309.0 550.0 309.0 550.4 295.7 542.9 282.3 550.4 269.0 541.7 255.7 570.4 242.3 556.0 229.0 577.8z"/>
<path fill="#98595c" d="M229.0 577.8 242.3 553.8 255.7 564.5 269.0 540.2 282.3 549.2 295.7 541.5 309.0 549.0 309.0 550.0 295.7 542.1 282.3 550.0 269.0 540.8 255.7 569.3 242.3 554.9 229.0 577.8z"/>
<path fill="#afa39f" d="M229.0 577.8 242.3 553.0 255.7 563.4 269.0 539.7 282.3 548.5 295.7 540.6 309.0 547.6 309.0 549.0 295.7 541.5 282.3 549.2 269.0 540.2 255.7 564.5 242.3 553.8 229.0 577.8z"/>
<path fill="#81b282" d="M229.0 577.8 242.3 550.1 255.7 560.5 269.0 539.1 282.3 548.5 282.3 548.5 269.0 539.7 255.7 563.4 242.3 553.0 229.0 577.8z"/>
<path fill="#8e8a9e" d="M229.0 577.8 242.3 549.0 255.7 558.2 269.0 538.6 282.3 548.0 295.7 539.6 309.0 546.9 309.0 547.6 295.7 540.6 282.3 548.5 269.0 539.1 255.7 560.5 242.3 550.1 229.0 577.8z"/>
<path fill="#93909c" d="M229.0 577.8 242.3 548.1 255.7 557.7 269.0 538.3 282.3 547.6 295.7 539.1 309.0 546.9 309.0 546.9 295.7 539.6 282.3 548.0 269.0 538.6 255.7 558.2 242.3 549.0 229.0 577.8z"/>
<path fill="#669e99" d="M229.0 577.8 242.3 544.6 255.7 556.0 269.0 537.9 282.3 546.8 295.7 538.6 309.0 546.3 309.0 546.9 295.7 539.1 282.3 547.6 269.0 538.3 255.7 557.7 242.3 548.1 229.0 577.8z"/>
<path fill="#6c67ba" d="M229.0 577.8 242.3 540.4 255.7 554.1 269.0 537.1 282.3 546.8 282.3 546.8 269.0 537.9 255.7 556.0 242.3 544.6 229.0 577.8z"/>
<path fill="#8174ab" d="M229.0 577.8 242.3 535.5 255.7 551.2 269.0 536.6 282.3 545.9 295.7 538.2 309.0 545.0 309.0 546.3 295.7 538.6 282.3 546.8 269.0 537.1 255.7 554.1 242.3 540.4 229.0 577.8z"/>
<path fill="#a69754" d="M229.0 577.8 242.3 534.7 255.7 550.5 269.0 536.3 282.3 545.1 295.7 537.8 309.0 543.7 309.0 545.0 295.7 538.2 282.3 545.9 269.0 536.6 255.7 551.2 242.3 535.5 229.0 577.8z"/>
<path fill="#b44f93" d="M229.0 577.8 242.3 532.7 255.7 547.2 269.0 535.5 282.3 545.1 282.3 545.1 269.0 536.3 255.7 550.5 242.3 534.7 229.0 577.8z"/>
<path fill="#9b588a" d="M229.0 577.8 242.3 531.7 255.7 545.7 269.0 535.0 282.3 545.1 282.3 545.1 269.0 535.5 255.7 547.2 242.3 532.7 229.0 577.8z"/>
<path fill="#6d7aac" d="M229.0 577.8 242.3 530.7 255.7 544.3 269.0 534.4 282.3 544.0 295.7 537.4 309.0 543.7 309.0 543.7 295.7 537.8 282.3 545.1 269.0 535.0 255.7 545.7 242.3 531.7 229.0 577.8z"/>
<path fill="#4375a1" d="M229.0 577.8 242.3 524.4 255.7 539.9 269.0 533.5 282.3 542.2 295.7 536.3 309.0 542.0 309.0 543.7 295.7 537.4 282.3 544.0 269.0 534.4 255.7 544.3 242.3 530.7 229.0 577.8z"/>
<path fill="#90a29a" d="M229.0 577.8 242.3 519.7 255.7 539.0 269.0 532.2 282.3 541.2 295.7 535.3 309.0 540.1 309.0 542.0 295.7 536.3 282.3 542.2 269.0 533.5 255.7 539.9 242.3 524.4 229.0 577.8z"/>
<path fill="#8f85b4" d="M229.0 577.8 242.3 516.0 255.7 537.5 269.0 531.2 282.3 538.4 295.7 534.5 309.0 538.0 309.0 540.1 295.7 535.3 282.3 541.2 269.0 532.2 255.7 539.0 242.3 519.7 229.0 577.8z"/>
<path fill="#63ab7e" d="M229.0 577.8 242.3 514.6 255.7 534.9 269.0 529.8 282.3 537.8 295.7 532.9 309.0 537.2 309.0 538.0 295.7 534.5 282.3 538.4 269.0 531.2 255.7 537.5 242.3 516.0 229.0 577.8z"/>
<path fill="#985850" d="M229.0 577.8 242.3 512.8 255.7 530.1 269.0 528.0 282.3 535.6 295.7 531.6 309.0 537.2 309.0 537.2 295.7 532.9 282.3 537.8 269.0 529.8 255.7 534.9 242.3 514.6 229.0 577.8z"/>
<path fill="#a0697c" d="M229.0 577.8 242.3 510.0 255.7 528.3 269.0 525.4 282.3 533.1 295.7 530.4 309.0 537.2 309.0 537.2 295.7 531.6 282.3 535.6 269.0 528.0 255.7 530.1 242.3 512.8 229.0 577.8z"/>
<path fill="#a4b2a1" d="M242.3 510.0 255.7 527.1 269.0 524.7 282.3 531.6 295.7 529.4 309.0 537.2 309.0 537.2 295.7 530.4 282.3 533.1 269.0 525.4 255.7 528.3 242.3 510.0z"/>
<path fill="#909197" d="M242.3 510.0 255.7 525.0 269.0 523.9 282.3 531.1 295.7 527.9 309.0 534.4 309.0 537.2 295.7 529.4 282.3 531.6 269.0 524.7 255.7 527.1 242.3 510.0z"/>
<path fill="#9f5f6c" d="M242.3 510.0 255.7 523.9 269.0 522.8 282.3 529.5 295.7 525.9 309.0 534.4 309.0 534.4 295.7 527.9 282.3 531.1 269.0 523.9 255.7 525.0 242.3 510.0z"/>
<path fill="#6d46a9" d="M242.3 510.0 255.7 522.5 269.0 522.2 282.3 529.1 295.7 524.9 309.0 534.0 309.0 534.4 295.7 525.9 282.3 529.5 269.0 522.8 255.7 523.9 242.3 510.0z"/>
<path fill="#997db1" d="M242.3 510.0 255.7 521.7 269.0 521.9 282.3 528.2 295.7 524.3 309.0 532.8 309.0 534.0 295.7 524.9 282.3 529.1 269.0 522.2 255.7 522.5 242.3 510.0z"/>
<path fill="#6f9cad" d="M242.3 510.0 255.7 520.3 269.0 519.9 282.3 527.8 295.7 523.6 309.0 530.8 309.0 532.8 295.7 524.3 282.3 528.2 269.0 521.9 255.7 521.7 242.3 510.0z"/>
<path fill="#5bb6ba" d="M242.3 510.0 255.7 518.4 269.0 519.5 282.3 526.9 295.7 522.4 309.0 528.7 309.0 530.8 295.7 523.6 282.3 527.8 269.0 519.9 255.7 520.3 242.3 510.0z"/>
<path fill="#ab9995" d="M242.3 510.0 255.7 517.5 269.0 519.0 282.3 526.5 295.7 521.8 309.0 526.7 309.0 528.7 295.7 522.4 282.3 526.9 269.0 519.5 255.7 518.4 242.3 510.0z"/>
<path fill="#78bb9c" d="M242.3 510.0 255.7 516.1 269.0 517.9 282.3 525.9 295.7 521.8 295.7 521.8 282.3 526.5 269.0 519.0 255.7 517.5 242.3 510.0z"/>
<path fill="#a17485" d="M242.3 510.0 255.7 514.5 269.0 517.5 282.3 525.0 295.7 521.8 295.7 521.8 282.3 525.9 269.0 517.9 255.7 516.1 242.3 510.0z"/>
<path fill="#24809c" d="M242.3 510.0 255.7 512.5 269.0 516.6 282.3 524.7 295.7 521.4 309.0 526.7 309.0 526.7 295.7 521.8 282.3 525.0 269.0 517.5 255.7 514.5 242.3 510.0z"/>
<path fill="#aea5ad" d="M255.7 512.5 269.0 515.8 282.3 524.3 295.7 520.8 309.0 523.9 309.0 526.7 295.7 521.4 282.3 524.7 269.0 516.6 255.7 512.5z"/>
<path fill="#85b353" d="M255.7 512.5 269.0 514.9 282.3 522.7 295.7 518.9 309.0 523.9 309.0 523.9 295.7 520.8 282.3 524.3 269.0 515.8 255.7 512.5z"/>
<path fill="#72a98a" d="M255.7 512.5 269.0 514.5 282.3 521.8 295.7 518.4 309.0 523.9 309.0 523.9 295.7 518.9 282.3 522.7 269.0 514.9 255.7 512.5z"/>
<path fill="#71bb6f" d="M255.7 512.5 269.0 513.9 282.3 521.4 295.7 517.9 309.0 522.9 309.0 523.9 295.7 518.4 282.3 521.8 269.0 514.5 255.7 512.5z"/>
<path fill="#a9a04d" d="M255.7 512.5 269.0 513.5 282.3 519.8 295.7 517.0 309.0 522.0 309.0 522.9 295.7 517.9 282.3 521.4 269.0 513.9 255.7 512.5z"/>
<path fill="#869d46" d="M255.7 512.5 269.0 513.2 282.3 518.9 295.7 516.4 309.0 521.1 309.0 522.0 295.7 517.0 282.3 519.8 269.0 513.5 255.7 512.5z"/>
<path fill="#aa4e53" d="M255.7 512.5 269.0 511.8 282.3 517.1 295.7 513.6 309.0 519.4 309.0 521.1 295.7 516.4 282.3 518.9 269.0 513.2 255.7 512.5z"/>
<path fill="#886cad" d="M255.7 512.5 269.0 511.2 282.3 516.4 295.7 512.9 309.0 519.4 309.0 519.4 295.7 513.6 282.3 517.1 269.0 511.8 255.7 512.5z"/>
<path fill="#a78a70" d="M269.0 511.2 282.3 514.5 295.7 512.5 309.0 517.9 309.0 519.4 295.7 512.9 282.3 516.4 269.0 511.2z"/>
<path fill="#6236ae" d="M269.0 511.2 282.3 513.6 295.7 511.8 309.0 516.6 309.0 517.9 295.7 512.5 282.3 514.5 269.0 511.2z"/>
<path fill="#9e6b6b" d="M269.0 511.2 282.3 513.1 295.7 510.6 309.0 514.2 309.0 516.6 295.7 511.8 282.3 513.6 269.0 511.2z"/>
<path fill="#7a90b1" d="M269.0 511.2 282.3 512.3 295.7 510.3 309.0 512.7 309.0 514.2 295.7 510.6 282.3 513.1 269.0 511.2z"/>
<path fill="#9764be" d="M269.0 511.2 282.3 511.2 295.7 510.0 309.0 511.2 309.0 512.7 295.7 510.3 282.3 512.3 269.0 511.2z"/>
<path fill="#86d0d4" d="M162.3 557.4 175.7 558.5 189.0 558.5 189.0 558.5 175.7 591.7 162.3 557.4z"/>
<path fill="#8db785" d="M149.0 510.0 162.3 555.1 175.7 558.5 189.0 557.9 202.3 575.4 202.3 575.4 189.0 558.5 175.7 558.5 162.3 557.4 149.0 510.0z"/>
<path fill="#96958e" d="M149.0 510.0 162.3 551.5 175.7 558.5 189.0 556.4 202.3 575.4 202.3 575.4 189.0 557.9 175.7 558.5 162.3 555.1 149.0 510.0z"/>
<path fill="#9a8ea7" d="M149.0 510.0 162.3 549.3 175.7 558.5 189.0 555.9 202.3 575.4 202.3 575.4 189.0 556.4 175.7 558.5 162.3 551.5 149.0 510.0z"/>
<path fill="#9588a0" d="M149.0 510.0 162.3 547.2 175.7 558.5 189.0 555.3 202.3 575.4 202.3 575.4 189.0 555.9 175.7 558.5 162.3 549.3 149.0 510.0z"/>
<path fill="#97acab" d="M149.0 510.0 162.3 546.3 175.7 558.5 175.7 558.5 162.3 547.2 149.0 510.0z"/>
<path fill="#a9a6ae" d="M149.0 510.0 162.3 545.2 175.7 558.5 175.7 558.5 162.3 546.3 149.0 510.0z"/>
<path fill="#9da695" d="M149.0 510.0 162.3 543.6 175.7 558.5 189.0 554.3 202.3 575.4 202.3 575.4 189.0 555.3 175.7 558.5 162.3 545.2 149.0 510.0z"/>
<path fill="#9fa29b" d="M149.0 510.0 162.3 541.5 175.7 558.5 175.7 558.5 162.3 543.6 149.0 510.0z"/>
<path fill="#9997a8" d="M149.0 510.0 162.3 540.7 175.7 558.5 175.7 558.5 162.3 541.5 149.0 510.0z"/>
<path fill="#a3aca0" d="M149.0 510.0 162.3 538.6 175.7 558.5 189.0 551.8 202.3 575.4 202.3 575.4 189.0 554.3 175.7 558.5 162.3 540.7 149.0 510.0z"/>
<path fill="#b1be7c" d="M149.0 510.0 162.3 535.4 175.7 558.5 189.0 551.1 202.3 575.4 202.3 575.4 189.0 551.8 175.7 558.5 162.3 538.6 149.0 510.0z"/>
<path fill="#6bafa0" d="M149.0 510.0 162.3 531.5 175.7 558.5 189.0 550.3 202.3 575.4 202.3 575.4 189.0 551.1 175.7 558.5 162.3 535.4 149.0 510.0z"/>
<path fill="#aca5a2" d="M149.0 510.0 162.3 530.8 175.7 558.5 189.0 550.2 202.3 575.4 202.3 575.4 189.0 550.3 175.7 558.5 162.3 531.5 149.0 510.0z"/>
<path fill="#a09ea4" d="M149.0 510.0 162.3 529.6 175.7 558.5 175.7 558.5 162.3 530.8 149.0 510.0z"/>
<path fill="#a095a9" d="M149.0 510.0 162.3 528.9 175.7 558.5 175.7 558.5 162.3 529.6 149.0 510.0z"/>
<path fill="#a1a69f" d="M149.0 510.0 162.3 527.6 175.7 558.5 189.0 549.6 202.3 575.4 202.3 575.4 189.0 550.2 175.7 558.5 162.3 528.9 149.0 510.0z"/>
<path fill="#ab9da2" d="M149.0 510.0 162.3 525.9 175.7 558.5 189.0 548.8 202.3 575.4 202.3 575.4 189.0 549.6 175.7 558.5 162.3 527.6 149.0 510.0z"/>
<path fill="#989da6" d="M149.0 510.0 162.3 525.1 175.7 558.5 189.0 547.7 202.3 575.4 202.3 575.4 189.0 548.8 175.7 558.5 162.3 525.9 149.0 510.0z"/>
<path fill="#9baea8" d="M149.0 510.0 162.3 523.0 175.7 558.5 189.0 547.4 202.3 575.4 202.3 575.4 189.0 547.7 175.7 558.5 162.3 525.1 149.0 510.0z"/>
<path fill="#a8a0a3" d="M149.0 510.0 162.3 521.1 175.7 558.5 189.0 547.1 202.3 575.4 202.3 575.4 189.0 547.4 175.7 558.5 162.3 523.0 149.0 510.0z"/>
<path fill="#a3aa65" d="M149.0 510.0 162.3 520.5 175.7 558.5 189.0 546.9 202.3 575.4 202.3 575.4 189.0 547.1 175.7 558.5 162.3 521.1 149.0 510.0z"/>
<path fill="#a09fb3" d="M149.0 510.0 162.3 519.8 175.7 558.5 175.7 558.5 162.3 520.5 149.0 510.0z"/>
<path fill="#879e91" d="M149.0 510.0 162.3 519.0 175.7 558.5 175.7 558.5 162.3 519.8 149.0 510.0z"/>
<path fill="#a3a3ab" d="M149.0 510.0 162.3 518.2 175.7 558.5 175.7 558.5 162.3 519.0 149.0 510.0z"/>
<path fill="#b0a3ad" d="M149.0 510.0 162.3 517.3 175.7 558.5 175.7 558.5 162.3 518.2 149.0 510.0z"/>
<path fill="#909d94" d="M149.0 510.0 162.3 514.7 175.7 558.5 189.0 543.0 202.3 575.4 202.3 575.4 189.0 546.9 175.7 558.5 162.3 517.3 149.0 510.0z"/>
<path fill="#a4ab98" d="M149.0 510.0 162.3 512.5 175.7 558.5 189.0 542.3 202.3 575.4 202.3 575.4 189.0 543.0 175.7 558.5 162.3 514.7 149.0 510.0z"/>
<path fill="#96ac9c" d="M175.7 558.5 189.0 540.5 202.3 575.4 202.3 575.4 189.0 542.3 175.7 558.5z"/>
<path fill="#86a672" d="M175.7 558.5 189.0 540.2 202.3 575.4 202.3 575.4 189.0 540.5 175.7 558.5z"/>
<path fill="#89a185" d="M175.7 558.5 189.0 538.0 202.3 575.4 202.3 575.4 189.0 540.2 175.7 558.5z"/>
<path fill="#9fa69c" d="M175.7 558.5 189.0 537.5 202.3 575.4 202.3 575.4 189.0 538.0 175.7 558.5z"/>
<path fill="#a0727e" d="M175.7 558.5 189.0 537.1 202.3 575.4 202.3 575.4 189.0 537.5 175.7 558.5z"/>
<path fill="#a2a197" d="M175.7 558.5 189.0 536.7 202.3 575.4 202.3 575.4 189.0 537.1 175.7 558.5z"/>
<path fill="#7381b8" d="M175.7 558.5 189.0 535.8 202.3 575.4 202.3 575.4 189.0 536.7 175.7 558.5z"/>
<path fill="#a383ac" d="M175.7 558.5 189.0 534.9 202.3 575.4 202.3 575.4 189.0 535.8 175.7 558.5z"/>
<path fill="#a26a95" d="M175.7 558.5 189.0 534.3 202.3 575.4 202.3 575.4 189.0 534.9 175.7 558.5z"/>
<path fill="#202030" d="M149.0 510.0 162.3 512.2 175.7 557.5 189.0 534.0 202.3 575.4 202.3 575.4 189.0 534.3 175.7 558.5 162.3 512.5 149.0 510.0z"/>
<path fill="#e878b0" d="M162.3 512.2 175.7 524.7 189.0 534.0 189.0 534.0 175.7 557.5 162.3 512.2z"/>
<path fill="#638958" d="M149.0 510.0 162.3 512.0 175.7 522.3 189.0 534.0 189.0 534.0 175.7 524.7 162.3 512.2 149.0 510.0z"/>
<path fill="#c08f72" d="M149.0 510.0 162.3 511.8 175.7 521.6 189.0 534.0 189.0 534.0 175.7 522.3 162.3 512.0 149.0 510.0z"/>
<path fill="#8175b9" d="M149.0 510.0 162.3 511.7 175.7 520.7 189.0 532.4 202.3 575.4 202.3 575.4 189.0 534.0 175.7 521.6 162.3 511.8 149.0 510.0z"/>
<path fill="#62ad24" d="M149.0 510.0 162.3 511.6 175.7 520.2 189.0 532.4 189.0 532.4 175.7 520.7 162.3 511.7 149.0 510.0z"/>
<path fill="#7431c8" d="M149.0 510.0 162.3 511.5 175.7 520.1 189.0 532.4 189.0 532.4 175.7 520.2 162.3 511.6 149.0 510.0z"/>
<path fill="#a8ba64" d="M149.0 510.0 162.3 511.0 175.7 519.7 189.0 530.7 202.3 575.4 202.3 575.4 189.0 532.4 175.7 520.1 162.3 511.5 149.0 510.0z"/>
<path fill="#c9c34e" d="M149.0 510.0 162.3 510.8 175.7 519.7 175.7 519.7 162.3 511.0 149.0 510.0z"/>
<path fill="#2d9b23" d="M149.0 510.0 162.3 510.7 175.7 518.7 189.0 529.2 202.3 575.4 202.3 575.4 189.0 530.7 175.7 519.7 162.3 510.8 149.0 510.0z"/>
<path fill="#ab287b" d="M149.0 510.0 162.3 510.6 175.7 518.7 175.7 518.7 162.3 510.7 149.0 510.0z"/>
<path fill="#601aa3" d="M149.0 510.0 162.3 510.5 175.7 518.2 189.0 529.2 189.0 529.2 175.7 518.7 162.3 510.6 149.0 510.0z"/>
<path fill="#51ad72" d="M149.0 510.0 162.3 510.3 175.7 515.6 189.0 526.3 202.3 575.4 202.3 575.4 189.0 529.2 175.7 518.2 162.3 510.5 149.0 510.0z"/>
<path fill="#71bab6" d="M149.0 510.0 162.3 510.2 175.7 515.0 189.0 525.1 202.3 575.4 202.3 575.4 189.0 526.3 175.7 515.6 162.3 510.3 149.0 510.0z"/>
<path fill="#845fb4" d="M149.0 510.0 162.3 510.1 175.7 514.8 189.0 525.1 189.0 525.1 175.7 515.0 162.3 510.2 149.0 510.0z"/>
<path fill="#265fc5" d="M149.0 510.0 162.3 509.9 175.7 514.0 189.0 525.1 189.0 525.1 175.7 514.8 162.3 510.1 149.0 510.0z"/>
<path fill="#5aa4bb" d="M149.0 510.0 162.3 509.9 175.7 513.9 189.0 525.1 189.0 525.1 175.7 514.0 162.3 509.9 149.0 510.0z"/>
<path fill="#7db77a" d="M149.0 510.0 162.3 509.8 175.7 513.1 189.0 524.3 202.3 575.4 202.3 575.4 189.0 525.1 175.7 513.9 162.3 509.9 149.0 510.0z"/>
<path fill="#608593" d="M162.3 509.8 175.7 512.7 189.0 523.9 202.3 575.4 202.3 575.4 189.0 524.3 175.7 513.1 162.3 509.8z"/>
<path fill="#19a954" d="M162.3 509.8 175.7 512.0 189.0 523.9 189.0 523.9 175.7 512.7 162.3 509.8z"/>
<path fill="#47b541" d="M162.3 509.8 175.7 511.8 189.0 523.4 202.3 575.4 202.3 575.4 189.0 523.9 175.7 512.0 162.3 509.8z"/>
<path fill="#ae8a3d" d="M162.3 509.8 175.7 510.5 189.0 522.2 202.3 575.4 202.3 575.4 189.0 523.4 175.7 511.8 162.3 509.8z"/>
<path fill="#b98640" d="M162.3 509.8 175.7 509.5 189.0 521.2 202.3 575.4 202.3 575.4 189.0 522.2 175.7 510.5 162.3 509.8z"/>
<path fill="#b971aa" d="M162.3 509.8 175.7 509.0 189.0 520.2 202.3 575.4 202.3 575.4 189.0 521.2 175.7 509.5 162.3 509.8z"/>
<path fill="#a9577d" d="M162.3 509.8 175.7 508.8 189.0 519.5 202.3 575.4 202.3 575.4 189.0 520.2 175.7 509.0 162.3 509.8z"/>
<path fill="#8f5fa3" d="M175.7 508.8 189.0 518.3 202.3 575.4 202.3 575.4 189.0 519.5 175.7 508.8z"/>
<line x1="42.3" y1="506.2" x2="42.3" y2="628" stroke="#161616" stroke-width="0.9" />
<line x1="39" y1="627.5" x2="42.3" y2="627.5" stroke="#161616" stroke-width="0.9" />
<text x="36.6" y="630.13" font-size="7.6" text-anchor="end" fill="#161616" stroke="#161616" stroke-width="0.18" >0</text>
<line x1="39" y1="597.225" x2="42.3" y2="597.225" stroke="#161616" stroke-width="0.9" />
<text x="36.6" y="599.86" font-size="7.6" text-anchor="end" fill="#161616" stroke="#161616" stroke-width="0.18" >25</text>
<line x1="39" y1="566.95" x2="42.3" y2="566.95" stroke="#161616" stroke-width="0.9" />
<text x="36.6" y="569.58" font-size="7.6" text-anchor="end" fill="#161616" stroke="#161616" stroke-width="0.18" >50</text>
<line x1="39" y1="536.675" x2="42.3" y2="536.675" stroke="#161616" stroke-width="0.9" />
<text x="36.6" y="539.31" font-size="7.6" text-anchor="end" fill="#161616" stroke="#161616" stroke-width="0.18" >75</text>
<line x1="39" y1="506.4" x2="42.3" y2="506.4" stroke="#161616" stroke-width="0.9" />
<text x="36.6" y="509.03" font-size="7.6" text-anchor="end" fill="#161616" stroke="#161616" stroke-width="0.18" >100</text>
<line x1="42.3" y1="628" x2="309.2" y2="628" stroke="#161616" stroke-width="1" />
<line x1="42.3" y1="628" x2="42.3" y2="630.5" stroke="#161616" stroke-width="0.8" />
<text x="45.9" y="638.30" font-size="7.8" text-anchor="end" fill="#161616" stroke="#161616" stroke-width="0.18" transform="rotate(-45 45.9 635.6)">19</text>
<line x1="55.635" y1="628" x2="55.635" y2="630.5" stroke="#161616" stroke-width="0.8" />
<text x="59.235" y="638.30" font-size="7.8" text-anchor="end" fill="#161616" stroke="#161616" stroke-width="0.18" transform="rotate(-45 59.2 635.6)">26</text>
<line x1="68.97" y1="628" x2="68.97" y2="630.5" stroke="#161616" stroke-width="0.8" />
<text x="72.57" y="638.30" font-size="7.8" text-anchor="end" fill="#161616" stroke="#161616" stroke-width="0.18" transform="rotate(-45 72.6 635.6)">34</text>
<line x1="82.305" y1="628" x2="82.305" y2="630.5" stroke="#161616" stroke-width="0.8" />
<text x="85.905" y="638.30" font-size="7.8" text-anchor="end" fill="#161616" stroke="#161616" stroke-width="0.18" transform="rotate(-45 85.9 635.6)">40</text>
<line x1="95.64" y1="628" x2="95.64" y2="630.5" stroke="#161616" stroke-width="0.8" />
<text x="99.24" y="638.30" font-size="7.8" text-anchor="end" fill="#161616" stroke="#161616" stroke-width="0.18" transform="rotate(-45 99.2 635.6)">49</text>
<line x1="108.97500000000001" y1="628" x2="108.97500000000001" y2="630.5" stroke="#161616" stroke-width="0.8" />
<text x="112.575" y="638.30" font-size="7.8" text-anchor="end" fill="#161616" stroke="#161616" stroke-width="0.18" transform="rotate(-45 112.6 635.6)">70</text>
<line x1="122.31" y1="628" x2="122.31" y2="630.5" stroke="#161616" stroke-width="0.8" />
<text x="125.91" y="638.30" font-size="7.8" text-anchor="end" fill="#161616" stroke="#161616" stroke-width="0.18" transform="rotate(-45 125.9 635.6)">84</text>
<line x1="135.64499999999998" y1="628" x2="135.64499999999998" y2="630.5" stroke="#161616" stroke-width="0.8" />
<text x="139.24499999999998" y="638.30" font-size="7.8" text-anchor="end" fill="#161616" stroke="#161616" stroke-width="0.18" transform="rotate(-45 139.2 635.6)">98</text>
<line x1="148.98000000000002" y1="628" x2="148.98000000000002" y2="630.5" stroke="#161616" stroke-width="0.8" />
<text x="152.58" y="638.30" font-size="7.8" text-anchor="end" fill="#161616" stroke="#161616" stroke-width="0.18" transform="rotate(-45 152.6 635.6)">131</text>
<line x1="162.315" y1="628" x2="162.315" y2="630.5" stroke="#161616" stroke-width="0.8" />
<text x="165.915" y="638.30" font-size="7.8" text-anchor="end" fill="#161616" stroke="#161616" stroke-width="0.18" transform="rotate(-45 165.9 635.6)">152</text>
<line x1="175.65000000000003" y1="628" x2="175.65000000000003" y2="630.5" stroke="#161616" stroke-width="0.8" />
<text x="179.25000000000003" y="638.30" font-size="7.8" text-anchor="end" fill="#161616" stroke="#161616" stroke-width="0.18" transform="rotate(-45 179.3 635.6)">180</text>
<line x1="188.985" y1="628" x2="188.985" y2="630.5" stroke="#161616" stroke-width="0.8" />
<text x="192.585" y="638.30" font-size="7.8" text-anchor="end" fill="#161616" stroke="#161616" stroke-width="0.18" transform="rotate(-45 192.6 635.6)">215</text>
<line x1="202.32" y1="628" x2="202.32" y2="630.5" stroke="#161616" stroke-width="0.8" />
<text x="205.92" y="638.30" font-size="7.8" text-anchor="end" fill="#161616" stroke="#161616" stroke-width="0.18" transform="rotate(-45 205.9 635.6)">249</text>
<line x1="215.65500000000003" y1="628" x2="215.65500000000003" y2="630.5" stroke="#161616" stroke-width="0.8" />
<text x="219.25500000000002" y="638.30" font-size="7.8" text-anchor="end" fill="#161616" stroke="#161616" stroke-width="0.18" transform="rotate(-45 219.3 635.6)">300</text>
<line x1="228.99" y1="628" x2="228.99" y2="630.5" stroke="#161616" stroke-width="0.8" />
<text x="232.59" y="638.30" font-size="7.8" text-anchor="end" fill="#161616" stroke="#161616" stroke-width="0.18" transform="rotate(-45 232.6 635.6)">334</text>
<line x1="242.325" y1="628" x2="242.325" y2="630.5" stroke="#161616" stroke-width="0.8" />
<text x="245.92499999999998" y="638.30" font-size="7.8" text-anchor="end" fill="#161616" stroke="#161616" stroke-width="0.18" transform="rotate(-45 245.9 635.6)">397</text>
<line x1="255.66000000000003" y1="628" x2="255.66000000000003" y2="630.5" stroke="#161616" stroke-width="0.8" />
<text x="259.26000000000005" y="638.30" font-size="7.8" text-anchor="end" fill="#161616" stroke="#161616" stroke-width="0.18" transform="rotate(-45 259.3 635.6)">462</text>
<line x1="268.995" y1="628" x2="268.995" y2="630.5" stroke="#161616" stroke-width="0.8" />
<text x="272.595" y="638.30" font-size="7.8" text-anchor="end" fill="#161616" stroke="#161616" stroke-width="0.18" transform="rotate(-45 272.6 635.6)">532</text>
<line x1="282.33000000000004" y1="628" x2="282.33000000000004" y2="630.5" stroke="#161616" stroke-width="0.8" />
<text x="285.93000000000006" y="638.30" font-size="7.8" text-anchor="end" fill="#161616" stroke="#161616" stroke-width="0.18" transform="rotate(-45 285.9 635.6)">1015</text>
<line x1="295.665" y1="628" x2="295.665" y2="630.5" stroke="#161616" stroke-width="0.8" />
<text x="299.26500000000004" y="638.30" font-size="7.8" text-anchor="end" fill="#161616" stroke="#161616" stroke-width="0.18" transform="rotate(-45 299.3 635.6)">1167</text>
<line x1="309.00000000000006" y1="628" x2="309.00000000000006" y2="630.5" stroke="#161616" stroke-width="0.8" />
<text x="312.6000000000001" y="638.30" font-size="7.8" text-anchor="end" fill="#161616" stroke="#161616" stroke-width="0.18" transform="rotate(-45 312.6 635.6)">1265</text>
<text x="175.6" y="501.05" font-size="8.8" text-anchor="middle" fill="#161616" stroke="#161616" stroke-width="0.18" textLength="127" lengthAdjust="spacingAndGlyphs" >Polyclonal engraftment in the PB</text>
<text x="15.3" y="569.05" font-size="8.8" text-anchor="middle" fill="#161616" font-weight="bold" textLength="78" lengthAdjust="spacingAndGlyphs" transform="rotate(-90 15.3 566)">% abundance in mCh<tspan baseline-shift="3.03" font-size="6.60">+</tspan> cells</text>
<rect x="262.6" y="509" width="43.7" height="15.5" fill="#e0e0e0" opacity="0.86"/>
<text x="284.5" y="520.05" font-size="8.8" text-anchor="middle" fill="#161616" stroke="#161616" stroke-width="0.18" textLength="26" lengthAdjust="spacingAndGlyphs" >WBCs</text>
<text x="438.5" y="496.75" font-size="8.8" text-anchor="middle" fill="#161616" stroke="#161616" stroke-width="0.18" textLength="129" lengthAdjust="spacingAndGlyphs" >Polyclonal engraftment in the BM</text>
<text x="340.5" y="569.05" font-size="8.8" text-anchor="middle" fill="#161616" font-weight="bold" textLength="78" lengthAdjust="spacingAndGlyphs" transform="rotate(-90 340.5 566)">% abundance in mCh<tspan baseline-shift="3.03" font-size="6.60">+</tspan> cells</text>
<rect x="367" y="506.2" width="57" height="121.19999999999999" fill="#8d8d8d" />
<path fill="#4f9674" d="M367.0 626.1 386.0 626.7 405.0 626.7 424.0 625.9 424.0 627.4 405.0 627.4 386.0 627.4 367.0 627.4z"/>
<path fill="#a43d8b" d="M367.0 623.5 386.0 626.5 405.0 625.3 424.0 624.5 424.0 625.9 405.0 626.7 386.0 626.7 367.0 626.1z"/>
<path fill="#b9568c" d="M367.0 623.1 386.0 626.3 405.0 624.4 424.0 623.6 424.0 624.5 405.0 625.3 386.0 626.5 367.0 623.5z"/>
<path fill="#62b3a9" d="M367.0 620.8 386.0 625.9 405.0 619.9 424.0 621.1 424.0 623.6 405.0 624.4 386.0 626.3 367.0 623.1z"/>
<path fill="#2d679c" d="M367.0 617.9 386.0 625.5 405.0 616.7 424.0 617.3 424.0 621.1 405.0 619.9 386.0 625.9 367.0 620.8z"/>
<path fill="#558c74" d="M367.0 617.7 386.0 625.3 405.0 615.8 424.0 615.6 424.0 617.3 405.0 616.7 386.0 625.5 367.0 617.9z"/>
<path fill="#d23a51" d="M367.0 614.0 386.0 624.3 405.0 612.1 424.0 610.2 424.0 615.6 405.0 615.8 386.0 625.3 367.0 617.7z"/>
<path fill="#8e68a2" d="M367.0 612.9 386.0 623.8 405.0 610.4 424.0 608.0 424.0 610.2 405.0 612.1 386.0 624.3 367.0 614.0z"/>
<path fill="#4a1c8c" d="M367.0 603.2 386.0 623.8 386.0 623.8 367.0 612.9z"/>
<path fill="#b83a9a" d="M367.0 598.3 386.0 623.8 386.0 623.8 367.0 603.2z"/>
<path fill="#2aa0a0" d="M367.0 591.0 386.0 623.8 386.0 623.8 367.0 598.3z"/>
<path fill="#3a58b8" d="M367.0 586.2 386.0 623.8 386.0 623.8 367.0 591.0z"/>
<path fill="#58b048" d="M367.0 582.6 386.0 623.8 386.0 623.8 367.0 586.2z"/>
<path fill="#a59598" d="M367.0 581.7 386.0 623.8 386.0 623.8 367.0 582.6z"/>
<path fill="#9f979e" d="M367.0 580.1 386.0 623.8 386.0 623.8 367.0 581.7z"/>
<path fill="#977db3" d="M367.0 579.7 386.0 623.8 386.0 623.8 367.0 580.1z"/>
<path fill="#a49ea2" d="M367.0 579.2 386.0 623.8 386.0 623.8 367.0 579.7z"/>
<path fill="#91a59d" d="M367.0 577.9 386.0 623.8 386.0 623.8 367.0 579.2z"/>
<path fill="#9a909a" d="M367.0 576.8 386.0 623.8 386.0 623.8 367.0 577.9z"/>
<path fill="#9fafb4" d="M367.0 574.6 386.0 623.8 386.0 623.8 367.0 576.8z"/>
<path fill="#9a9ea7" d="M367.0 572.6 386.0 623.8 386.0 623.8 367.0 574.6z"/>
<path fill="#ac83a9" d="M367.0 572.1 386.0 623.8 386.0 623.8 367.0 572.6z"/>
<path fill="#a2989c" d="M367.0 569.7 386.0 623.8 386.0 623.8 367.0 572.1z"/>
<path fill="#b14e98" d="M367.0 569.0 386.0 623.8 386.0 623.8 367.0 569.7z"/>
<path fill="#939f95" d="M367.0 565.0 386.0 623.8 386.0 623.8 367.0 569.0z"/>
<path fill="#a892a7" d="M367.0 562.2 386.0 623.8 386.0 623.8 367.0 565.0z"/>
<path fill="#988c9f" d="M367.0 560.1 386.0 623.8 386.0 623.8 367.0 562.2z"/>
<path fill="#9897a2" d="M367.0 558.8 386.0 623.8 386.0 623.8 367.0 560.1z"/>
<path fill="#adb3a0" d="M367.0 558.2 386.0 623.8 386.0 623.8 367.0 558.8z"/>
<path fill="#9e9895" d="M367.0 557.6 386.0 623.8 386.0 623.8 367.0 558.2z"/>
<path fill="#8e988d" d="M367.0 556.7 386.0 623.8 386.0 623.8 367.0 557.6z"/>
<path fill="#8da39b" d="M367.0 555.3 386.0 623.8 386.0 623.8 367.0 556.7z"/>
<path fill="#87899d" d="M367.0 551.4 386.0 623.8 386.0 623.8 367.0 555.3z"/>
<path fill="#919e98" d="M367.0 550.6 386.0 623.8 386.0 623.8 367.0 551.4z"/>
<path fill="#9797a2" d="M367.0 548.1 386.0 623.8 386.0 623.8 367.0 550.6z"/>
<path fill="#a0aaa9" d="M367.0 547.7 386.0 623.8 386.0 623.8 367.0 548.1z"/>
<path fill="#8d909b" d="M367.0 545.2 386.0 623.8 386.0 623.8 367.0 547.7z"/>
<path fill="#9b949e" d="M367.0 537.4 386.0 623.8 386.0 623.8 367.0 545.2z"/>
<path fill="#92a396" d="M367.0 536.1 386.0 623.8 386.0 623.8 367.0 537.4z"/>
<path fill="#a4ac98" d="M367.0 534.5 386.0 623.8 386.0 623.8 367.0 536.1z"/>
<path fill="#a7a89f" d="M367.0 528.6 386.0 623.8 386.0 623.8 367.0 534.5z"/>
<path fill="#849e9c" d="M367.0 526.5 386.0 623.8 386.0 623.8 367.0 528.6z"/>
<path fill="#9e517d" d="M367.0 525.6 386.0 623.8 386.0 623.8 367.0 526.5z"/>
<path fill="#9ea6a8" d="M367.0 524.9 386.0 623.8 386.0 623.8 367.0 525.6z"/>
<path fill="#9b9ea6" d="M367.0 522.7 386.0 623.8 386.0 623.8 367.0 524.9z"/>
<path fill="#a99496" d="M367.0 521.6 386.0 623.8 386.0 623.8 367.0 522.7z"/>
<path fill="#8c9795" d="M367.0 518.2 386.0 623.8 386.0 623.8 367.0 521.6z"/>
<path fill="#a19c94" d="M367.0 516.4 386.0 623.8 386.0 623.8 367.0 518.2z"/>
<path fill="#8c5b7f" d="M367.0 515.1 386.0 623.8 386.0 623.8 367.0 516.4z"/>
<path fill="#8d9990" d="M367.0 514.3 386.0 623.8 386.0 623.8 367.0 515.1z"/>
<path fill="#a7a0a0" d="M367.0 513.9 386.0 623.8 386.0 623.8 367.0 514.3z"/>
<path fill="#a5a491" d="M367.0 512.7 386.0 623.8 386.0 623.8 367.0 513.9z"/>
<path fill="#a1678d" d="M367.0 512.0 386.0 623.8 386.0 623.8 367.0 512.7z"/>
<path fill="#9d9a93" d="M367.0 510.1 386.0 623.8 386.0 623.8 367.0 512.0z"/>
<path fill="#a5a39d" d="M367.0 509.9 386.0 623.8 386.0 623.8 367.0 510.1z"/>
<path fill="#8a9e8f" d="M367.0 507.4 386.0 623.8 386.0 623.8 367.0 509.9z"/>
<path fill="#a8a5a2" d="M367.0 506.7 386.0 623.8 386.0 623.8 367.0 507.4z"/>
<path fill="#9c9a92" d="M367.0 506.2 386.0 623.8 386.0 623.8 367.0 506.7z"/>
<path fill="#7e8bb9" d="M367.0 506.2 386.0 619.6 405.0 608.6 424.0 605.9 424.0 608.0 405.0 610.4 386.0 623.8 367.0 506.2z"/>
<path fill="#6e64a1" d="M367.0 506.2 386.0 618.9 405.0 608.1 424.0 605.2 424.0 605.9 405.0 608.6 386.0 619.6 367.0 506.2z"/>
<path fill="#cd6367" d="M367.0 506.2 386.0 617.7 405.0 607.2 424.0 604.4 424.0 605.2 405.0 608.1 386.0 618.9 367.0 506.2z"/>
<path fill="#2aa11d" d="M367.0 506.2 386.0 616.9 405.0 606.4 424.0 602.6 424.0 604.4 405.0 607.2 386.0 617.7 367.0 506.2z"/>
<path fill="#9b42a0" d="M367.0 506.2 386.0 614.9 405.0 605.3 424.0 601.4 424.0 602.6 405.0 606.4 386.0 616.9 367.0 506.2z"/>
<path fill="#bf63a2" d="M367.0 506.2 386.0 612.0 405.0 602.7 424.0 600.3 424.0 601.4 405.0 605.3 386.0 614.9 367.0 506.2z"/>
<path fill="#8ba737" d="M367.0 506.2 386.0 609.2 405.0 601.9 424.0 599.5 424.0 600.3 405.0 602.7 386.0 612.0 367.0 506.2z"/>
<path fill="#4f67bf" d="M367.0 506.2 386.0 607.9 405.0 600.7 424.0 594.2 424.0 599.5 405.0 601.9 386.0 609.2 367.0 506.2z"/>
<path fill="#8e596d" d="M367.0 506.2 386.0 605.2 405.0 598.8 424.0 592.1 424.0 594.2 405.0 600.7 386.0 607.9 367.0 506.2z"/>
<path fill="#49cf8f" d="M367.0 506.2 386.0 602.3 405.0 598.0 424.0 591.2 424.0 592.1 405.0 598.8 386.0 605.2 367.0 506.2z"/>
<path fill="#984f5d" d="M367.0 506.2 386.0 601.0 405.0 597.0 424.0 590.4 424.0 591.2 405.0 598.0 386.0 602.3 367.0 506.2z"/>
<path fill="#965a95" d="M367.0 506.2 386.0 599.5 405.0 595.9 424.0 588.6 424.0 590.4 405.0 597.0 386.0 601.0 367.0 506.2z"/>
<path fill="#a3ad96" d="M367.0 506.2 386.0 594.2 405.0 595.9 405.0 595.9 386.0 599.5 367.0 506.2z"/>
<path fill="#8c9fa6" d="M367.0 506.2 386.0 592.6 405.0 595.9 405.0 595.9 386.0 594.2 367.0 506.2z"/>
<path fill="#af9b99" d="M367.0 506.2 386.0 588.1 405.0 595.9 405.0 595.9 386.0 592.6 367.0 506.2z"/>
<path fill="#a9a1ad" d="M367.0 506.2 386.0 587.0 405.0 595.9 405.0 595.9 386.0 588.1 367.0 506.2z"/>
<path fill="#aaa3aa" d="M367.0 506.2 386.0 586.4 405.0 595.9 405.0 595.9 386.0 587.0 367.0 506.2z"/>
<path fill="#b1a79f" d="M367.0 506.2 386.0 583.8 405.0 595.9 405.0 595.9 386.0 586.4 367.0 506.2z"/>
<path fill="#a79493" d="M367.0 506.2 386.0 580.7 405.0 595.9 405.0 595.9 386.0 583.8 367.0 506.2z"/>
<path fill="#968c8c" d="M367.0 506.2 386.0 579.0 405.0 595.9 405.0 595.9 386.0 580.7 367.0 506.2z"/>
<path fill="#a29b9e" d="M367.0 506.2 386.0 578.0 405.0 595.9 405.0 595.9 386.0 579.0 367.0 506.2z"/>
<path fill="#a5a299" d="M367.0 506.2 386.0 577.3 405.0 595.9 405.0 595.9 386.0 578.0 367.0 506.2z"/>
<path fill="#8e9c9a" d="M367.0 506.2 386.0 574.0 405.0 595.9 405.0 595.9 386.0 577.3 367.0 506.2z"/>
<path fill="#a2adac" d="M367.0 506.2 386.0 572.3 405.0 595.9 405.0 595.9 386.0 574.0 367.0 506.2z"/>
<path fill="#a1b0a8" d="M367.0 506.2 386.0 568.8 405.0 595.9 405.0 595.9 386.0 572.3 367.0 506.2z"/>
<path fill="#558caa" d="M367.0 506.2 386.0 566.9 405.0 595.9 405.0 595.9 386.0 568.8 367.0 506.2z"/>
<path fill="#9a8e9e" d="M367.0 506.2 386.0 564.4 405.0 595.9 405.0 595.9 386.0 566.9 367.0 506.2z"/>
<path fill="#aca497" d="M367.0 506.2 386.0 563.9 405.0 595.9 405.0 595.9 386.0 564.4 367.0 506.2z"/>
<path fill="#aaa2a3" d="M367.0 506.2 386.0 561.1 405.0 595.9 405.0 595.9 386.0 563.9 367.0 506.2z"/>
<path fill="#90a58c" d="M367.0 506.2 386.0 559.6 405.0 595.9 405.0 595.9 386.0 561.1 367.0 506.2z"/>
<path fill="#90859f" d="M367.0 506.2 386.0 557.3 405.0 595.9 405.0 595.9 386.0 559.6 367.0 506.2z"/>
<path fill="#9da08e" d="M367.0 506.2 386.0 556.3 405.0 595.9 405.0 595.9 386.0 557.3 367.0 506.2z"/>
<path fill="#879c8b" d="M367.0 506.2 386.0 554.1 405.0 595.9 405.0 595.9 386.0 556.3 367.0 506.2z"/>
<path fill="#ada1b2" d="M367.0 506.2 386.0 553.3 405.0 595.9 405.0 595.9 386.0 554.1 367.0 506.2z"/>
<path fill="#7bb2a6" d="M367.0 506.2 386.0 552.7 405.0 595.9 405.0 595.9 386.0 553.3 367.0 506.2z"/>
<path fill="#96aba6" d="M367.0 506.2 386.0 551.0 405.0 595.9 405.0 595.9 386.0 552.7 367.0 506.2z"/>
<path fill="#9c9488" d="M367.0 506.2 386.0 549.1 405.0 595.9 405.0 595.9 386.0 551.0 367.0 506.2z"/>
<path fill="#a8a2ac" d="M367.0 506.2 386.0 547.3 405.0 595.9 405.0 595.9 386.0 549.1 367.0 506.2z"/>
<path fill="#9ea2a7" d="M367.0 506.2 386.0 545.6 405.0 595.9 405.0 595.9 386.0 547.3 367.0 506.2z"/>
<path fill="#51b67e" d="M367.0 506.2 386.0 540.0 405.0 595.9 405.0 595.9 386.0 545.6 367.0 506.2z"/>
<path fill="#a7a9ad" d="M367.0 506.2 386.0 534.5 405.0 595.9 405.0 595.9 386.0 540.0 367.0 506.2z"/>
<path fill="#b59352" d="M367.0 506.2 386.0 532.3 405.0 595.9 405.0 595.9 386.0 534.5 367.0 506.2z"/>
<path fill="#aa999d" d="M367.0 506.2 386.0 531.2 405.0 595.9 405.0 595.9 386.0 532.3 367.0 506.2z"/>
<path fill="#948fa3" d="M367.0 506.2 386.0 529.2 405.0 595.9 405.0 595.9 386.0 531.2 367.0 506.2z"/>
<path fill="#969da6" d="M367.0 506.2 386.0 526.9 405.0 595.9 405.0 595.9 386.0 529.2 367.0 506.2z"/>
<path fill="#a34ca3" d="M367.0 506.2 386.0 526.0 405.0 595.9 405.0 595.9 386.0 526.9 367.0 506.2z"/>
<path fill="#a0b1b0" d="M367.0 506.2 386.0 525.2 405.0 595.9 405.0 595.9 386.0 526.0 367.0 506.2z"/>
<path fill="#859d87" d="M367.0 506.2 386.0 522.9 405.0 595.9 405.0 595.9 386.0 525.2 367.0 506.2z"/>
<path fill="#aca09a" d="M367.0 506.2 386.0 521.7 405.0 595.9 405.0 595.9 386.0 522.9 367.0 506.2z"/>
<path fill="#968c8e" d="M367.0 506.2 386.0 519.3 405.0 595.9 405.0 595.9 386.0 521.7 367.0 506.2z"/>
<path fill="#ab9fad" d="M367.0 506.2 386.0 515.4 405.0 595.9 405.0 595.9 386.0 519.3 367.0 506.2z"/>
<path fill="#9092a6" d="M367.0 506.2 386.0 514.7 405.0 595.9 405.0 595.9 386.0 515.4 367.0 506.2z"/>
<path fill="#95aca9" d="M367.0 506.2 386.0 513.7 405.0 595.9 405.0 595.9 386.0 514.7 367.0 506.2z"/>
<path fill="#a3aba3" d="M367.0 506.2 386.0 512.7 405.0 595.9 405.0 595.9 386.0 513.7 367.0 506.2z"/>
<path fill="#a4aab0" d="M367.0 506.2 386.0 511.9 405.0 595.9 405.0 595.9 386.0 512.7 367.0 506.2z"/>
<path fill="#a895ac" d="M367.0 506.2 386.0 511.1 405.0 595.9 405.0 595.9 386.0 511.9 367.0 506.2z"/>
<path fill="#a0a8ae" d="M367.0 506.2 386.0 509.8 405.0 595.9 405.0 595.9 386.0 511.1 367.0 506.2z"/>
<path fill="#a348a0" d="M386.0 509.8 405.0 593.8 424.0 587.2 424.0 588.6 405.0 595.9 386.0 509.8z"/>
<path fill="#b5ac53" d="M386.0 509.8 405.0 593.2 424.0 586.3 424.0 587.2 405.0 593.8 386.0 509.8z"/>
<path fill="#a0824e" d="M386.0 509.8 405.0 592.7 424.0 585.6 424.0 586.3 405.0 593.2 386.0 509.8z"/>
<path fill="#727ec4" d="M386.0 509.8 405.0 592.1 424.0 584.4 424.0 585.6 405.0 592.7 386.0 509.8z"/>
<path fill="#4e35da" d="M386.0 509.8 405.0 590.0 424.0 581.7 424.0 584.4 405.0 592.1 386.0 509.8z"/>
<path fill="#536eb6" d="M386.0 509.8 405.0 589.8 424.0 581.3 424.0 581.7 405.0 590.0 386.0 509.8z"/>
<path fill="#2a2aa8" d="M386.0 509.8 405.0 577.7 424.0 574.1 424.0 581.3 405.0 589.8 386.0 509.8z"/>
<path fill="#c02a9a" d="M386.0 509.8 405.0 569.2 424.0 570.4 424.0 574.1 405.0 577.7 386.0 509.8z"/>
<path fill="#8a2aa8" d="M386.0 509.8 405.0 565.6 424.0 568.0 424.0 570.4 405.0 569.2 386.0 509.8z"/>
<path fill="#abada6" d="M386.0 509.8 405.0 564.8 424.0 567.6 424.0 568.0 405.0 565.6 386.0 509.8z"/>
<path fill="#a0989e" d="M386.0 509.8 405.0 564.0 424.0 566.3 424.0 567.6 405.0 564.8 386.0 509.8z"/>
<path fill="#90998f" d="M386.0 509.8 405.0 563.1 424.0 565.4 424.0 566.3 405.0 564.0 386.0 509.8z"/>
<path fill="#98ac99" d="M386.0 509.8 405.0 562.5 424.0 564.9 424.0 565.4 405.0 563.1 386.0 509.8z"/>
<path fill="#93a3a4" d="M386.0 509.8 405.0 560.6 424.0 563.8 424.0 564.9 405.0 562.5 386.0 509.8z"/>
<path fill="#9b9496" d="M386.0 509.8 405.0 559.3 424.0 562.6 424.0 563.8 405.0 560.6 386.0 509.8z"/>
<path fill="#8f89a1" d="M386.0 509.8 405.0 553.4 424.0 560.8 424.0 562.6 405.0 559.3 386.0 509.8z"/>
<path fill="#9b9199" d="M386.0 509.8 405.0 547.1 424.0 558.7 424.0 560.8 405.0 553.4 386.0 509.8z"/>
<path fill="#97a0aa" d="M386.0 509.8 405.0 544.8 424.0 558.1 424.0 558.7 405.0 547.1 386.0 509.8z"/>
<path fill="#628f5b" d="M386.0 509.8 405.0 539.5 424.0 553.6 424.0 558.1 405.0 544.8 386.0 509.8z"/>
<path fill="#a5a09c" d="M386.0 509.8 405.0 535.8 424.0 552.7 424.0 553.6 405.0 539.5 386.0 509.8z"/>
<path fill="#a9aba4" d="M386.0 509.8 405.0 534.3 424.0 552.4 424.0 552.7 405.0 535.8 386.0 509.8z"/>
<path fill="#9b888b" d="M386.0 509.8 405.0 532.8 424.0 549.3 424.0 552.4 405.0 534.3 386.0 509.8z"/>
<path fill="#6d9261" d="M386.0 509.8 405.0 532.0 424.0 548.8 424.0 549.3 405.0 532.8 386.0 509.8z"/>
<path fill="#aaa261" d="M386.0 509.8 405.0 529.2 424.0 547.4 424.0 548.8 405.0 532.0 386.0 509.8z"/>
<path fill="#6e599b" d="M386.0 509.8 405.0 527.6 424.0 546.7 424.0 547.4 405.0 529.2 386.0 509.8z"/>
<path fill="#98a89f" d="M386.0 509.8 405.0 525.8 424.0 545.2 424.0 546.7 405.0 527.6 386.0 509.8z"/>
<path fill="#726fba" d="M386.0 509.8 405.0 523.3 424.0 544.6 424.0 545.2 405.0 525.8 386.0 509.8z"/>
<path fill="#94989c" d="M386.0 509.8 405.0 521.5 424.0 544.1 424.0 544.6 405.0 523.3 386.0 509.8z"/>
<path fill="#7cb2bd" d="M386.0 509.8 405.0 514.7 424.0 539.1 424.0 544.1 405.0 521.5 386.0 509.8z"/>
<path fill="#9c97a3" d="M386.0 509.8 405.0 514.2 424.0 538.8 424.0 539.1 405.0 514.7 386.0 509.8z"/>
<path fill="#9a8e91" d="M386.0 509.8 405.0 510.3 424.0 537.2 424.0 538.8 405.0 514.2 386.0 509.8z"/>
<path fill="#abad9a" d="M386.0 509.8 405.0 509.3 424.0 536.9 424.0 537.2 405.0 510.3 386.0 509.8z"/>
<path fill="#524fa6" d="M386.0 509.8 405.0 507.5 424.0 535.8 424.0 536.9 405.0 509.3 386.0 509.8z"/>
<path fill="#9d8da0" d="M386.0 509.8 405.0 506.2 424.0 534.1 424.0 535.8 405.0 507.5 386.0 509.8z"/>
<path fill="#969890" d="M405.0 506.2 424.0 531.8 424.0 534.1 405.0 506.2z"/>
<path fill="#9b8f8a" d="M405.0 506.2 424.0 530.9 424.0 531.8 405.0 506.2z"/>
<path fill="#a5a29f" d="M405.0 506.2 424.0 527.9 424.0 530.9 405.0 506.2z"/>
<path fill="#92a99c" d="M405.0 506.2 424.0 525.6 424.0 527.9 405.0 506.2z"/>
<path fill="#a4817b" d="M405.0 506.2 424.0 524.2 424.0 525.6 405.0 506.2z"/>
<path fill="#747bbd" d="M405.0 506.2 424.0 523.2 424.0 524.2 405.0 506.2z"/>
<path fill="#a88e92" d="M405.0 506.2 424.0 521.5 424.0 523.2 405.0 506.2z"/>
<path fill="#7ca374" d="M405.0 506.2 424.0 520.5 424.0 521.5 405.0 506.2z"/>
<path fill="#af9ba9" d="M405.0 506.2 424.0 519.7 424.0 520.5 405.0 506.2z"/>
<path fill="#98a291" d="M405.0 506.2 424.0 517.9 424.0 519.7 405.0 506.2z"/>
<path fill="#79aa78" d="M405.0 506.2 424.0 516.8 424.0 517.9 405.0 506.2z"/>
<path fill="#ad9c96" d="M405.0 506.2 424.0 513.7 424.0 516.8 405.0 506.2z"/>
<path fill="#93859d" d="M405.0 506.2 424.0 513.1 424.0 513.7 405.0 506.2z"/>
<path fill="#9b93a1" d="M405.0 506.2 424.0 512.3 424.0 513.1 405.0 506.2z"/>
<path fill="#a695a2" d="M405.0 506.2 424.0 506.2 424.0 512.3 405.0 506.2z"/>
<line x1="366.5" y1="506.2" x2="366.5" y2="628" stroke="#161616" stroke-width="0.9" />
<line x1="363.2" y1="627.4" x2="366.5" y2="627.4" stroke="#161616" stroke-width="0.9" />
<text x="360.8" y="630.03" font-size="7.6" text-anchor="end" fill="#161616" stroke="#161616" stroke-width="0.18" >0</text>
<line x1="363.2" y1="597.1" x2="366.5" y2="597.1" stroke="#161616" stroke-width="0.9" />
<text x="360.8" y="599.73" font-size="7.6" text-anchor="end" fill="#161616" stroke="#161616" stroke-width="0.18" >25</text>
<line x1="363.2" y1="566.8" x2="366.5" y2="566.8" stroke="#161616" stroke-width="0.9" />
<text x="360.8" y="569.43" font-size="7.6" text-anchor="end" fill="#161616" stroke="#161616" stroke-width="0.18" >50</text>
<line x1="363.2" y1="536.5" x2="366.5" y2="536.5" stroke="#161616" stroke-width="0.9" />
<text x="360.8" y="539.13" font-size="7.6" text-anchor="end" fill="#161616" stroke="#161616" stroke-width="0.18" >75</text>
<line x1="363.2" y1="506.2" x2="366.5" y2="506.2" stroke="#161616" stroke-width="0.9" />
<text x="360.8" y="508.83" font-size="7.6" text-anchor="end" fill="#161616" stroke="#161616" stroke-width="0.18" >100</text>
<line x1="366.5" y1="628" x2="424" y2="628" stroke="#161616" stroke-width="1" />
<line x1="372.7" y1="628" x2="372.7" y2="630.5" stroke="#161616" stroke-width="0.8" />
<text x="374.7" y="638.50" font-size="7.8" text-anchor="end" fill="#161616" stroke="#161616" stroke-width="0.18" transform="rotate(-45 374.7 635.8)">56</text>
<line x1="389.8" y1="628" x2="389.8" y2="630.5" stroke="#161616" stroke-width="0.8" />
<text x="391.8" y="638.50" font-size="7.8" text-anchor="end" fill="#161616" stroke="#161616" stroke-width="0.18" transform="rotate(-45 391.8 635.8)">112</text>
<line x1="406.8" y1="628" x2="406.8" y2="630.5" stroke="#161616" stroke-width="0.8" />
<text x="408.8" y="638.50" font-size="7.8" text-anchor="end" fill="#161616" stroke="#161616" stroke-width="0.18" transform="rotate(-45 408.8 635.8)">573</text>
<line x1="423.2" y1="628" x2="423.2" y2="630.5" stroke="#161616" stroke-width="0.8" />
<text x="425.2" y="638.50" font-size="7.8" text-anchor="end" fill="#161616" stroke="#161616" stroke-width="0.18" transform="rotate(-45 425.2 635.8)">771</text>
<rect x="372.7" y="510.8" width="44.6" height="14" fill="#e0e0e0" opacity="0.86"/>
<text x="395" y="521.05" font-size="8.8" text-anchor="middle" fill="#161616" stroke="#161616" stroke-width="0.18" textLength="26" lengthAdjust="spacingAndGlyphs" >WBCs</text>
<rect x="452.6" y="506.2" width="57.0" height="121.19999999999999" fill="#8d8d8d" />
<path fill="#d43050" d="M452.6 626.8 466.9 625.0 481.0 625.0 495.2 625.6 509.6 625.6 509.6 627.4 495.2 627.4 481.0 627.4 466.9 627.4 452.6 627.4z"/>
<path fill="#a8dcc4" d="M452.6 608.6 466.9 625.0 466.9 625.0 452.6 626.8z"/>
<path fill="#54b444" d="M452.6 595.3 466.9 624.6 481.0 625.0 481.0 625.0 466.9 625.0 452.6 608.6z"/>
<path fill="#755fa6" d="M452.6 594.9 466.9 623.8 481.0 624.3 495.2 625.0 509.6 625.6 509.6 625.6 495.2 625.6 481.0 625.0 466.9 624.6 452.6 595.3z"/>
<path fill="#8ea672" d="M452.6 594.0 466.9 621.7 481.0 622.0 495.2 622.9 509.6 625.6 509.6 625.6 495.2 625.0 481.0 624.3 466.9 623.8 452.6 594.9z"/>
<path fill="#6e9a62" d="M452.6 593.8 466.9 620.3 481.0 621.0 495.2 622.9 495.2 622.9 481.0 622.0 466.9 621.7 452.6 594.0z"/>
<path fill="#6d5597" d="M452.6 593.6 466.9 619.3 481.0 620.2 495.2 622.1 509.6 625.6 509.6 625.6 495.2 622.9 481.0 621.0 466.9 620.3 452.6 593.8z"/>
<path fill="#b17e3c" d="M452.6 593.5 466.9 618.0 481.0 619.6 495.2 622.1 495.2 622.1 481.0 620.2 466.9 619.3 452.6 593.6z"/>
<path fill="#836cb8" d="M452.6 593.3 466.9 617.3 481.0 619.0 495.2 621.9 509.6 625.6 509.6 625.6 495.2 622.1 481.0 619.6 466.9 618.0 452.6 593.5z"/>
<path fill="#3fc868" d="M452.6 592.9 466.9 615.3 481.0 618.0 495.2 621.9 495.2 621.9 481.0 619.0 466.9 617.3 452.6 593.3z"/>
<path fill="#9c624f" d="M452.6 592.9 466.9 614.3 481.0 617.2 495.2 621.9 495.2 621.9 481.0 618.0 466.9 615.3 452.6 592.9z"/>
<path fill="#99af60" d="M452.6 592.9 466.9 612.2 481.0 614.1 495.2 617.2 509.6 625.6 509.6 625.6 495.2 621.9 481.0 617.2 466.9 614.3 452.6 592.9z"/>
<path fill="#b8598e" d="M452.6 592.9 466.9 611.1 481.0 613.4 495.2 617.2 495.2 617.2 481.0 614.1 466.9 612.2 452.6 592.9z"/>
<path fill="#737dab" d="M452.6 592.9 466.9 610.6 481.0 612.9 495.2 616.8 509.6 625.6 509.6 625.6 495.2 617.2 481.0 613.4 466.9 611.1 452.6 592.9z"/>
<path fill="#c66499" d="M452.6 592.9 466.9 609.3 481.0 611.9 495.2 615.5 509.6 625.6 509.6 625.6 495.2 616.8 481.0 612.9 466.9 610.6 452.6 592.9z"/>
<path fill="#40b870" d="M452.6 592.9 466.9 607.6 481.0 610.4 495.2 614.4 509.6 617.5 509.6 625.6 495.2 615.5 481.0 611.9 466.9 609.3 452.6 592.9z"/>
<path fill="#cb60af" d="M481.0 610.4 495.2 613.5 509.6 607.4 509.6 617.5 495.2 614.4 481.0 610.4z"/>
<path fill="#5868c0" d="M452.6 592.3 466.9 595.5 481.0 599.5 495.2 612.9 509.6 605.0 509.6 607.4 495.2 613.5 481.0 610.4 466.9 607.6 452.6 592.9z"/>
<path fill="#f8d8c0" d="M452.6 591.9 466.9 587.0 481.0 591.0 495.2 612.5 509.6 603.8 509.6 605.0 495.2 612.9 481.0 599.5 466.9 595.5 452.6 592.3z"/>
<path fill="#c03898" d="M452.6 591.3 466.9 575.5 481.0 581.3 495.2 611.9 509.6 601.3 509.6 603.8 495.2 612.5 481.0 591.0 466.9 587.0 452.6 591.9z"/>
<path fill="#2a9868" d="M452.6 590.7 466.9 564.0 481.0 570.4 495.2 611.3 509.6 598.9 509.6 601.3 495.2 611.9 481.0 581.3 466.9 575.5 452.6 591.3z"/>
<path fill="#314b27" d="M452.6 583.3 466.9 560.7 481.0 570.4 481.0 570.4 466.9 564.0 452.6 590.7z"/>
<path fill="#31a8a7" d="M452.6 576.0 466.9 558.3 481.0 569.2 495.2 611.3 495.2 611.3 481.0 570.4 466.9 560.7 452.6 583.3z"/>
<path fill="#7b89af" d="M452.6 573.9 466.9 557.1 481.0 568.3 495.2 611.2 509.6 598.9 509.6 598.9 495.2 611.3 481.0 569.2 466.9 558.3 452.6 576.0z"/>
<path fill="#384072" d="M452.6 566.5 466.9 554.2 481.0 563.6 495.2 610.9 509.6 598.9 509.6 598.9 495.2 611.2 481.0 568.3 466.9 557.1 452.6 573.9z"/>
<path fill="#b2736c" d="M452.6 561.8 466.9 552.7 481.0 563.6 481.0 563.6 466.9 554.2 452.6 566.5z"/>
<path fill="#30216b" d="M452.6 558.1 466.9 551.9 481.0 562.8 495.2 610.8 509.6 596.6 509.6 598.9 495.2 610.9 481.0 563.6 466.9 552.7 452.6 561.8z"/>
<path fill="#1c316e" d="M452.6 554.3 466.9 550.5 481.0 561.7 495.2 610.8 509.6 594.6 509.6 596.6 495.2 610.8 481.0 562.8 466.9 551.9 452.6 558.1z"/>
<path fill="#aa6954" d="M452.6 554.3 466.9 546.9 481.0 557.3 495.2 610.5 509.6 589.6 509.6 594.6 495.2 610.8 481.0 561.7 466.9 550.5 452.6 554.3z"/>
<path fill="#8061a0" d="M452.6 554.3 466.9 545.9 481.0 555.7 495.2 610.4 509.6 585.1 509.6 589.6 495.2 610.5 481.0 557.3 466.9 546.9 452.6 554.3z"/>
<path fill="#81a463" d="M452.6 554.3 466.9 545.1 481.0 553.3 495.2 610.3 509.6 585.1 509.6 585.1 495.2 610.4 481.0 555.7 466.9 545.9 452.6 554.3z"/>
<path fill="#2a7533" d="M452.6 554.3 466.9 544.0 481.0 552.5 495.2 610.0 509.6 583.5 509.6 585.1 495.2 610.3 481.0 553.3 466.9 545.1 452.6 554.3z"/>
<path fill="#5f8ca2" d="M452.6 554.3 466.9 543.1 481.0 550.8 495.2 610.0 495.2 610.0 481.0 552.5 466.9 544.0 452.6 554.3z"/>
<path fill="#759f99" d="M452.6 554.3 466.9 542.2 481.0 549.8 495.2 610.0 509.6 583.5 509.6 583.5 495.2 610.0 481.0 550.8 466.9 543.1 452.6 554.3z"/>
<path fill="#3a3564" d="M452.6 554.3 466.9 536.0 481.0 545.5 495.2 609.4 509.6 583.5 509.6 583.5 495.2 610.0 481.0 549.8 466.9 542.2 452.6 554.3z"/>
<path fill="#583d20" d="M452.6 554.3 466.9 534.6 481.0 544.1 495.2 609.3 509.6 580.3 509.6 583.5 495.2 609.4 481.0 545.5 466.9 536.0 452.6 554.3z"/>
<path fill="#308248" d="M452.6 554.3 466.9 532.4 481.0 543.0 495.2 609.3 495.2 609.3 481.0 544.1 466.9 534.6 452.6 554.3z"/>
<path fill="#b654af" d="M452.6 554.3 466.9 529.8 481.0 540.9 495.2 609.1 509.6 580.3 509.6 580.3 495.2 609.3 481.0 543.0 466.9 532.4 452.6 554.3z"/>
<path fill="#5a6328" d="M452.6 554.3 466.9 527.7 481.0 536.3 495.2 609.1 495.2 609.1 481.0 540.9 466.9 529.8 452.6 554.3z"/>
<path fill="#6275a5" d="M466.9 527.7 481.0 535.4 495.2 608.9 509.6 580.3 509.6 580.3 495.2 609.1 481.0 536.3 466.9 527.7z"/>
<path fill="#6c3c25" d="M466.9 527.7 481.0 534.1 495.2 608.7 509.6 576.5 509.6 580.3 495.2 608.9 481.0 535.4 466.9 527.7z"/>
<path fill="#7c7f28" d="M481.0 534.1 495.2 608.3 509.6 570.7 509.6 576.5 495.2 608.7 481.0 534.1z"/>
<path fill="#a86d5d" d="M481.0 534.1 495.2 607.6 509.6 568.6 509.6 570.7 495.2 608.3 481.0 534.1z"/>
<path fill="#a6adaa" d="M481.0 534.1 495.2 600.5 509.6 568.6 509.6 568.6 495.2 607.6 481.0 534.1z"/>
<path fill="#96a196" d="M481.0 534.1 495.2 594.1 509.6 568.6 509.6 568.6 495.2 600.5 481.0 534.1z"/>
<path fill="#93a29c" d="M481.0 534.1 495.2 592.6 509.6 568.6 509.6 568.6 495.2 594.1 481.0 534.1z"/>
<path fill="#9a8c89" d="M481.0 534.1 495.2 590.4 509.6 568.6 509.6 568.6 495.2 592.6 481.0 534.1z"/>
<path fill="#a6a1ab" d="M481.0 534.1 495.2 585.7 509.6 568.6 509.6 568.6 495.2 590.4 481.0 534.1z"/>
<path fill="#5d45a9" d="M481.0 534.1 495.2 584.8 509.6 568.6 509.6 568.6 495.2 585.7 481.0 534.1z"/>
<path fill="#b56fb5" d="M481.0 534.1 495.2 580.9 509.6 568.6 509.6 568.6 495.2 584.8 481.0 534.1z"/>
<path fill="#a79ba1" d="M481.0 534.1 495.2 573.7 509.6 568.6 509.6 568.6 495.2 580.9 481.0 534.1z"/>
<path fill="#f8c07c" d="M452.6 554.0 466.9 527.0 481.0 532.9 495.2 537.3 509.6 565.0 509.6 568.6 495.2 573.7 481.0 534.1 466.9 527.7 452.6 554.3z"/>
<path fill="#2a2a70" d="M452.6 553.6 466.9 525.8 481.0 529.2 495.2 527.7 509.6 562.6 509.6 565.0 495.2 537.3 481.0 532.9 466.9 527.0 452.6 554.0z"/>
<path fill="#6dae81" d="M452.6 547.5 466.9 525.8 466.9 525.8 452.6 553.6z"/>
<path fill="#b458ae" d="M452.6 546.5 466.9 525.8 466.9 525.8 452.6 547.5z"/>
<path fill="#44b635" d="M452.6 542.5 466.9 525.8 466.9 525.8 452.6 546.5z"/>
<path fill="#56ae21" d="M452.6 540.3 466.9 525.8 466.9 525.8 452.6 542.5z"/>
<path fill="#a15d99" d="M452.6 536.7 466.9 525.8 466.9 525.8 452.6 540.3z"/>
<path fill="#6d3cd9" d="M452.6 533.7 466.9 525.8 466.9 525.8 452.6 536.7z"/>
<path fill="#c456a3" d="M452.6 530.9 466.9 525.8 466.9 525.8 452.6 533.7z"/>
<path fill="#7aacb6" d="M452.6 527.8 466.9 525.8 466.9 525.8 452.6 530.9z"/>
<path fill="#6065aa" d="M452.6 523.7 466.9 525.8 466.9 525.8 452.6 527.8z"/>
<path fill="#59489d" d="M452.6 521.0 466.9 525.8 466.9 525.8 452.6 523.7z"/>
<path fill="#a4441a" d="M452.6 518.1 466.9 525.8 466.9 525.8 452.6 521.0z"/>
<path fill="#9d5347" d="M452.6 517.2 466.9 525.8 466.9 525.8 452.6 518.1z"/>
<path fill="#2f21a0" d="M452.6 517.2 466.9 522.9 481.0 529.2 481.0 529.2 466.9 525.8 452.6 517.2z"/>
<path fill="#b0a3b0" d="M452.6 517.2 466.9 519.5 481.0 523.7 495.2 527.7 495.2 527.7 481.0 529.2 466.9 522.9 452.6 517.2z"/>
<path fill="#979da8" d="M452.6 517.2 466.9 512.7 481.0 520.6 495.2 525.1 509.6 562.6 509.6 562.6 495.2 527.7 481.0 523.7 466.9 519.5 452.6 517.2z"/>
<path fill="#6259a2" d="M452.6 517.2 466.9 512.1 481.0 520.6 481.0 520.6 466.9 512.7 452.6 517.2z"/>
<path fill="#a0908b" d="M452.6 517.2 466.9 510.1 481.0 519.6 495.2 524.7 509.6 562.6 509.6 562.6 495.2 525.1 481.0 520.6 466.9 512.1 452.6 517.2z"/>
<path fill="#78c39c" d="M466.9 510.1 481.0 516.6 495.2 523.6 509.6 562.6 509.6 562.6 495.2 524.7 481.0 519.6 466.9 510.1z"/>
<path fill="#78a42f" d="M466.9 510.1 481.0 513.2 495.2 521.5 509.6 557.7 509.6 562.6 495.2 523.6 481.0 516.6 466.9 510.1z"/>
<path fill="#8c5a6f" d="M466.9 510.1 481.0 510.7 495.2 518.5 509.6 557.7 509.6 557.7 495.2 521.5 481.0 513.2 466.9 510.1z"/>
<path fill="#95567e" d="M466.9 510.1 481.0 508.6 495.2 517.8 509.6 551.2 509.6 557.7 495.2 518.5 481.0 510.7 466.9 510.1z"/>
<path fill="#2ab0c1" d="M481.0 508.6 495.2 516.8 509.6 551.2 509.6 551.2 495.2 517.8 481.0 508.6z"/>
<path fill="#a6aca3" d="M481.0 508.6 495.2 515.5 509.6 545.7 509.6 551.2 495.2 516.8 481.0 508.6z"/>
<path fill="#82679d" d="M495.2 515.5 509.6 526.9 509.6 545.7 495.2 515.5z"/>
<path fill="#2e5faa" d="M495.2 515.5 509.6 519.3 509.6 526.9 495.2 515.5z"/>
<path fill="#b056c4" d="M495.2 515.5 509.6 514.1 509.6 519.3 495.2 515.5z"/>
<path fill="#c860a8" d="M452.6 508.7 466.9 510.1 466.9 510.1 452.6 517.2z"/>
<line x1="452.6" y1="506.2" x2="452.6" y2="628" stroke="#161616" stroke-width="0.9" />
<line x1="449.5" y1="627.4" x2="452.6" y2="627.4" stroke="#161616" stroke-width="0.9" />
<text x="447" y="630.03" font-size="7.6" text-anchor="end" fill="#161616" stroke="#161616" stroke-width="0.18" >0</text>
<line x1="449.5" y1="597.1" x2="452.6" y2="597.1" stroke="#161616" stroke-width="0.9" />
<text x="447" y="599.73" font-size="7.6" text-anchor="end" fill="#161616" stroke="#161616" stroke-width="0.18" >25</text>
<line x1="449.5" y1="566.8" x2="452.6" y2="566.8" stroke="#161616" stroke-width="0.9" />
<text x="447" y="569.43" font-size="7.6" text-anchor="end" fill="#161616" stroke="#161616" stroke-width="0.18" >50</text>
<line x1="449.5" y1="536.5" x2="452.6" y2="536.5" stroke="#161616" stroke-width="0.9" />
<text x="447" y="539.13" font-size="7.6" text-anchor="end" fill="#161616" stroke="#161616" stroke-width="0.18" >75</text>
<line x1="449.5" y1="506.2" x2="452.6" y2="506.2" stroke="#161616" stroke-width="0.9" />
<text x="447" y="508.83" font-size="7.6" text-anchor="end" fill="#161616" stroke="#161616" stroke-width="0.18" >100</text>
<line x1="452.6" y1="628" x2="509.6" y2="628" stroke="#161616" stroke-width="1" />
<line x1="452.6" y1="628" x2="452.6" y2="630.5" stroke="#161616" stroke-width="0.8" />
<text x="454.6" y="638.50" font-size="7.8" text-anchor="end" fill="#161616" stroke="#161616" stroke-width="0.18" transform="rotate(-45 454.6 635.8)">194</text>
<line x1="466.9" y1="628" x2="466.9" y2="630.5" stroke="#161616" stroke-width="0.8" />
<text x="468.9" y="638.50" font-size="7.8" text-anchor="end" fill="#161616" stroke="#161616" stroke-width="0.18" transform="rotate(-45 468.9 635.8)">278</text>
<line x1="481" y1="628" x2="481" y2="630.5" stroke="#161616" stroke-width="0.8" />
<text x="483.0" y="638.50" font-size="7.8" text-anchor="end" fill="#161616" stroke="#161616" stroke-width="0.18" transform="rotate(-45 483.0 635.8)">369</text>
<line x1="495.2" y1="628" x2="495.2" y2="630.5" stroke="#161616" stroke-width="0.8" />
<text x="497.2" y="638.50" font-size="7.8" text-anchor="end" fill="#161616" stroke="#161616" stroke-width="0.18" transform="rotate(-45 497.2 635.8)">573</text>
<line x1="509.6" y1="628" x2="509.6" y2="630.5" stroke="#161616" stroke-width="0.8" />
<text x="511.6" y="638.50" font-size="7.8" text-anchor="end" fill="#161616" stroke="#161616" stroke-width="0.18" transform="rotate(-45 511.6 635.8)">1485</text>
<rect x="457.8" y="509.4" width="45.1" height="15.6" fill="#e0e0e0" opacity="0.86"/>
<text x="480.3" y="520.55" font-size="8.8" text-anchor="middle" fill="#161616" stroke="#161616" stroke-width="0.18" textLength="27" lengthAdjust="spacingAndGlyphs" >CD34<tspan baseline-shift="2.75" font-size="6.00">+</tspan></text>
<rect x="0.5" y="0.5" width="519" height="656" fill="none" stroke="#4a4a4a" stroke-width="1.1"/></svg>
</body></html>
